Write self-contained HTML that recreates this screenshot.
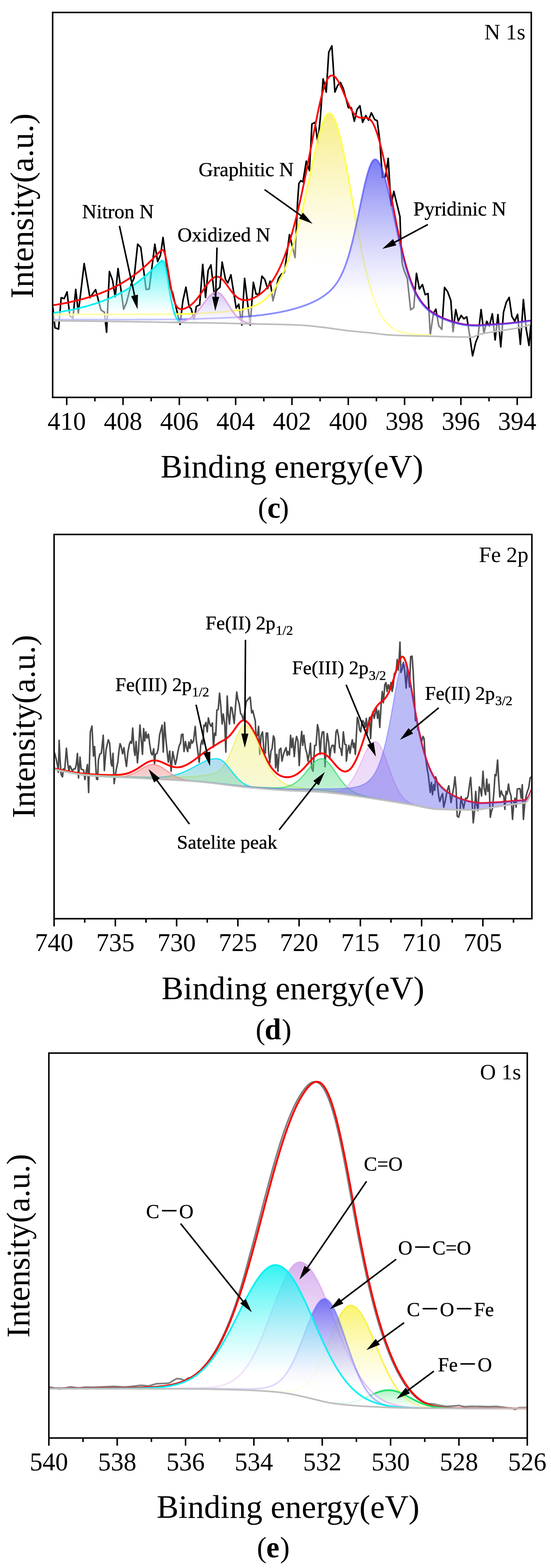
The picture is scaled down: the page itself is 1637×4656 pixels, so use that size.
<!DOCTYPE html><html><head><meta charset="utf-8"><style>html,body{margin:0;padding:0;background:#fff;}svg{display:block;}</style></head><body><svg width="1637" height="4656" viewBox="0 0 1637 4656" font-family="'Liberation Serif', 'Noto Sans CJK SC', serif">
<rect width="1637" height="4656" fill="#fff"/>
<clipPath id="clipc"><rect x="156.4" y="37" width="1422.0" height="1143"/></clipPath>
<g clip-path="url(#clipc)">
<path d="M157.3,913.3 L163.3,973.3 L174.0,977.3 L181.7,884.0 L190.7,886.7 L199.3,866.7 L207.3,937.3 L216.7,945.0 L225.0,859.3 L232.7,929.3 L250.0,782.7 L267.3,884.0 L284.0,860.0 L300.0,920.7 L310.0,926.7 L316.7,986.7 L325.0,806.0 L334.3,831.7 L342.3,881.7 L350.7,797.3 L367.3,918.3 L376.0,898.0 L390.0,843.0 L398.3,826.0 L409.0,725.0 L418.3,735.0 L434.0,859.3 L443.3,858.3 L460.0,725.0 L468.3,776.7 L476.7,758.3 L484.3,705.0 L493.0,775.0 L505.0,850.0 L513.0,870.0 L520.0,900.0 L535.0,963.3 L543.3,893.3 L552.3,852.7 L561.7,910.0 L568.0,917.0 L576.7,950.0 L583.3,910.0 L593.3,905.0 L602.3,785.0 L610.7,883.3 L618.3,803.3 L626.7,786.7 L636.7,875.0 L645.0,860.0 L653.3,853.3 L660.0,778.3 L670.0,830.0 L677.0,840.0 L686.0,816.0 L701.7,915.0 L709.3,903.3 L718.3,965.0 L726.7,826.7 L743.3,965.0 L752.7,838.3 L760.7,873.3 L770.0,873.3 L778.3,820.0 L786.7,830.0 L795.0,856.7 L802.7,835.0 L811.0,893.3 L827.3,826.7 L836.7,813.3 L845.0,810.0 L860.0,696.7 L876.7,765.0 L884.0,600.0 L888.0,545.0 L893.3,536.7 L900.0,540.0 L910.0,478.3 L919.3,506.7 L926.7,368.3 L936.0,363.3 L944.0,423.3 L951.7,350.0 L960.0,234.0 L969.3,273.3 L976.7,155.0 L986.0,136.0 L995.0,273.3 L1003.3,253.3 L1011.7,245.0 L1020.0,263.3 L1035.0,320.0 L1044.0,320.0 L1052.7,360.0 L1060.7,325.0 L1069.3,314.0 L1077.3,363.3 L1086.7,343.3 L1095.0,356.7 L1103.3,335.0 L1113.3,355.0 L1120.7,358.3 L1128.3,416.7 L1136.0,526.7 L1145.0,525.0 L1153.3,470.0 L1161.7,610.0 L1170.0,568.3 L1188.3,643.3 L1191.7,740.0 L1195.0,783.3 L1201.7,806.7 L1210.0,826.7 L1220.0,920.0 L1229.3,913.3 L1237.3,811.7 L1246.0,858.3 L1255.0,845.0 L1263.3,875.0 L1271.7,871.7 L1278.3,995.0 L1287.7,930.0 L1295.0,918.3 L1303.3,966.7 L1312.7,978.3 L1320.7,853.3 L1330.0,866.7 L1339.3,891.7 L1346.0,985.0 L1354.0,919.3 L1361.7,953.3 L1370.0,936.7 L1378.3,946.7 L1386.7,940.7 L1396.0,1000.0 L1404.0,1056.7 L1413.3,1016.7 L1420.0,1000.0 L1429.3,919.3 L1437.7,990.0 L1446.0,954.0 L1454.0,968.3 L1462.7,931.7 L1471.0,1009.3 L1479.3,934.0 L1487.7,1030.0 L1496.0,926.7 L1504.0,898.3 L1512.7,883.3 L1520.7,939.3 L1529.3,954.0 L1537.7,933.3 L1546.0,1022.7 L1555.0,889.3 L1563.3,976.7 L1571.7,1026.0 L1578.0,953.3" stroke="#000" stroke-width="4.7" fill="none" stroke-linejoin="round"/>
<defs><linearGradient id="gc0" gradientUnits="userSpaceOnUse" x1="0" y1="336.5" x2="0" y2="974.4"><stop offset="0" stop-color="#f4e860" stop-opacity="0.75"/><stop offset="0.7" stop-color="#ffffff" stop-opacity="0.5"/><stop offset="1" stop-color="#ffffff" stop-opacity="0.5"/></linearGradient><linearGradient id="gc1" gradientUnits="userSpaceOnUse" x1="0" y1="473.2" x2="0" y2="990.2"><stop offset="0" stop-color="#5050f0" stop-opacity="0.75"/><stop offset="0.8" stop-color="#ffffff" stop-opacity="0.5"/><stop offset="1" stop-color="#ffffff" stop-opacity="0.5"/></linearGradient><linearGradient id="gc2" gradientUnits="userSpaceOnUse" x1="0" y1="773.9" x2="0" y2="956.9"><stop offset="0" stop-color="#00f0f0" stop-opacity="0.75"/><stop offset="0.85" stop-color="#ffffff" stop-opacity="0.5"/><stop offset="1" stop-color="#ffffff" stop-opacity="0.5"/></linearGradient><linearGradient id="gc3" gradientUnits="userSpaceOnUse" x1="0" y1="868.0" x2="0" y2="959.4"><stop offset="0" stop-color="#b8a0f0" stop-opacity="0.6"/><stop offset="1.0" stop-color="#ffffff" stop-opacity="0.5"/><stop offset="1" stop-color="#ffffff" stop-opacity="0.5"/></linearGradient></defs>
<defs><linearGradient id="egc" gradientUnits="userSpaceOnUse" x1="1195" y1="0" x2="1250" y2="0"><stop offset="0" stop-color="#ff0000"/><stop offset="1" stop-color="#a0109a"/></linearGradient></defs>
<path d="M157.4,906.4 L159.4,906.1 L161.4,905.8 L163.4,905.5 L165.4,905.1 L167.4,904.8 L169.4,904.5 L171.4,904.1 L173.4,903.8 L175.4,903.4 L177.4,903.1 L179.4,902.7 L181.4,902.3 L183.4,902.0 L185.4,901.6 L187.4,901.2 L189.4,900.9 L191.4,900.5 L193.4,900.1 L195.4,899.7 L197.4,899.3 L199.4,898.9 L201.4,898.5 L203.4,898.0 L205.4,897.6 L207.4,897.2 L209.4,896.8 L211.4,896.3 L213.4,895.9 L215.4,895.4 L217.4,895.0 L219.4,894.5 L221.4,894.1 L223.4,893.6 L225.4,893.1 L227.4,892.6 L229.4,892.1 L231.4,891.6 L233.4,891.1 L235.4,890.6 L237.4,890.1 L239.4,889.6 L241.4,889.1 L243.4,888.5 L245.4,888.0 L247.4,887.4 L249.4,886.9 L251.4,886.3 L253.4,885.8 L255.4,885.2 L257.4,884.6 L259.4,884.0 L261.4,883.4 L263.4,882.8 L265.4,882.2 L267.4,881.5 L269.4,880.9 L271.4,880.3 L273.4,879.6 L275.4,879.0 L277.4,878.3 L279.4,877.6 L281.4,876.9 L283.4,876.3 L285.4,875.6 L287.4,874.8 L289.4,874.1 L291.4,873.4 L293.4,872.7 L295.4,871.9 L297.4,871.1 L299.4,870.4 L301.4,869.6 L303.4,868.8 L305.4,868.0 L307.4,867.2 L309.4,866.4 L311.4,865.6 L313.4,864.7 L315.4,863.9 L317.4,863.0 L319.4,862.1 L321.4,861.3 L323.4,860.4 L325.4,859.5 L327.4,858.5 L329.4,857.6 L331.4,856.7 L333.4,855.7 L335.4,854.7 L337.4,853.8 L339.4,852.8 L341.4,851.8 L343.4,850.7 L345.4,849.7 L347.4,848.7 L349.4,847.6 L351.4,846.5 L353.4,845.5 L355.4,844.4 L357.4,843.2 L359.4,842.1 L361.4,841.0 L363.4,839.8 L365.4,838.6 L367.4,837.5 L369.4,836.3 L371.4,835.0 L373.4,833.8 L375.4,832.6 L377.4,831.3 L379.4,830.0 L381.4,828.7 L383.4,827.4 L385.4,826.1 L387.4,824.7 L389.4,823.3 L391.4,822.0 L393.4,820.6 L395.4,819.1 L397.4,817.7 L399.4,816.2 L401.4,814.8 L403.4,813.3 L405.4,811.8 L407.4,810.2 L409.4,808.7 L411.4,807.1 L413.4,805.5 L415.4,803.9 L417.4,802.3 L419.4,800.6 L421.4,798.9 L423.4,797.2 L425.4,795.5 L427.4,793.8 L429.4,792.0 L431.4,790.3 L433.4,788.4 L435.4,786.6 L437.4,784.8 L439.4,782.9 L441.4,781.0 L443.4,779.1 L445.4,777.2 L447.4,775.2 L449.4,773.2 L451.4,771.2 L453.4,769.2 L455.4,767.2 L457.4,765.1 L459.4,763.0 L461.4,760.9 L463.4,758.8 L465.4,756.7 L467.4,754.6 L469.4,752.5 L471.4,750.4 L473.4,748.3 L475.4,746.4 L477.4,744.6 L479.4,743.1 L481.4,742.1 L483.4,741.9 L485.4,743.4 L487.4,747.0 L489.4,752.8 L491.4,760.4 L493.4,769.5 L495.4,780.0 L497.4,791.3 L499.4,803.3 L501.4,815.5 L503.4,827.6 L505.4,839.4 L507.4,850.6 L509.4,861.1 L511.4,870.7 L513.4,879.3 L515.4,886.8 L517.4,893.4 L519.4,899.0 L521.4,903.6 L523.4,907.5 L525.4,910.5 L527.4,912.9 L529.4,914.7 L531.4,916.1 L533.4,917.0 L535.4,917.6 L537.4,917.9 L539.4,917.9 L541.4,917.8 L543.4,917.5 L545.4,917.0 L547.4,916.5 L549.4,915.8 L551.4,915.0 L553.4,914.1 L555.4,913.2 L557.4,912.1 L559.4,911.0 L561.4,909.8 L563.4,908.4 L565.4,907.0 L567.4,905.5 L569.4,903.9 L571.4,902.1 L573.4,900.3 L575.4,898.4 L577.4,896.3 L579.4,894.2 L581.4,891.9 L583.4,889.6 L585.4,887.2 L587.4,884.6 L589.4,882.0 L591.4,879.3 L593.4,876.6 L595.4,873.7 L597.4,870.9 L599.4,868.0 L601.4,865.0 L603.4,862.0 L605.4,859.1 L607.4,856.1 L609.4,853.2 L611.4,850.3 L613.4,847.5 L615.4,844.7 L617.4,842.1 L619.4,839.5 L621.4,837.1 L623.4,834.8 L625.4,832.6 L627.4,830.6 L629.4,828.8 L631.4,827.1 L633.4,825.7 L635.4,824.5 L637.4,823.4 L639.4,822.6 L641.4,822.0 L643.4,821.7 L645.4,821.6 L647.4,821.8 L649.4,822.2 L651.4,823.0 L653.4,824.0 L655.4,825.3 L657.4,826.8 L659.4,828.6 L661.4,830.6 L663.4,832.7 L665.4,835.0 L667.4,837.5 L669.4,840.1 L671.4,842.7 L673.4,845.5 L675.4,848.3 L677.4,851.1 L679.4,853.9 L681.4,856.7 L683.4,859.5 L685.4,862.2 L687.4,864.9 L689.4,867.4 L691.4,869.9 L693.4,872.2 L695.4,874.4 L697.4,876.5 L699.4,878.5 L701.4,880.3 L703.4,882.0 L705.4,883.5 L707.4,884.9 L709.4,886.1 L711.4,887.2 L713.4,888.2 L715.4,889.0 L717.4,889.7 L719.4,890.2 L721.4,890.6 L723.4,891.0 L725.4,891.2 L727.4,891.3 L729.4,891.2 L731.4,891.1 L733.4,891.0 L735.4,890.7 L737.4,890.3 L739.4,889.9 L741.4,889.4 L743.4,888.8 L745.4,888.1 L747.4,887.4 L749.4,886.6 L751.4,885.8 L753.4,884.9 L755.4,884.0 L757.4,883.0 L759.4,881.9 L761.4,880.8 L763.4,879.6 L765.4,878.4 L767.4,877.1 L769.4,875.7 L771.4,874.3 L773.4,872.9 L775.4,871.3 L777.4,869.7 L779.4,868.1 L781.4,866.4 L783.4,864.6 L785.4,862.7 L787.4,860.8 L789.4,858.8 L791.4,856.7 L793.4,854.5 L795.4,852.3 L797.4,849.9 L799.4,847.5 L801.4,845.0 L803.4,842.4 L805.4,839.6 L807.4,836.8 L809.4,833.9 L811.4,830.9 L813.4,827.8 L815.4,824.5 L817.4,821.2 L819.4,817.7 L821.4,814.1 L823.4,810.4 L825.4,806.6 L827.4,802.6 L829.4,798.6 L831.4,794.3 L833.4,790.0 L835.4,785.5 L837.4,780.8 L839.4,776.1 L841.4,771.1 L843.4,766.1 L845.4,760.9 L847.4,755.5 L849.4,750.0 L851.4,744.3 L853.4,738.5 L855.4,732.5 L857.4,726.4 L859.4,720.1 L861.4,713.6 L863.4,707.0 L865.4,700.2 L867.4,693.3 L869.4,686.2 L871.4,678.9 L873.4,671.5 L875.4,663.9 L877.4,656.2 L879.4,648.3 L881.4,640.2 L883.4,632.0 L885.4,623.6 L887.4,615.1 L889.4,606.4 L891.4,597.6 L893.4,588.7 L895.4,579.6 L897.4,570.3 L899.4,561.0 L901.4,551.5 L903.4,541.9 L905.4,532.1 L907.4,522.3 L909.4,512.3 L911.4,502.3 L913.4,492.2 L915.4,482.0 L917.4,471.7 L919.4,461.4 L921.4,451.0 L923.4,440.6 L925.4,430.1 L927.4,419.7 L929.4,409.3 L931.4,398.9 L933.4,388.6 L935.4,378.4 L937.4,368.2 L939.4,358.2 L941.4,348.3 L943.4,338.6 L945.4,329.1 L947.4,319.9 L949.4,310.9 L951.4,302.1 L953.4,293.8 L955.4,285.7 L957.4,278.1 L959.4,270.9 L961.4,264.1 L963.4,257.8 L965.4,252.0 L967.4,246.7 L969.4,242.0 L971.4,237.8 L973.4,234.2 L975.4,231.1 L977.4,228.7 L979.4,226.8 L981.4,225.4 L983.4,224.5 L985.4,224.1 L987.4,224.1 L989.4,224.6 L991.4,225.5 L993.4,226.8 L995.4,228.5 L997.4,230.6 L999.4,233.0 L1001.4,235.8 L1003.4,238.9 L1005.4,242.3 L1007.4,246.0 L1009.4,249.9 L1011.4,254.0 L1013.4,258.3 L1015.4,262.7 L1017.4,267.3 L1019.4,272.0 L1021.4,276.7 L1023.4,281.5 L1025.4,286.3 L1027.4,291.0 L1029.4,295.7 L1031.4,300.3 L1033.4,304.8 L1035.4,309.2 L1037.4,313.4 L1039.4,317.5 L1041.4,321.3 L1043.4,324.9 L1045.4,328.3 L1047.4,331.5 L1049.4,334.4 L1051.4,337.0 L1053.4,339.4 L1055.4,341.5 L1057.4,343.3 L1059.4,344.9 L1061.4,346.2 L1063.4,347.3 L1065.4,348.1 L1067.4,348.8 L1069.4,349.2 L1071.4,349.5 L1073.4,349.7 L1075.4,349.8 L1077.4,349.7 L1079.4,349.7 L1081.4,349.6 L1083.4,349.6 L1085.4,349.6 L1087.4,349.8 L1089.4,350.1 L1091.4,350.5 L1093.4,351.2 L1095.4,352.2 L1097.4,353.4 L1099.4,354.9 L1101.4,356.9 L1103.4,359.1 L1105.4,361.9 L1107.4,365.0 L1109.4,368.6 L1111.4,372.7 L1113.4,377.2 L1115.4,382.2 L1117.4,387.7 L1119.4,393.4 L1121.4,399.5 L1123.4,406.0 L1125.4,412.7 L1127.4,419.8 L1129.4,427.2 L1131.4,434.9 L1133.4,443.0 L1135.4,451.3 L1137.4,459.9 L1139.4,468.8 L1141.4,477.9 L1143.4,487.2 L1145.4,496.8 L1147.4,506.5 L1149.4,516.4 L1151.4,526.5 L1153.4,536.7 L1155.4,547.0 L1157.4,557.4 L1159.4,567.9 L1161.4,578.5 L1163.4,589.0 L1165.4,599.6 L1167.4,610.1 L1169.4,620.6 L1171.4,631.1 L1173.4,641.4 L1175.4,651.7 L1177.4,661.9 L1179.4,671.9 L1181.4,681.8 L1183.4,691.6 L1185.4,701.2 L1187.4,710.5 L1189.4,719.7 L1191.4,728.7 L1193.4,737.5 L1195.4,746.1 L1197.4,754.5 L1199.4,762.6 L1201.4,770.4 L1203.4,778.1 L1205.4,785.5 L1207.4,792.7 L1209.4,799.6 L1211.4,806.3 L1213.4,812.7 L1215.4,818.9 L1217.4,824.9 L1219.4,830.6 L1221.4,836.1 L1223.4,841.4 L1225.4,846.5 L1227.4,851.3 L1229.4,856.0 L1231.4,860.4 L1233.4,864.6 L1235.4,868.7 L1237.4,872.6 L1239.4,876.3 L1241.4,879.8 L1243.4,883.2 L1245.4,886.4 L1247.4,889.5 L1249.4,892.5 L1251.4,895.3 L1253.4,897.9 L1255.4,900.5 L1257.4,902.9 L1259.4,905.3 L1261.4,907.5 L1263.4,909.6 L1265.4,911.6 L1267.4,913.6 L1269.4,915.5 L1271.4,917.3 L1273.4,919.0 L1275.4,920.6 L1277.4,922.2 L1279.4,923.7 L1281.4,925.2 L1283.4,926.6 L1285.4,928.0 L1287.4,929.3 L1289.4,930.6 L1291.4,931.8 L1293.4,933.0 L1295.4,934.1 L1297.4,935.3 L1299.4,936.4 L1301.4,937.4 L1303.4,938.4 L1305.4,939.4 L1307.4,940.4 L1309.4,941.4 L1311.4,942.3 L1313.4,943.2 L1315.4,944.1 L1317.4,944.9 L1319.4,945.8 L1321.4,946.6 L1323.4,947.4 L1325.4,948.2 L1327.4,948.9 L1329.4,949.7 L1331.4,950.4 L1333.4,951.1 L1335.4,951.8 L1337.4,952.5 L1339.4,953.2 L1341.4,953.8 L1343.4,954.5 L1345.4,955.1 L1347.4,955.7 L1349.4,956.3 L1351.4,956.9 L1353.4,957.5 L1355.4,958.0 L1357.4,958.5 L1359.4,959.1 L1361.4,959.6 L1363.4,960.0 L1365.4,960.5 L1367.4,961.0 L1369.4,961.4 L1371.4,961.8 L1373.4,962.2 L1375.4,962.6 L1377.4,962.9 L1379.4,963.3 L1381.4,963.6 L1383.4,963.9 L1385.4,964.2 L1387.4,964.4 L1389.4,964.7 L1391.4,964.9 L1393.4,965.1 L1395.4,965.2 L1397.4,965.4 L1399.4,965.5 L1401.4,965.6 L1403.4,965.7 L1405.4,965.8 L1407.4,965.8 L1409.4,965.9 L1411.4,965.9 L1413.4,965.9 L1415.4,965.9 L1417.4,965.9 L1419.4,965.8 L1421.4,965.8 L1423.4,965.7 L1425.4,965.6 L1427.4,965.5 L1429.4,965.5 L1431.4,965.4 L1433.4,965.2 L1435.4,965.1 L1437.4,965.0 L1439.4,964.9 L1441.4,964.8 L1443.4,964.7 L1445.4,964.5 L1447.4,964.4 L1449.4,964.3 L1451.4,964.2 L1453.4,964.0 L1455.4,963.9 L1457.4,963.8 L1459.4,963.6 L1461.4,963.5 L1463.4,963.4 L1465.4,963.3 L1467.4,963.1 L1469.4,963.0 L1471.4,962.9 L1473.4,962.7 L1475.4,962.6 L1477.4,962.5 L1479.4,962.4 L1481.4,962.2 L1483.4,962.1 L1485.4,962.0 L1487.4,961.8 L1489.4,961.7 L1491.4,961.5 L1493.4,961.4 L1495.4,961.2 L1497.4,961.1 L1499.4,960.9 L1501.4,960.8 L1503.4,960.6 L1505.4,960.5 L1507.4,960.3 L1509.4,960.1 L1511.4,959.9 L1513.4,959.7 L1515.4,959.5 L1517.4,959.3 L1519.4,959.1 L1521.4,958.9 L1523.4,958.7 L1525.4,958.5 L1527.4,958.3 L1529.4,958.0 L1531.4,957.8 L1533.4,957.6 L1535.4,957.3 L1537.4,957.1 L1539.4,956.8 L1541.4,956.5 L1543.4,956.3 L1545.4,956.0 L1547.4,955.7 L1549.4,955.5 L1551.4,955.2 L1553.4,954.9 L1555.4,954.6 L1557.4,954.4 L1559.4,954.1 L1561.4,953.8 L1563.4,953.6 L1565.4,953.3 L1567.4,953.1 L1569.4,952.8 L1571.4,952.6 L1573.4,952.4 L1575.4,952.1 L1577.4,951.9" stroke="url(#egc)" stroke-width="5.2" fill="none" stroke-linejoin="round"/>
<path d="M157.4,933.4 L159.4,933.4 L161.4,933.4 L163.4,933.4 L165.4,933.4 L167.4,933.4 L169.4,933.4 L171.4,933.4 L173.4,933.4 L175.4,933.4 L177.4,933.4 L179.4,933.4 L181.4,933.4 L183.4,933.4 L185.4,933.4 L187.4,933.4 L189.4,933.4 L191.4,933.4 L193.4,933.4 L195.4,933.4 L197.4,933.4 L199.4,933.4 L201.4,933.4 L203.4,933.4 L205.4,933.4 L207.4,933.4 L209.4,933.4 L211.4,933.4 L213.4,933.4 L215.4,933.4 L217.4,933.4 L219.4,933.4 L221.4,933.4 L223.4,933.4 L225.4,933.4 L227.4,933.5 L229.4,933.5 L231.4,933.5 L233.4,933.5 L235.4,933.5 L237.4,933.5 L239.4,933.5 L241.4,933.5 L243.4,933.5 L245.4,933.5 L247.4,933.5 L249.4,933.5 L251.4,933.5 L253.4,933.5 L255.4,933.5 L257.4,933.5 L259.4,933.5 L261.4,933.5 L263.4,933.5 L265.4,933.5 L267.4,933.5 L269.4,933.5 L271.4,933.5 L273.4,933.5 L275.4,933.5 L277.4,933.5 L279.4,933.5 L281.4,933.6 L283.4,933.6 L285.4,933.6 L287.4,933.6 L289.4,933.6 L291.4,933.6 L293.4,933.6 L295.4,933.6 L297.4,933.6 L299.4,933.6 L301.4,933.6 L303.4,933.6 L305.4,933.6 L307.4,933.6 L309.4,933.6 L311.4,933.6 L313.4,933.6 L315.4,933.6 L317.4,933.6 L319.4,933.6 L321.4,933.6 L323.4,933.6 L325.4,933.6 L327.4,933.6 L329.4,933.6 L331.4,933.6 L333.4,933.6 L335.4,933.6 L337.4,933.6 L339.4,933.6 L341.4,933.6 L343.4,933.6 L345.4,933.6 L347.4,933.6 L349.4,933.6 L351.4,933.6 L353.4,933.6 L355.4,933.6 L357.4,933.6 L359.4,933.6 L361.4,933.6 L363.4,933.6 L365.4,933.6 L367.4,933.6 L369.4,933.6 L371.4,933.6 L373.4,933.6 L375.4,933.6 L377.4,933.6 L379.4,933.6 L381.4,933.6 L383.4,933.6 L385.4,933.5 L387.4,933.5 L389.4,933.5 L391.4,933.5 L393.4,933.5 L395.4,933.5 L397.4,933.5 L399.4,933.5 L401.4,933.5 L403.4,933.5 L405.4,933.5 L407.4,933.5 L409.4,933.5 L411.4,933.5 L413.4,933.5 L415.4,933.5 L417.4,933.5 L419.4,933.5 L421.4,933.5 L423.4,933.4 L425.4,933.4 L427.4,933.4 L429.4,933.4 L431.4,933.4 L433.4,933.4 L435.4,933.4 L437.4,933.4 L439.4,933.4 L441.4,933.4 L443.4,933.4 L445.4,933.4 L447.4,933.4 L449.4,933.3 L451.4,933.3 L453.4,933.3 L455.4,933.3 L457.4,933.3 L459.4,933.3 L461.4,933.3 L463.4,933.3 L465.4,933.3 L467.4,933.2 L469.4,933.2 L471.4,933.2 L473.4,933.2 L475.4,933.2 L477.4,933.2 L479.4,933.2 L481.4,933.2 L483.4,933.1 L485.4,933.1 L487.4,933.1 L489.4,933.1 L491.4,933.1 L493.4,933.0 L495.4,933.0 L497.4,933.0 L499.4,933.0 L501.4,933.0 L503.4,932.9 L505.4,932.9 L507.4,932.9 L509.4,932.9 L511.4,932.8 L513.4,932.8 L515.4,932.8 L517.4,932.7 L519.4,932.7 L521.4,932.7 L523.4,932.6 L525.4,932.6 L527.4,932.6 L529.4,932.5 L531.4,932.5 L533.4,932.4 L535.4,932.4 L537.4,932.3 L539.4,932.3 L541.4,932.2 L543.4,932.2 L545.4,932.1 L547.4,932.1 L549.4,932.0 L551.4,932.0 L553.4,931.9 L555.4,931.8 L557.4,931.8 L559.4,931.7 L561.4,931.7 L563.4,931.6 L565.4,931.5 L567.4,931.5 L569.4,931.4 L571.4,931.3 L573.4,931.2 L575.4,931.2 L577.4,931.1 L579.4,931.0 L581.4,930.9 L583.4,930.8 L585.4,930.7 L587.4,930.7 L589.4,930.6 L591.4,930.5 L593.4,930.4 L595.4,930.3 L597.4,930.2 L599.4,930.1 L601.4,930.0 L603.4,929.9 L605.4,929.8 L607.4,929.7 L609.4,929.6 L611.4,929.5 L613.4,929.4 L615.4,929.3 L617.4,929.2 L619.4,929.1 L621.4,929.0 L623.4,928.8 L625.4,928.7 L627.4,928.6 L629.4,928.5 L631.4,928.4 L633.4,928.2 L635.4,928.1 L637.4,928.0 L639.4,927.8 L641.4,927.7 L643.4,927.6 L645.4,927.4 L647.4,927.3 L649.4,927.2 L651.4,927.0 L653.4,926.9 L655.4,926.7 L657.4,926.6 L659.4,926.4 L661.4,926.2 L663.4,926.1 L665.4,925.9 L667.4,925.7 L669.4,925.6 L671.4,925.4 L673.4,925.2 L675.4,925.0 L677.4,924.8 L679.4,924.6 L681.4,924.4 L683.4,924.2 L685.4,924.0 L687.4,923.8 L689.4,923.5 L691.4,923.3 L693.4,923.1 L695.4,922.8 L697.4,922.5 L699.4,922.3 L701.4,922.0 L703.4,921.7 L705.4,921.4 L707.4,921.1 L709.4,920.8 L711.4,920.5 L713.4,920.1 L715.4,919.8 L717.4,919.4 L719.4,919.0 L721.4,918.6 L723.4,918.2 L725.4,917.8 L727.4,917.3 L729.4,916.8 L731.4,916.3 L733.4,915.8 L735.4,915.3 L737.4,914.7 L739.4,914.2 L741.4,913.6 L743.4,912.9 L745.4,912.3 L747.4,911.6 L749.4,910.9 L751.4,910.1 L753.4,909.3 L755.4,908.5 L757.4,907.6 L759.4,906.7 L761.4,905.8 L763.4,904.8 L765.4,903.8 L767.4,902.8 L769.4,901.6 L771.4,900.5 L773.4,899.3 L775.4,898.0 L777.4,896.7 L779.4,895.3 L781.4,893.9 L783.4,892.4 L785.4,890.8 L787.4,889.2 L789.4,887.4 L791.4,885.7 L793.4,883.8 L795.4,881.9 L797.4,879.9 L799.4,877.8 L801.4,875.6 L803.4,873.3 L805.4,871.0 L807.4,868.5 L809.4,866.0 L811.4,863.3 L813.4,860.6 L815.4,857.7 L817.4,854.8 L819.4,851.7 L821.4,848.5 L823.4,845.2 L825.4,841.8 L827.4,838.3 L829.4,834.6 L831.4,830.8 L833.4,826.9 L835.4,822.9 L837.4,818.7 L839.4,814.4 L841.4,810.0 L843.4,805.4 L845.4,800.7 L847.4,795.8 L849.4,790.8 L851.4,785.6 L853.4,780.3 L855.4,774.9 L857.4,769.3 L859.4,763.6 L861.4,757.7 L863.4,751.7 L865.4,745.5 L867.4,739.1 L869.4,732.6 L871.4,726.0 L873.4,719.2 L875.4,712.3 L877.4,705.2 L879.4,698.0 L881.4,690.6 L883.4,683.1 L885.4,675.5 L887.4,667.7 L889.4,659.8 L891.4,651.7 L893.4,643.5 L895.4,635.2 L897.4,626.8 L899.4,618.2 L901.4,609.6 L903.4,600.8 L905.4,591.9 L907.4,583.0 L909.4,573.9 L911.4,564.8 L913.4,555.6 L915.4,546.4 L917.4,537.1 L919.4,527.8 L921.4,518.4 L923.4,509.0 L925.4,499.7 L927.4,490.3 L929.4,481.0 L931.4,471.8 L933.4,462.6 L935.4,453.6 L937.4,444.6 L939.4,435.8 L941.4,427.2 L943.4,418.8 L945.4,410.6 L947.4,402.7 L949.4,395.1 L951.4,387.8 L953.4,380.9 L955.4,374.3 L957.4,368.2 L959.4,362.6 L961.4,357.4 L963.4,352.7 L965.4,348.6 L967.4,345.1 L969.4,342.1 L971.4,339.8 L973.4,338.0 L975.4,337.0 L977.4,336.5 L979.4,336.7 L981.4,337.5 L983.4,338.8 L985.4,340.7 L987.4,343.1 L989.4,346.1 L991.4,349.6 L993.4,353.6 L995.4,358.1 L997.4,363.1 L999.4,368.6 L1001.4,374.5 L1003.4,381.0 L1005.4,387.8 L1007.4,395.1 L1009.4,402.8 L1011.4,410.9 L1013.4,419.3 L1015.4,428.1 L1017.4,437.3 L1019.4,446.7 L1021.4,456.4 L1023.4,466.4 L1025.4,476.6 L1027.4,487.0 L1029.4,497.7 L1031.4,508.5 L1033.4,519.5 L1035.4,530.6 L1037.4,541.8 L1039.4,553.1 L1041.4,564.4 L1043.4,575.8 L1045.4,587.3 L1047.4,598.7 L1049.4,610.1 L1051.4,621.5 L1053.4,632.9 L1055.4,644.1 L1057.4,655.3 L1059.4,666.4 L1061.4,677.4 L1063.4,688.3 L1065.4,699.0 L1067.4,709.5 L1069.4,719.9 L1071.4,730.1 L1073.4,740.2 L1075.4,750.0 L1077.4,759.7 L1079.4,769.1 L1081.4,778.3 L1083.4,787.3 L1085.4,796.0 L1087.4,804.6 L1089.4,812.9 L1091.4,820.9 L1093.4,828.8 L1095.4,836.4 L1097.4,843.7 L1099.4,850.8 L1101.4,857.7 L1103.4,864.3 L1105.4,870.7 L1107.4,876.9 L1109.4,882.8 L1111.4,888.5 L1113.4,894.0 L1115.4,899.2 L1117.4,904.3 L1119.4,909.1 L1121.4,913.7 L1123.4,918.1 L1125.4,922.4 L1127.4,926.4 L1129.4,930.2 L1131.4,933.9 L1133.4,937.4 L1135.4,940.7 L1137.4,943.8 L1139.4,946.8 L1141.4,949.6 L1143.4,952.3 L1145.4,954.8 L1147.4,957.3 L1149.4,959.5 L1151.4,961.7 L1153.4,963.7 L1155.4,965.6 L1157.4,967.4 L1159.4,969.1 L1161.4,970.7 L1163.4,972.2 L1165.4,973.6 L1167.4,974.9 L1169.4,976.2 L1171.4,977.4 L1173.4,978.5 L1175.4,979.5 L1177.4,980.5 L1179.4,981.4 L1181.4,982.2 L1183.4,983.0 L1185.4,983.7 L1187.4,984.4 L1189.4,985.1 L1191.4,985.7 L1193.4,986.3 L1195.4,986.8 L1197.4,987.3 L1199.4,987.8 L1201.4,988.2 L1203.4,988.6 L1205.4,989.0 L1207.4,989.3 L1209.4,989.7 L1211.4,990.0 L1213.4,990.3 L1215.4,990.6 L1217.4,990.9 L1219.4,991.1 L1221.4,991.3 L1223.4,991.6 L1225.4,991.8 L1227.4,992.0 L1229.4,992.2 L1231.4,992.4 L1233.4,992.5 L1235.4,992.7 L1237.4,992.9 L1239.4,993.0 L1241.4,993.2 L1243.4,993.3 L1245.4,993.4 L1247.4,993.6 L1249.4,993.7 L1251.4,993.8 L1253.4,993.9 L1255.4,994.1 L1257.4,994.2 L1259.4,994.3 L1261.4,994.4 L1263.4,994.5 L1265.4,994.6 L1267.4,994.7 L1269.4,994.8 L1271.4,994.9 L1273.4,995.0 L1275.4,995.1 L1277.4,995.2 L1279.4,995.3 L1281.4,995.4 L1281.4,998.5 L1279.4,998.5 L1277.4,998.4 L1275.4,998.4 L1273.4,998.3 L1271.4,998.3 L1269.4,998.2 L1267.4,998.2 L1265.4,998.1 L1263.4,998.1 L1261.4,998.0 L1259.4,998.0 L1257.4,997.9 L1255.4,997.9 L1253.4,997.8 L1251.4,997.8 L1249.4,997.7 L1247.4,997.7 L1245.4,997.6 L1243.4,997.6 L1241.4,997.5 L1239.4,997.5 L1237.4,997.4 L1235.4,997.4 L1233.4,997.3 L1231.4,997.3 L1229.4,997.2 L1227.4,997.2 L1225.4,997.1 L1223.4,997.1 L1221.4,997.0 L1219.4,996.9 L1217.4,996.9 L1215.4,996.8 L1213.4,996.8 L1211.4,996.7 L1209.4,996.6 L1207.4,996.6 L1205.4,996.5 L1203.4,996.4 L1201.4,996.4 L1199.4,996.3 L1197.4,996.2 L1195.4,996.1 L1193.4,996.0 L1191.4,996.0 L1189.4,995.9 L1187.4,995.8 L1185.4,995.7 L1183.4,995.6 L1181.4,995.5 L1179.4,995.4 L1177.4,995.3 L1175.4,995.2 L1173.4,995.1 L1171.4,995.0 L1169.4,994.8 L1167.4,994.7 L1165.4,994.6 L1163.4,994.5 L1161.4,994.3 L1159.4,994.2 L1157.4,994.0 L1155.4,993.9 L1153.4,993.7 L1151.4,993.6 L1149.4,993.4 L1147.4,993.3 L1145.4,993.1 L1143.4,992.9 L1141.4,992.7 L1139.4,992.6 L1137.4,992.4 L1135.4,992.2 L1133.4,992.0 L1131.4,991.8 L1129.4,991.6 L1127.4,991.4 L1125.4,991.2 L1123.4,991.0 L1121.4,990.8 L1119.4,990.6 L1117.4,990.4 L1115.4,990.2 L1113.4,990.0 L1111.4,989.8 L1109.4,989.6 L1107.4,989.4 L1105.4,989.2 L1103.4,989.0 L1101.4,988.7 L1099.4,988.5 L1097.4,988.3 L1095.4,988.1 L1093.4,987.9 L1091.4,987.7 L1089.4,987.5 L1087.4,987.3 L1085.4,987.1 L1083.4,986.9 L1081.4,986.7 L1079.4,986.5 L1077.4,986.3 L1075.4,986.0 L1073.4,985.8 L1071.4,985.6 L1069.4,985.4 L1067.4,985.2 L1065.4,985.0 L1063.4,984.8 L1061.4,984.6 L1059.4,984.4 L1057.4,984.2 L1055.4,984.0 L1053.4,983.7 L1051.4,983.5 L1049.4,983.3 L1047.4,983.1 L1045.4,982.9 L1043.4,982.6 L1041.4,982.4 L1039.4,982.2 L1037.4,982.0 L1035.4,981.7 L1033.4,981.5 L1031.4,981.3 L1029.4,981.0 L1027.4,980.8 L1025.4,980.6 L1023.4,980.3 L1021.4,980.1 L1019.4,979.8 L1017.4,979.6 L1015.4,979.3 L1013.4,979.1 L1011.4,978.8 L1009.4,978.6 L1007.4,978.3 L1005.4,978.1 L1003.4,977.8 L1001.4,977.5 L999.4,977.3 L997.4,977.0 L995.4,976.8 L993.4,976.5 L991.4,976.2 L989.4,976.0 L987.4,975.7 L985.4,975.5 L983.4,975.2 L981.4,974.9 L979.4,974.7 L977.4,974.4 L975.4,974.2 L973.4,973.9 L971.4,973.7 L969.4,973.4 L967.4,973.2 L965.4,972.9 L963.4,972.7 L961.4,972.4 L959.4,972.2 L957.4,972.0 L955.4,971.7 L953.4,971.5 L951.4,971.3 L949.4,971.0 L947.4,970.8 L945.4,970.6 L943.4,970.4 L941.4,970.2 L939.4,969.9 L937.4,969.7 L935.4,969.5 L933.4,969.3 L931.4,969.1 L929.4,968.9 L927.4,968.7 L925.4,968.6 L923.4,968.4 L921.4,968.2 L919.4,968.0 L917.4,967.8 L915.4,967.7 L913.4,967.5 L911.4,967.3 L909.4,967.2 L907.4,967.0 L905.4,966.9 L903.4,966.7 L901.4,966.6 L899.4,966.5 L897.4,966.3 L895.4,966.2 L893.4,966.1 L891.4,965.9 L889.4,965.8 L887.4,965.7 L885.4,965.6 L883.4,965.5 L881.4,965.4 L879.4,965.3 L877.4,965.2 L875.4,965.1 L873.4,965.0 L871.4,964.9 L869.4,964.8 L867.4,964.7 L865.4,964.6 L863.4,964.5 L861.4,964.5 L859.4,964.4 L857.4,964.3 L855.4,964.2 L853.4,964.2 L851.4,964.1 L849.4,964.0 L847.4,964.0 L845.4,963.9 L843.4,963.8 L841.4,963.8 L839.4,963.7 L837.4,963.6 L835.4,963.6 L833.4,963.5 L831.4,963.5 L829.4,963.4 L827.4,963.4 L825.4,963.3 L823.4,963.3 L821.4,963.2 L819.4,963.2 L817.4,963.1 L815.4,963.1 L813.4,963.0 L811.4,963.0 L809.4,962.9 L807.4,962.9 L805.4,962.9 L803.4,962.8 L801.4,962.8 L799.4,962.7 L797.4,962.7 L795.4,962.7 L793.4,962.6 L791.4,962.6 L789.4,962.5 L787.4,962.5 L785.4,962.5 L783.4,962.4 L781.4,962.4 L779.4,962.4 L777.4,962.3 L775.4,962.3 L773.4,962.2 L771.4,962.2 L769.4,962.2 L767.4,962.1 L765.4,962.1 L763.4,962.1 L761.4,962.0 L759.4,962.0 L757.4,961.9 L755.4,961.9 L753.4,961.9 L751.4,961.8 L749.4,961.8 L747.4,961.7 L745.4,961.7 L743.4,961.6 L741.4,961.6 L739.4,961.6 L737.4,961.5 L735.4,961.5 L733.4,961.4 L731.4,961.4 L729.4,961.3 L727.4,961.3 L725.4,961.2 L723.4,961.2 L721.4,961.2 L719.4,961.1 L717.4,961.1 L715.4,961.0 L713.4,961.0 L711.4,960.9 L709.4,960.9 L707.4,960.8 L705.4,960.8 L703.4,960.7 L701.4,960.7 L699.4,960.6 L697.4,960.6 L695.4,960.5 L693.4,960.5 L691.4,960.4 L689.4,960.4 L687.4,960.3 L685.4,960.3 L683.4,960.2 L681.4,960.2 L679.4,960.1 L677.4,960.1 L675.4,960.0 L673.4,960.0 L671.4,959.9 L669.4,959.9 L667.4,959.9 L665.4,959.8 L663.4,959.8 L661.4,959.7 L659.4,959.7 L657.4,959.6 L655.4,959.6 L653.4,959.6 L651.4,959.5 L649.4,959.5 L647.4,959.4 L645.4,959.4 L643.4,959.4 L641.4,959.3 L639.4,959.3 L637.4,959.3 L635.4,959.2 L633.4,959.2 L631.4,959.2 L629.4,959.1 L627.4,959.1 L625.4,959.1 L623.4,959.0 L621.4,959.0 L619.4,959.0 L617.4,958.9 L615.4,958.9 L613.4,958.9 L611.4,958.9 L609.4,958.8 L607.4,958.8 L605.4,958.8 L603.4,958.8 L601.4,958.7 L599.4,958.7 L597.4,958.7 L595.4,958.7 L593.4,958.6 L591.4,958.6 L589.4,958.6 L587.4,958.6 L585.4,958.5 L583.4,958.5 L581.4,958.5 L579.4,958.5 L577.4,958.4 L575.4,958.4 L573.4,958.4 L571.4,958.4 L569.4,958.3 L567.4,958.3 L565.4,958.3 L563.4,958.3 L561.4,958.2 L559.4,958.2 L557.4,958.2 L555.4,958.2 L553.4,958.1 L551.4,958.1 L549.4,958.1 L547.4,958.0 L545.4,958.0 L543.4,958.0 L541.4,957.9 L539.4,957.9 L537.4,957.9 L535.4,957.9 L533.4,957.8 L531.4,957.8 L529.4,957.8 L527.4,957.7 L525.4,957.7 L523.4,957.7 L521.4,957.6 L519.4,957.6 L517.4,957.5 L515.4,957.5 L513.4,957.5 L511.4,957.4 L509.4,957.4 L507.4,957.4 L505.4,957.3 L503.4,957.3 L501.4,957.2 L499.4,957.2 L497.4,957.2 L495.4,957.1 L493.4,957.1 L491.4,957.0 L489.4,957.0 L487.4,957.0 L485.4,956.9 L483.4,956.9 L481.4,956.8 L479.4,956.8 L477.4,956.8 L475.4,956.7 L473.4,956.7 L471.4,956.6 L469.4,956.6 L467.4,956.6 L465.4,956.5 L463.4,956.5 L461.4,956.4 L459.4,956.4 L457.4,956.4 L455.4,956.3 L453.4,956.3 L451.4,956.3 L449.4,956.2 L447.4,956.2 L445.4,956.1 L443.4,956.1 L441.4,956.1 L439.4,956.0 L437.4,956.0 L435.4,956.0 L433.4,955.9 L431.4,955.9 L429.4,955.9 L427.4,955.8 L425.4,955.8 L423.4,955.8 L421.4,955.7 L419.4,955.7 L417.4,955.7 L415.4,955.6 L413.4,955.6 L411.4,955.6 L409.4,955.5 L407.4,955.5 L405.4,955.5 L403.4,955.4 L401.4,955.4 L399.4,955.4 L397.4,955.3 L395.4,955.3 L393.4,955.3 L391.4,955.2 L389.4,955.2 L387.4,955.2 L385.4,955.2 L383.4,955.1 L381.4,955.1 L379.4,955.1 L377.4,955.0 L375.4,955.0 L373.4,955.0 L371.4,955.0 L369.4,954.9 L367.4,954.9 L365.4,954.9 L363.4,954.8 L361.4,954.8 L359.4,954.8 L357.4,954.8 L355.4,954.7 L353.4,954.7 L351.4,954.7 L349.4,954.6 L347.4,954.6 L345.4,954.6 L343.4,954.6 L341.4,954.5 L339.4,954.5 L337.4,954.5 L335.4,954.5 L333.4,954.4 L331.4,954.4 L329.4,954.4 L327.4,954.4 L325.4,954.3 L323.4,954.3 L321.4,954.3 L319.4,954.3 L317.4,954.2 L315.4,954.2 L313.4,954.2 L311.4,954.2 L309.4,954.1 L307.4,954.1 L305.4,954.1 L303.4,954.1 L301.4,954.0 L299.4,954.0 L297.4,954.0 L295.4,954.0 L293.4,953.9 L291.4,953.9 L289.4,953.9 L287.4,953.9 L285.4,953.8 L283.4,953.8 L281.4,953.8 L279.4,953.8 L277.4,953.7 L275.4,953.7 L273.4,953.7 L271.4,953.7 L269.4,953.6 L267.4,953.6 L265.4,953.6 L263.4,953.6 L261.4,953.6 L259.4,953.5 L257.4,953.5 L255.4,953.5 L253.4,953.5 L251.4,953.4 L249.4,953.4 L247.4,953.4 L245.4,953.4 L243.4,953.4 L241.4,953.3 L239.4,953.3 L237.4,953.3 L235.4,953.3 L233.4,953.3 L231.4,953.2 L229.4,953.2 L227.4,953.2 L225.4,953.2 L223.4,953.1 L221.4,953.1 L219.4,953.1 L217.4,953.1 L215.4,953.1 L213.4,953.0 L211.4,953.0 L209.4,953.0 L207.4,953.0 L205.4,953.0 L203.4,953.0 L201.4,952.9 L199.4,952.9 L197.4,952.9 L195.4,952.9 L193.4,952.9 L191.4,952.8 L189.4,952.8 L187.4,952.8 L185.4,952.8 L183.4,952.8 L181.4,952.8 L179.4,952.8 L177.4,952.7 L175.4,952.7 L173.4,952.7 L171.4,952.7 L169.4,952.7 L167.4,952.7 L165.4,952.7 L163.4,952.7 L161.4,952.6 L159.4,952.6 L157.4,952.6Z" fill="url(#gc0)"/><path d="M157.4,933.4 L159.4,933.4 L161.4,933.4 L163.4,933.4 L165.4,933.4 L167.4,933.4 L169.4,933.4 L171.4,933.4 L173.4,933.4 L175.4,933.4 L177.4,933.4 L179.4,933.4 L181.4,933.4 L183.4,933.4 L185.4,933.4 L187.4,933.4 L189.4,933.4 L191.4,933.4 L193.4,933.4 L195.4,933.4 L197.4,933.4 L199.4,933.4 L201.4,933.4 L203.4,933.4 L205.4,933.4 L207.4,933.4 L209.4,933.4 L211.4,933.4 L213.4,933.4 L215.4,933.4 L217.4,933.4 L219.4,933.4 L221.4,933.4 L223.4,933.4 L225.4,933.4 L227.4,933.5 L229.4,933.5 L231.4,933.5 L233.4,933.5 L235.4,933.5 L237.4,933.5 L239.4,933.5 L241.4,933.5 L243.4,933.5 L245.4,933.5 L247.4,933.5 L249.4,933.5 L251.4,933.5 L253.4,933.5 L255.4,933.5 L257.4,933.5 L259.4,933.5 L261.4,933.5 L263.4,933.5 L265.4,933.5 L267.4,933.5 L269.4,933.5 L271.4,933.5 L273.4,933.5 L275.4,933.5 L277.4,933.5 L279.4,933.5 L281.4,933.6 L283.4,933.6 L285.4,933.6 L287.4,933.6 L289.4,933.6 L291.4,933.6 L293.4,933.6 L295.4,933.6 L297.4,933.6 L299.4,933.6 L301.4,933.6 L303.4,933.6 L305.4,933.6 L307.4,933.6 L309.4,933.6 L311.4,933.6 L313.4,933.6 L315.4,933.6 L317.4,933.6 L319.4,933.6 L321.4,933.6 L323.4,933.6 L325.4,933.6 L327.4,933.6 L329.4,933.6 L331.4,933.6 L333.4,933.6 L335.4,933.6 L337.4,933.6 L339.4,933.6 L341.4,933.6 L343.4,933.6 L345.4,933.6 L347.4,933.6 L349.4,933.6 L351.4,933.6 L353.4,933.6 L355.4,933.6 L357.4,933.6 L359.4,933.6 L361.4,933.6 L363.4,933.6 L365.4,933.6 L367.4,933.6 L369.4,933.6 L371.4,933.6 L373.4,933.6 L375.4,933.6 L377.4,933.6 L379.4,933.6 L381.4,933.6 L383.4,933.6 L385.4,933.5 L387.4,933.5 L389.4,933.5 L391.4,933.5 L393.4,933.5 L395.4,933.5 L397.4,933.5 L399.4,933.5 L401.4,933.5 L403.4,933.5 L405.4,933.5 L407.4,933.5 L409.4,933.5 L411.4,933.5 L413.4,933.5 L415.4,933.5 L417.4,933.5 L419.4,933.5 L421.4,933.5 L423.4,933.4 L425.4,933.4 L427.4,933.4 L429.4,933.4 L431.4,933.4 L433.4,933.4 L435.4,933.4 L437.4,933.4 L439.4,933.4 L441.4,933.4 L443.4,933.4 L445.4,933.4 L447.4,933.4 L449.4,933.3 L451.4,933.3 L453.4,933.3 L455.4,933.3 L457.4,933.3 L459.4,933.3 L461.4,933.3 L463.4,933.3 L465.4,933.3 L467.4,933.2 L469.4,933.2 L471.4,933.2 L473.4,933.2 L475.4,933.2 L477.4,933.2 L479.4,933.2 L481.4,933.2 L483.4,933.1 L485.4,933.1 L487.4,933.1 L489.4,933.1 L491.4,933.1 L493.4,933.0 L495.4,933.0 L497.4,933.0 L499.4,933.0 L501.4,933.0 L503.4,932.9 L505.4,932.9 L507.4,932.9 L509.4,932.9 L511.4,932.8 L513.4,932.8 L515.4,932.8 L517.4,932.7 L519.4,932.7 L521.4,932.7 L523.4,932.6 L525.4,932.6 L527.4,932.6 L529.4,932.5 L531.4,932.5 L533.4,932.4 L535.4,932.4 L537.4,932.3 L539.4,932.3 L541.4,932.2 L543.4,932.2 L545.4,932.1 L547.4,932.1 L549.4,932.0 L551.4,932.0 L553.4,931.9 L555.4,931.8 L557.4,931.8 L559.4,931.7 L561.4,931.7 L563.4,931.6 L565.4,931.5 L567.4,931.5 L569.4,931.4 L571.4,931.3 L573.4,931.2 L575.4,931.2 L577.4,931.1 L579.4,931.0 L581.4,930.9 L583.4,930.8 L585.4,930.7 L587.4,930.7 L589.4,930.6 L591.4,930.5 L593.4,930.4 L595.4,930.3 L597.4,930.2 L599.4,930.1 L601.4,930.0 L603.4,929.9 L605.4,929.8 L607.4,929.7 L609.4,929.6 L611.4,929.5 L613.4,929.4 L615.4,929.3 L617.4,929.2 L619.4,929.1 L621.4,929.0 L623.4,928.8 L625.4,928.7 L627.4,928.6 L629.4,928.5 L631.4,928.4 L633.4,928.2 L635.4,928.1 L637.4,928.0 L639.4,927.8 L641.4,927.7 L643.4,927.6 L645.4,927.4 L647.4,927.3 L649.4,927.2 L651.4,927.0 L653.4,926.9 L655.4,926.7 L657.4,926.6 L659.4,926.4 L661.4,926.2 L663.4,926.1 L665.4,925.9 L667.4,925.7 L669.4,925.6 L671.4,925.4 L673.4,925.2 L675.4,925.0 L677.4,924.8 L679.4,924.6 L681.4,924.4 L683.4,924.2 L685.4,924.0 L687.4,923.8 L689.4,923.5 L691.4,923.3 L693.4,923.1 L695.4,922.8 L697.4,922.5 L699.4,922.3 L701.4,922.0 L703.4,921.7 L705.4,921.4 L707.4,921.1 L709.4,920.8 L711.4,920.5 L713.4,920.1 L715.4,919.8 L717.4,919.4 L719.4,919.0 L721.4,918.6 L723.4,918.2 L725.4,917.8 L727.4,917.3 L729.4,916.8 L731.4,916.3 L733.4,915.8 L735.4,915.3 L737.4,914.7 L739.4,914.2 L741.4,913.6 L743.4,912.9 L745.4,912.3 L747.4,911.6 L749.4,910.9 L751.4,910.1 L753.4,909.3 L755.4,908.5 L757.4,907.6 L759.4,906.7 L761.4,905.8 L763.4,904.8 L765.4,903.8 L767.4,902.8 L769.4,901.6 L771.4,900.5 L773.4,899.3 L775.4,898.0 L777.4,896.7 L779.4,895.3 L781.4,893.9 L783.4,892.4 L785.4,890.8 L787.4,889.2 L789.4,887.4 L791.4,885.7 L793.4,883.8 L795.4,881.9 L797.4,879.9 L799.4,877.8 L801.4,875.6 L803.4,873.3 L805.4,871.0 L807.4,868.5 L809.4,866.0 L811.4,863.3 L813.4,860.6 L815.4,857.7 L817.4,854.8 L819.4,851.7 L821.4,848.5 L823.4,845.2 L825.4,841.8 L827.4,838.3 L829.4,834.6 L831.4,830.8 L833.4,826.9 L835.4,822.9 L837.4,818.7 L839.4,814.4 L841.4,810.0 L843.4,805.4 L845.4,800.7 L847.4,795.8 L849.4,790.8 L851.4,785.6 L853.4,780.3 L855.4,774.9 L857.4,769.3 L859.4,763.6 L861.4,757.7 L863.4,751.7 L865.4,745.5 L867.4,739.1 L869.4,732.6 L871.4,726.0 L873.4,719.2 L875.4,712.3 L877.4,705.2 L879.4,698.0 L881.4,690.6 L883.4,683.1 L885.4,675.5 L887.4,667.7 L889.4,659.8 L891.4,651.7 L893.4,643.5 L895.4,635.2 L897.4,626.8 L899.4,618.2 L901.4,609.6 L903.4,600.8 L905.4,591.9 L907.4,583.0 L909.4,573.9 L911.4,564.8 L913.4,555.6 L915.4,546.4 L917.4,537.1 L919.4,527.8 L921.4,518.4 L923.4,509.0 L925.4,499.7 L927.4,490.3 L929.4,481.0 L931.4,471.8 L933.4,462.6 L935.4,453.6 L937.4,444.6 L939.4,435.8 L941.4,427.2 L943.4,418.8 L945.4,410.6 L947.4,402.7 L949.4,395.1 L951.4,387.8 L953.4,380.9 L955.4,374.3 L957.4,368.2 L959.4,362.6 L961.4,357.4 L963.4,352.7 L965.4,348.6 L967.4,345.1 L969.4,342.1 L971.4,339.8 L973.4,338.0 L975.4,337.0 L977.4,336.5 L979.4,336.7 L981.4,337.5 L983.4,338.8 L985.4,340.7 L987.4,343.1 L989.4,346.1 L991.4,349.6 L993.4,353.6 L995.4,358.1 L997.4,363.1 L999.4,368.6 L1001.4,374.5 L1003.4,381.0 L1005.4,387.8 L1007.4,395.1 L1009.4,402.8 L1011.4,410.9 L1013.4,419.3 L1015.4,428.1 L1017.4,437.3 L1019.4,446.7 L1021.4,456.4 L1023.4,466.4 L1025.4,476.6 L1027.4,487.0 L1029.4,497.7 L1031.4,508.5 L1033.4,519.5 L1035.4,530.6 L1037.4,541.8 L1039.4,553.1 L1041.4,564.4 L1043.4,575.8 L1045.4,587.3 L1047.4,598.7 L1049.4,610.1 L1051.4,621.5 L1053.4,632.9 L1055.4,644.1 L1057.4,655.3 L1059.4,666.4 L1061.4,677.4 L1063.4,688.3 L1065.4,699.0 L1067.4,709.5 L1069.4,719.9 L1071.4,730.1 L1073.4,740.2 L1075.4,750.0 L1077.4,759.7 L1079.4,769.1 L1081.4,778.3 L1083.4,787.3 L1085.4,796.0 L1087.4,804.6 L1089.4,812.9 L1091.4,820.9 L1093.4,828.8 L1095.4,836.4 L1097.4,843.7 L1099.4,850.8 L1101.4,857.7 L1103.4,864.3 L1105.4,870.7 L1107.4,876.9 L1109.4,882.8 L1111.4,888.5 L1113.4,894.0 L1115.4,899.2 L1117.4,904.3 L1119.4,909.1 L1121.4,913.7 L1123.4,918.1 L1125.4,922.4 L1127.4,926.4 L1129.4,930.2 L1131.4,933.9 L1133.4,937.4 L1135.4,940.7 L1137.4,943.8 L1139.4,946.8 L1141.4,949.6 L1143.4,952.3 L1145.4,954.8 L1147.4,957.3 L1149.4,959.5 L1151.4,961.7 L1153.4,963.7 L1155.4,965.6 L1157.4,967.4 L1159.4,969.1 L1161.4,970.7 L1163.4,972.2 L1165.4,973.6 L1167.4,974.9 L1169.4,976.2 L1171.4,977.4 L1173.4,978.5 L1175.4,979.5 L1177.4,980.5 L1179.4,981.4 L1181.4,982.2 L1183.4,983.0 L1185.4,983.7 L1187.4,984.4 L1189.4,985.1 L1191.4,985.7 L1193.4,986.3 L1195.4,986.8 L1197.4,987.3 L1199.4,987.8 L1201.4,988.2 L1203.4,988.6 L1205.4,989.0 L1207.4,989.3 L1209.4,989.7 L1211.4,990.0 L1213.4,990.3 L1215.4,990.6 L1217.4,990.9 L1219.4,991.1 L1221.4,991.3 L1223.4,991.6 L1225.4,991.8 L1227.4,992.0 L1229.4,992.2 L1231.4,992.4 L1233.4,992.5 L1235.4,992.7 L1237.4,992.9 L1239.4,993.0 L1241.4,993.2 L1243.4,993.3 L1245.4,993.4 L1247.4,993.6 L1249.4,993.7 L1251.4,993.8 L1253.4,993.9 L1255.4,994.1 L1257.4,994.2 L1259.4,994.3 L1261.4,994.4 L1263.4,994.5 L1265.4,994.6 L1267.4,994.7 L1269.4,994.8 L1271.4,994.9 L1273.4,995.0 L1275.4,995.1 L1277.4,995.2 L1279.4,995.3 L1281.4,995.4" stroke="#ffff40" stroke-opacity="0.92" stroke-width="5.0" fill="none" stroke-linejoin="round"/>
<path d="M157.4,948.9 L159.4,948.9 L161.4,948.9 L163.4,948.9 L165.4,948.9 L167.4,948.9 L169.4,948.9 L171.4,948.9 L173.4,948.9 L175.4,948.9 L177.4,948.9 L179.4,948.9 L181.4,948.9 L183.4,948.9 L185.4,948.9 L187.4,948.9 L189.4,948.9 L191.4,948.9 L193.4,948.9 L195.4,948.9 L197.4,948.9 L199.4,948.9 L201.4,948.9 L203.4,948.9 L205.4,948.9 L207.4,948.9 L209.4,948.9 L211.4,948.9 L213.4,948.9 L215.4,948.9 L217.4,948.9 L219.4,948.9 L221.4,948.9 L223.4,948.9 L225.4,948.9 L227.4,948.9 L229.4,948.9 L231.4,948.9 L233.4,948.9 L235.4,948.9 L237.4,948.9 L239.4,948.9 L241.4,948.9 L243.4,948.9 L245.4,948.9 L247.4,948.9 L249.4,948.9 L251.4,948.9 L253.4,948.9 L255.4,948.9 L257.4,948.9 L259.4,948.9 L261.4,949.0 L263.4,949.0 L265.4,949.0 L267.4,949.0 L269.4,949.0 L271.4,949.0 L273.4,949.0 L275.4,949.0 L277.4,949.0 L279.4,949.0 L281.4,949.0 L283.4,949.0 L285.4,949.0 L287.4,949.0 L289.4,949.0 L291.4,949.0 L293.4,949.0 L295.4,949.0 L297.4,949.0 L299.4,949.0 L301.4,949.0 L303.4,949.0 L305.4,949.0 L307.4,949.0 L309.4,949.0 L311.4,949.0 L313.4,949.0 L315.4,949.0 L317.4,949.0 L319.4,949.0 L321.4,949.0 L323.4,949.0 L325.4,949.0 L327.4,949.0 L329.4,949.0 L331.4,949.0 L333.4,949.0 L335.4,949.0 L337.4,949.0 L339.4,949.0 L341.4,948.9 L343.4,948.9 L345.4,948.9 L347.4,948.9 L349.4,948.9 L351.4,948.9 L353.4,948.9 L355.4,948.9 L357.4,948.9 L359.4,948.9 L361.4,948.9 L363.4,948.9 L365.4,948.9 L367.4,948.9 L369.4,948.9 L371.4,948.9 L373.4,948.9 L375.4,948.9 L377.4,948.9 L379.4,948.9 L381.4,948.9 L383.4,948.9 L385.4,948.9 L387.4,948.9 L389.4,948.9 L391.4,948.9 L393.4,948.9 L395.4,948.9 L397.4,948.9 L399.4,948.9 L401.4,948.9 L403.4,948.9 L405.4,948.8 L407.4,948.8 L409.4,948.8 L411.4,948.8 L413.4,948.8 L415.4,948.8 L417.4,948.8 L419.4,948.8 L421.4,948.8 L423.4,948.8 L425.4,948.8 L427.4,948.8 L429.4,948.8 L431.4,948.8 L433.4,948.8 L435.4,948.8 L437.4,948.8 L439.4,948.8 L441.4,948.7 L443.4,948.7 L445.4,948.7 L447.4,948.7 L449.4,948.7 L451.4,948.7 L453.4,948.7 L455.4,948.7 L457.4,948.7 L459.4,948.7 L461.4,948.7 L463.4,948.7 L465.4,948.7 L467.4,948.7 L469.4,948.7 L471.4,948.6 L473.4,948.6 L475.4,948.6 L477.4,948.6 L479.4,948.6 L481.4,948.6 L483.4,948.6 L485.4,948.6 L487.4,948.6 L489.4,948.6 L491.4,948.5 L493.4,948.5 L495.4,948.5 L497.4,948.5 L499.4,948.5 L501.4,948.5 L503.4,948.5 L505.4,948.4 L507.4,948.4 L509.4,948.4 L511.4,948.4 L513.4,948.4 L515.4,948.3 L517.4,948.3 L519.4,948.3 L521.4,948.3 L523.4,948.2 L525.4,948.2 L527.4,948.2 L529.4,948.2 L531.4,948.1 L533.4,948.1 L535.4,948.1 L537.4,948.0 L539.4,948.0 L541.4,948.0 L543.4,947.9 L545.4,947.9 L547.4,947.8 L549.4,947.8 L551.4,947.8 L553.4,947.7 L555.4,947.7 L557.4,947.6 L559.4,947.6 L561.4,947.5 L563.4,947.5 L565.4,947.4 L567.4,947.4 L569.4,947.3 L571.4,947.3 L573.4,947.2 L575.4,947.2 L577.4,947.1 L579.4,947.1 L581.4,947.0 L583.4,947.0 L585.4,946.9 L587.4,946.8 L589.4,946.8 L591.4,946.7 L593.4,946.7 L595.4,946.6 L597.4,946.5 L599.4,946.5 L601.4,946.4 L603.4,946.3 L605.4,946.3 L607.4,946.2 L609.4,946.1 L611.4,946.1 L613.4,946.0 L615.4,945.9 L617.4,945.8 L619.4,945.8 L621.4,945.7 L623.4,945.6 L625.4,945.5 L627.4,945.5 L629.4,945.4 L631.4,945.3 L633.4,945.2 L635.4,945.2 L637.4,945.1 L639.4,945.0 L641.4,944.9 L643.4,944.9 L645.4,944.8 L647.4,944.7 L649.4,944.6 L651.4,944.5 L653.4,944.4 L655.4,944.4 L657.4,944.3 L659.4,944.2 L661.4,944.1 L663.4,944.0 L665.4,943.9 L667.4,943.8 L669.4,943.8 L671.4,943.7 L673.4,943.6 L675.4,943.5 L677.4,943.4 L679.4,943.3 L681.4,943.2 L683.4,943.1 L685.4,943.0 L687.4,942.9 L689.4,942.8 L691.4,942.7 L693.4,942.6 L695.4,942.5 L697.4,942.3 L699.4,942.2 L701.4,942.1 L703.4,942.0 L705.4,941.9 L707.4,941.8 L709.4,941.6 L711.4,941.5 L713.4,941.4 L715.4,941.2 L717.4,941.1 L719.4,941.0 L721.4,940.8 L723.4,940.7 L725.4,940.5 L727.4,940.4 L729.4,940.2 L731.4,940.1 L733.4,939.9 L735.4,939.7 L737.4,939.6 L739.4,939.4 L741.4,939.2 L743.4,939.1 L745.4,938.9 L747.4,938.7 L749.4,938.5 L751.4,938.3 L753.4,938.1 L755.4,937.9 L757.4,937.7 L759.4,937.5 L761.4,937.3 L763.4,937.1 L765.4,936.8 L767.4,936.6 L769.4,936.4 L771.4,936.2 L773.4,935.9 L775.4,935.7 L777.4,935.4 L779.4,935.2 L781.4,934.9 L783.4,934.7 L785.4,934.4 L787.4,934.1 L789.4,933.9 L791.4,933.6 L793.4,933.3 L795.4,933.0 L797.4,932.7 L799.4,932.4 L801.4,932.1 L803.4,931.8 L805.4,931.5 L807.4,931.2 L809.4,930.9 L811.4,930.6 L813.4,930.2 L815.4,929.9 L817.4,929.5 L819.4,929.2 L821.4,928.8 L823.4,928.5 L825.4,928.1 L827.4,927.7 L829.4,927.4 L831.4,927.0 L833.4,926.6 L835.4,926.2 L837.4,925.8 L839.4,925.4 L841.4,925.0 L843.4,924.5 L845.4,924.1 L847.4,923.7 L849.4,923.2 L851.4,922.8 L853.4,922.3 L855.4,921.8 L857.4,921.3 L859.4,920.9 L861.4,920.4 L863.4,919.9 L865.4,919.4 L867.4,918.8 L869.4,918.3 L871.4,917.8 L873.4,917.2 L875.4,916.7 L877.4,916.1 L879.4,915.5 L881.4,914.9 L883.4,914.4 L885.4,913.7 L887.4,913.1 L889.4,912.5 L891.4,911.9 L893.4,911.2 L895.4,910.6 L897.4,909.9 L899.4,909.2 L901.4,908.5 L903.4,907.8 L905.4,907.1 L907.4,906.3 L909.4,905.6 L911.4,904.8 L913.4,904.0 L915.4,903.2 L917.4,902.4 L919.4,901.6 L921.4,900.8 L923.4,899.9 L925.4,899.0 L927.4,898.1 L929.4,897.2 L931.4,896.3 L933.4,895.3 L935.4,894.3 L937.4,893.3 L939.4,892.3 L941.4,891.2 L943.4,890.2 L945.4,889.1 L947.4,887.9 L949.4,886.8 L951.4,885.6 L953.4,884.4 L955.4,883.1 L957.4,881.8 L959.4,880.5 L961.4,879.1 L963.4,877.7 L965.4,876.3 L967.4,874.8 L969.4,873.3 L971.4,871.7 L973.4,870.0 L975.4,868.3 L977.4,866.6 L979.4,864.8 L981.4,862.9 L983.4,860.9 L985.4,858.8 L987.4,856.7 L989.4,854.5 L991.4,852.1 L993.4,849.7 L995.4,847.2 L997.4,844.5 L999.4,841.7 L1001.4,838.8 L1003.4,835.8 L1005.4,832.6 L1007.4,829.2 L1009.4,825.7 L1011.4,821.9 L1013.4,818.0 L1015.4,813.9 L1017.4,809.6 L1019.4,805.1 L1021.4,800.4 L1023.4,795.4 L1025.4,790.2 L1027.4,784.8 L1029.4,779.1 L1031.4,773.1 L1033.4,766.9 L1035.4,760.4 L1037.4,753.6 L1039.4,746.6 L1041.4,739.3 L1043.4,731.7 L1045.4,723.9 L1047.4,715.8 L1049.4,707.5 L1051.4,699.0 L1053.4,690.2 L1055.4,681.3 L1057.4,672.1 L1059.4,662.8 L1061.4,653.4 L1063.4,643.8 L1065.4,634.2 L1067.4,624.5 L1069.4,614.7 L1071.4,605.0 L1073.4,595.4 L1075.4,585.8 L1077.4,576.4 L1079.4,567.1 L1081.4,558.0 L1083.4,549.2 L1085.4,540.7 L1087.4,532.5 L1089.4,524.7 L1091.4,517.3 L1093.4,510.4 L1095.4,503.9 L1097.4,498.0 L1099.4,492.7 L1101.4,487.9 L1103.4,483.8 L1105.4,480.3 L1107.4,477.5 L1109.4,475.4 L1111.4,474.0 L1113.4,473.2 L1115.4,473.2 L1117.4,473.8 L1119.4,474.9 L1121.4,476.6 L1123.4,478.8 L1125.4,481.6 L1127.4,484.9 L1129.4,488.6 L1131.4,492.9 L1133.4,497.6 L1135.4,502.8 L1137.4,508.5 L1139.4,514.5 L1141.4,521.0 L1143.4,527.8 L1145.4,535.0 L1147.4,542.5 L1149.4,550.3 L1151.4,558.4 L1153.4,566.8 L1155.4,575.3 L1157.4,584.1 L1159.4,593.0 L1161.4,602.1 L1163.4,611.3 L1165.4,620.5 L1167.4,629.9 L1169.4,639.3 L1171.4,648.7 L1173.4,658.1 L1175.4,667.4 L1177.4,676.7 L1179.4,686.0 L1181.4,695.1 L1183.4,704.2 L1185.4,713.1 L1187.4,721.9 L1189.4,730.5 L1191.4,739.0 L1193.4,747.3 L1195.4,755.4 L1197.4,763.4 L1199.4,771.1 L1201.4,778.6 L1203.4,785.9 L1205.4,793.0 L1207.4,799.9 L1209.4,806.5 L1211.4,812.9 L1213.4,819.1 L1215.4,825.1 L1217.4,830.9 L1219.4,836.4 L1221.4,841.8 L1223.4,846.9 L1225.4,851.8 L1227.4,856.5 L1229.4,861.0 L1231.4,865.3 L1233.4,869.4 L1235.4,873.4 L1237.4,877.2 L1239.4,880.8 L1241.4,884.2 L1243.4,887.5 L1245.4,890.6 L1247.4,893.6 L1249.4,896.5 L1251.4,899.2 L1253.4,901.8 L1255.4,904.3 L1257.4,906.7 L1259.4,909.0 L1261.4,911.1 L1263.4,913.2 L1265.4,915.2 L1267.4,917.1 L1269.4,918.9 L1271.4,920.6 L1273.4,922.3 L1275.4,923.9 L1277.4,925.5 L1279.4,926.9 L1281.4,928.4 L1283.4,929.7 L1285.4,931.1 L1287.4,932.3 L1289.4,933.6 L1291.4,934.8 L1293.4,935.9 L1295.4,937.0 L1297.4,938.1 L1299.4,939.2 L1301.4,940.2 L1303.4,941.2 L1305.4,942.2 L1307.4,943.1 L1309.4,944.0 L1311.4,944.9 L1313.4,945.8 L1315.4,946.6 L1317.4,947.5 L1319.4,948.3 L1321.4,949.1 L1323.4,949.8 L1325.4,950.6 L1327.4,951.3 L1329.4,952.1 L1331.4,952.8 L1333.4,953.5 L1335.4,954.1 L1337.4,954.8 L1339.4,955.5 L1341.4,956.1 L1343.4,956.7 L1345.4,957.3 L1347.4,957.9 L1349.4,958.5 L1351.4,959.0 L1353.4,959.6 L1355.4,960.1 L1357.4,960.6 L1359.4,961.1 L1361.4,961.6 L1363.4,962.1 L1365.4,962.5 L1367.4,962.9 L1369.4,963.4 L1371.4,963.8 L1373.4,964.1 L1375.4,964.5 L1377.4,964.8 L1379.4,965.2 L1381.4,965.4 L1383.4,965.7 L1385.4,966.0 L1387.4,966.2 L1389.4,966.4 L1391.4,966.6 L1393.4,966.8 L1395.4,967.0 L1397.4,967.1 L1399.4,967.2 L1401.4,967.3 L1403.4,967.4 L1405.4,967.4 L1407.4,967.5 L1409.4,967.5 L1411.4,967.5 L1413.4,967.5 L1415.4,967.5 L1417.4,967.4 L1419.4,967.4 L1421.4,967.3 L1423.4,967.2 L1425.4,967.1 L1427.4,967.1 L1429.4,966.9 L1431.4,966.8 L1433.4,966.7 L1435.4,966.6 L1437.4,966.5 L1439.4,966.3 L1441.4,966.2 L1443.4,966.1 L1445.4,965.9 L1447.4,965.8 L1449.4,965.7 L1451.4,965.5 L1453.4,965.4 L1455.4,965.2 L1457.4,965.1 L1459.4,965.0 L1461.4,964.8 L1463.4,964.7 L1465.4,964.6 L1467.4,964.4 L1469.4,964.3 L1471.4,964.1 L1473.4,964.0 L1475.4,963.9 L1477.4,963.7 L1479.4,963.6 L1481.4,963.4 L1483.4,963.3 L1485.4,963.2 L1487.4,963.0 L1489.4,962.9 L1491.4,962.7 L1493.4,962.6 L1495.4,962.4 L1497.4,962.2 L1499.4,962.1 L1501.4,961.9 L1503.4,961.7 L1505.4,961.6 L1507.4,961.4 L1509.4,961.2 L1511.4,961.0 L1513.4,960.8 L1515.4,960.6 L1517.4,960.4 L1519.4,960.2 L1521.4,960.0 L1523.4,959.8 L1525.4,959.5 L1527.4,959.3 L1529.4,959.1 L1531.4,958.8 L1533.4,958.6 L1535.4,958.3 L1537.4,958.1 L1539.4,957.8 L1541.4,957.5 L1543.4,957.2 L1545.4,957.0 L1547.4,956.7 L1549.4,956.4 L1551.4,956.1 L1553.4,955.9 L1555.4,955.6 L1557.4,955.3 L1559.4,955.0 L1561.4,954.7 L1563.4,954.5 L1565.4,954.2 L1567.4,954.0 L1569.4,953.7 L1571.4,953.5 L1573.4,953.2 L1575.4,953.0 L1577.4,952.8 L1577.4,965.7 L1575.4,966.0 L1573.4,966.3 L1571.4,966.7 L1569.4,967.0 L1567.4,967.4 L1565.4,967.7 L1563.4,968.1 L1561.4,968.5 L1559.4,968.9 L1557.4,969.3 L1555.4,969.7 L1553.4,970.1 L1551.4,970.5 L1549.4,970.9 L1547.4,971.3 L1545.4,971.7 L1543.4,972.1 L1541.4,972.5 L1539.4,972.9 L1537.4,973.3 L1535.4,973.7 L1533.4,974.1 L1531.4,974.4 L1529.4,974.8 L1527.4,975.2 L1525.4,975.6 L1523.4,975.9 L1521.4,976.3 L1519.4,976.7 L1517.4,977.0 L1515.4,977.4 L1513.4,977.7 L1511.4,978.1 L1509.4,978.4 L1507.4,978.8 L1505.4,979.1 L1503.4,979.5 L1501.4,979.8 L1499.4,980.1 L1497.4,980.5 L1495.4,980.8 L1493.4,981.1 L1491.4,981.5 L1489.4,981.8 L1487.4,982.1 L1485.4,982.5 L1483.4,982.8 L1481.4,983.1 L1479.4,983.5 L1477.4,983.8 L1475.4,984.1 L1473.4,984.5 L1471.4,984.8 L1469.4,985.2 L1467.4,985.5 L1465.4,985.9 L1463.4,986.2 L1461.4,986.6 L1459.4,986.9 L1457.4,987.3 L1455.4,987.7 L1453.4,988.0 L1451.4,988.4 L1449.4,988.8 L1447.4,989.2 L1445.4,989.6 L1443.4,989.9 L1441.4,990.3 L1439.4,990.7 L1437.4,991.1 L1435.4,991.5 L1433.4,991.9 L1431.4,992.3 L1429.4,992.7 L1427.4,993.1 L1425.4,993.4 L1423.4,993.8 L1421.4,994.2 L1419.4,994.6 L1417.4,994.9 L1415.4,995.3 L1413.4,995.6 L1411.4,995.9 L1409.4,996.3 L1407.4,996.6 L1405.4,996.9 L1403.4,997.2 L1401.4,997.4 L1399.4,997.7 L1397.4,997.9 L1395.4,998.2 L1393.4,998.4 L1391.4,998.6 L1389.4,998.8 L1387.4,999.0 L1385.4,999.1 L1383.4,999.3 L1381.4,999.4 L1379.4,999.5 L1377.4,999.6 L1375.4,999.7 L1373.4,999.8 L1371.4,999.9 L1369.4,999.9 L1367.4,1000.0 L1365.4,1000.0 L1363.4,1000.0 L1361.4,1000.1 L1359.4,1000.1 L1357.4,1000.1 L1355.4,1000.1 L1353.4,1000.1 L1351.4,1000.1 L1349.4,1000.1 L1347.4,1000.0 L1345.4,1000.0 L1343.4,1000.0 L1341.4,1000.0 L1339.4,999.9 L1337.4,999.9 L1335.4,999.9 L1333.4,999.8 L1331.4,999.8 L1329.4,999.7 L1327.4,999.7 L1325.4,999.7 L1323.4,999.6 L1321.4,999.6 L1319.4,999.5 L1317.4,999.5 L1315.4,999.4 L1313.4,999.4 L1311.4,999.3 L1309.4,999.3 L1307.4,999.2 L1305.4,999.2 L1303.4,999.1 L1301.4,999.1 L1299.4,999.0 L1297.4,999.0 L1295.4,998.9 L1293.4,998.9 L1291.4,998.8 L1289.4,998.8 L1287.4,998.7 L1285.4,998.7 L1283.4,998.6 L1281.4,998.5 L1279.4,998.5 L1277.4,998.4 L1275.4,998.4 L1273.4,998.3 L1271.4,998.3 L1269.4,998.2 L1267.4,998.2 L1265.4,998.1 L1263.4,998.1 L1261.4,998.0 L1259.4,998.0 L1257.4,997.9 L1255.4,997.9 L1253.4,997.8 L1251.4,997.8 L1249.4,997.7 L1247.4,997.7 L1245.4,997.6 L1243.4,997.6 L1241.4,997.5 L1239.4,997.5 L1237.4,997.4 L1235.4,997.4 L1233.4,997.3 L1231.4,997.3 L1229.4,997.2 L1227.4,997.2 L1225.4,997.1 L1223.4,997.1 L1221.4,997.0 L1219.4,996.9 L1217.4,996.9 L1215.4,996.8 L1213.4,996.8 L1211.4,996.7 L1209.4,996.6 L1207.4,996.6 L1205.4,996.5 L1203.4,996.4 L1201.4,996.4 L1199.4,996.3 L1197.4,996.2 L1195.4,996.1 L1193.4,996.0 L1191.4,996.0 L1189.4,995.9 L1187.4,995.8 L1185.4,995.7 L1183.4,995.6 L1181.4,995.5 L1179.4,995.4 L1177.4,995.3 L1175.4,995.2 L1173.4,995.1 L1171.4,995.0 L1169.4,994.8 L1167.4,994.7 L1165.4,994.6 L1163.4,994.5 L1161.4,994.3 L1159.4,994.2 L1157.4,994.0 L1155.4,993.9 L1153.4,993.7 L1151.4,993.6 L1149.4,993.4 L1147.4,993.3 L1145.4,993.1 L1143.4,992.9 L1141.4,992.7 L1139.4,992.6 L1137.4,992.4 L1135.4,992.2 L1133.4,992.0 L1131.4,991.8 L1129.4,991.6 L1127.4,991.4 L1125.4,991.2 L1123.4,991.0 L1121.4,990.8 L1119.4,990.6 L1117.4,990.4 L1115.4,990.2 L1113.4,990.0 L1111.4,989.8 L1109.4,989.6 L1107.4,989.4 L1105.4,989.2 L1103.4,989.0 L1101.4,988.7 L1099.4,988.5 L1097.4,988.3 L1095.4,988.1 L1093.4,987.9 L1091.4,987.7 L1089.4,987.5 L1087.4,987.3 L1085.4,987.1 L1083.4,986.9 L1081.4,986.7 L1079.4,986.5 L1077.4,986.3 L1075.4,986.0 L1073.4,985.8 L1071.4,985.6 L1069.4,985.4 L1067.4,985.2 L1065.4,985.0 L1063.4,984.8 L1061.4,984.6 L1059.4,984.4 L1057.4,984.2 L1055.4,984.0 L1053.4,983.7 L1051.4,983.5 L1049.4,983.3 L1047.4,983.1 L1045.4,982.9 L1043.4,982.6 L1041.4,982.4 L1039.4,982.2 L1037.4,982.0 L1035.4,981.7 L1033.4,981.5 L1031.4,981.3 L1029.4,981.0 L1027.4,980.8 L1025.4,980.6 L1023.4,980.3 L1021.4,980.1 L1019.4,979.8 L1017.4,979.6 L1015.4,979.3 L1013.4,979.1 L1011.4,978.8 L1009.4,978.6 L1007.4,978.3 L1005.4,978.1 L1003.4,977.8 L1001.4,977.5 L999.4,977.3 L997.4,977.0 L995.4,976.8 L993.4,976.5 L991.4,976.2 L989.4,976.0 L987.4,975.7 L985.4,975.5 L983.4,975.2 L981.4,974.9 L979.4,974.7 L977.4,974.4 L975.4,974.2 L973.4,973.9 L971.4,973.7 L969.4,973.4 L967.4,973.2 L965.4,972.9 L963.4,972.7 L961.4,972.4 L959.4,972.2 L957.4,972.0 L955.4,971.7 L953.4,971.5 L951.4,971.3 L949.4,971.0 L947.4,970.8 L945.4,970.6 L943.4,970.4 L941.4,970.2 L939.4,969.9 L937.4,969.7 L935.4,969.5 L933.4,969.3 L931.4,969.1 L929.4,968.9 L927.4,968.7 L925.4,968.6 L923.4,968.4 L921.4,968.2 L919.4,968.0 L917.4,967.8 L915.4,967.7 L913.4,967.5 L911.4,967.3 L909.4,967.2 L907.4,967.0 L905.4,966.9 L903.4,966.7 L901.4,966.6 L899.4,966.5 L897.4,966.3 L895.4,966.2 L893.4,966.1 L891.4,965.9 L889.4,965.8 L887.4,965.7 L885.4,965.6 L883.4,965.5 L881.4,965.4 L879.4,965.3 L877.4,965.2 L875.4,965.1 L873.4,965.0 L871.4,964.9 L869.4,964.8 L867.4,964.7 L865.4,964.6 L863.4,964.5 L861.4,964.5 L859.4,964.4 L857.4,964.3 L855.4,964.2 L853.4,964.2 L851.4,964.1 L849.4,964.0 L847.4,964.0 L845.4,963.9 L843.4,963.8 L841.4,963.8 L839.4,963.7 L837.4,963.6 L835.4,963.6 L833.4,963.5 L831.4,963.5 L829.4,963.4 L827.4,963.4 L825.4,963.3 L823.4,963.3 L821.4,963.2 L819.4,963.2 L817.4,963.1 L815.4,963.1 L813.4,963.0 L811.4,963.0 L809.4,962.9 L807.4,962.9 L805.4,962.9 L803.4,962.8 L801.4,962.8 L799.4,962.7 L797.4,962.7 L795.4,962.7 L793.4,962.6 L791.4,962.6 L789.4,962.5 L787.4,962.5 L785.4,962.5 L783.4,962.4 L781.4,962.4 L779.4,962.4 L777.4,962.3 L775.4,962.3 L773.4,962.2 L771.4,962.2 L769.4,962.2 L767.4,962.1 L765.4,962.1 L763.4,962.1 L761.4,962.0 L759.4,962.0 L757.4,961.9 L755.4,961.9 L753.4,961.9 L751.4,961.8 L749.4,961.8 L747.4,961.7 L745.4,961.7 L743.4,961.6 L741.4,961.6 L739.4,961.6 L737.4,961.5 L735.4,961.5 L733.4,961.4 L731.4,961.4 L729.4,961.3 L727.4,961.3 L725.4,961.2 L723.4,961.2 L721.4,961.2 L719.4,961.1 L717.4,961.1 L715.4,961.0 L713.4,961.0 L711.4,960.9 L709.4,960.9 L707.4,960.8 L705.4,960.8 L703.4,960.7 L701.4,960.7 L699.4,960.6 L697.4,960.6 L695.4,960.5 L693.4,960.5 L691.4,960.4 L689.4,960.4 L687.4,960.3 L685.4,960.3 L683.4,960.2 L681.4,960.2 L679.4,960.1 L677.4,960.1 L675.4,960.0 L673.4,960.0 L671.4,959.9 L669.4,959.9 L667.4,959.9 L665.4,959.8 L663.4,959.8 L661.4,959.7 L659.4,959.7 L657.4,959.6 L655.4,959.6 L653.4,959.6 L651.4,959.5 L649.4,959.5 L647.4,959.4 L645.4,959.4 L643.4,959.4 L641.4,959.3 L639.4,959.3 L637.4,959.3 L635.4,959.2 L633.4,959.2 L631.4,959.2 L629.4,959.1 L627.4,959.1 L625.4,959.1 L623.4,959.0 L621.4,959.0 L619.4,959.0 L617.4,958.9 L615.4,958.9 L613.4,958.9 L611.4,958.9 L609.4,958.8 L607.4,958.8 L605.4,958.8 L603.4,958.8 L601.4,958.7 L599.4,958.7 L597.4,958.7 L595.4,958.7 L593.4,958.6 L591.4,958.6 L589.4,958.6 L587.4,958.6 L585.4,958.5 L583.4,958.5 L581.4,958.5 L579.4,958.5 L577.4,958.4 L575.4,958.4 L573.4,958.4 L571.4,958.4 L569.4,958.3 L567.4,958.3 L565.4,958.3 L563.4,958.3 L561.4,958.2 L559.4,958.2 L557.4,958.2 L555.4,958.2 L553.4,958.1 L551.4,958.1 L549.4,958.1 L547.4,958.0 L545.4,958.0 L543.4,958.0 L541.4,957.9 L539.4,957.9 L537.4,957.9 L535.4,957.9 L533.4,957.8 L531.4,957.8 L529.4,957.8 L527.4,957.7 L525.4,957.7 L523.4,957.7 L521.4,957.6 L519.4,957.6 L517.4,957.5 L515.4,957.5 L513.4,957.5 L511.4,957.4 L509.4,957.4 L507.4,957.4 L505.4,957.3 L503.4,957.3 L501.4,957.2 L499.4,957.2 L497.4,957.2 L495.4,957.1 L493.4,957.1 L491.4,957.0 L489.4,957.0 L487.4,957.0 L485.4,956.9 L483.4,956.9 L481.4,956.8 L479.4,956.8 L477.4,956.8 L475.4,956.7 L473.4,956.7 L471.4,956.6 L469.4,956.6 L467.4,956.6 L465.4,956.5 L463.4,956.5 L461.4,956.4 L459.4,956.4 L457.4,956.4 L455.4,956.3 L453.4,956.3 L451.4,956.3 L449.4,956.2 L447.4,956.2 L445.4,956.1 L443.4,956.1 L441.4,956.1 L439.4,956.0 L437.4,956.0 L435.4,956.0 L433.4,955.9 L431.4,955.9 L429.4,955.9 L427.4,955.8 L425.4,955.8 L423.4,955.8 L421.4,955.7 L419.4,955.7 L417.4,955.7 L415.4,955.6 L413.4,955.6 L411.4,955.6 L409.4,955.5 L407.4,955.5 L405.4,955.5 L403.4,955.4 L401.4,955.4 L399.4,955.4 L397.4,955.3 L395.4,955.3 L393.4,955.3 L391.4,955.2 L389.4,955.2 L387.4,955.2 L385.4,955.2 L383.4,955.1 L381.4,955.1 L379.4,955.1 L377.4,955.0 L375.4,955.0 L373.4,955.0 L371.4,955.0 L369.4,954.9 L367.4,954.9 L365.4,954.9 L363.4,954.8 L361.4,954.8 L359.4,954.8 L357.4,954.8 L355.4,954.7 L353.4,954.7 L351.4,954.7 L349.4,954.6 L347.4,954.6 L345.4,954.6 L343.4,954.6 L341.4,954.5 L339.4,954.5 L337.4,954.5 L335.4,954.5 L333.4,954.4 L331.4,954.4 L329.4,954.4 L327.4,954.4 L325.4,954.3 L323.4,954.3 L321.4,954.3 L319.4,954.3 L317.4,954.2 L315.4,954.2 L313.4,954.2 L311.4,954.2 L309.4,954.1 L307.4,954.1 L305.4,954.1 L303.4,954.1 L301.4,954.0 L299.4,954.0 L297.4,954.0 L295.4,954.0 L293.4,953.9 L291.4,953.9 L289.4,953.9 L287.4,953.9 L285.4,953.8 L283.4,953.8 L281.4,953.8 L279.4,953.8 L277.4,953.7 L275.4,953.7 L273.4,953.7 L271.4,953.7 L269.4,953.6 L267.4,953.6 L265.4,953.6 L263.4,953.6 L261.4,953.6 L259.4,953.5 L257.4,953.5 L255.4,953.5 L253.4,953.5 L251.4,953.4 L249.4,953.4 L247.4,953.4 L245.4,953.4 L243.4,953.4 L241.4,953.3 L239.4,953.3 L237.4,953.3 L235.4,953.3 L233.4,953.3 L231.4,953.2 L229.4,953.2 L227.4,953.2 L225.4,953.2 L223.4,953.1 L221.4,953.1 L219.4,953.1 L217.4,953.1 L215.4,953.1 L213.4,953.0 L211.4,953.0 L209.4,953.0 L207.4,953.0 L205.4,953.0 L203.4,953.0 L201.4,952.9 L199.4,952.9 L197.4,952.9 L195.4,952.9 L193.4,952.9 L191.4,952.8 L189.4,952.8 L187.4,952.8 L185.4,952.8 L183.4,952.8 L181.4,952.8 L179.4,952.8 L177.4,952.7 L175.4,952.7 L173.4,952.7 L171.4,952.7 L169.4,952.7 L167.4,952.7 L165.4,952.7 L163.4,952.7 L161.4,952.6 L159.4,952.6 L157.4,952.6Z" fill="url(#gc1)"/><path d="M157.4,948.9 L159.4,948.9 L161.4,948.9 L163.4,948.9 L165.4,948.9 L167.4,948.9 L169.4,948.9 L171.4,948.9 L173.4,948.9 L175.4,948.9 L177.4,948.9 L179.4,948.9 L181.4,948.9 L183.4,948.9 L185.4,948.9 L187.4,948.9 L189.4,948.9 L191.4,948.9 L193.4,948.9 L195.4,948.9 L197.4,948.9 L199.4,948.9 L201.4,948.9 L203.4,948.9 L205.4,948.9 L207.4,948.9 L209.4,948.9 L211.4,948.9 L213.4,948.9 L215.4,948.9 L217.4,948.9 L219.4,948.9 L221.4,948.9 L223.4,948.9 L225.4,948.9 L227.4,948.9 L229.4,948.9 L231.4,948.9 L233.4,948.9 L235.4,948.9 L237.4,948.9 L239.4,948.9 L241.4,948.9 L243.4,948.9 L245.4,948.9 L247.4,948.9 L249.4,948.9 L251.4,948.9 L253.4,948.9 L255.4,948.9 L257.4,948.9 L259.4,948.9 L261.4,949.0 L263.4,949.0 L265.4,949.0 L267.4,949.0 L269.4,949.0 L271.4,949.0 L273.4,949.0 L275.4,949.0 L277.4,949.0 L279.4,949.0 L281.4,949.0 L283.4,949.0 L285.4,949.0 L287.4,949.0 L289.4,949.0 L291.4,949.0 L293.4,949.0 L295.4,949.0 L297.4,949.0 L299.4,949.0 L301.4,949.0 L303.4,949.0 L305.4,949.0 L307.4,949.0 L309.4,949.0 L311.4,949.0 L313.4,949.0 L315.4,949.0 L317.4,949.0 L319.4,949.0 L321.4,949.0 L323.4,949.0 L325.4,949.0 L327.4,949.0 L329.4,949.0 L331.4,949.0 L333.4,949.0 L335.4,949.0 L337.4,949.0 L339.4,949.0 L341.4,948.9 L343.4,948.9 L345.4,948.9 L347.4,948.9 L349.4,948.9 L351.4,948.9 L353.4,948.9 L355.4,948.9 L357.4,948.9 L359.4,948.9 L361.4,948.9 L363.4,948.9 L365.4,948.9 L367.4,948.9 L369.4,948.9 L371.4,948.9 L373.4,948.9 L375.4,948.9 L377.4,948.9 L379.4,948.9 L381.4,948.9 L383.4,948.9 L385.4,948.9 L387.4,948.9 L389.4,948.9 L391.4,948.9 L393.4,948.9 L395.4,948.9 L397.4,948.9 L399.4,948.9 L401.4,948.9 L403.4,948.9 L405.4,948.8 L407.4,948.8 L409.4,948.8 L411.4,948.8 L413.4,948.8 L415.4,948.8 L417.4,948.8 L419.4,948.8 L421.4,948.8 L423.4,948.8 L425.4,948.8 L427.4,948.8 L429.4,948.8 L431.4,948.8 L433.4,948.8 L435.4,948.8 L437.4,948.8 L439.4,948.8 L441.4,948.7 L443.4,948.7 L445.4,948.7 L447.4,948.7 L449.4,948.7 L451.4,948.7 L453.4,948.7 L455.4,948.7 L457.4,948.7 L459.4,948.7 L461.4,948.7 L463.4,948.7 L465.4,948.7 L467.4,948.7 L469.4,948.7 L471.4,948.6 L473.4,948.6 L475.4,948.6 L477.4,948.6 L479.4,948.6 L481.4,948.6 L483.4,948.6 L485.4,948.6 L487.4,948.6 L489.4,948.6 L491.4,948.5 L493.4,948.5 L495.4,948.5 L497.4,948.5 L499.4,948.5 L501.4,948.5 L503.4,948.5 L505.4,948.4 L507.4,948.4 L509.4,948.4 L511.4,948.4 L513.4,948.4 L515.4,948.3 L517.4,948.3 L519.4,948.3 L521.4,948.3 L523.4,948.2 L525.4,948.2 L527.4,948.2 L529.4,948.2 L531.4,948.1 L533.4,948.1 L535.4,948.1 L537.4,948.0 L539.4,948.0 L541.4,948.0 L543.4,947.9 L545.4,947.9 L547.4,947.8 L549.4,947.8 L551.4,947.8 L553.4,947.7 L555.4,947.7 L557.4,947.6 L559.4,947.6 L561.4,947.5 L563.4,947.5 L565.4,947.4 L567.4,947.4 L569.4,947.3 L571.4,947.3 L573.4,947.2 L575.4,947.2 L577.4,947.1 L579.4,947.1 L581.4,947.0 L583.4,947.0 L585.4,946.9 L587.4,946.8 L589.4,946.8 L591.4,946.7 L593.4,946.7 L595.4,946.6 L597.4,946.5 L599.4,946.5 L601.4,946.4 L603.4,946.3 L605.4,946.3 L607.4,946.2 L609.4,946.1 L611.4,946.1 L613.4,946.0 L615.4,945.9 L617.4,945.8 L619.4,945.8 L621.4,945.7 L623.4,945.6 L625.4,945.5 L627.4,945.5 L629.4,945.4 L631.4,945.3 L633.4,945.2 L635.4,945.2 L637.4,945.1 L639.4,945.0 L641.4,944.9 L643.4,944.9 L645.4,944.8 L647.4,944.7 L649.4,944.6 L651.4,944.5 L653.4,944.4 L655.4,944.4 L657.4,944.3 L659.4,944.2 L661.4,944.1 L663.4,944.0 L665.4,943.9 L667.4,943.8 L669.4,943.8 L671.4,943.7 L673.4,943.6 L675.4,943.5 L677.4,943.4 L679.4,943.3 L681.4,943.2 L683.4,943.1 L685.4,943.0 L687.4,942.9 L689.4,942.8 L691.4,942.7 L693.4,942.6 L695.4,942.5 L697.4,942.3 L699.4,942.2 L701.4,942.1 L703.4,942.0 L705.4,941.9 L707.4,941.8 L709.4,941.6 L711.4,941.5 L713.4,941.4 L715.4,941.2 L717.4,941.1 L719.4,941.0 L721.4,940.8 L723.4,940.7 L725.4,940.5 L727.4,940.4 L729.4,940.2 L731.4,940.1 L733.4,939.9 L735.4,939.7 L737.4,939.6 L739.4,939.4 L741.4,939.2 L743.4,939.1 L745.4,938.9 L747.4,938.7 L749.4,938.5 L751.4,938.3 L753.4,938.1 L755.4,937.9 L757.4,937.7 L759.4,937.5 L761.4,937.3 L763.4,937.1 L765.4,936.8 L767.4,936.6 L769.4,936.4 L771.4,936.2 L773.4,935.9 L775.4,935.7 L777.4,935.4 L779.4,935.2 L781.4,934.9 L783.4,934.7 L785.4,934.4 L787.4,934.1 L789.4,933.9 L791.4,933.6 L793.4,933.3 L795.4,933.0 L797.4,932.7 L799.4,932.4 L801.4,932.1 L803.4,931.8 L805.4,931.5 L807.4,931.2 L809.4,930.9 L811.4,930.6 L813.4,930.2 L815.4,929.9 L817.4,929.5 L819.4,929.2 L821.4,928.8 L823.4,928.5 L825.4,928.1 L827.4,927.7 L829.4,927.4 L831.4,927.0 L833.4,926.6 L835.4,926.2 L837.4,925.8 L839.4,925.4 L841.4,925.0 L843.4,924.5 L845.4,924.1 L847.4,923.7 L849.4,923.2 L851.4,922.8 L853.4,922.3 L855.4,921.8 L857.4,921.3 L859.4,920.9 L861.4,920.4 L863.4,919.9 L865.4,919.4 L867.4,918.8 L869.4,918.3 L871.4,917.8 L873.4,917.2 L875.4,916.7 L877.4,916.1 L879.4,915.5 L881.4,914.9 L883.4,914.4 L885.4,913.7 L887.4,913.1 L889.4,912.5 L891.4,911.9 L893.4,911.2 L895.4,910.6 L897.4,909.9 L899.4,909.2 L901.4,908.5 L903.4,907.8 L905.4,907.1 L907.4,906.3 L909.4,905.6 L911.4,904.8 L913.4,904.0 L915.4,903.2 L917.4,902.4 L919.4,901.6 L921.4,900.8 L923.4,899.9 L925.4,899.0 L927.4,898.1 L929.4,897.2 L931.4,896.3 L933.4,895.3 L935.4,894.3 L937.4,893.3 L939.4,892.3 L941.4,891.2 L943.4,890.2 L945.4,889.1 L947.4,887.9 L949.4,886.8 L951.4,885.6 L953.4,884.4 L955.4,883.1 L957.4,881.8 L959.4,880.5 L961.4,879.1 L963.4,877.7 L965.4,876.3 L967.4,874.8 L969.4,873.3 L971.4,871.7 L973.4,870.0 L975.4,868.3 L977.4,866.6 L979.4,864.8 L981.4,862.9 L983.4,860.9 L985.4,858.8 L987.4,856.7 L989.4,854.5 L991.4,852.1 L993.4,849.7 L995.4,847.2 L997.4,844.5 L999.4,841.7 L1001.4,838.8 L1003.4,835.8 L1005.4,832.6 L1007.4,829.2 L1009.4,825.7 L1011.4,821.9 L1013.4,818.0 L1015.4,813.9 L1017.4,809.6 L1019.4,805.1 L1021.4,800.4 L1023.4,795.4 L1025.4,790.2 L1027.4,784.8 L1029.4,779.1 L1031.4,773.1 L1033.4,766.9 L1035.4,760.4 L1037.4,753.6 L1039.4,746.6 L1041.4,739.3 L1043.4,731.7 L1045.4,723.9 L1047.4,715.8 L1049.4,707.5 L1051.4,699.0 L1053.4,690.2 L1055.4,681.3 L1057.4,672.1 L1059.4,662.8 L1061.4,653.4 L1063.4,643.8 L1065.4,634.2 L1067.4,624.5 L1069.4,614.7 L1071.4,605.0 L1073.4,595.4 L1075.4,585.8 L1077.4,576.4 L1079.4,567.1 L1081.4,558.0 L1083.4,549.2 L1085.4,540.7 L1087.4,532.5 L1089.4,524.7 L1091.4,517.3 L1093.4,510.4 L1095.4,503.9 L1097.4,498.0 L1099.4,492.7 L1101.4,487.9 L1103.4,483.8 L1105.4,480.3 L1107.4,477.5 L1109.4,475.4 L1111.4,474.0 L1113.4,473.2 L1115.4,473.2 L1117.4,473.8 L1119.4,474.9 L1121.4,476.6 L1123.4,478.8 L1125.4,481.6 L1127.4,484.9 L1129.4,488.6 L1131.4,492.9 L1133.4,497.6 L1135.4,502.8 L1137.4,508.5 L1139.4,514.5 L1141.4,521.0 L1143.4,527.8 L1145.4,535.0 L1147.4,542.5 L1149.4,550.3 L1151.4,558.4 L1153.4,566.8 L1155.4,575.3 L1157.4,584.1 L1159.4,593.0 L1161.4,602.1 L1163.4,611.3 L1165.4,620.5 L1167.4,629.9 L1169.4,639.3 L1171.4,648.7 L1173.4,658.1 L1175.4,667.4 L1177.4,676.7 L1179.4,686.0 L1181.4,695.1 L1183.4,704.2 L1185.4,713.1 L1187.4,721.9 L1189.4,730.5 L1191.4,739.0 L1193.4,747.3 L1195.4,755.4 L1197.4,763.4 L1199.4,771.1 L1201.4,778.6 L1203.4,785.9 L1205.4,793.0 L1207.4,799.9 L1209.4,806.5 L1211.4,812.9 L1213.4,819.1 L1215.4,825.1 L1217.4,830.9 L1219.4,836.4 L1221.4,841.8 L1223.4,846.9 L1225.4,851.8 L1227.4,856.5 L1229.4,861.0 L1231.4,865.3 L1233.4,869.4 L1235.4,873.4 L1237.4,877.2 L1239.4,880.8 L1241.4,884.2 L1243.4,887.5 L1245.4,890.6 L1247.4,893.6 L1249.4,896.5 L1251.4,899.2 L1253.4,901.8 L1255.4,904.3 L1257.4,906.7 L1259.4,909.0 L1261.4,911.1 L1263.4,913.2 L1265.4,915.2 L1267.4,917.1 L1269.4,918.9 L1271.4,920.6 L1273.4,922.3 L1275.4,923.9 L1277.4,925.5 L1279.4,926.9 L1281.4,928.4 L1283.4,929.7 L1285.4,931.1 L1287.4,932.3 L1289.4,933.6 L1291.4,934.8 L1293.4,935.9 L1295.4,937.0 L1297.4,938.1 L1299.4,939.2 L1301.4,940.2 L1303.4,941.2 L1305.4,942.2 L1307.4,943.1 L1309.4,944.0 L1311.4,944.9 L1313.4,945.8 L1315.4,946.6 L1317.4,947.5 L1319.4,948.3 L1321.4,949.1 L1323.4,949.8 L1325.4,950.6 L1327.4,951.3 L1329.4,952.1 L1331.4,952.8 L1333.4,953.5 L1335.4,954.1 L1337.4,954.8 L1339.4,955.5 L1341.4,956.1 L1343.4,956.7 L1345.4,957.3 L1347.4,957.9 L1349.4,958.5 L1351.4,959.0 L1353.4,959.6 L1355.4,960.1 L1357.4,960.6 L1359.4,961.1 L1361.4,961.6 L1363.4,962.1 L1365.4,962.5 L1367.4,962.9 L1369.4,963.4 L1371.4,963.8 L1373.4,964.1 L1375.4,964.5 L1377.4,964.8 L1379.4,965.2 L1381.4,965.4 L1383.4,965.7 L1385.4,966.0 L1387.4,966.2 L1389.4,966.4 L1391.4,966.6 L1393.4,966.8 L1395.4,967.0 L1397.4,967.1 L1399.4,967.2 L1401.4,967.3 L1403.4,967.4 L1405.4,967.4 L1407.4,967.5 L1409.4,967.5 L1411.4,967.5 L1413.4,967.5 L1415.4,967.5 L1417.4,967.4 L1419.4,967.4 L1421.4,967.3 L1423.4,967.2 L1425.4,967.1 L1427.4,967.1 L1429.4,966.9 L1431.4,966.8 L1433.4,966.7 L1435.4,966.6 L1437.4,966.5 L1439.4,966.3 L1441.4,966.2 L1443.4,966.1 L1445.4,965.9 L1447.4,965.8 L1449.4,965.7 L1451.4,965.5 L1453.4,965.4 L1455.4,965.2 L1457.4,965.1 L1459.4,965.0 L1461.4,964.8 L1463.4,964.7 L1465.4,964.6 L1467.4,964.4 L1469.4,964.3 L1471.4,964.1 L1473.4,964.0 L1475.4,963.9 L1477.4,963.7 L1479.4,963.6 L1481.4,963.4 L1483.4,963.3 L1485.4,963.2 L1487.4,963.0 L1489.4,962.9 L1491.4,962.7 L1493.4,962.6 L1495.4,962.4 L1497.4,962.2 L1499.4,962.1 L1501.4,961.9 L1503.4,961.7 L1505.4,961.6 L1507.4,961.4 L1509.4,961.2 L1511.4,961.0 L1513.4,960.8 L1515.4,960.6 L1517.4,960.4 L1519.4,960.2 L1521.4,960.0 L1523.4,959.8 L1525.4,959.5 L1527.4,959.3 L1529.4,959.1 L1531.4,958.8 L1533.4,958.6 L1535.4,958.3 L1537.4,958.1 L1539.4,957.8 L1541.4,957.5 L1543.4,957.2 L1545.4,957.0 L1547.4,956.7 L1549.4,956.4 L1551.4,956.1 L1553.4,955.9 L1555.4,955.6 L1557.4,955.3 L1559.4,955.0 L1561.4,954.7 L1563.4,954.5 L1565.4,954.2 L1567.4,954.0 L1569.4,953.7 L1571.4,953.5 L1573.4,953.2 L1575.4,953.0 L1577.4,952.8" stroke="#3c3cff" stroke-opacity="0.6" stroke-width="5.0" fill="none" stroke-linejoin="round"/>
<path d="M157.4,929.3 L159.4,929.1 L161.4,928.8 L163.4,928.5 L165.4,928.2 L167.4,927.9 L169.4,927.5 L171.4,927.2 L173.4,926.9 L175.4,926.6 L177.4,926.3 L179.4,925.9 L181.4,925.6 L183.4,925.3 L185.4,924.9 L187.4,924.6 L189.4,924.2 L191.4,923.9 L193.4,923.5 L195.4,923.1 L197.4,922.8 L199.4,922.4 L201.4,922.0 L203.4,921.6 L205.4,921.3 L207.4,920.9 L209.4,920.5 L211.4,920.1 L213.4,919.7 L215.4,919.2 L217.4,918.8 L219.4,918.4 L221.4,918.0 L223.4,917.5 L225.4,917.1 L227.4,916.6 L229.4,916.2 L231.4,915.7 L233.4,915.3 L235.4,914.8 L237.4,914.3 L239.4,913.8 L241.4,913.3 L243.4,912.8 L245.4,912.3 L247.4,911.8 L249.4,911.3 L251.4,910.8 L253.4,910.2 L255.4,909.7 L257.4,909.2 L259.4,908.6 L261.4,908.0 L263.4,907.5 L265.4,906.9 L267.4,906.3 L269.4,905.7 L271.4,905.1 L273.4,904.5 L275.4,903.9 L277.4,903.3 L279.4,902.7 L281.4,902.0 L283.4,901.4 L285.4,900.7 L287.4,900.0 L289.4,899.4 L291.4,898.7 L293.4,898.0 L295.4,897.3 L297.4,896.6 L299.4,895.9 L301.4,895.1 L303.4,894.4 L305.4,893.6 L307.4,892.9 L309.4,892.1 L311.4,891.3 L313.4,890.5 L315.4,889.7 L317.4,888.9 L319.4,888.1 L321.4,887.3 L323.4,886.4 L325.4,885.6 L327.4,884.7 L329.4,883.8 L331.4,882.9 L333.4,882.0 L335.4,881.1 L337.4,880.2 L339.4,879.3 L341.4,878.3 L343.4,877.3 L345.4,876.4 L347.4,875.4 L349.4,874.4 L351.4,873.4 L353.4,872.3 L355.4,871.3 L357.4,870.2 L359.4,869.2 L361.4,868.1 L363.4,867.0 L365.4,865.9 L367.4,864.8 L369.4,863.6 L371.4,862.5 L373.4,861.3 L375.4,860.1 L377.4,858.9 L379.4,857.7 L381.4,856.4 L383.4,855.2 L385.4,853.9 L387.4,852.7 L389.4,851.4 L391.4,850.0 L393.4,848.7 L395.4,847.4 L397.4,846.0 L399.4,844.6 L401.4,843.2 L403.4,841.8 L405.4,840.3 L407.4,838.9 L409.4,837.4 L411.4,835.9 L413.4,834.4 L415.4,832.8 L417.4,831.3 L419.4,829.7 L421.4,828.1 L423.4,826.5 L425.4,824.9 L427.4,823.2 L429.4,821.5 L431.4,819.8 L433.4,818.1 L435.4,816.4 L437.4,814.6 L439.4,812.8 L441.4,811.0 L443.4,809.2 L445.4,807.3 L447.4,805.5 L449.4,803.6 L451.4,801.7 L453.4,799.7 L455.4,797.8 L457.4,795.8 L459.4,793.8 L461.4,791.8 L463.4,789.8 L465.4,787.8 L467.4,785.8 L469.4,783.8 L471.4,781.8 L473.4,779.9 L475.4,778.0 L477.4,776.3 L479.4,775.0 L481.4,774.1 L483.4,773.9 L485.4,775.5 L487.4,779.3 L489.4,785.2 L491.4,792.9 L493.4,802.2 L495.4,812.8 L497.4,824.3 L499.4,836.4 L501.4,848.7 L503.4,861.0 L505.4,873.0 L507.4,884.3 L509.4,895.0 L511.4,904.7 L513.4,913.5 L515.4,921.3 L517.4,928.1 L519.4,933.9 L521.4,938.8 L523.4,942.9 L525.4,946.3 L527.4,949.0 L529.4,951.2 L531.4,952.9 L533.4,954.2 L535.4,955.2 L537.4,956.0 L539.4,956.6 L541.4,957.0 L543.4,957.3 L545.4,957.6 L547.4,957.7 L549.4,957.9 L549.4,958.1 L547.4,958.0 L545.4,958.0 L543.4,958.0 L541.4,957.9 L539.4,957.9 L537.4,957.9 L535.4,957.9 L533.4,957.8 L531.4,957.8 L529.4,957.8 L527.4,957.7 L525.4,957.7 L523.4,957.7 L521.4,957.6 L519.4,957.6 L517.4,957.5 L515.4,957.5 L513.4,957.5 L511.4,957.4 L509.4,957.4 L507.4,957.4 L505.4,957.3 L503.4,957.3 L501.4,957.2 L499.4,957.2 L497.4,957.2 L495.4,957.1 L493.4,957.1 L491.4,957.0 L489.4,957.0 L487.4,957.0 L485.4,956.9 L483.4,956.9 L481.4,956.8 L479.4,956.8 L477.4,956.8 L475.4,956.7 L473.4,956.7 L471.4,956.6 L469.4,956.6 L467.4,956.6 L465.4,956.5 L463.4,956.5 L461.4,956.4 L459.4,956.4 L457.4,956.4 L455.4,956.3 L453.4,956.3 L451.4,956.3 L449.4,956.2 L447.4,956.2 L445.4,956.1 L443.4,956.1 L441.4,956.1 L439.4,956.0 L437.4,956.0 L435.4,956.0 L433.4,955.9 L431.4,955.9 L429.4,955.9 L427.4,955.8 L425.4,955.8 L423.4,955.8 L421.4,955.7 L419.4,955.7 L417.4,955.7 L415.4,955.6 L413.4,955.6 L411.4,955.6 L409.4,955.5 L407.4,955.5 L405.4,955.5 L403.4,955.4 L401.4,955.4 L399.4,955.4 L397.4,955.3 L395.4,955.3 L393.4,955.3 L391.4,955.2 L389.4,955.2 L387.4,955.2 L385.4,955.2 L383.4,955.1 L381.4,955.1 L379.4,955.1 L377.4,955.0 L375.4,955.0 L373.4,955.0 L371.4,955.0 L369.4,954.9 L367.4,954.9 L365.4,954.9 L363.4,954.8 L361.4,954.8 L359.4,954.8 L357.4,954.8 L355.4,954.7 L353.4,954.7 L351.4,954.7 L349.4,954.6 L347.4,954.6 L345.4,954.6 L343.4,954.6 L341.4,954.5 L339.4,954.5 L337.4,954.5 L335.4,954.5 L333.4,954.4 L331.4,954.4 L329.4,954.4 L327.4,954.4 L325.4,954.3 L323.4,954.3 L321.4,954.3 L319.4,954.3 L317.4,954.2 L315.4,954.2 L313.4,954.2 L311.4,954.2 L309.4,954.1 L307.4,954.1 L305.4,954.1 L303.4,954.1 L301.4,954.0 L299.4,954.0 L297.4,954.0 L295.4,954.0 L293.4,953.9 L291.4,953.9 L289.4,953.9 L287.4,953.9 L285.4,953.8 L283.4,953.8 L281.4,953.8 L279.4,953.8 L277.4,953.7 L275.4,953.7 L273.4,953.7 L271.4,953.7 L269.4,953.6 L267.4,953.6 L265.4,953.6 L263.4,953.6 L261.4,953.6 L259.4,953.5 L257.4,953.5 L255.4,953.5 L253.4,953.5 L251.4,953.4 L249.4,953.4 L247.4,953.4 L245.4,953.4 L243.4,953.4 L241.4,953.3 L239.4,953.3 L237.4,953.3 L235.4,953.3 L233.4,953.3 L231.4,953.2 L229.4,953.2 L227.4,953.2 L225.4,953.2 L223.4,953.1 L221.4,953.1 L219.4,953.1 L217.4,953.1 L215.4,953.1 L213.4,953.0 L211.4,953.0 L209.4,953.0 L207.4,953.0 L205.4,953.0 L203.4,953.0 L201.4,952.9 L199.4,952.9 L197.4,952.9 L195.4,952.9 L193.4,952.9 L191.4,952.8 L189.4,952.8 L187.4,952.8 L185.4,952.8 L183.4,952.8 L181.4,952.8 L179.4,952.8 L177.4,952.7 L175.4,952.7 L173.4,952.7 L171.4,952.7 L169.4,952.7 L167.4,952.7 L165.4,952.7 L163.4,952.7 L161.4,952.6 L159.4,952.6 L157.4,952.6Z" fill="url(#gc2)"/><path d="M157.4,929.3 L159.4,929.1 L161.4,928.8 L163.4,928.5 L165.4,928.2 L167.4,927.9 L169.4,927.5 L171.4,927.2 L173.4,926.9 L175.4,926.6 L177.4,926.3 L179.4,925.9 L181.4,925.6 L183.4,925.3 L185.4,924.9 L187.4,924.6 L189.4,924.2 L191.4,923.9 L193.4,923.5 L195.4,923.1 L197.4,922.8 L199.4,922.4 L201.4,922.0 L203.4,921.6 L205.4,921.3 L207.4,920.9 L209.4,920.5 L211.4,920.1 L213.4,919.7 L215.4,919.2 L217.4,918.8 L219.4,918.4 L221.4,918.0 L223.4,917.5 L225.4,917.1 L227.4,916.6 L229.4,916.2 L231.4,915.7 L233.4,915.3 L235.4,914.8 L237.4,914.3 L239.4,913.8 L241.4,913.3 L243.4,912.8 L245.4,912.3 L247.4,911.8 L249.4,911.3 L251.4,910.8 L253.4,910.2 L255.4,909.7 L257.4,909.2 L259.4,908.6 L261.4,908.0 L263.4,907.5 L265.4,906.9 L267.4,906.3 L269.4,905.7 L271.4,905.1 L273.4,904.5 L275.4,903.9 L277.4,903.3 L279.4,902.7 L281.4,902.0 L283.4,901.4 L285.4,900.7 L287.4,900.0 L289.4,899.4 L291.4,898.7 L293.4,898.0 L295.4,897.3 L297.4,896.6 L299.4,895.9 L301.4,895.1 L303.4,894.4 L305.4,893.6 L307.4,892.9 L309.4,892.1 L311.4,891.3 L313.4,890.5 L315.4,889.7 L317.4,888.9 L319.4,888.1 L321.4,887.3 L323.4,886.4 L325.4,885.6 L327.4,884.7 L329.4,883.8 L331.4,882.9 L333.4,882.0 L335.4,881.1 L337.4,880.2 L339.4,879.3 L341.4,878.3 L343.4,877.3 L345.4,876.4 L347.4,875.4 L349.4,874.4 L351.4,873.4 L353.4,872.3 L355.4,871.3 L357.4,870.2 L359.4,869.2 L361.4,868.1 L363.4,867.0 L365.4,865.9 L367.4,864.8 L369.4,863.6 L371.4,862.5 L373.4,861.3 L375.4,860.1 L377.4,858.9 L379.4,857.7 L381.4,856.4 L383.4,855.2 L385.4,853.9 L387.4,852.7 L389.4,851.4 L391.4,850.0 L393.4,848.7 L395.4,847.4 L397.4,846.0 L399.4,844.6 L401.4,843.2 L403.4,841.8 L405.4,840.3 L407.4,838.9 L409.4,837.4 L411.4,835.9 L413.4,834.4 L415.4,832.8 L417.4,831.3 L419.4,829.7 L421.4,828.1 L423.4,826.5 L425.4,824.9 L427.4,823.2 L429.4,821.5 L431.4,819.8 L433.4,818.1 L435.4,816.4 L437.4,814.6 L439.4,812.8 L441.4,811.0 L443.4,809.2 L445.4,807.3 L447.4,805.5 L449.4,803.6 L451.4,801.7 L453.4,799.7 L455.4,797.8 L457.4,795.8 L459.4,793.8 L461.4,791.8 L463.4,789.8 L465.4,787.8 L467.4,785.8 L469.4,783.8 L471.4,781.8 L473.4,779.9 L475.4,778.0 L477.4,776.3 L479.4,775.0 L481.4,774.1 L483.4,773.9 L485.4,775.5 L487.4,779.3 L489.4,785.2 L491.4,792.9 L493.4,802.2 L495.4,812.8 L497.4,824.3 L499.4,836.4 L501.4,848.7 L503.4,861.0 L505.4,873.0 L507.4,884.3 L509.4,895.0 L511.4,904.7 L513.4,913.5 L515.4,921.3 L517.4,928.1 L519.4,933.9 L521.4,938.8 L523.4,942.9 L525.4,946.3 L527.4,949.0 L529.4,951.2 L531.4,952.9 L533.4,954.2 L535.4,955.2 L537.4,956.0 L539.4,956.6 L541.4,957.0 L543.4,957.3 L545.4,957.6 L547.4,957.7 L549.4,957.9" stroke="#00eeee" stroke-opacity="0.95" stroke-width="5.0" fill="none" stroke-linejoin="round"/>
<path d="M507.4,957.1 L509.4,957.1 L511.4,957.0 L513.4,957.0 L515.4,957.0 L517.4,956.9 L519.4,956.8 L521.4,956.7 L523.4,956.6 L525.4,956.5 L527.4,956.4 L529.4,956.2 L531.4,956.0 L533.4,955.7 L535.4,955.5 L537.4,955.2 L539.4,954.8 L541.4,954.4 L543.4,954.0 L545.4,953.5 L547.4,952.9 L549.4,952.3 L551.4,951.6 L553.4,950.9 L555.4,950.0 L557.4,949.1 L559.4,948.1 L561.4,947.1 L563.4,945.9 L565.4,944.6 L567.4,943.3 L569.4,941.8 L571.4,940.3 L573.4,938.6 L575.4,936.9 L577.4,935.0 L579.4,933.1 L581.4,931.0 L583.4,928.8 L585.4,926.6 L587.4,924.3 L589.4,921.8 L591.4,919.3 L593.4,916.8 L595.4,914.2 L597.4,911.5 L599.4,908.8 L601.4,906.1 L603.4,903.3 L605.4,900.6 L607.4,897.8 L609.4,895.1 L611.4,892.5 L613.4,889.9 L615.4,887.4 L617.4,884.9 L619.4,882.6 L621.4,880.4 L623.4,878.4 L625.4,876.5 L627.4,874.7 L629.4,873.2 L631.4,871.8 L633.4,870.6 L635.4,869.6 L637.4,868.9 L639.4,868.3 L641.4,868.0 L643.4,868.0 L645.4,868.1 L647.4,868.6 L649.4,869.4 L651.4,870.5 L653.4,871.8 L655.4,873.4 L657.4,875.3 L659.4,877.3 L661.4,879.6 L663.4,882.1 L665.4,884.8 L667.4,887.6 L669.4,890.5 L671.4,893.6 L673.4,896.7 L675.4,899.9 L677.4,903.1 L679.4,906.3 L681.4,909.5 L683.4,912.7 L685.4,915.8 L687.4,918.8 L689.4,921.8 L691.4,924.7 L693.4,927.5 L695.4,930.2 L697.4,932.8 L699.4,935.2 L701.4,937.5 L703.4,939.7 L705.4,941.7 L707.4,943.6 L709.4,945.4 L711.4,947.1 L713.4,948.6 L715.4,950.0 L717.4,951.3 L719.4,952.5 L721.4,953.5 L723.4,954.5 L725.4,955.4 L727.4,956.2 L729.4,956.9 L731.4,957.5 L733.4,958.1 L735.4,958.6 L737.4,959.0 L739.4,959.4 L741.4,959.8 L743.4,960.1 L745.4,960.4 L747.4,960.6 L749.4,960.8 L751.4,961.0 L753.4,961.2 L755.4,961.3 L757.4,961.5 L759.4,961.6 L761.4,961.7 L763.4,961.8 L763.4,962.1 L761.4,962.0 L759.4,962.0 L757.4,961.9 L755.4,961.9 L753.4,961.9 L751.4,961.8 L749.4,961.8 L747.4,961.7 L745.4,961.7 L743.4,961.6 L741.4,961.6 L739.4,961.6 L737.4,961.5 L735.4,961.5 L733.4,961.4 L731.4,961.4 L729.4,961.3 L727.4,961.3 L725.4,961.2 L723.4,961.2 L721.4,961.2 L719.4,961.1 L717.4,961.1 L715.4,961.0 L713.4,961.0 L711.4,960.9 L709.4,960.9 L707.4,960.8 L705.4,960.8 L703.4,960.7 L701.4,960.7 L699.4,960.6 L697.4,960.6 L695.4,960.5 L693.4,960.5 L691.4,960.4 L689.4,960.4 L687.4,960.3 L685.4,960.3 L683.4,960.2 L681.4,960.2 L679.4,960.1 L677.4,960.1 L675.4,960.0 L673.4,960.0 L671.4,959.9 L669.4,959.9 L667.4,959.9 L665.4,959.8 L663.4,959.8 L661.4,959.7 L659.4,959.7 L657.4,959.6 L655.4,959.6 L653.4,959.6 L651.4,959.5 L649.4,959.5 L647.4,959.4 L645.4,959.4 L643.4,959.4 L641.4,959.3 L639.4,959.3 L637.4,959.3 L635.4,959.2 L633.4,959.2 L631.4,959.2 L629.4,959.1 L627.4,959.1 L625.4,959.1 L623.4,959.0 L621.4,959.0 L619.4,959.0 L617.4,958.9 L615.4,958.9 L613.4,958.9 L611.4,958.9 L609.4,958.8 L607.4,958.8 L605.4,958.8 L603.4,958.8 L601.4,958.7 L599.4,958.7 L597.4,958.7 L595.4,958.7 L593.4,958.6 L591.4,958.6 L589.4,958.6 L587.4,958.6 L585.4,958.5 L583.4,958.5 L581.4,958.5 L579.4,958.5 L577.4,958.4 L575.4,958.4 L573.4,958.4 L571.4,958.4 L569.4,958.3 L567.4,958.3 L565.4,958.3 L563.4,958.3 L561.4,958.2 L559.4,958.2 L557.4,958.2 L555.4,958.2 L553.4,958.1 L551.4,958.1 L549.4,958.1 L547.4,958.0 L545.4,958.0 L543.4,958.0 L541.4,957.9 L539.4,957.9 L537.4,957.9 L535.4,957.9 L533.4,957.8 L531.4,957.8 L529.4,957.8 L527.4,957.7 L525.4,957.7 L523.4,957.7 L521.4,957.6 L519.4,957.6 L517.4,957.5 L515.4,957.5 L513.4,957.5 L511.4,957.4 L509.4,957.4 L507.4,957.4Z" fill="url(#gc3)"/><path d="M507.4,957.1 L509.4,957.1 L511.4,957.0 L513.4,957.0 L515.4,957.0 L517.4,956.9 L519.4,956.8 L521.4,956.7 L523.4,956.6 L525.4,956.5 L527.4,956.4 L529.4,956.2 L531.4,956.0 L533.4,955.7 L535.4,955.5 L537.4,955.2 L539.4,954.8 L541.4,954.4 L543.4,954.0 L545.4,953.5 L547.4,952.9 L549.4,952.3 L551.4,951.6 L553.4,950.9 L555.4,950.0 L557.4,949.1 L559.4,948.1 L561.4,947.1 L563.4,945.9 L565.4,944.6 L567.4,943.3 L569.4,941.8 L571.4,940.3 L573.4,938.6 L575.4,936.9 L577.4,935.0 L579.4,933.1 L581.4,931.0 L583.4,928.8 L585.4,926.6 L587.4,924.3 L589.4,921.8 L591.4,919.3 L593.4,916.8 L595.4,914.2 L597.4,911.5 L599.4,908.8 L601.4,906.1 L603.4,903.3 L605.4,900.6 L607.4,897.8 L609.4,895.1 L611.4,892.5 L613.4,889.9 L615.4,887.4 L617.4,884.9 L619.4,882.6 L621.4,880.4 L623.4,878.4 L625.4,876.5 L627.4,874.7 L629.4,873.2 L631.4,871.8 L633.4,870.6 L635.4,869.6 L637.4,868.9 L639.4,868.3 L641.4,868.0 L643.4,868.0 L645.4,868.1 L647.4,868.6 L649.4,869.4 L651.4,870.5 L653.4,871.8 L655.4,873.4 L657.4,875.3 L659.4,877.3 L661.4,879.6 L663.4,882.1 L665.4,884.8 L667.4,887.6 L669.4,890.5 L671.4,893.6 L673.4,896.7 L675.4,899.9 L677.4,903.1 L679.4,906.3 L681.4,909.5 L683.4,912.7 L685.4,915.8 L687.4,918.8 L689.4,921.8 L691.4,924.7 L693.4,927.5 L695.4,930.2 L697.4,932.8 L699.4,935.2 L701.4,937.5 L703.4,939.7 L705.4,941.7 L707.4,943.6 L709.4,945.4 L711.4,947.1 L713.4,948.6 L715.4,950.0 L717.4,951.3 L719.4,952.5 L721.4,953.5 L723.4,954.5 L725.4,955.4 L727.4,956.2 L729.4,956.9 L731.4,957.5 L733.4,958.1 L735.4,958.6 L737.4,959.0 L739.4,959.4 L741.4,959.8 L743.4,960.1 L745.4,960.4 L747.4,960.6 L749.4,960.8 L751.4,961.0 L753.4,961.2 L755.4,961.3 L757.4,961.5 L759.4,961.6 L761.4,961.7 L763.4,961.8" stroke="#e0a0e0" stroke-opacity="0.85" stroke-width="5.0" fill="none" stroke-linejoin="round"/>
<path d="M157.4,952.5 L159.4,952.5 L161.4,952.5 L163.4,952.6 L165.4,952.6 L167.4,952.6 L169.4,952.6 L171.4,952.6 L173.4,952.7 L175.4,952.7 L177.4,952.7 L179.4,952.7 L181.4,952.7 L183.4,952.7 L185.4,952.8 L187.4,952.8 L189.4,952.8 L191.4,952.8 L193.4,952.8 L195.4,952.9 L197.4,952.9 L199.4,952.9 L201.4,952.9 L203.4,952.9 L205.4,953.0 L207.4,953.0 L209.4,953.0 L211.4,953.0 L213.4,953.0 L215.4,953.1 L217.4,953.1 L219.4,953.1 L221.4,953.1 L223.4,953.1 L225.4,953.2 L227.4,953.2 L229.4,953.2 L231.4,953.2 L233.4,953.2 L235.4,953.3 L237.4,953.3 L239.4,953.3 L241.4,953.3 L243.4,953.3 L245.4,953.4 L247.4,953.4 L249.4,953.4 L251.4,953.4 L253.4,953.5 L255.4,953.5 L257.4,953.5 L259.4,953.5 L261.4,953.5 L263.4,953.6 L265.4,953.6 L267.4,953.6 L269.4,953.6 L271.4,953.7 L273.4,953.7 L275.4,953.7 L277.4,953.7 L279.4,953.8 L281.4,953.8 L283.4,953.8 L285.4,953.8 L287.4,953.8 L289.4,953.9 L291.4,953.9 L293.4,953.9 L295.4,953.9 L297.4,954.0 L299.4,954.0 L301.4,954.0 L303.4,954.0 L305.4,954.1 L307.4,954.1 L309.4,954.1 L311.4,954.1 L313.4,954.2 L315.4,954.2 L317.4,954.2 L319.4,954.2 L321.4,954.3 L323.4,954.3 L325.4,954.3 L327.4,954.3 L329.4,954.4 L331.4,954.4 L333.4,954.4 L335.4,954.4 L337.4,954.5 L339.4,954.5 L341.4,954.5 L343.4,954.6 L345.4,954.6 L347.4,954.6 L349.4,954.6 L351.4,954.7 L353.4,954.7 L355.4,954.7 L357.4,954.7 L359.4,954.8 L361.4,954.8 L363.4,954.8 L365.4,954.9 L367.4,954.9 L369.4,954.9 L371.4,954.9 L373.4,955.0 L375.4,955.0 L377.4,955.0 L379.4,955.1 L381.4,955.1 L383.4,955.1 L385.4,955.1 L387.4,955.2 L389.4,955.2 L391.4,955.2 L393.4,955.3 L395.4,955.3 L397.4,955.3 L399.4,955.3 L401.4,955.4 L403.4,955.4 L405.4,955.4 L407.4,955.5 L409.4,955.5 L411.4,955.5 L413.4,955.6 L415.4,955.6 L417.4,955.6 L419.4,955.7 L421.4,955.7 L423.4,955.7 L425.4,955.8 L427.4,955.8 L429.4,955.8 L431.4,955.9 L433.4,955.9 L435.4,955.9 L437.4,956.0 L439.4,956.0 L441.4,956.0 L443.4,956.1 L445.4,956.1 L447.4,956.1 L449.4,956.2 L451.4,956.2 L453.4,956.2 L455.4,956.3 L457.4,956.3 L459.4,956.4 L461.4,956.4 L463.4,956.4 L465.4,956.5 L467.4,956.5 L469.4,956.6 L471.4,956.6 L473.4,956.7 L475.4,956.7 L477.4,956.7 L479.4,956.8 L481.4,956.8 L483.4,956.9 L485.4,956.9 L487.4,957.0 L489.4,957.0 L491.4,957.1 L493.4,957.1 L495.4,957.1 L497.4,957.2 L499.4,957.2 L501.4,957.3 L503.4,957.3 L505.4,957.4 L507.4,957.4 L509.4,957.4 L511.4,957.5 L513.4,957.5 L515.4,957.6 L517.4,957.6 L519.4,957.6 L521.4,957.7 L523.4,957.7 L525.4,957.8 L527.4,957.8 L529.4,957.8 L531.4,957.9 L533.4,957.9 L535.4,957.9 L537.4,958.0 L539.4,958.0 L541.4,958.0 L543.4,958.0 L545.4,958.1 L547.4,958.1 L549.4,958.1 L551.4,958.2 L553.4,958.2 L555.4,958.2 L557.4,958.2 L559.4,958.3 L561.4,958.3 L563.4,958.3 L565.4,958.3 L567.4,958.3 L569.4,958.4 L571.4,958.4 L573.4,958.4 L575.4,958.4 L577.4,958.5 L579.4,958.5 L581.4,958.5 L583.4,958.5 L585.4,958.5 L587.4,958.6 L589.4,958.6 L591.4,958.6 L593.4,958.6 L595.4,958.6 L597.4,958.7 L599.4,958.7 L601.4,958.7 L603.4,958.7 L605.4,958.7 L607.4,958.8 L609.4,958.8 L611.4,958.8 L613.4,958.8 L615.4,958.9 L617.4,958.9 L619.4,958.9 L621.4,958.9 L623.4,959.0 L625.4,959.0 L627.4,959.0 L629.4,959.0 L631.4,959.1 L633.4,959.1 L635.4,959.1 L637.4,959.2 L639.4,959.2 L641.4,959.2 L643.4,959.3 L645.4,959.3 L647.4,959.3 L649.4,959.4 L651.4,959.4 L653.4,959.4 L655.4,959.5 L657.4,959.5 L659.4,959.6 L661.4,959.6 L663.4,959.7 L665.4,959.7 L667.4,959.8 L669.4,959.8 L671.4,959.9 L673.4,959.9 L675.4,960.0 L677.4,960.0 L679.4,960.1 L681.4,960.1 L683.4,960.2 L685.4,960.2 L687.4,960.3 L689.4,960.3 L691.4,960.4 L693.4,960.5 L695.4,960.5 L697.4,960.6 L699.4,960.6 L701.4,960.7 L703.4,960.7 L705.4,960.8 L707.4,960.8 L709.4,960.9 L711.4,961.0 L713.4,961.0 L715.4,961.1 L717.4,961.1 L719.4,961.2 L721.4,961.2 L723.4,961.3 L725.4,961.3 L727.4,961.4 L729.4,961.4 L731.4,961.5 L733.4,961.5 L735.4,961.6 L737.4,961.6 L739.4,961.6 L741.4,961.7 L743.4,961.7 L745.4,961.8 L747.4,961.8 L749.4,961.8 L751.4,961.9 L753.4,961.9 L755.4,962.0 L757.4,962.0 L759.4,962.0 L761.4,962.1 L763.4,962.1 L765.4,962.1 L767.4,962.2 L769.4,962.2 L771.4,962.2 L773.4,962.3 L775.4,962.3 L777.4,962.3 L779.4,962.3 L781.4,962.4 L783.4,962.4 L785.4,962.4 L787.4,962.5 L789.4,962.5 L791.4,962.5 L793.4,962.6 L795.4,962.6 L797.4,962.6 L799.4,962.7 L801.4,962.7 L803.4,962.7 L805.4,962.8 L807.4,962.8 L809.4,962.9 L811.4,962.9 L813.4,962.9 L815.4,963.0 L817.4,963.0 L819.4,963.1 L821.4,963.1 L823.4,963.1 L825.4,963.2 L827.4,963.2 L829.4,963.3 L831.4,963.3 L833.4,963.4 L835.4,963.4 L837.4,963.5 L839.4,963.5 L841.4,963.6 L843.4,963.7 L845.4,963.7 L847.4,963.8 L849.4,963.8 L851.4,963.9 L853.4,964.0 L855.4,964.0 L857.4,964.1 L859.4,964.2 L861.4,964.2 L863.4,964.3 L865.4,964.4 L867.4,964.5 L869.4,964.5 L871.4,964.6 L873.4,964.7 L875.4,964.8 L877.4,964.9 L879.4,965.0 L881.4,965.1 L883.4,965.1 L885.4,965.2 L887.4,965.3 L889.4,965.4 L891.4,965.5 L893.4,965.6 L895.4,965.7 L897.4,965.9 L899.4,966.0 L901.4,966.1 L903.4,966.2 L905.4,966.3 L907.4,966.5 L909.4,966.6 L911.4,966.8 L913.4,967.0 L915.4,967.1 L917.4,967.3 L919.4,967.5 L921.4,967.7 L923.4,967.9 L925.4,968.1 L927.4,968.3 L929.4,968.5 L931.4,968.7 L933.4,968.9 L935.4,969.2 L937.4,969.4 L939.4,969.6 L941.4,969.8 L943.4,970.1 L945.4,970.3 L947.4,970.5 L949.4,970.8 L951.4,971.0 L953.4,971.2 L955.4,971.5 L957.4,971.7 L959.4,971.9 L961.4,972.2 L963.4,972.4 L965.4,972.6 L967.4,972.9 L969.4,973.1 L971.4,973.4 L973.4,973.7 L975.4,973.9 L977.4,974.2 L979.4,974.5 L981.4,974.8 L983.4,975.0 L985.4,975.3 L987.4,975.6 L989.4,975.9 L991.4,976.2 L993.4,976.5 L995.4,976.8 L997.4,977.1 L999.4,977.3 L1001.4,977.6 L1003.4,977.9 L1005.4,978.2 L1007.4,978.5 L1009.4,978.8 L1011.4,979.1 L1013.4,979.3 L1015.4,979.6 L1017.4,979.9 L1019.4,980.1 L1021.4,980.4 L1023.4,980.7 L1025.4,980.9 L1027.4,981.2 L1029.4,981.4 L1031.4,981.6 L1033.4,981.9 L1035.4,982.1 L1037.4,982.3 L1039.4,982.5 L1041.4,982.7 L1043.4,982.9 L1045.4,983.1 L1047.4,983.3 L1049.4,983.5 L1051.4,983.7 L1053.4,983.9 L1055.4,984.1 L1057.4,984.3 L1059.4,984.5 L1061.4,984.7 L1063.4,984.9 L1065.4,985.1 L1067.4,985.3 L1069.4,985.5 L1071.4,985.7 L1073.4,985.8 L1075.4,986.0 L1077.4,986.2 L1079.4,986.4 L1081.4,986.6 L1083.4,986.8 L1085.4,987.0 L1087.4,987.2 L1089.4,987.3 L1091.4,987.5 L1093.4,987.7 L1095.4,987.9 L1097.4,988.1 L1099.4,988.3 L1101.4,988.5 L1103.4,988.8 L1105.4,989.0 L1107.4,989.2 L1109.4,989.4 L1111.4,989.7 L1113.4,989.9 L1115.4,990.2 L1117.4,990.4 L1119.4,990.7 L1121.4,990.9 L1123.4,991.2 L1125.4,991.4 L1127.4,991.7 L1129.4,991.9 L1131.4,992.2 L1133.4,992.4 L1135.4,992.6 L1137.4,992.9 L1139.4,993.1 L1141.4,993.3 L1143.4,993.5 L1145.4,993.7 L1147.4,993.9 L1149.4,994.1 L1151.4,994.3 L1153.4,994.4 L1155.4,994.6 L1157.4,994.7 L1159.4,994.9 L1161.4,995.0 L1163.4,995.1 L1165.4,995.2 L1167.4,995.3 L1169.4,995.3 L1171.4,995.4 L1173.4,995.5 L1175.4,995.6 L1177.4,995.7 L1179.4,995.8 L1181.4,995.8 L1183.4,995.9 L1185.4,996.0 L1187.4,996.1 L1189.4,996.1 L1191.4,996.2 L1193.4,996.3 L1195.4,996.3 L1197.4,996.4 L1199.4,996.5 L1201.4,996.5 L1203.4,996.6 L1205.4,996.7 L1207.4,996.7 L1209.4,996.8 L1211.4,996.8 L1213.4,996.9 L1215.4,996.9 L1217.4,997.0 L1219.4,997.0 L1221.4,997.1 L1223.4,997.1 L1225.4,997.2 L1227.4,997.2 L1229.4,997.3 L1231.4,997.3 L1233.4,997.4 L1235.4,997.4 L1237.4,997.5 L1239.4,997.5 L1241.4,997.6 L1243.4,997.6 L1245.4,997.7 L1247.4,997.7 L1249.4,997.8 L1251.4,997.8 L1253.4,997.8 L1255.4,997.9 L1257.4,997.9 L1259.4,998.0 L1261.4,998.0 L1263.4,998.1 L1265.4,998.1 L1267.4,998.2 L1269.4,998.2 L1271.4,998.3 L1273.4,998.3 L1275.4,998.4 L1277.4,998.4 L1279.4,998.5 L1281.4,998.5 L1283.4,998.6 L1285.4,998.6 L1287.4,998.7 L1289.4,998.7 L1291.4,998.8 L1293.4,998.8 L1295.4,998.9 L1297.4,998.9 L1299.4,999.0 L1301.4,999.1 L1303.4,999.1 L1305.4,999.2 L1307.4,999.2 L1309.4,999.3 L1311.4,999.3 L1313.4,999.4 L1315.4,999.4 L1317.4,999.5 L1319.4,999.6 L1321.4,999.6 L1323.4,999.7 L1325.4,999.7 L1327.4,999.8 L1329.4,999.8 L1331.4,999.9 L1333.4,999.9 L1335.4,1000.0 L1337.4,1000.0 L1339.4,1000.1 L1341.4,1000.1 L1343.4,1000.2 L1345.4,1000.2 L1347.4,1000.3 L1349.4,1000.3 L1351.4,1000.4 L1353.4,1000.4 L1355.4,1000.5 L1357.4,1000.5 L1359.4,1000.5 L1361.4,1000.6 L1363.4,1000.6 L1365.4,1000.6 L1367.4,1000.7 L1369.4,1000.7 L1371.4,1000.7 L1373.4,1000.8 L1375.4,1000.8 L1377.4,1000.8 L1379.4,1000.9 L1381.4,1000.9 L1383.4,1000.9 L1385.4,1000.9 L1387.4,1000.9 L1389.4,1000.9 L1391.4,1001.0 L1393.4,1001.0 L1395.4,1001.0 L1397.4,1001.0 L1399.4,1001.0 L1401.4,1001.0 L1403.4,1001.0 L1405.4,1000.8 L1407.4,1000.2 L1409.4,999.5 L1411.4,998.6 L1413.4,997.6 L1415.4,996.5 L1417.4,995.5 L1419.4,994.6 L1421.4,993.8 L1423.4,993.2 L1425.4,992.7 L1427.4,992.2 L1429.4,991.8 L1431.4,991.3 L1433.4,990.9 L1435.4,990.5 L1437.4,990.1 L1439.4,989.7 L1441.4,989.3 L1443.4,989.0 L1445.4,988.6 L1447.4,988.3 L1449.4,988.0 L1451.4,987.6 L1453.4,987.3 L1455.4,987.0 L1457.4,986.7 L1459.4,986.4 L1461.4,986.1 L1463.4,985.8 L1465.4,985.5 L1467.4,985.2 L1469.4,985.0 L1471.4,984.7 L1473.4,984.4 L1475.4,984.1 L1477.4,983.8 L1479.4,983.5 L1481.4,983.1 L1483.4,982.8 L1485.4,982.5 L1487.4,982.2 L1489.4,981.8 L1491.4,981.5 L1493.4,981.1 L1495.4,980.8 L1497.4,980.4 L1499.4,980.1 L1501.4,979.8 L1503.4,979.5 L1505.4,979.2 L1507.4,978.9 L1509.4,978.6 L1511.4,978.3 L1513.4,978.0 L1515.4,977.7 L1517.4,977.4 L1519.4,977.1 L1521.4,976.8 L1523.4,976.5 L1525.4,976.2 L1527.4,975.9 L1529.4,975.6 L1531.4,975.3 L1533.4,974.9 L1535.4,974.6 L1537.4,974.2 L1539.4,973.9 L1541.4,973.5 L1543.4,973.1 L1545.4,972.7 L1547.4,972.2 L1549.4,971.8 L1551.4,971.3 L1553.4,970.9 L1555.4,970.4 L1557.4,969.9 L1559.4,969.3 L1561.4,968.8 L1563.4,968.2 L1565.4,967.5 L1567.4,966.7 L1569.4,965.7 L1571.4,964.7 L1573.4,963.7 L1575.4,962.6 L1577.4,961.4" stroke="#bdbdbd" stroke-width="4.8" fill="none"/>

</g><path d="M354.8,670.7L400.1,879.1" stroke="#000" stroke-width="4.6" fill="none"/><path d="M408.6,918.2L389.4,879.4L409.9,874.9Z" fill="#000"/><path d="M644.7,735.1L640.6,883.4" stroke="#000" stroke-width="4.6" fill="none"/><path d="M639.5,923.4L630.2,881.1L651.2,881.7Z" fill="#000"/><path d="M786.0,563.0L895.9,641.3" stroke="#000" stroke-width="4.6" fill="none"/><path d="M928.5,664.5L888.2,648.7L900.4,631.6Z" fill="#000"/><path d="M1271.0,666.7L1170.8,720.2" stroke="#000" stroke-width="4.6" fill="none"/><path d="M1135.5,739.0L1167.6,710.0L1177.5,728.5Z" fill="#000"/><text x="244" y="647.9" font-size="59.5" stroke="#000" stroke-width="0.6">Nitron N</text><text x="527.2" y="717.2" font-size="59.5" stroke="#000" stroke-width="0.6">Oxidized N</text><text x="590" y="522.8" font-size="59.5" stroke="#000" stroke-width="0.6">Graphitic N</text><text x="1228.1" y="640.3" font-size="59.5" stroke="#000" stroke-width="0.6">Pyridinic N</text>
<rect x="156.4" y="37" width="1422.0" height="1143.0" fill="none" stroke="#000" stroke-width="4.5" stroke-linejoin="miter"/>
<path d="M198.2,1180V1202.7M365.5,1180V1202.7M532.8,1180V1202.7M700.1,1180V1202.7M867.4,1180V1202.7M1034.7,1180V1202.7M1202.0,1180V1202.7M1369.3,1180V1202.7M1536.6,1180V1202.7M281.9,1180V1191.8M449.2,1180V1191.8M616.5,1180V1191.8M783.8,1180V1191.8M951.0,1180V1191.8M1118.3,1180V1191.8M1285.6,1180V1191.8M1452.9,1180V1191.8" stroke="#000" stroke-width="4.5" fill="none"/>
<text x="198.2" y="1276" font-size="76" text-anchor="middle">410</text>
<text x="365.5" y="1276" font-size="76" text-anchor="middle">408</text>
<text x="532.8" y="1276" font-size="76" text-anchor="middle">406</text>
<text x="700.1" y="1276" font-size="76" text-anchor="middle">404</text>
<text x="867.4" y="1276" font-size="76" text-anchor="middle">402</text>
<text x="1034.7" y="1276" font-size="76" text-anchor="middle">400</text>
<text x="1202.0" y="1276" font-size="76" text-anchor="middle">398</text>
<text x="1369.3" y="1276" font-size="76" text-anchor="middle">396</text>
<text x="1536.6" y="1276" font-size="76" text-anchor="middle">394</text>
<text x="477" y="1418" font-size="97.5">Binding energy(eV)</text>
<text x="766.3" y="1536.5" font-size="86">(</text>
<text x="794.3" y="1536.5" font-size="88" font-weight="bold">c</text>
<text x="829.8" y="1536.5" font-size="86">)</text>
<text transform="translate(97.8,886.3) rotate(-90)" font-size="98">Intensity(a.u.)</text>
<text x="1439" y="117" font-size="65.5">N 1s</text>
<clipPath id="clipd"><rect x="160.7" y="1587" width="1419.5" height="1141"/></clipPath>
<g clip-path="url(#clipd)">
<path d="M162.3,2235.0 L166.7,2253.3 L171.0,2273.3 L173.3,2293.3 L175.7,2198.3 L178.3,2253.3 L181.7,2300.0 L185.7,2306.7 L188.3,2283.3 L192.3,2285.0 L197.3,2221.7 L201.7,2270.0 L205.0,2290.0 L207.7,2274.0 L211.0,2280.0 L215.0,2290.0 L219.0,2283.3 L223.3,2283.3 L226.7,2270.0 L230.0,2237.3 L233.3,2310.0 L237.7,2248.3 L241.0,2283.3 L244.3,2285.0 L248.3,2286.7 L252.3,2315.0 L256.7,2286.7 L260.0,2270.0 L263.3,2353.3 L268.3,2173.3 L273.3,2156.0 L277.7,2245.0 L281.0,2216.7 L283.3,2253.3 L286.7,2313.3 L290.0,2315.0 L292.3,2256.7 L296.7,2239.3 L301.0,2236.7 L306.7,2183.3 L310.0,2288.3 L315.0,2226.7 L321.7,2196.7 L325.7,2206.7 L330.0,2266.7 L332.7,2275.0 L335.7,2236.7 L339.0,2326.7 L345.0,2286.7 L350.0,2263.3 L353.3,2230.0 L356.7,2208.3 L360.0,2216.7 L364.3,2238.3 L368.3,2220.0 L372.3,2253.3 L375.7,2276.0 L380.0,2233.3 L384.3,2210.0 L387.7,2201.7 L391.0,2207.3 L394.3,2161.7 L398.3,2226.7 L401.0,2243.3 L404.3,2201.7 L408.3,2265.0 L411.7,2226.7 L415.7,2152.7 L420.0,2200.0 L423.3,2240.0 L426.7,2163.3 L430.0,2200.0 L433.3,2173.3 L436.7,2191.7 L441.0,2180.0 L444.3,2206.7 L449.0,2236.7 L452.3,2241.7 L456.7,2223.3 L459.0,2270.0 L461.7,2240.0 L466.7,2236.7 L470.0,2223.3 L474.3,2181.7 L478.3,2166.7 L481.7,2153.3 L485.0,2233.3 L489.0,2145.0 L492.3,2190.0 L495.7,2223.3 L500.0,2263.3 L504.3,2230.0 L508.3,2290.0 L513.3,2231.7 L516.7,2250.0 L521.0,2270.0 L524.3,2256.7 L528.3,2233.3 L531.7,2216.7 L536.7,2205.0 L539.0,2181.7 L543.3,2180.0 L546.7,2231.7 L551.0,2201.7 L555.0,2223.3 L557.7,2231.7 L561.0,2203.3 L564.3,2221.7 L567.7,2196.7 L571.0,2206.7 L575.0,2200.0 L580.0,2156.7 L583.3,2200.0 L586.7,2223.3 L591.7,2263.3 L596.7,2210.0 L600.0,2198.3 L602.7,2210.0 L605.7,2153.3 L608.3,2156.7 L611.7,2145.0 L615.7,2173.3 L619.0,2131.7 L623.3,2150.0 L626.7,2156.7 L631.0,2146.7 L634.3,2218.3 L637.7,2176.7 L641.0,2183.3 L644.3,2108.3 L648.3,2106.7 L652.3,2058.3 L656.0,2096.7 L660.0,2150.0 L663.3,2120.0 L667.7,2150.0 L671.0,2233.3 L675.0,2066.7 L677.7,2116.7 L681.7,2150.0 L685.7,2100.0 L689.0,2101.7 L692.3,2123.3 L695.7,2148.3 L700.0,2093.3 L703.3,2055.0 L706.7,2076.7 L711.0,2091.7 L715.0,2120.0 L718.3,2121.7 L723.3,2140.0 L731.7,2083.3 L738.3,2075.0 L743.3,2070.0 L747.7,2116.7 L751.0,2110.0 L755.0,2126.7 L758.3,2140.0 L761.0,2190.0 L765.0,2183.3 L768.3,2156.7 L771.7,2240.0 L775.7,2183.3 L780.0,2173.3 L784.3,2233.3 L788.3,2236.7 L791.0,2176.7 L795.0,2176.7 L798.3,2236.7 L801.7,2265.0 L805.0,2230.0 L808.3,2223.3 L812.3,2185.0 L815.7,2193.3 L819.0,2280.0 L822.3,2240.0 L825.7,2290.0 L830.0,2226.7 L834.3,2221.7 L837.7,2260.0 L842.3,2240.0 L846.7,2226.7 L850.0,2220.0 L853.3,2243.3 L855.7,2231.7 L860.0,2241.7 L863.3,2183.3 L866.7,2220.0 L870.0,2191.7 L874.3,2246.7 L877.7,2206.7 L881.0,2186.7 L885.0,2200.0 L889.0,2273.3 L892.3,2213.3 L896.3,2171.7 L899.3,2213.3 L902.7,2183.3 L907.7,2223.3 L911.7,2236.7 L915.0,2260.0 L919.0,2236.7 L922.3,2206.7 L925.7,2280.0 L930.0,2290.0 L935.0,2213.3 L939.0,2213.3 L943.3,2151.7 L946.7,2166.7 L951.0,2240.0 L954.3,2193.3 L957.7,2173.3 L961.7,2173.3 L965.7,2276.7 L969.0,2216.7 L972.3,2178.3 L976.7,2206.7 L980.0,2250.0 L983.3,2221.7 L986.7,2213.3 L991.0,2213.3 L994.3,2235.0 L998.3,2173.3 L1001.7,2166.7 L1005.7,2186.7 L1009.0,2220.0 L1012.3,2223.3 L1015.7,2243.3 L1020.0,2173.3 L1024.3,2210.0 L1028.3,2211.7 L1029.0,2260.0 L1032.3,2233.3 L1036.7,2213.3 L1040.0,2236.7 L1043.3,2213.3 L1046.7,2196.7 L1050.0,2220.0 L1052.3,2206.7 L1055.7,2240.0 L1058.3,2193.3 L1061.7,2130.0 L1065.0,2140.0 L1068.3,2166.7 L1071.7,2173.3 L1075.0,2146.7 L1078.3,2140.0 L1081.7,2146.7 L1085.0,2160.0 L1088.3,2133.3 L1091.7,2176.7 L1095.0,2143.3 L1098.3,2130.0 L1101.0,2193.3 L1105.0,2130.0 L1108.3,2113.3 L1111.7,2133.3 L1115.0,2116.7 L1118.3,2103.3 L1121.7,2133.3 L1125.0,2110.0 L1128.3,2160.0 L1132.3,2093.3 L1135.7,2053.3 L1139.0,2086.7 L1143.3,2033.3 L1146.7,2026.7 L1150.0,2053.3 L1153.3,2033.3 L1156.7,2046.7 L1161.7,2026.7 L1165.0,2053.3 L1168.3,2036.7 L1171.7,2000.0 L1176.7,1996.7 L1180.0,1958.3 L1183.3,1990.0 L1185.7,1960.0 L1188.3,1906.7 L1191.0,1996.7 L1195.0,1986.7 L1198.3,1966.7 L1201.7,1986.7 L1206.7,2043.3 L1210.0,1986.7 L1213.3,2010.0 L1216.7,2040.0 L1220.0,1950.0 L1224.3,1948.3 L1227.7,1996.7 L1231.0,2066.7 L1234.3,2140.0 L1238.3,2133.3 L1241.7,2166.7 L1245.7,2173.3 L1250.0,2190.0 L1253.3,2200.0 L1256.7,2186.7 L1260.0,2193.3 L1262.3,2233.3 L1265.7,2260.0 L1269.0,2283.3 L1272.3,2300.0 L1275.7,2330.0 L1278.3,2353.3 L1281.7,2323.3 L1285.0,2360.0 L1288.3,2330.0 L1291.7,2346.7 L1294.3,2306.7 L1298.3,2320.0 L1303.3,2363.3 L1306.7,2380.0 L1311.7,2363.3 L1315.0,2356.7 L1318.3,2396.7 L1323.3,2376.7 L1326.7,2356.7 L1330.0,2343.3 L1333.3,2333.3 L1336.7,2356.7 L1340.0,2383.3 L1343.3,2363.3 L1348.3,2336.7 L1351.7,2306.7 L1355.0,2343.3 L1358.3,2423.3 L1362.7,2426.7 L1366.7,2410.0 L1370.0,2365.0 L1373.3,2383.3 L1377.3,2400.0 L1380.7,2383.3 L1383.3,2370.0 L1387.3,2371.7 L1390.7,2363.3 L1395.0,2330.0 L1398.3,2308.3 L1401.7,2363.3 L1406.0,2443.3 L1410.0,2406.7 L1413.3,2350.0 L1416.7,2390.0 L1420.0,2406.7 L1424.0,2336.7 L1427.3,2343.3 L1430.7,2363.3 L1435.0,2290.0 L1438.3,2340.0 L1442.7,2360.0 L1446.0,2313.3 L1449.3,2350.0 L1453.3,2328.3 L1456.7,2426.7 L1460.0,2410.0 L1463.3,2400.0 L1467.3,2353.3 L1470.7,2300.0 L1474.0,2303.3 L1478.3,2256.7 L1481.7,2320.0 L1485.0,2366.7 L1489.3,2348.3 L1492.7,2360.0 L1496.7,2363.3 L1500.0,2403.3 L1503.3,2350.0 L1506.7,2358.3 L1510.7,2328.3 L1514.0,2350.0 L1518.3,2363.3 L1522.7,2433.3 L1526.0,2390.0 L1530.0,2370.0 L1533.3,2396.7 L1536.7,2343.3 L1541.7,2341.7 L1545.0,2341.7 L1548.3,2370.0 L1551.7,2330.0 L1555.0,2433.3 L1559.3,2383.3 L1563.3,2363.3 L1566.7,2350.0 L1570.7,2340.0 L1575.0,2310.0 L1578.3,2306.7" stroke="#4a4a4a" stroke-width="4.6" fill="none" stroke-linejoin="round"/>
<defs><linearGradient id="gd0" gradientUnits="userSpaceOnUse" x1="0" y1="1969.7" x2="0" y2="2385.6"><stop offset="0" stop-color="#3c3ce6" stop-opacity="0.35"/><stop offset="1.0" stop-color="#3c3ce6" stop-opacity="0.35"/><stop offset="1" stop-color="#3c3ce6" stop-opacity="0.35"/></linearGradient><linearGradient id="gd1" gradientUnits="userSpaceOnUse" x1="0" y1="2202.3" x2="0" y2="2372.2"><stop offset="0" stop-color="#d8a8f0" stop-opacity="0.45"/><stop offset="1.0" stop-color="#d8b8f0" stop-opacity="0.45"/><stop offset="1" stop-color="#d8b8f0" stop-opacity="0.45"/></linearGradient><linearGradient id="gd2" gradientUnits="userSpaceOnUse" x1="0" y1="2252.9" x2="0" y2="2351.8"><stop offset="0" stop-color="#40d880" stop-opacity="0.5"/><stop offset="1.0" stop-color="#80e0a0" stop-opacity="0.45"/><stop offset="1" stop-color="#80e0a0" stop-opacity="0.45"/></linearGradient><linearGradient id="gd3" gradientUnits="userSpaceOnUse" x1="0" y1="2153.2" x2="0" y2="2337.2"><stop offset="0" stop-color="#f0f070" stop-opacity="0.5"/><stop offset="1.0" stop-color="#f0f0a0" stop-opacity="0.45"/><stop offset="1" stop-color="#f0f0a0" stop-opacity="0.45"/></linearGradient><linearGradient id="gd4" gradientUnits="userSpaceOnUse" x1="0" y1="2252.9" x2="0" y2="2326.4"><stop offset="0" stop-color="#60b8f0" stop-opacity="0.5"/><stop offset="1.0" stop-color="#60d0b0" stop-opacity="0.45"/><stop offset="1" stop-color="#60d0b0" stop-opacity="0.45"/></linearGradient><linearGradient id="gd8" gradientUnits="userSpaceOnUse" x1="0" y1="2270.0" x2="0" y2="2312.9"><stop offset="0" stop-color="#f08080" stop-opacity="0.5"/><stop offset="1.0" stop-color="#f0a0a0" stop-opacity="0.45"/><stop offset="1" stop-color="#f0a0a0" stop-opacity="0.45"/></linearGradient></defs>
<path d="M161.7,2282.1 L163.7,2282.5 L165.7,2283.0 L167.7,2283.4 L169.7,2283.9 L171.7,2284.3 L173.7,2284.7 L175.7,2285.2 L177.7,2285.6 L179.7,2286.0 L181.7,2286.4 L183.7,2286.8 L185.7,2287.2 L187.7,2287.6 L189.7,2287.9 L191.7,2288.3 L193.7,2288.7 L195.7,2289.1 L197.7,2289.4 L199.7,2289.8 L201.7,2290.2 L203.7,2290.5 L205.7,2290.9 L207.7,2291.3 L209.8,2291.6 L211.8,2292.0 L213.8,2292.4 L215.8,2292.7 L217.8,2293.1 L219.8,2293.4 L221.8,2293.7 L223.8,2294.1 L225.8,2294.4 L227.8,2294.7 L229.8,2295.0 L231.8,2295.3 L233.8,2295.6 L235.8,2295.9 L237.8,2296.2 L239.8,2296.4 L241.8,2296.7 L243.8,2296.9 L245.8,2297.2 L247.8,2297.4 L249.8,2297.6 L251.8,2297.8 L253.8,2298.0 L255.8,2298.1 L257.8,2298.3 L259.8,2298.5 L261.8,2298.6 L263.8,2298.8 L265.8,2298.9 L267.8,2299.0 L269.8,2299.2 L271.8,2299.3 L273.8,2299.4 L275.8,2299.6 L277.8,2299.7 L279.8,2299.8 L281.8,2299.9 L283.8,2300.0 L285.8,2300.1 L287.8,2300.2 L289.8,2300.3 L291.8,2300.4 L293.8,2300.5 L295.8,2300.6 L297.8,2300.7 L299.8,2300.7 L301.8,2300.8 L303.9,2300.9 L305.9,2301.0 L307.9,2301.0 L309.9,2301.1 L311.9,2301.2 L313.9,2301.2 L315.9,2301.3 L317.9,2301.3 L319.9,2301.3 L321.9,2301.4 L323.9,2301.4 L325.9,2301.4 L327.9,2301.5 L329.9,2301.5 L331.9,2301.5 L333.9,2301.4 L335.9,2301.4 L337.9,2301.4 L339.9,2301.4 L341.9,2301.3 L343.9,2301.2 L345.9,2301.1 L347.9,2301.0 L349.9,2300.9 L351.9,2300.8 L353.9,2300.6 L355.9,2300.5 L357.9,2300.3 L359.9,2300.0 L361.9,2299.8 L363.9,2299.5 L365.9,2299.2 L367.9,2298.8 L369.9,2298.4 L371.9,2298.0 L373.9,2297.6 L375.9,2297.0 L377.9,2296.5 L379.9,2295.9 L381.9,2295.3 L383.9,2294.6 L385.9,2293.9 L387.9,2293.1 L389.9,2292.2 L391.9,2291.4 L393.9,2290.4 L395.9,2289.4 L397.9,2288.4 L400.0,2287.3 L402.0,2286.2 L404.0,2285.1 L406.0,2283.8 L408.0,2282.6 L410.0,2281.3 L412.0,2280.0 L414.0,2278.7 L416.0,2277.4 L418.0,2276.0 L420.0,2274.7 L422.0,2273.4 L424.0,2272.0 L426.0,2270.7 L428.0,2269.4 L430.0,2268.2 L432.0,2267.0 L434.0,2265.8 L436.0,2264.7 L438.0,2263.7 L440.0,2262.7 L442.0,2261.8 L444.0,2261.0 L446.0,2260.3 L448.0,2259.7 L450.0,2259.2 L452.0,2258.7 L454.0,2258.4 L456.0,2258.2 L458.0,2258.1 L460.0,2258.1 L462.0,2258.2 L464.0,2258.4 L466.0,2258.6 L468.0,2259.0 L470.0,2259.5 L472.0,2260.0 L474.0,2260.7 L476.0,2261.4 L478.0,2262.1 L480.0,2262.9 L482.0,2263.8 L484.0,2264.7 L486.0,2265.6 L488.0,2266.5 L490.0,2267.5 L492.0,2268.5 L494.1,2269.4 L496.1,2270.3 L498.1,2271.3 L500.1,2272.1 L502.1,2273.0 L504.1,2273.8 L506.1,2274.6 L508.1,2275.3 L510.1,2275.9 L512.1,2276.5 L514.1,2277.0 L516.1,2277.4 L518.1,2277.8 L520.1,2278.1 L522.1,2278.3 L524.1,2278.4 L526.1,2278.5 L528.1,2278.4 L530.1,2278.3 L532.1,2278.1 L534.1,2277.9 L536.1,2277.5 L538.1,2277.1 L540.1,2276.6 L542.1,2276.0 L544.1,2275.3 L546.1,2274.6 L548.1,2273.8 L550.1,2273.0 L552.1,2272.1 L554.1,2271.1 L556.1,2270.1 L558.1,2269.0 L560.1,2267.8 L562.1,2266.7 L564.1,2265.4 L566.1,2264.2 L568.1,2262.9 L570.1,2261.5 L572.1,2260.2 L574.1,2258.8 L576.1,2257.3 L578.1,2255.9 L580.1,2254.4 L582.1,2252.9 L584.1,2251.4 L586.1,2249.9 L588.2,2248.4 L590.2,2246.8 L592.2,2245.3 L594.2,2243.8 L596.2,2242.2 L598.2,2240.7 L600.2,2239.2 L602.2,2237.7 L604.2,2236.2 L606.2,2234.7 L608.2,2233.3 L610.2,2231.8 L612.2,2230.4 L614.2,2229.0 L616.2,2227.6 L618.2,2226.3 L620.2,2224.9 L622.2,2223.6 L624.2,2222.3 L626.2,2221.0 L628.2,2219.8 L630.2,2218.6 L632.2,2217.3 L634.2,2216.1 L636.2,2214.9 L638.2,2213.7 L640.2,2212.5 L642.2,2211.2 L644.2,2210.0 L646.2,2208.7 L648.2,2207.4 L650.2,2206.1 L652.2,2204.9 L654.2,2203.7 L656.2,2202.6 L658.2,2201.5 L660.2,2200.5 L662.2,2199.4 L664.2,2198.3 L666.2,2197.2 L668.2,2196.0 L670.2,2194.7 L672.2,2193.4 L674.2,2191.9 L676.2,2190.2 L678.2,2188.5 L680.2,2186.6 L682.3,2184.6 L684.3,2182.4 L686.3,2180.1 L688.3,2177.6 L690.3,2175.0 L692.3,2172.3 L694.3,2169.5 L696.3,2166.7 L698.3,2163.8 L700.3,2160.9 L702.3,2158.1 L704.3,2155.3 L706.3,2152.6 L708.3,2150.0 L710.3,2147.7 L712.3,2145.5 L714.3,2143.6 L716.3,2142.0 L718.3,2140.7 L720.3,2139.7 L722.3,2139.2 L724.3,2139.0 L726.3,2139.3 L728.3,2139.9 L730.3,2141.0 L732.3,2142.4 L734.3,2144.0 L736.3,2145.9 L738.3,2148.0 L740.3,2150.4 L742.3,2153.0 L744.3,2155.8 L746.3,2158.9 L748.3,2162.2 L750.3,2165.6 L752.3,2169.3 L754.3,2173.2 L756.3,2177.2 L758.3,2181.3 L760.3,2185.6 L762.3,2189.9 L764.3,2194.4 L766.3,2198.9 L768.3,2203.5 L770.3,2208.1 L772.3,2212.7 L774.3,2217.3 L776.4,2221.8 L778.4,2226.4 L780.4,2230.8 L782.4,2235.2 L784.4,2239.6 L786.4,2243.8 L788.4,2247.9 L790.4,2251.9 L792.4,2255.8 L794.4,2259.6 L796.4,2263.2 L798.4,2266.7 L800.4,2270.0 L802.4,2273.2 L804.4,2276.2 L806.4,2279.1 L808.4,2281.8 L810.4,2284.4 L812.4,2286.8 L814.4,2289.0 L816.4,2291.1 L818.4,2293.1 L820.4,2294.9 L822.4,2296.6 L824.4,2298.1 L826.4,2299.5 L828.4,2300.8 L830.4,2302.0 L832.4,2303.0 L834.4,2304.0 L836.4,2304.8 L838.4,2305.5 L840.4,2306.1 L842.4,2306.6 L844.4,2307.1 L846.4,2307.4 L848.4,2307.6 L850.4,2307.8 L852.4,2307.8 L854.4,2307.8 L856.4,2307.7 L858.4,2307.5 L860.4,2307.2 L862.4,2306.9 L864.4,2306.4 L866.4,2305.9 L868.4,2305.3 L870.5,2304.6 L872.5,2303.8 L874.5,2302.9 L876.5,2301.9 L878.5,2300.9 L880.5,2299.7 L882.5,2298.5 L884.5,2297.2 L886.5,2295.7 L888.5,2294.2 L890.5,2292.6 L892.5,2291.0 L894.5,2289.2 L896.5,2287.4 L898.5,2285.4 L900.5,2283.4 L902.5,2281.4 L904.5,2279.3 L906.5,2277.1 L908.5,2274.9 L910.5,2272.6 L912.5,2270.3 L914.5,2268.0 L916.5,2265.7 L918.5,2263.4 L920.5,2261.1 L922.5,2258.9 L924.5,2256.6 L926.5,2254.5 L928.5,2252.4 L930.5,2250.4 L932.5,2248.4 L934.5,2246.6 L936.5,2244.9 L938.5,2243.4 L940.5,2242.0 L942.5,2240.7 L944.5,2239.6 L946.5,2238.7 L948.5,2238.0 L950.5,2237.4 L952.5,2237.1 L954.5,2237.0 L956.5,2237.0 L958.5,2237.3 L960.5,2237.8 L962.5,2238.4 L964.5,2239.3 L966.6,2240.4 L968.6,2241.7 L970.6,2243.2 L972.6,2244.8 L974.6,2246.5 L976.6,2248.4 L978.6,2250.5 L980.6,2252.6 L982.6,2254.8 L984.6,2257.1 L986.6,2259.4 L988.6,2261.8 L990.6,2264.2 L992.6,2266.6 L994.6,2269.0 L996.6,2271.3 L998.6,2273.6 L1000.6,2275.8 L1002.6,2277.9 L1004.6,2279.9 L1006.6,2281.8 L1008.6,2283.5 L1010.6,2285.1 L1012.6,2286.5 L1014.6,2287.8 L1016.6,2288.9 L1018.6,2289.7 L1020.6,2290.4 L1022.6,2290.8 L1024.6,2291.0 L1026.6,2291.0 L1028.6,2290.7 L1030.6,2290.2 L1032.6,2289.4 L1034.6,2288.3 L1036.6,2287.0 L1038.6,2285.4 L1040.6,2283.5 L1042.6,2281.4 L1044.6,2279.0 L1046.6,2276.3 L1048.6,2273.4 L1050.6,2270.1 L1052.6,2266.6 L1054.6,2262.9 L1056.6,2258.9 L1058.6,2254.6 L1060.7,2250.1 L1062.7,2245.4 L1064.7,2240.4 L1066.7,2235.3 L1068.7,2229.9 L1070.7,2224.4 L1072.7,2218.6 L1074.7,2212.8 L1076.7,2206.8 L1078.7,2200.7 L1080.7,2194.5 L1082.7,2188.3 L1084.7,2182.0 L1086.7,2175.7 L1088.7,2169.5 L1090.7,2163.4 L1092.7,2157.3 L1094.7,2151.4 L1096.7,2145.6 L1098.7,2140.0 L1100.7,2134.7 L1102.7,2129.6 L1104.7,2124.7 L1106.7,2120.1 L1108.7,2115.8 L1110.7,2111.7 L1112.7,2108.0 L1114.7,2104.5 L1116.7,2101.2 L1118.7,2098.3 L1120.7,2095.7 L1122.7,2093.3 L1124.7,2091.2 L1126.7,2089.3 L1128.7,2087.5 L1130.7,2085.9 L1132.7,2084.3 L1134.7,2082.7 L1136.7,2081.0 L1138.7,2079.3 L1140.7,2077.4 L1142.7,2075.3 L1144.7,2072.9 L1146.7,2070.4 L1148.7,2067.4 L1150.7,2064.2 L1152.7,2060.6 L1154.8,2056.6 L1156.8,2052.3 L1158.8,2047.5 L1160.8,2042.4 L1162.8,2036.8 L1164.8,2031.0 L1166.8,2024.8 L1168.8,2018.3 L1170.8,2011.6 L1172.8,2004.7 L1174.8,1997.8 L1176.8,1990.9 L1178.8,1984.1 L1180.8,1977.6 L1182.8,1971.4 L1184.8,1965.8 L1186.8,1960.8 L1188.8,1956.6 L1190.8,1953.4 L1192.8,1951.1 L1194.8,1950.0 L1196.8,1950.1 L1198.8,1951.5 L1200.8,1954.2 L1202.8,1958.1 L1204.8,1963.2 L1206.8,1969.5 L1208.8,1976.8 L1210.8,1985.2 L1212.8,1994.4 L1214.8,2004.4 L1216.8,2015.0 L1218.8,2026.0 L1220.8,2037.5 L1222.8,2049.2 L1224.8,2061.0 L1226.8,2072.9 L1228.8,2084.8 L1230.8,2096.6 L1232.8,2108.1 L1234.8,2119.5 L1236.8,2130.6 L1238.8,2141.4 L1240.8,2151.9 L1242.8,2162.1 L1244.8,2171.8 L1246.8,2181.3 L1248.9,2190.3 L1250.9,2199.0 L1252.9,2207.3 L1254.9,2215.3 L1256.9,2222.9 L1258.9,2230.2 L1260.9,2237.2 L1262.9,2243.9 L1264.9,2250.2 L1266.9,2256.3 L1268.9,2262.1 L1270.9,2267.6 L1272.9,2272.8 L1274.9,2277.9 L1276.9,2282.6 L1278.9,2287.2 L1280.9,2291.5 L1282.9,2295.6 L1284.9,2299.6 L1286.9,2303.3 L1288.9,2306.9 L1290.9,2310.3 L1292.9,2313.5 L1294.9,2316.5 L1296.9,2319.4 L1298.9,2322.2 L1300.9,2324.8 L1302.9,2327.3 L1304.9,2329.6 L1306.9,2331.9 L1308.9,2334.1 L1310.9,2336.2 L1312.9,2338.2 L1314.9,2340.2 L1316.9,2342.0 L1318.9,2343.8 L1320.9,2345.5 L1322.9,2347.2 L1324.9,2348.8 L1326.9,2350.3 L1328.9,2351.8 L1330.9,2353.2 L1332.9,2354.5 L1334.9,2355.8 L1336.9,2357.1 L1338.9,2358.3 L1340.9,2359.5 L1343.0,2360.6 L1345.0,2361.7 L1347.0,2362.8 L1349.0,2363.8 L1351.0,2364.8 L1353.0,2365.7 L1355.0,2366.7 L1357.0,2367.5 L1359.0,2368.4 L1361.0,2369.2 L1363.0,2370.0 L1365.0,2370.8 L1367.0,2371.6 L1369.0,2372.3 L1371.0,2373.0 L1373.0,2373.7 L1375.0,2374.4 L1377.0,2375.0 L1379.0,2375.6 L1381.0,2376.2 L1383.0,2376.8 L1385.0,2377.4 L1387.0,2377.9 L1389.0,2378.5 L1391.0,2379.0 L1393.0,2379.5 L1395.0,2380.0 L1397.0,2380.4 L1399.0,2380.9 L1401.0,2381.3 L1403.0,2381.8 L1405.0,2382.2 L1407.0,2382.6 L1409.0,2383.0 L1411.0,2383.3 L1413.0,2383.6 L1415.0,2383.8 L1417.0,2384.0 L1419.0,2384.2 L1421.0,2384.4 L1423.0,2384.5 L1425.0,2384.6 L1427.0,2384.6 L1429.0,2384.7 L1431.0,2384.7 L1433.0,2384.7 L1435.0,2384.6 L1437.0,2384.6 L1439.1,2384.5 L1441.1,2384.5 L1443.1,2384.4 L1445.1,2384.3 L1447.1,2384.2 L1449.1,2384.0 L1451.1,2383.9 L1453.1,2383.8 L1455.1,2383.7 L1457.1,2383.5 L1459.1,2383.4 L1461.1,2383.3 L1463.1,2383.2 L1465.1,2383.1 L1467.1,2383.0 L1469.1,2382.9 L1471.1,2382.8 L1473.1,2382.7 L1475.1,2382.6 L1477.1,2382.5 L1479.1,2382.3 L1481.1,2382.2 L1483.1,2382.1 L1485.1,2381.9 L1487.1,2381.8 L1489.1,2381.6 L1491.1,2381.5 L1493.1,2381.3 L1495.1,2381.1 L1497.1,2381.0 L1499.1,2380.8 L1501.1,2380.6 L1503.1,2380.5 L1505.1,2380.3 L1507.1,2380.1 L1509.1,2379.9 L1511.1,2379.7 L1513.1,2379.5 L1515.1,2379.4 L1517.1,2379.2 L1519.1,2379.0 L1521.1,2378.8 L1523.1,2378.6 L1525.1,2378.4 L1527.1,2378.3 L1529.1,2378.1 L1531.1,2377.9 L1533.2,2377.7 L1535.2,2377.6 L1537.2,2377.4 L1539.2,2377.3 L1541.2,2377.3 L1543.2,2377.2 L1545.2,2377.1 L1547.2,2377.0 L1549.2,2376.9 L1551.2,2376.7 L1553.2,2376.5 L1555.2,2376.3 L1557.2,2376.0 L1559.2,2375.7 L1561.2,2375.3 L1563.2,2374.3 L1565.2,2372.6 L1567.2,2370.1 L1569.2,2366.9 L1571.2,2363.2 L1573.2,2359.1 L1575.2,2354.6 L1577.2,2349.8 L1579.2,2344.9" stroke="#ff0000" stroke-width="5.5" fill="none" stroke-linejoin="round"/>
<path d="M161.7,2283.5 L163.7,2284.0 L165.7,2284.5 L167.7,2284.9 L169.7,2285.4 L171.7,2285.8 L173.7,2286.3 L175.7,2286.7 L177.7,2287.1 L179.7,2287.6 L181.7,2288.0 L183.7,2288.4 L185.7,2288.8 L187.7,2289.2 L189.7,2289.5 L191.7,2289.9 L193.7,2290.3 L195.7,2290.7 L197.7,2291.1 L199.7,2291.5 L201.7,2291.8 L203.7,2292.2 L205.7,2292.6 L207.7,2293.0 L209.8,2293.4 L211.8,2293.7 L213.8,2294.1 L215.8,2294.5 L217.8,2294.8 L219.8,2295.2 L221.8,2295.5 L223.8,2295.9 L225.8,2296.2 L227.8,2296.5 L229.8,2296.8 L231.8,2297.2 L233.8,2297.5 L235.8,2297.8 L237.8,2298.1 L239.8,2298.3 L241.8,2298.6 L243.8,2298.9 L245.8,2299.1 L247.8,2299.3 L249.8,2299.6 L251.8,2299.8 L253.8,2300.0 L255.8,2300.2 L257.8,2300.3 L259.8,2300.5 L261.8,2300.7 L263.8,2300.8 L265.8,2301.0 L267.8,2301.2 L269.8,2301.3 L271.8,2301.5 L273.8,2301.6 L275.8,2301.7 L277.8,2301.9 L279.8,2302.0 L281.8,2302.1 L283.8,2302.3 L285.8,2302.4 L287.8,2302.5 L289.8,2302.6 L291.8,2302.7 L293.8,2302.8 L295.8,2303.0 L297.8,2303.1 L299.8,2303.2 L301.8,2303.3 L303.9,2303.4 L305.9,2303.4 L307.9,2303.5 L309.9,2303.6 L311.9,2303.7 L313.9,2303.8 L315.9,2303.9 L317.9,2304.0 L319.9,2304.0 L321.9,2304.1 L323.9,2304.2 L325.9,2304.3 L327.9,2304.3 L329.9,2304.4 L331.9,2304.5 L333.9,2304.5 L335.9,2304.6 L337.9,2304.6 L339.9,2304.7 L341.9,2304.7 L343.9,2304.8 L345.9,2304.8 L347.9,2304.9 L349.9,2304.9 L351.9,2305.0 L353.9,2305.0 L355.9,2305.0 L357.9,2305.1 L359.9,2305.1 L361.9,2305.2 L363.9,2305.2 L365.9,2305.2 L367.9,2305.3 L369.9,2305.3 L371.9,2305.3 L373.9,2305.4 L375.9,2305.4 L377.9,2305.5 L379.9,2305.5 L381.9,2305.6 L383.9,2305.6 L385.9,2305.7 L387.9,2305.7 L389.9,2305.8 L391.9,2305.8 L393.9,2305.9 L395.9,2305.9 L397.9,2306.0 L400.0,2306.0 L402.0,2306.1 L404.0,2306.1 L406.0,2306.2 L408.0,2306.3 L410.0,2306.3 L412.0,2306.4 L414.0,2306.4 L416.0,2306.5 L418.0,2306.5 L420.0,2306.6 L422.0,2306.7 L424.0,2306.7 L426.0,2306.8 L428.0,2306.8 L430.0,2306.9 L432.0,2307.0 L434.0,2307.0 L436.0,2307.1 L438.0,2307.1 L440.0,2307.2 L442.0,2307.2 L444.0,2307.3 L446.0,2307.3 L448.0,2307.4 L450.0,2307.4 L452.0,2307.5 L454.0,2307.5 L456.0,2307.5 L458.0,2307.6 L460.0,2307.6 L462.0,2307.6 L464.0,2307.7 L466.0,2307.7 L468.0,2307.7 L470.0,2307.8 L472.0,2307.8 L474.0,2307.8 L476.0,2307.8 L478.0,2307.8 L480.0,2307.9 L482.0,2307.9 L484.0,2307.9 L486.0,2307.9 L488.0,2307.9 L490.0,2307.9 L492.0,2307.9 L494.1,2307.9 L496.1,2307.9 L498.1,2307.9 L500.1,2307.9 L502.1,2307.9 L504.1,2307.9 L506.1,2307.9 L508.1,2307.8 L510.1,2307.8 L512.1,2307.8 L514.1,2307.8 L516.1,2307.8 L518.1,2307.7 L520.1,2307.7 L522.1,2307.7 L524.1,2307.6 L526.1,2307.6 L528.1,2307.6 L530.1,2307.5 L532.1,2307.5 L534.1,2307.4 L536.1,2307.4 L538.1,2307.3 L540.1,2307.3 L542.1,2307.2 L544.1,2307.1 L546.1,2307.1 L548.1,2307.0 L550.1,2306.9 L552.1,2306.9 L554.1,2306.8 L556.1,2306.7 L558.1,2306.6 L560.1,2306.5 L562.1,2306.4 L564.1,2306.3 L566.1,2306.2 L568.1,2306.1 L570.1,2306.0 L572.1,2305.9 L574.1,2305.8 L576.1,2305.6 L578.1,2305.5 L580.1,2305.4 L582.1,2305.2 L584.1,2305.1 L586.1,2305.0 L588.2,2304.8 L590.2,2304.6 L592.2,2304.5 L594.2,2304.3 L596.2,2304.1 L598.2,2304.0 L600.2,2303.8 L602.2,2303.6 L604.2,2303.3 L606.2,2303.1 L608.2,2302.9 L610.2,2302.6 L612.2,2302.3 L614.2,2302.1 L616.2,2301.7 L618.2,2301.4 L620.2,2301.0 L622.2,2300.7 L624.2,2300.2 L626.2,2299.8 L628.2,2299.3 L630.2,2298.7 L632.2,2298.1 L634.2,2297.4 L636.2,2296.7 L638.2,2295.9 L640.2,2295.0 L642.2,2294.0 L644.2,2292.9 L646.2,2291.7 L648.2,2290.4 L650.2,2288.9 L652.2,2287.3 L654.2,2285.6 L656.2,2283.7 L658.2,2281.6 L660.2,2279.4 L662.2,2276.9 L664.2,2274.3 L666.2,2271.4 L668.2,2268.4 L670.2,2265.1 L672.2,2261.6 L674.2,2257.9 L676.2,2254.0 L678.2,2249.8 L680.2,2245.5 L682.3,2241.0 L684.3,2236.3 L686.3,2231.5 L688.3,2226.5 L690.3,2221.5 L692.3,2216.3 L694.3,2211.2 L696.3,2206.0 L698.3,2200.8 L700.3,2195.7 L702.3,2190.7 L704.3,2185.8 L706.3,2181.2 L708.3,2176.7 L710.3,2172.6 L712.3,2168.7 L714.3,2165.2 L716.3,2162.1 L718.3,2159.4 L720.3,2157.2 L722.3,2155.4 L724.3,2154.2 L726.3,2153.4 L728.3,2153.2 L730.3,2153.4 L732.3,2154.0 L734.3,2155.0 L736.3,2156.2 L738.3,2157.8 L740.3,2159.7 L742.3,2161.8 L744.3,2164.3 L746.3,2167.1 L748.3,2170.1 L750.3,2173.3 L752.3,2176.8 L754.3,2180.5 L756.3,2184.4 L758.3,2188.4 L760.3,2192.6 L762.3,2196.9 L764.3,2201.4 L766.3,2205.9 L768.3,2210.5 L770.3,2215.1 L772.3,2219.8 L774.3,2224.5 L776.4,2229.1 L778.4,2233.8 L780.4,2238.4 L782.4,2242.9 L784.4,2247.4 L786.4,2251.8 L788.4,2256.1 L790.4,2260.3 L792.4,2264.4 L794.4,2268.4 L796.4,2272.3 L798.4,2276.0 L800.4,2279.6 L802.4,2283.0 L804.4,2286.3 L806.4,2289.5 L808.4,2292.5 L810.4,2295.4 L812.4,2298.2 L814.4,2300.8 L816.4,2303.2 L818.4,2305.6 L820.4,2307.8 L822.4,2309.9 L824.4,2311.9 L826.4,2313.7 L828.4,2315.5 L830.4,2317.1 L832.4,2318.7 L834.4,2320.1 L836.4,2321.5 L838.4,2322.7 L840.4,2323.9 L842.4,2325.1 L844.4,2326.1 L846.4,2327.1 L848.4,2328.0 L850.4,2328.9 L852.4,2329.7 L854.4,2330.5 L856.4,2331.2 L858.4,2331.8 L860.4,2332.5 L862.4,2333.1 L864.4,2333.6 L866.4,2334.2 L868.4,2334.7 L870.5,2335.1 L872.5,2335.6 L874.5,2336.0 L876.5,2336.4 L878.5,2336.8 L880.5,2337.2 L882.5,2337.5 L884.5,2337.9 L886.5,2338.2 L888.5,2338.5 L890.5,2338.8 L892.5,2339.1 L894.5,2339.4 L896.5,2339.6 L898.5,2339.9 L900.5,2340.2 L902.5,2340.4 L904.5,2340.7 L906.5,2340.9 L908.5,2341.1 L910.5,2341.4 L912.5,2341.6 L914.5,2341.8 L916.5,2342.0 L918.5,2342.2 L920.5,2342.5 L922.5,2342.7 L924.5,2342.9 L926.5,2343.1 L928.5,2343.3 L930.5,2343.5 L932.5,2343.7 L934.5,2343.9 L936.5,2344.1 L938.5,2344.4 L940.5,2344.6 L942.5,2344.8 L944.5,2345.0 L946.5,2345.2 L948.5,2345.4 L950.5,2345.6 L952.5,2345.9 L954.5,2346.1 L956.5,2346.3 L958.5,2346.5 L960.5,2346.8 L962.5,2347.0 L964.5,2347.3 L966.6,2347.5 L968.6,2347.8 L970.6,2348.0 L972.6,2348.3 L974.6,2348.6 L976.6,2348.8 L978.6,2349.1 L980.6,2349.4 L982.6,2349.6 L984.6,2349.9 L986.6,2350.2 L988.6,2350.5 L990.6,2350.7 L992.6,2351.0 L994.6,2351.3 L996.6,2351.6 L998.6,2351.9 L1000.6,2352.1 L1002.6,2352.4 L1004.6,2352.7 L1006.6,2353.0 L1008.6,2353.2 L1010.6,2353.5 L1012.6,2353.8 L1014.6,2354.1 L1016.6,2354.4 L1018.6,2354.7 L1020.6,2355.0 L1022.6,2355.3 L1024.6,2355.6 L1026.6,2355.9 L1028.6,2356.2 L1030.6,2356.5 L1032.6,2356.8 L1034.6,2357.1 L1036.6,2357.4 L1038.6,2357.7 L1040.6,2358.1 L1042.6,2358.4 L1044.6,2358.7 L1046.6,2359.0 L1048.6,2359.3 L1050.6,2359.7 L1052.6,2360.0 L1054.6,2360.3 L1056.6,2360.6 L1058.6,2361.0 L1060.7,2361.3 L1062.7,2361.6 L1064.7,2361.9 L1066.7,2362.3 L1068.7,2362.6 L1070.7,2362.9 L1072.7,2363.3 L1074.7,2363.6 L1076.7,2363.9 L1078.7,2364.2 L1080.7,2364.6 L1082.7,2364.9 L1084.7,2365.2 L1086.7,2365.5 L1088.7,2365.9 L1090.7,2366.2 L1092.7,2366.5 L1094.7,2366.9 L1096.7,2367.2 L1098.7,2367.5 L1100.7,2367.8 L1102.7,2368.1 L1104.7,2368.5 L1106.7,2368.8 L1108.7,2369.1 L1110.7,2369.4 L1112.7,2369.8 L1114.7,2370.1 L1116.7,2370.4 L1118.7,2370.7 L1120.7,2371.1 L1122.7,2371.4 L1124.7,2371.7 L1126.7,2372.0 L1128.7,2372.4 L1130.7,2372.7 L1132.7,2373.0 L1134.7,2373.4 L1136.7,2373.7 L1138.7,2374.0 L1140.7,2374.4 L1142.7,2374.7 L1144.7,2375.0 L1146.7,2375.4 L1148.7,2375.7 L1150.7,2376.0 L1152.7,2376.4 L1154.8,2376.7 L1156.8,2377.0 L1158.8,2377.4 L1160.8,2377.7 L1162.8,2378.1 L1164.8,2378.4 L1166.8,2378.7 L1168.8,2379.1 L1170.8,2379.4 L1172.8,2379.7 L1174.8,2380.1 L1176.8,2380.4 L1178.8,2380.8 L1180.8,2381.1 L1182.8,2381.4 L1184.8,2381.8 L1186.8,2382.1 L1188.8,2382.5 L1190.8,2382.8 L1192.8,2383.2 L1194.8,2383.5 L1196.8,2383.8 L1198.8,2384.2 L1200.8,2384.5 L1202.8,2384.9 L1204.8,2385.2 L1206.8,2385.6 L1208.8,2385.9 L1210.8,2386.2 L1212.8,2386.6 L1214.8,2386.9 L1216.8,2387.3 L1218.8,2387.6 L1220.8,2388.0 L1222.8,2388.3 L1224.8,2388.7 L1226.8,2389.0 L1228.8,2389.4 L1230.8,2389.8 L1232.8,2390.1 L1234.8,2390.5 L1236.8,2391.0 L1238.8,2391.4 L1240.8,2391.8 L1242.8,2392.2 L1244.8,2392.7 L1246.8,2393.1 L1248.9,2393.6 L1250.9,2394.0 L1252.9,2394.5 L1254.9,2394.9 L1256.9,2395.4 L1258.9,2395.8 L1260.9,2396.2 L1262.9,2396.7 L1264.9,2397.1 L1266.9,2397.5 L1268.9,2397.9 L1270.9,2398.3 L1272.9,2398.7 L1274.9,2399.1 L1276.9,2399.4 L1278.9,2399.7 L1280.9,2400.1 L1282.9,2400.4 L1284.9,2400.6 L1286.9,2400.9 L1288.9,2401.1 L1290.9,2401.4 L1292.9,2401.5 L1294.9,2401.7 L1296.9,2401.8 L1298.9,2402.0 L1300.9,2402.0 L1302.9,2402.1 L1304.9,2402.2 L1306.9,2402.3 L1308.9,2402.3 L1310.9,2402.4 L1312.9,2402.5 L1314.9,2402.5 L1316.9,2402.6 L1318.9,2402.7 L1320.9,2402.7 L1322.9,2402.8 L1324.9,2402.9 L1326.9,2402.9 L1328.9,2403.0 L1330.9,2403.1 L1332.9,2403.1 L1334.9,2403.2 L1336.9,2403.2 L1338.9,2403.3 L1340.9,2403.3 L1343.0,2403.4 L1345.0,2403.4 L1347.0,2403.5 L1349.0,2403.5 L1351.0,2403.6 L1353.0,2403.6 L1355.0,2403.7 L1357.0,2403.7 L1359.0,2403.8 L1361.0,2403.8 L1363.0,2403.8 L1365.0,2403.9 L1367.0,2403.9 L1369.0,2403.9 L1371.0,2404.0 L1373.0,2404.0 L1375.0,2404.0 L1377.0,2404.1 L1379.0,2404.1 L1381.0,2404.1 L1383.0,2404.1 L1385.0,2404.1 L1387.0,2404.2 L1389.0,2404.2 L1391.0,2404.2 L1393.0,2404.2 L1395.0,2404.2 L1397.0,2404.2 L1399.0,2404.3 L1401.0,2404.3 L1403.0,2404.3 L1405.0,2404.3 L1407.0,2404.3 L1409.0,2404.3 L1411.0,2404.2 L1413.0,2404.2 L1415.0,2404.0 L1417.0,2403.9 L1419.0,2403.7 L1421.0,2403.6 L1423.0,2403.4 L1425.0,2403.1 L1427.0,2402.9 L1429.0,2402.6 L1431.0,2402.3 L1433.0,2402.0 L1435.0,2401.7 L1437.0,2401.4 L1439.1,2401.1 L1441.1,2400.7 L1443.1,2400.4 L1445.1,2400.0 L1447.1,2399.7 L1449.1,2399.3 L1451.1,2399.0 L1453.1,2398.6 L1455.1,2398.3 L1457.1,2397.9 L1459.1,2397.6 L1461.1,2397.3 L1463.1,2397.0 L1465.1,2396.7 L1467.1,2396.4 L1469.1,2396.1 L1471.1,2395.8 L1473.1,2395.5 L1475.1,2395.2 L1477.1,2394.9 L1479.1,2394.6 L1481.1,2394.3 L1483.1,2394.0 L1485.1,2393.7 L1487.1,2393.4 L1489.1,2393.1 L1491.1,2392.8 L1493.1,2392.5 L1495.1,2392.2 L1497.1,2391.9 L1499.1,2391.6 L1501.1,2391.3 L1503.1,2390.9 L1505.1,2390.6 L1507.1,2390.3 L1509.1,2390.0 L1511.1,2389.7 L1513.1,2389.4 L1515.1,2389.1 L1517.1,2388.8 L1519.1,2388.5 L1521.1,2388.2 L1523.1,2387.9 L1525.1,2387.6 L1527.1,2387.3 L1529.1,2387.0 L1531.1,2386.7 L1533.2,2386.5 L1535.2,2386.2 L1537.2,2386.0 L1539.2,2385.8 L1541.2,2385.6 L1543.2,2385.4 L1545.2,2385.2 L1547.2,2385.1 L1549.2,2384.8 L1551.2,2384.6 L1553.2,2384.3 L1555.2,2384.0 L1557.2,2383.7 L1559.2,2383.3 L1561.2,2382.8 L1563.2,2381.7 L1565.2,2379.9 L1567.2,2377.3 L1569.2,2374.1 L1571.2,2370.3 L1573.2,2366.1 L1575.2,2361.5 L1577.2,2356.7 L1579.2,2351.7 L1579.2,2352.1 L1577.2,2357.2 L1575.2,2362.0 L1573.2,2366.6 L1571.2,2370.8 L1569.2,2374.6 L1567.2,2377.8 L1565.2,2380.4 L1563.2,2382.2 L1561.2,2383.2 L1559.2,2383.7 L1557.2,2384.2 L1555.2,2384.5 L1553.2,2384.8 L1551.2,2385.1 L1549.2,2385.3 L1547.2,2385.5 L1545.2,2385.7 L1543.2,2385.9 L1541.2,2386.1 L1539.2,2386.3 L1537.2,2386.5 L1535.2,2386.7 L1533.2,2387.0 L1531.1,2387.3 L1529.1,2387.5 L1527.1,2387.8 L1525.1,2388.1 L1523.1,2388.4 L1521.1,2388.7 L1519.1,2389.0 L1517.1,2389.3 L1515.1,2389.6 L1513.1,2389.9 L1511.1,2390.2 L1509.1,2390.6 L1507.1,2390.9 L1505.1,2391.2 L1503.1,2391.5 L1501.1,2391.8 L1499.1,2392.1 L1497.1,2392.4 L1495.1,2392.8 L1493.1,2393.1 L1491.1,2393.4 L1489.1,2393.7 L1487.1,2394.0 L1485.1,2394.3 L1483.1,2394.6 L1481.1,2394.9 L1479.1,2395.2 L1477.1,2395.5 L1475.1,2395.8 L1473.1,2396.1 L1471.1,2396.4 L1469.1,2396.7 L1467.1,2397.0 L1465.1,2397.3 L1463.1,2397.6 L1461.1,2397.9 L1459.1,2398.2 L1457.1,2398.6 L1455.1,2398.9 L1453.1,2399.3 L1451.1,2399.6 L1449.1,2400.0 L1447.1,2400.3 L1445.1,2400.7 L1443.1,2401.0 L1441.1,2401.4 L1439.1,2401.7 L1437.0,2402.1 L1435.0,2402.4 L1433.0,2402.7 L1431.0,2403.0 L1429.0,2403.3 L1427.0,2403.6 L1425.0,2403.8 L1423.0,2404.0 L1421.0,2404.2 L1419.0,2404.4 L1417.0,2404.6 L1415.0,2404.7 L1413.0,2404.9 L1411.0,2404.9 L1409.0,2405.0 L1407.0,2405.0 L1405.0,2405.0 L1403.0,2405.0 L1401.0,2405.0 L1399.0,2405.0 L1397.0,2405.0 L1395.0,2405.0 L1393.0,2405.0 L1391.0,2405.0 L1389.0,2404.9 L1387.0,2404.9 L1385.0,2404.9 L1383.0,2404.9 L1381.0,2404.9 L1379.0,2404.9 L1377.0,2404.8 L1375.0,2404.8 L1373.0,2404.8 L1371.0,2404.8 L1369.0,2404.7 L1367.0,2404.7 L1365.0,2404.7 L1363.0,2404.6 L1361.0,2404.6 L1359.0,2404.6 L1357.0,2404.5 L1355.0,2404.5 L1353.0,2404.5 L1351.0,2404.4 L1349.0,2404.4 L1347.0,2404.3 L1345.0,2404.3 L1343.0,2404.3 L1340.9,2404.2 L1338.9,2404.2 L1336.9,2404.1 L1334.9,2404.1 L1332.9,2404.0 L1330.9,2404.0 L1328.9,2403.9 L1326.9,2403.9 L1324.9,2403.8 L1322.9,2403.7 L1320.9,2403.7 L1318.9,2403.6 L1316.9,2403.6 L1314.9,2403.5 L1312.9,2403.4 L1310.9,2403.4 L1308.9,2403.3 L1306.9,2403.2 L1304.9,2403.2 L1302.9,2403.1 L1300.9,2403.0 L1298.9,2403.0 L1296.9,2402.9 L1294.9,2402.7 L1292.9,2402.6 L1290.9,2402.4 L1288.9,2402.2 L1286.9,2401.9 L1284.9,2401.7 L1282.9,2401.4 L1280.9,2401.1 L1278.9,2400.8 L1276.9,2400.5 L1274.9,2400.1 L1272.9,2399.8 L1270.9,2399.4 L1268.9,2399.0 L1266.9,2398.6 L1264.9,2398.2 L1262.9,2397.8 L1260.9,2397.4 L1258.9,2397.0 L1256.9,2396.5 L1254.9,2396.1 L1252.9,2395.7 L1250.9,2395.2 L1248.9,2394.8 L1246.8,2394.3 L1244.8,2393.9 L1242.8,2393.5 L1240.8,2393.0 L1238.8,2392.6 L1236.8,2392.2 L1234.8,2391.8 L1232.8,2391.4 L1230.8,2391.0 L1228.8,2390.7 L1226.8,2390.3 L1224.8,2390.0 L1222.8,2389.6 L1220.8,2389.3 L1218.8,2389.0 L1216.8,2388.6 L1214.8,2388.3 L1212.8,2388.0 L1210.8,2387.6 L1208.8,2387.3 L1206.8,2387.0 L1204.8,2386.6 L1202.8,2386.3 L1200.8,2386.0 L1198.8,2385.6 L1196.8,2385.3 L1194.8,2385.0 L1192.8,2384.7 L1190.8,2384.3 L1188.8,2384.0 L1186.8,2383.7 L1184.8,2383.3 L1182.8,2383.0 L1180.8,2382.7 L1178.8,2382.4 L1176.8,2382.0 L1174.8,2381.7 L1172.8,2381.4 L1170.8,2381.0 L1168.8,2380.7 L1166.8,2380.4 L1164.8,2380.1 L1162.8,2379.8 L1160.8,2379.4 L1158.8,2379.1 L1156.8,2378.8 L1154.8,2378.5 L1152.7,2378.1 L1150.7,2377.8 L1148.7,2377.5 L1146.7,2377.2 L1144.7,2376.9 L1142.7,2376.6 L1140.7,2376.2 L1138.7,2375.9 L1136.7,2375.6 L1134.7,2375.3 L1132.7,2375.0 L1130.7,2374.7 L1128.7,2374.4 L1126.7,2374.1 L1124.7,2373.7 L1122.7,2373.4 L1120.7,2373.1 L1118.7,2372.8 L1116.7,2372.5 L1114.7,2372.2 L1112.7,2371.9 L1110.7,2371.6 L1108.7,2371.3 L1106.7,2371.0 L1104.7,2370.7 L1102.7,2370.4 L1100.7,2370.1 L1098.7,2369.8 L1096.7,2369.5 L1094.7,2369.2 L1092.7,2368.9 L1090.7,2368.6 L1088.7,2368.3 L1086.7,2368.0 L1084.7,2367.7 L1082.7,2367.4 L1080.7,2367.1 L1078.7,2366.8 L1076.7,2366.5 L1074.7,2366.2 L1072.7,2365.9 L1070.7,2365.6 L1068.7,2365.3 L1066.7,2365.0 L1064.7,2364.7 L1062.7,2364.4 L1060.7,2364.1 L1058.6,2363.8 L1056.6,2363.5 L1054.6,2363.2 L1052.6,2363.0 L1050.6,2362.7 L1048.6,2362.4 L1046.6,2362.1 L1044.6,2361.8 L1042.6,2361.5 L1040.6,2361.2 L1038.6,2361.0 L1036.6,2360.7 L1034.6,2360.4 L1032.6,2360.2 L1030.6,2359.9 L1028.6,2359.6 L1026.6,2359.4 L1024.6,2359.1 L1022.6,2358.8 L1020.6,2358.6 L1018.6,2358.3 L1016.6,2358.1 L1014.6,2357.8 L1012.6,2357.6 L1010.6,2357.4 L1008.6,2357.1 L1006.6,2356.9 L1004.6,2356.7 L1002.6,2356.5 L1000.6,2356.2 L998.6,2356.0 L996.6,2355.8 L994.6,2355.6 L992.6,2355.4 L990.6,2355.1 L988.6,2354.9 L986.6,2354.7 L984.6,2354.5 L982.6,2354.3 L980.6,2354.1 L978.6,2353.9 L976.6,2353.7 L974.6,2353.5 L972.6,2353.3 L970.6,2353.1 L968.6,2352.9 L966.6,2352.7 L964.5,2352.6 L962.5,2352.4 L960.5,2352.2 L958.5,2352.1 L956.5,2351.9 L954.5,2351.8 L952.5,2351.7 L950.5,2351.5 L948.5,2351.4 L946.5,2351.3 L944.5,2351.2 L942.5,2351.1 L940.5,2351.0 L938.5,2350.9 L936.5,2350.8 L934.5,2350.7 L932.5,2350.6 L930.5,2350.5 L928.5,2350.4 L926.5,2350.3 L924.5,2350.2 L922.5,2350.1 L920.5,2350.0 L918.5,2350.0 L916.5,2349.9 L914.5,2349.8 L912.5,2349.7 L910.5,2349.7 L908.5,2349.6 L906.5,2349.5 L904.5,2349.4 L902.5,2349.4 L900.5,2349.3 L898.5,2349.2 L896.5,2349.2 L894.5,2349.1 L892.5,2349.0 L890.5,2348.9 L888.5,2348.9 L886.5,2348.8 L884.5,2348.7 L882.5,2348.6 L880.5,2348.5 L878.5,2348.5 L876.5,2348.4 L874.5,2348.3 L872.5,2348.2 L870.5,2348.1 L868.4,2348.0 L866.4,2347.9 L864.4,2347.8 L862.4,2347.7 L860.4,2347.6 L858.4,2347.5 L856.4,2347.4 L854.4,2347.3 L852.4,2347.2 L850.4,2347.1 L848.4,2346.9 L846.4,2346.8 L844.4,2346.7 L842.4,2346.6 L840.4,2346.5 L838.4,2346.3 L836.4,2346.2 L834.4,2346.1 L832.4,2345.9 L830.4,2345.8 L828.4,2345.7 L826.4,2345.5 L824.4,2345.4 L822.4,2345.2 L820.4,2345.1 L818.4,2344.9 L816.4,2344.8 L814.4,2344.6 L812.4,2344.5 L810.4,2344.3 L808.4,2344.2 L806.4,2344.0 L804.4,2343.9 L802.4,2343.7 L800.4,2343.6 L798.4,2343.4 L796.4,2343.2 L794.4,2343.1 L792.4,2342.9 L790.4,2342.8 L788.4,2342.6 L786.4,2342.4 L784.4,2342.3 L782.4,2342.1 L780.4,2341.9 L778.4,2341.8 L776.4,2341.6 L774.3,2341.4 L772.3,2341.2 L770.3,2341.1 L768.3,2340.9 L766.3,2340.7 L764.3,2340.5 L762.3,2340.4 L760.3,2340.2 L758.3,2340.0 L756.3,2339.8 L754.3,2339.7 L752.3,2339.5 L750.3,2339.3 L748.3,2339.1 L746.3,2338.9 L744.3,2338.8 L742.3,2338.6 L740.3,2338.4 L738.3,2338.2 L736.3,2338.0 L734.3,2337.8 L732.3,2337.6 L730.3,2337.4 L728.3,2337.2 L726.3,2336.9 L724.3,2336.7 L722.3,2336.5 L720.3,2336.3 L718.3,2336.1 L716.3,2335.8 L714.3,2335.6 L712.3,2335.4 L710.3,2335.1 L708.3,2334.9 L706.3,2334.7 L704.3,2334.4 L702.3,2334.2 L700.3,2333.9 L698.3,2333.7 L696.3,2333.5 L694.3,2333.2 L692.3,2333.0 L690.3,2332.7 L688.3,2332.5 L686.3,2332.2 L684.3,2332.0 L682.3,2331.7 L680.2,2331.4 L678.2,2331.2 L676.2,2330.9 L674.2,2330.7 L672.2,2330.4 L670.2,2330.2 L668.2,2329.9 L666.2,2329.7 L664.2,2329.4 L662.2,2329.2 L660.2,2328.9 L658.2,2328.6 L656.2,2328.4 L654.2,2328.1 L652.2,2327.9 L650.2,2327.6 L648.2,2327.4 L646.2,2327.1 L644.2,2326.9 L642.2,2326.6 L640.2,2326.4 L638.2,2326.1 L636.2,2325.9 L634.2,2325.7 L632.2,2325.4 L630.2,2325.2 L628.2,2325.0 L626.2,2324.7 L624.2,2324.5 L622.2,2324.3 L620.2,2324.0 L618.2,2323.8 L616.2,2323.6 L614.2,2323.4 L612.2,2323.2 L610.2,2322.9 L608.2,2322.7 L606.2,2322.5 L604.2,2322.3 L602.2,2322.1 L600.2,2321.9 L598.2,2321.7 L596.2,2321.5 L594.2,2321.4 L592.2,2321.2 L590.2,2321.0 L588.2,2320.8 L586.1,2320.6 L584.1,2320.5 L582.1,2320.3 L580.1,2320.2 L578.1,2320.0 L576.1,2319.9 L574.1,2319.7 L572.1,2319.6 L570.1,2319.4 L568.1,2319.3 L566.1,2319.1 L564.1,2319.0 L562.1,2318.9 L560.1,2318.7 L558.1,2318.6 L556.1,2318.5 L554.1,2318.3 L552.1,2318.2 L550.1,2318.1 L548.1,2318.0 L546.1,2317.8 L544.1,2317.7 L542.1,2317.6 L540.1,2317.5 L538.1,2317.4 L536.1,2317.2 L534.1,2317.1 L532.1,2317.0 L530.1,2316.9 L528.1,2316.8 L526.1,2316.7 L524.1,2316.6 L522.1,2316.5 L520.1,2316.3 L518.1,2316.2 L516.1,2316.1 L514.1,2316.0 L512.1,2315.9 L510.1,2315.8 L508.1,2315.7 L506.1,2315.6 L504.1,2315.5 L502.1,2315.4 L500.1,2315.3 L498.1,2315.2 L496.1,2315.1 L494.1,2315.0 L492.0,2314.9 L490.0,2314.8 L488.0,2314.7 L486.0,2314.5 L484.0,2314.4 L482.0,2314.3 L480.0,2314.2 L478.0,2314.1 L476.0,2314.0 L474.0,2313.9 L472.0,2313.8 L470.0,2313.7 L468.0,2313.6 L466.0,2313.5 L464.0,2313.4 L462.0,2313.3 L460.0,2313.2 L458.0,2313.1 L456.0,2312.9 L454.0,2312.8 L452.0,2312.7 L450.0,2312.6 L448.0,2312.5 L446.0,2312.4 L444.0,2312.3 L442.0,2312.2 L440.0,2312.0 L438.0,2311.9 L436.0,2311.8 L434.0,2311.7 L432.0,2311.6 L430.0,2311.5 L428.0,2311.4 L426.0,2311.3 L424.0,2311.1 L422.0,2311.0 L420.0,2310.9 L418.0,2310.8 L416.0,2310.7 L414.0,2310.6 L412.0,2310.5 L410.0,2310.4 L408.0,2310.3 L406.0,2310.2 L404.0,2310.1 L402.0,2310.0 L400.0,2309.9 L397.9,2309.8 L395.9,2309.7 L393.9,2309.6 L391.9,2309.5 L389.9,2309.4 L387.9,2309.3 L385.9,2309.2 L383.9,2309.1 L381.9,2309.0 L379.9,2309.0 L377.9,2308.9 L375.9,2308.8 L373.9,2308.7 L371.9,2308.6 L369.9,2308.6 L367.9,2308.5 L365.9,2308.4 L363.9,2308.4 L361.9,2308.3 L359.9,2308.2 L357.9,2308.1 L355.9,2308.1 L353.9,2308.0 L351.9,2307.9 L349.9,2307.9 L347.9,2307.8 L345.9,2307.7 L343.9,2307.6 L341.9,2307.6 L339.9,2307.5 L337.9,2307.4 L335.9,2307.3 L333.9,2307.2 L331.9,2307.2 L329.9,2307.1 L327.9,2307.0 L325.9,2306.9 L323.9,2306.8 L321.9,2306.7 L319.9,2306.6 L317.9,2306.5 L315.9,2306.4 L313.9,2306.3 L311.9,2306.2 L309.9,2306.1 L307.9,2305.9 L305.9,2305.8 L303.9,2305.7 L301.8,2305.6 L299.8,2305.5 L297.8,2305.4 L295.8,2305.2 L293.8,2305.1 L291.8,2305.0 L289.8,2304.8 L287.8,2304.7 L285.8,2304.6 L283.8,2304.4 L281.8,2304.3 L279.8,2304.1 L277.8,2304.0 L275.8,2303.8 L273.8,2303.7 L271.8,2303.5 L269.8,2303.3 L267.8,2303.2 L265.8,2303.0 L263.8,2302.8 L261.8,2302.6 L259.8,2302.5 L257.8,2302.3 L255.8,2302.1 L253.8,2301.9 L251.8,2301.7 L249.8,2301.4 L247.8,2301.2 L245.8,2301.0 L243.8,2300.7 L241.8,2300.4 L239.8,2300.1 L237.8,2299.8 L235.8,2299.5 L233.8,2299.2 L231.8,2298.9 L229.8,2298.6 L227.8,2298.3 L225.8,2297.9 L223.8,2297.6 L221.8,2297.2 L219.8,2296.8 L217.8,2296.5 L215.8,2296.1 L213.8,2295.7 L211.8,2295.4 L209.8,2295.0 L207.7,2294.6 L205.7,2294.2 L203.7,2293.8 L201.7,2293.4 L199.7,2293.0 L197.7,2292.6 L195.7,2292.2 L193.7,2291.8 L191.7,2291.4 L189.7,2291.0 L187.7,2290.6 L185.7,2290.2 L183.7,2289.8 L181.7,2289.4 L179.7,2289.0 L177.7,2288.6 L175.7,2288.1 L173.7,2287.7 L171.7,2287.2 L169.7,2286.8 L167.7,2286.3 L165.7,2285.8 L163.7,2285.4 L161.7,2284.9Z" fill="url(#gd3)"/><path d="M161.7,2283.5 L163.7,2284.0 L165.7,2284.5 L167.7,2284.9 L169.7,2285.4 L171.7,2285.8 L173.7,2286.3 L175.7,2286.7 L177.7,2287.1 L179.7,2287.6 L181.7,2288.0 L183.7,2288.4 L185.7,2288.8 L187.7,2289.2 L189.7,2289.5 L191.7,2289.9 L193.7,2290.3 L195.7,2290.7 L197.7,2291.1 L199.7,2291.5 L201.7,2291.8 L203.7,2292.2 L205.7,2292.6 L207.7,2293.0 L209.8,2293.4 L211.8,2293.7 L213.8,2294.1 L215.8,2294.5 L217.8,2294.8 L219.8,2295.2 L221.8,2295.5 L223.8,2295.9 L225.8,2296.2 L227.8,2296.5 L229.8,2296.8 L231.8,2297.2 L233.8,2297.5 L235.8,2297.8 L237.8,2298.1 L239.8,2298.3 L241.8,2298.6 L243.8,2298.9 L245.8,2299.1 L247.8,2299.3 L249.8,2299.6 L251.8,2299.8 L253.8,2300.0 L255.8,2300.2 L257.8,2300.3 L259.8,2300.5 L261.8,2300.7 L263.8,2300.8 L265.8,2301.0 L267.8,2301.2 L269.8,2301.3 L271.8,2301.5 L273.8,2301.6 L275.8,2301.7 L277.8,2301.9 L279.8,2302.0 L281.8,2302.1 L283.8,2302.3 L285.8,2302.4 L287.8,2302.5 L289.8,2302.6 L291.8,2302.7 L293.8,2302.8 L295.8,2303.0 L297.8,2303.1 L299.8,2303.2 L301.8,2303.3 L303.9,2303.4 L305.9,2303.4 L307.9,2303.5 L309.9,2303.6 L311.9,2303.7 L313.9,2303.8 L315.9,2303.9 L317.9,2304.0 L319.9,2304.0 L321.9,2304.1 L323.9,2304.2 L325.9,2304.3 L327.9,2304.3 L329.9,2304.4 L331.9,2304.5 L333.9,2304.5 L335.9,2304.6 L337.9,2304.6 L339.9,2304.7 L341.9,2304.7 L343.9,2304.8 L345.9,2304.8 L347.9,2304.9 L349.9,2304.9 L351.9,2305.0 L353.9,2305.0 L355.9,2305.0 L357.9,2305.1 L359.9,2305.1 L361.9,2305.2 L363.9,2305.2 L365.9,2305.2 L367.9,2305.3 L369.9,2305.3 L371.9,2305.3 L373.9,2305.4 L375.9,2305.4 L377.9,2305.5 L379.9,2305.5 L381.9,2305.6 L383.9,2305.6 L385.9,2305.7 L387.9,2305.7 L389.9,2305.8 L391.9,2305.8 L393.9,2305.9 L395.9,2305.9 L397.9,2306.0 L400.0,2306.0 L402.0,2306.1 L404.0,2306.1 L406.0,2306.2 L408.0,2306.3 L410.0,2306.3 L412.0,2306.4 L414.0,2306.4 L416.0,2306.5 L418.0,2306.5 L420.0,2306.6 L422.0,2306.7 L424.0,2306.7 L426.0,2306.8 L428.0,2306.8 L430.0,2306.9 L432.0,2307.0 L434.0,2307.0 L436.0,2307.1 L438.0,2307.1 L440.0,2307.2 L442.0,2307.2 L444.0,2307.3 L446.0,2307.3 L448.0,2307.4 L450.0,2307.4 L452.0,2307.5 L454.0,2307.5 L456.0,2307.5 L458.0,2307.6 L460.0,2307.6 L462.0,2307.6 L464.0,2307.7 L466.0,2307.7 L468.0,2307.7 L470.0,2307.8 L472.0,2307.8 L474.0,2307.8 L476.0,2307.8 L478.0,2307.8 L480.0,2307.9 L482.0,2307.9 L484.0,2307.9 L486.0,2307.9 L488.0,2307.9 L490.0,2307.9 L492.0,2307.9 L494.1,2307.9 L496.1,2307.9 L498.1,2307.9 L500.1,2307.9 L502.1,2307.9 L504.1,2307.9 L506.1,2307.9 L508.1,2307.8 L510.1,2307.8 L512.1,2307.8 L514.1,2307.8 L516.1,2307.8 L518.1,2307.7 L520.1,2307.7 L522.1,2307.7 L524.1,2307.6 L526.1,2307.6 L528.1,2307.6 L530.1,2307.5 L532.1,2307.5 L534.1,2307.4 L536.1,2307.4 L538.1,2307.3 L540.1,2307.3 L542.1,2307.2 L544.1,2307.1 L546.1,2307.1 L548.1,2307.0 L550.1,2306.9 L552.1,2306.9 L554.1,2306.8 L556.1,2306.7 L558.1,2306.6 L560.1,2306.5 L562.1,2306.4 L564.1,2306.3 L566.1,2306.2 L568.1,2306.1 L570.1,2306.0 L572.1,2305.9 L574.1,2305.8 L576.1,2305.6 L578.1,2305.5 L580.1,2305.4 L582.1,2305.2 L584.1,2305.1 L586.1,2305.0 L588.2,2304.8 L590.2,2304.6 L592.2,2304.5 L594.2,2304.3 L596.2,2304.1 L598.2,2304.0 L600.2,2303.8 L602.2,2303.6 L604.2,2303.3 L606.2,2303.1 L608.2,2302.9 L610.2,2302.6 L612.2,2302.3 L614.2,2302.1 L616.2,2301.7 L618.2,2301.4 L620.2,2301.0 L622.2,2300.7 L624.2,2300.2 L626.2,2299.8 L628.2,2299.3 L630.2,2298.7 L632.2,2298.1 L634.2,2297.4 L636.2,2296.7 L638.2,2295.9 L640.2,2295.0 L642.2,2294.0 L644.2,2292.9 L646.2,2291.7 L648.2,2290.4 L650.2,2288.9 L652.2,2287.3 L654.2,2285.6 L656.2,2283.7 L658.2,2281.6 L660.2,2279.4 L662.2,2276.9 L664.2,2274.3 L666.2,2271.4 L668.2,2268.4 L670.2,2265.1 L672.2,2261.6 L674.2,2257.9 L676.2,2254.0 L678.2,2249.8 L680.2,2245.5 L682.3,2241.0 L684.3,2236.3 L686.3,2231.5 L688.3,2226.5 L690.3,2221.5 L692.3,2216.3 L694.3,2211.2 L696.3,2206.0 L698.3,2200.8 L700.3,2195.7 L702.3,2190.7 L704.3,2185.8 L706.3,2181.2 L708.3,2176.7 L710.3,2172.6 L712.3,2168.7 L714.3,2165.2 L716.3,2162.1 L718.3,2159.4 L720.3,2157.2 L722.3,2155.4 L724.3,2154.2 L726.3,2153.4 L728.3,2153.2 L730.3,2153.4 L732.3,2154.0 L734.3,2155.0 L736.3,2156.2 L738.3,2157.8 L740.3,2159.7 L742.3,2161.8 L744.3,2164.3 L746.3,2167.1 L748.3,2170.1 L750.3,2173.3 L752.3,2176.8 L754.3,2180.5 L756.3,2184.4 L758.3,2188.4 L760.3,2192.6 L762.3,2196.9 L764.3,2201.4 L766.3,2205.9 L768.3,2210.5 L770.3,2215.1 L772.3,2219.8 L774.3,2224.5 L776.4,2229.1 L778.4,2233.8 L780.4,2238.4 L782.4,2242.9 L784.4,2247.4 L786.4,2251.8 L788.4,2256.1 L790.4,2260.3 L792.4,2264.4 L794.4,2268.4 L796.4,2272.3 L798.4,2276.0 L800.4,2279.6 L802.4,2283.0 L804.4,2286.3 L806.4,2289.5 L808.4,2292.5 L810.4,2295.4 L812.4,2298.2 L814.4,2300.8 L816.4,2303.2 L818.4,2305.6 L820.4,2307.8 L822.4,2309.9 L824.4,2311.9 L826.4,2313.7 L828.4,2315.5 L830.4,2317.1 L832.4,2318.7 L834.4,2320.1 L836.4,2321.5 L838.4,2322.7 L840.4,2323.9 L842.4,2325.1 L844.4,2326.1 L846.4,2327.1 L848.4,2328.0 L850.4,2328.9 L852.4,2329.7 L854.4,2330.5 L856.4,2331.2 L858.4,2331.8 L860.4,2332.5 L862.4,2333.1 L864.4,2333.6 L866.4,2334.2 L868.4,2334.7 L870.5,2335.1 L872.5,2335.6 L874.5,2336.0 L876.5,2336.4 L878.5,2336.8 L880.5,2337.2 L882.5,2337.5 L884.5,2337.9 L886.5,2338.2 L888.5,2338.5 L890.5,2338.8 L892.5,2339.1 L894.5,2339.4 L896.5,2339.6 L898.5,2339.9 L900.5,2340.2 L902.5,2340.4 L904.5,2340.7 L906.5,2340.9 L908.5,2341.1 L910.5,2341.4 L912.5,2341.6 L914.5,2341.8 L916.5,2342.0 L918.5,2342.2 L920.5,2342.5 L922.5,2342.7 L924.5,2342.9 L926.5,2343.1 L928.5,2343.3 L930.5,2343.5 L932.5,2343.7 L934.5,2343.9 L936.5,2344.1 L938.5,2344.4 L940.5,2344.6 L942.5,2344.8 L944.5,2345.0 L946.5,2345.2 L948.5,2345.4 L950.5,2345.6 L952.5,2345.9 L954.5,2346.1 L956.5,2346.3 L958.5,2346.5 L960.5,2346.8 L962.5,2347.0 L964.5,2347.3 L966.6,2347.5 L968.6,2347.8 L970.6,2348.0 L972.6,2348.3 L974.6,2348.6 L976.6,2348.8 L978.6,2349.1 L980.6,2349.4 L982.6,2349.6 L984.6,2349.9 L986.6,2350.2 L988.6,2350.5 L990.6,2350.7 L992.6,2351.0 L994.6,2351.3 L996.6,2351.6 L998.6,2351.9 L1000.6,2352.1 L1002.6,2352.4 L1004.6,2352.7 L1006.6,2353.0 L1008.6,2353.2 L1010.6,2353.5 L1012.6,2353.8 L1014.6,2354.1 L1016.6,2354.4 L1018.6,2354.7 L1020.6,2355.0 L1022.6,2355.3 L1024.6,2355.6 L1026.6,2355.9 L1028.6,2356.2 L1030.6,2356.5 L1032.6,2356.8 L1034.6,2357.1 L1036.6,2357.4 L1038.6,2357.7 L1040.6,2358.1 L1042.6,2358.4 L1044.6,2358.7 L1046.6,2359.0 L1048.6,2359.3 L1050.6,2359.7 L1052.6,2360.0 L1054.6,2360.3 L1056.6,2360.6 L1058.6,2361.0 L1060.7,2361.3 L1062.7,2361.6 L1064.7,2361.9 L1066.7,2362.3 L1068.7,2362.6 L1070.7,2362.9 L1072.7,2363.3 L1074.7,2363.6 L1076.7,2363.9 L1078.7,2364.2 L1080.7,2364.6 L1082.7,2364.9 L1084.7,2365.2 L1086.7,2365.5 L1088.7,2365.9 L1090.7,2366.2 L1092.7,2366.5 L1094.7,2366.9 L1096.7,2367.2 L1098.7,2367.5 L1100.7,2367.8 L1102.7,2368.1 L1104.7,2368.5 L1106.7,2368.8 L1108.7,2369.1 L1110.7,2369.4 L1112.7,2369.8 L1114.7,2370.1 L1116.7,2370.4 L1118.7,2370.7 L1120.7,2371.1 L1122.7,2371.4 L1124.7,2371.7 L1126.7,2372.0 L1128.7,2372.4 L1130.7,2372.7 L1132.7,2373.0 L1134.7,2373.4 L1136.7,2373.7 L1138.7,2374.0 L1140.7,2374.4 L1142.7,2374.7 L1144.7,2375.0 L1146.7,2375.4 L1148.7,2375.7 L1150.7,2376.0 L1152.7,2376.4 L1154.8,2376.7 L1156.8,2377.0 L1158.8,2377.4 L1160.8,2377.7 L1162.8,2378.1 L1164.8,2378.4 L1166.8,2378.7 L1168.8,2379.1 L1170.8,2379.4 L1172.8,2379.7 L1174.8,2380.1 L1176.8,2380.4 L1178.8,2380.8 L1180.8,2381.1 L1182.8,2381.4 L1184.8,2381.8 L1186.8,2382.1 L1188.8,2382.5 L1190.8,2382.8 L1192.8,2383.2 L1194.8,2383.5 L1196.8,2383.8 L1198.8,2384.2 L1200.8,2384.5 L1202.8,2384.9 L1204.8,2385.2 L1206.8,2385.6 L1208.8,2385.9 L1210.8,2386.2 L1212.8,2386.6 L1214.8,2386.9 L1216.8,2387.3 L1218.8,2387.6 L1220.8,2388.0 L1222.8,2388.3 L1224.8,2388.7 L1226.8,2389.0 L1228.8,2389.4 L1230.8,2389.8 L1232.8,2390.1 L1234.8,2390.5 L1236.8,2391.0 L1238.8,2391.4 L1240.8,2391.8 L1242.8,2392.2 L1244.8,2392.7 L1246.8,2393.1 L1248.9,2393.6 L1250.9,2394.0 L1252.9,2394.5 L1254.9,2394.9 L1256.9,2395.4 L1258.9,2395.8 L1260.9,2396.2 L1262.9,2396.7 L1264.9,2397.1 L1266.9,2397.5 L1268.9,2397.9 L1270.9,2398.3 L1272.9,2398.7 L1274.9,2399.1 L1276.9,2399.4 L1278.9,2399.7 L1280.9,2400.1 L1282.9,2400.4 L1284.9,2400.6 L1286.9,2400.9 L1288.9,2401.1 L1290.9,2401.4 L1292.9,2401.5 L1294.9,2401.7 L1296.9,2401.8 L1298.9,2402.0 L1300.9,2402.0 L1302.9,2402.1 L1304.9,2402.2 L1306.9,2402.3 L1308.9,2402.3 L1310.9,2402.4 L1312.9,2402.5 L1314.9,2402.5 L1316.9,2402.6 L1318.9,2402.7 L1320.9,2402.7 L1322.9,2402.8 L1324.9,2402.9 L1326.9,2402.9 L1328.9,2403.0 L1330.9,2403.1 L1332.9,2403.1 L1334.9,2403.2 L1336.9,2403.2 L1338.9,2403.3 L1340.9,2403.3 L1343.0,2403.4 L1345.0,2403.4 L1347.0,2403.5 L1349.0,2403.5 L1351.0,2403.6 L1353.0,2403.6 L1355.0,2403.7 L1357.0,2403.7 L1359.0,2403.8 L1361.0,2403.8 L1363.0,2403.8 L1365.0,2403.9 L1367.0,2403.9 L1369.0,2403.9 L1371.0,2404.0 L1373.0,2404.0 L1375.0,2404.0 L1377.0,2404.1 L1379.0,2404.1 L1381.0,2404.1 L1383.0,2404.1 L1385.0,2404.1 L1387.0,2404.2 L1389.0,2404.2 L1391.0,2404.2 L1393.0,2404.2 L1395.0,2404.2 L1397.0,2404.2 L1399.0,2404.3 L1401.0,2404.3 L1403.0,2404.3 L1405.0,2404.3 L1407.0,2404.3 L1409.0,2404.3 L1411.0,2404.2 L1413.0,2404.2 L1415.0,2404.0 L1417.0,2403.9 L1419.0,2403.7 L1421.0,2403.6 L1423.0,2403.4 L1425.0,2403.1 L1427.0,2402.9 L1429.0,2402.6 L1431.0,2402.3 L1433.0,2402.0 L1435.0,2401.7 L1437.0,2401.4 L1439.1,2401.1 L1441.1,2400.7 L1443.1,2400.4 L1445.1,2400.0 L1447.1,2399.7 L1449.1,2399.3 L1451.1,2399.0 L1453.1,2398.6 L1455.1,2398.3 L1457.1,2397.9 L1459.1,2397.6 L1461.1,2397.3 L1463.1,2397.0 L1465.1,2396.7 L1467.1,2396.4 L1469.1,2396.1 L1471.1,2395.8 L1473.1,2395.5 L1475.1,2395.2 L1477.1,2394.9 L1479.1,2394.6 L1481.1,2394.3 L1483.1,2394.0 L1485.1,2393.7 L1487.1,2393.4 L1489.1,2393.1 L1491.1,2392.8 L1493.1,2392.5 L1495.1,2392.2 L1497.1,2391.9 L1499.1,2391.6 L1501.1,2391.3 L1503.1,2390.9 L1505.1,2390.6 L1507.1,2390.3 L1509.1,2390.0 L1511.1,2389.7 L1513.1,2389.4 L1515.1,2389.1 L1517.1,2388.8 L1519.1,2388.5 L1521.1,2388.2 L1523.1,2387.9 L1525.1,2387.6 L1527.1,2387.3 L1529.1,2387.0 L1531.1,2386.7 L1533.2,2386.5 L1535.2,2386.2 L1537.2,2386.0 L1539.2,2385.8 L1541.2,2385.6 L1543.2,2385.4 L1545.2,2385.2 L1547.2,2385.1 L1549.2,2384.8 L1551.2,2384.6 L1553.2,2384.3 L1555.2,2384.0 L1557.2,2383.7 L1559.2,2383.3 L1561.2,2382.8 L1563.2,2381.7 L1565.2,2379.9 L1567.2,2377.3 L1569.2,2374.1 L1571.2,2370.3 L1573.2,2366.1 L1575.2,2361.5 L1577.2,2356.7 L1579.2,2351.7" stroke="#f0f060" stroke-opacity="0.8" stroke-width="3.5" fill="none" stroke-linejoin="round"/>
<path d="M323.9,2306.5 L325.9,2306.6 L327.9,2306.7 L329.9,2306.8 L331.9,2306.9 L333.9,2306.9 L335.9,2307.0 L337.9,2307.1 L339.9,2307.2 L341.9,2307.2 L343.9,2307.3 L345.9,2307.4 L347.9,2307.5 L349.9,2307.5 L351.9,2307.6 L353.9,2307.7 L355.9,2307.7 L357.9,2307.8 L359.9,2307.9 L361.9,2307.9 L363.9,2308.0 L365.9,2308.1 L367.9,2308.2 L369.9,2308.2 L371.9,2308.3 L373.9,2308.4 L375.9,2308.4 L377.9,2308.5 L379.9,2308.6 L381.9,2308.7 L383.9,2308.8 L385.9,2308.8 L387.9,2308.9 L389.9,2309.0 L391.9,2309.1 L393.9,2309.2 L395.9,2309.3 L397.9,2309.4 L400.0,2309.5 L402.0,2309.6 L404.0,2309.7 L406.0,2309.8 L408.0,2309.9 L410.0,2310.0 L412.0,2310.1 L414.0,2310.2 L416.0,2310.3 L418.0,2310.4 L420.0,2310.5 L422.0,2310.6 L424.0,2310.7 L426.0,2310.8 L428.0,2310.9 L430.0,2311.0 L432.0,2311.2 L434.0,2311.3 L436.0,2311.4 L438.0,2311.5 L440.0,2311.6 L442.0,2311.7 L444.0,2311.8 L446.0,2311.9 L448.0,2312.0 L450.0,2312.1 L452.0,2312.3 L454.0,2312.4 L456.0,2312.5 L458.0,2312.6 L460.0,2312.7 L462.0,2312.8 L464.0,2312.9 L466.0,2313.0 L468.0,2313.1 L470.0,2313.2 L472.0,2313.3 L474.0,2313.4 L476.0,2313.5 L478.0,2313.6 L480.0,2313.7 L482.0,2313.8 L484.0,2313.9 L486.0,2314.0 L488.0,2314.1 L490.0,2314.2 L492.0,2314.3 L494.1,2314.4 L496.1,2314.5 L498.1,2314.6 L500.1,2314.7 L502.1,2314.8 L504.1,2314.9 L506.1,2315.0 L508.1,2315.1 L510.1,2315.2 L512.1,2315.3 L514.1,2315.4 L516.1,2315.5 L518.1,2315.6 L520.1,2315.7 L522.1,2315.8 L524.1,2315.9 L526.1,2316.0 L528.1,2316.1 L530.1,2316.2 L532.1,2316.4 L534.1,2316.5 L536.1,2316.6 L538.1,2316.7 L540.1,2316.8 L542.1,2316.9 L544.1,2317.0 L546.1,2317.1 L548.1,2317.3 L550.1,2317.4 L552.1,2317.5 L554.1,2317.6 L556.1,2317.7 L558.1,2317.9 L560.1,2318.0 L562.1,2318.1 L564.1,2318.2 L566.1,2318.4 L568.1,2318.5 L570.1,2318.6 L572.1,2318.8 L574.1,2318.9 L576.1,2319.0 L578.1,2319.2 L580.1,2319.3 L582.1,2319.5 L584.1,2319.6 L586.1,2319.8 L588.2,2320.0 L590.2,2320.1 L592.2,2320.3 L594.2,2320.5 L596.2,2320.6 L598.2,2320.8 L600.2,2321.0 L602.2,2321.2 L604.2,2321.4 L606.2,2321.6 L608.2,2321.8 L610.2,2322.0 L612.2,2322.2 L614.2,2322.4 L616.2,2322.6 L618.2,2322.8 L620.2,2323.0 L622.2,2323.2 L624.2,2323.4 L626.2,2323.7 L628.2,2323.9 L630.2,2324.1 L632.2,2324.3 L634.2,2324.5 L636.2,2324.8 L638.2,2325.0 L640.2,2325.2 L642.2,2325.5 L644.2,2325.7 L646.2,2325.9 L648.2,2326.2 L650.2,2326.4 L652.2,2326.6 L654.2,2326.9 L656.2,2327.1 L658.2,2327.3 L660.2,2327.6 L662.2,2327.8 L664.2,2328.1 L666.2,2328.3 L668.2,2328.5 L670.2,2328.8 L672.2,2329.0 L674.2,2329.2 L676.2,2329.5 L678.2,2329.7 L680.2,2330.0 L682.3,2330.2 L684.3,2330.4 L686.3,2330.6 L688.3,2330.9 L690.3,2331.1 L692.3,2331.3 L694.3,2331.6 L696.3,2331.8 L698.3,2332.0 L700.3,2332.2 L702.3,2332.4 L704.3,2332.7 L706.3,2332.9 L708.3,2333.1 L710.3,2333.3 L712.3,2333.5 L714.3,2333.7 L716.3,2333.9 L718.3,2334.1 L720.3,2334.3 L722.3,2334.5 L724.3,2334.7 L726.3,2334.8 L728.3,2335.0 L730.3,2335.2 L732.3,2335.4 L734.3,2335.5 L736.3,2335.7 L738.3,2335.9 L740.3,2336.0 L742.3,2336.2 L744.3,2336.3 L746.3,2336.5 L748.3,2336.6 L750.3,2336.7 L752.3,2336.9 L754.3,2337.0 L756.3,2337.1 L758.3,2337.3 L760.3,2337.4 L762.3,2337.5 L764.3,2337.6 L766.3,2337.7 L768.3,2337.9 L770.3,2338.0 L772.3,2338.1 L774.3,2338.2 L776.4,2338.3 L778.4,2338.4 L780.4,2338.5 L782.4,2338.6 L784.4,2338.7 L786.4,2338.8 L788.4,2338.9 L790.4,2339.0 L792.4,2339.1 L794.4,2339.1 L796.4,2339.2 L798.4,2339.3 L800.4,2339.3 L802.4,2339.4 L804.4,2339.4 L806.4,2339.5 L808.4,2339.5 L810.4,2339.5 L812.4,2339.5 L814.4,2339.5 L816.4,2339.5 L818.4,2339.5 L820.4,2339.5 L822.4,2339.4 L824.4,2339.4 L826.4,2339.3 L828.4,2339.2 L830.4,2339.1 L832.4,2338.9 L834.4,2338.8 L836.4,2338.6 L838.4,2338.4 L840.4,2338.1 L842.4,2337.9 L844.4,2337.5 L846.4,2337.2 L848.4,2336.8 L850.4,2336.4 L852.4,2335.9 L854.4,2335.3 L856.4,2334.8 L858.4,2334.1 L860.4,2333.4 L862.4,2332.6 L864.4,2331.8 L866.4,2330.9 L868.4,2329.9 L870.5,2328.9 L872.5,2327.7 L874.5,2326.5 L876.5,2325.2 L878.5,2323.8 L880.5,2322.4 L882.5,2320.8 L884.5,2319.2 L886.5,2317.5 L888.5,2315.7 L890.5,2313.8 L892.5,2311.8 L894.5,2309.7 L896.5,2307.6 L898.5,2305.4 L900.5,2303.1 L902.5,2300.8 L904.5,2298.4 L906.5,2296.0 L908.5,2293.5 L910.5,2291.0 L912.5,2288.5 L914.5,2285.9 L916.5,2283.4 L918.5,2280.9 L920.5,2278.4 L922.5,2276.0 L924.5,2273.6 L926.5,2271.2 L928.5,2269.0 L930.5,2266.9 L932.5,2264.8 L934.5,2262.9 L936.5,2261.1 L938.5,2259.5 L940.5,2258.0 L942.5,2256.7 L944.5,2255.5 L946.5,2254.6 L948.5,2253.9 L950.5,2253.3 L952.5,2253.0 L954.5,2252.9 L956.5,2252.9 L958.5,2253.3 L960.5,2253.8 L962.5,2254.6 L964.5,2255.6 L966.6,2256.8 L968.6,2258.2 L970.6,2259.8 L972.6,2261.6 L974.6,2263.6 L976.6,2265.7 L978.6,2268.0 L980.6,2270.4 L982.6,2273.0 L984.6,2275.6 L986.6,2278.4 L988.6,2281.2 L990.6,2284.0 L992.6,2286.9 L994.6,2289.9 L996.6,2292.8 L998.6,2295.8 L1000.6,2298.8 L1002.6,2301.7 L1004.6,2304.6 L1006.6,2307.5 L1008.6,2310.3 L1010.6,2313.1 L1012.6,2315.8 L1014.6,2318.5 L1016.6,2321.0 L1018.6,2323.5 L1020.6,2325.9 L1022.6,2328.3 L1024.6,2330.5 L1026.6,2332.7 L1028.6,2334.7 L1030.6,2336.7 L1032.6,2338.6 L1034.6,2340.4 L1036.6,2342.1 L1038.6,2343.7 L1040.6,2345.2 L1042.6,2346.7 L1044.6,2348.1 L1046.6,2349.4 L1048.6,2350.6 L1050.6,2351.8 L1052.6,2352.9 L1054.6,2353.9 L1056.6,2354.9 L1058.6,2355.8 L1060.7,2356.7 L1062.7,2357.5 L1064.7,2358.3 L1066.7,2359.0 L1068.7,2359.7 L1070.7,2360.4 L1072.7,2361.0 L1074.7,2361.6 L1076.7,2362.2 L1078.7,2362.8 L1080.7,2363.3 L1082.7,2363.8 L1084.7,2364.3 L1086.7,2364.8 L1088.7,2365.2 L1090.7,2365.7 L1092.7,2366.1 L1094.7,2366.5 L1096.7,2366.9 L1098.7,2367.3 L1100.7,2367.7 L1102.7,2368.1 L1104.7,2368.5 L1106.7,2368.8 L1108.7,2369.2 L1110.7,2369.6 L1112.7,2369.9 L1114.7,2370.3 L1116.7,2370.6 L1118.7,2371.0 L1120.7,2371.3 L1122.7,2371.7 L1124.7,2372.1 L1126.7,2372.4 L1128.7,2372.7 L1130.7,2373.1 L1132.7,2373.4 L1134.7,2373.8 L1136.7,2374.1 L1138.7,2374.5 L1140.7,2374.8 L1142.7,2375.2 L1144.7,2375.5 L1146.7,2375.9 L1148.7,2376.2 L1150.7,2376.5 L1152.7,2376.9 L1154.8,2377.2 L1156.8,2377.6 L1158.8,2377.9 L1160.8,2378.3 L1162.8,2378.6 L1164.8,2378.9 L1166.8,2379.3 L1168.8,2379.6 L1170.8,2380.0 L1172.8,2380.3 L1174.8,2380.7 L1176.8,2381.0 L1178.8,2381.3 L1180.8,2381.7 L1182.8,2382.0 L1184.8,2382.4 L1186.8,2382.7 L1188.8,2383.1 L1190.8,2383.4 L1192.8,2383.8 L1194.8,2384.1 L1196.8,2384.4 L1198.8,2384.8 L1200.8,2385.1 L1202.8,2385.5 L1204.8,2385.8 L1206.8,2386.2 L1208.8,2386.5 L1210.8,2386.9 L1212.8,2387.2 L1214.8,2387.5 L1216.8,2387.9 L1218.8,2388.2 L1220.8,2388.6 L1222.8,2388.9 L1224.8,2389.3 L1226.8,2389.6 L1228.8,2390.0 L1230.8,2390.4 L1232.8,2390.8 L1234.8,2391.2 L1236.8,2391.6 L1238.8,2392.0 L1240.8,2392.4 L1242.8,2392.9 L1244.8,2393.3 L1246.8,2393.7 L1248.9,2394.2 L1250.9,2394.6 L1252.9,2395.1 L1254.9,2395.5 L1256.9,2396.0 L1258.9,2396.4 L1260.9,2396.8 L1262.9,2397.3 L1264.9,2397.7 L1266.9,2398.1 L1268.9,2398.5 L1270.9,2398.9 L1272.9,2399.3 L1274.9,2399.6 L1276.9,2400.0 L1278.9,2400.3 L1280.9,2400.6 L1282.9,2400.9 L1284.9,2401.2 L1286.9,2401.5 L1288.9,2401.7 L1290.9,2401.9 L1292.9,2402.1 L1294.9,2402.3 L1296.9,2402.4 L1298.9,2402.5 L1300.9,2402.6 L1302.9,2402.7 L1304.9,2402.7 L1306.9,2402.8 L1308.9,2402.9 L1310.9,2403.0 L1312.9,2403.0 L1314.9,2403.1 L1316.9,2403.2 L1318.9,2403.2 L1320.9,2403.3 L1322.9,2403.4 L1324.9,2403.4 L1326.9,2403.5 L1328.9,2403.5 L1330.9,2403.6 L1332.9,2403.6 L1334.9,2403.7 L1336.9,2403.8 L1338.9,2403.8 L1340.9,2403.9 L1343.0,2403.9 L1345.0,2404.0 L1347.0,2404.0 L1349.0,2404.0 L1351.0,2404.1 L1353.0,2404.1 L1355.0,2404.2 L1357.0,2404.2 L1359.0,2404.3 L1361.0,2404.3 L1363.0,2404.3 L1365.0,2404.4 L1367.0,2404.4 L1369.0,2404.4 L1371.0,2404.5 L1373.0,2404.5 L1375.0,2404.5 L1375.0,2404.8 L1373.0,2404.8 L1371.0,2404.8 L1369.0,2404.7 L1367.0,2404.7 L1365.0,2404.7 L1363.0,2404.6 L1361.0,2404.6 L1359.0,2404.6 L1357.0,2404.5 L1355.0,2404.5 L1353.0,2404.5 L1351.0,2404.4 L1349.0,2404.4 L1347.0,2404.3 L1345.0,2404.3 L1343.0,2404.3 L1340.9,2404.2 L1338.9,2404.2 L1336.9,2404.1 L1334.9,2404.1 L1332.9,2404.0 L1330.9,2404.0 L1328.9,2403.9 L1326.9,2403.9 L1324.9,2403.8 L1322.9,2403.7 L1320.9,2403.7 L1318.9,2403.6 L1316.9,2403.6 L1314.9,2403.5 L1312.9,2403.4 L1310.9,2403.4 L1308.9,2403.3 L1306.9,2403.2 L1304.9,2403.2 L1302.9,2403.1 L1300.9,2403.0 L1298.9,2403.0 L1296.9,2402.9 L1294.9,2402.7 L1292.9,2402.6 L1290.9,2402.4 L1288.9,2402.2 L1286.9,2401.9 L1284.9,2401.7 L1282.9,2401.4 L1280.9,2401.1 L1278.9,2400.8 L1276.9,2400.5 L1274.9,2400.1 L1272.9,2399.8 L1270.9,2399.4 L1268.9,2399.0 L1266.9,2398.6 L1264.9,2398.2 L1262.9,2397.8 L1260.9,2397.4 L1258.9,2397.0 L1256.9,2396.5 L1254.9,2396.1 L1252.9,2395.7 L1250.9,2395.2 L1248.9,2394.8 L1246.8,2394.3 L1244.8,2393.9 L1242.8,2393.5 L1240.8,2393.0 L1238.8,2392.6 L1236.8,2392.2 L1234.8,2391.8 L1232.8,2391.4 L1230.8,2391.0 L1228.8,2390.7 L1226.8,2390.3 L1224.8,2390.0 L1222.8,2389.6 L1220.8,2389.3 L1218.8,2389.0 L1216.8,2388.6 L1214.8,2388.3 L1212.8,2388.0 L1210.8,2387.6 L1208.8,2387.3 L1206.8,2387.0 L1204.8,2386.6 L1202.8,2386.3 L1200.8,2386.0 L1198.8,2385.6 L1196.8,2385.3 L1194.8,2385.0 L1192.8,2384.7 L1190.8,2384.3 L1188.8,2384.0 L1186.8,2383.7 L1184.8,2383.3 L1182.8,2383.0 L1180.8,2382.7 L1178.8,2382.4 L1176.8,2382.0 L1174.8,2381.7 L1172.8,2381.4 L1170.8,2381.0 L1168.8,2380.7 L1166.8,2380.4 L1164.8,2380.1 L1162.8,2379.8 L1160.8,2379.4 L1158.8,2379.1 L1156.8,2378.8 L1154.8,2378.5 L1152.7,2378.1 L1150.7,2377.8 L1148.7,2377.5 L1146.7,2377.2 L1144.7,2376.9 L1142.7,2376.6 L1140.7,2376.2 L1138.7,2375.9 L1136.7,2375.6 L1134.7,2375.3 L1132.7,2375.0 L1130.7,2374.7 L1128.7,2374.4 L1126.7,2374.1 L1124.7,2373.7 L1122.7,2373.4 L1120.7,2373.1 L1118.7,2372.8 L1116.7,2372.5 L1114.7,2372.2 L1112.7,2371.9 L1110.7,2371.6 L1108.7,2371.3 L1106.7,2371.0 L1104.7,2370.7 L1102.7,2370.4 L1100.7,2370.1 L1098.7,2369.8 L1096.7,2369.5 L1094.7,2369.2 L1092.7,2368.9 L1090.7,2368.6 L1088.7,2368.3 L1086.7,2368.0 L1084.7,2367.7 L1082.7,2367.4 L1080.7,2367.1 L1078.7,2366.8 L1076.7,2366.5 L1074.7,2366.2 L1072.7,2365.9 L1070.7,2365.6 L1068.7,2365.3 L1066.7,2365.0 L1064.7,2364.7 L1062.7,2364.4 L1060.7,2364.1 L1058.6,2363.8 L1056.6,2363.5 L1054.6,2363.2 L1052.6,2363.0 L1050.6,2362.7 L1048.6,2362.4 L1046.6,2362.1 L1044.6,2361.8 L1042.6,2361.5 L1040.6,2361.2 L1038.6,2361.0 L1036.6,2360.7 L1034.6,2360.4 L1032.6,2360.2 L1030.6,2359.9 L1028.6,2359.6 L1026.6,2359.4 L1024.6,2359.1 L1022.6,2358.8 L1020.6,2358.6 L1018.6,2358.3 L1016.6,2358.1 L1014.6,2357.8 L1012.6,2357.6 L1010.6,2357.4 L1008.6,2357.1 L1006.6,2356.9 L1004.6,2356.7 L1002.6,2356.5 L1000.6,2356.2 L998.6,2356.0 L996.6,2355.8 L994.6,2355.6 L992.6,2355.4 L990.6,2355.1 L988.6,2354.9 L986.6,2354.7 L984.6,2354.5 L982.6,2354.3 L980.6,2354.1 L978.6,2353.9 L976.6,2353.7 L974.6,2353.5 L972.6,2353.3 L970.6,2353.1 L968.6,2352.9 L966.6,2352.7 L964.5,2352.6 L962.5,2352.4 L960.5,2352.2 L958.5,2352.1 L956.5,2351.9 L954.5,2351.8 L952.5,2351.7 L950.5,2351.5 L948.5,2351.4 L946.5,2351.3 L944.5,2351.2 L942.5,2351.1 L940.5,2351.0 L938.5,2350.9 L936.5,2350.8 L934.5,2350.7 L932.5,2350.6 L930.5,2350.5 L928.5,2350.4 L926.5,2350.3 L924.5,2350.2 L922.5,2350.1 L920.5,2350.0 L918.5,2350.0 L916.5,2349.9 L914.5,2349.8 L912.5,2349.7 L910.5,2349.7 L908.5,2349.6 L906.5,2349.5 L904.5,2349.4 L902.5,2349.4 L900.5,2349.3 L898.5,2349.2 L896.5,2349.2 L894.5,2349.1 L892.5,2349.0 L890.5,2348.9 L888.5,2348.9 L886.5,2348.8 L884.5,2348.7 L882.5,2348.6 L880.5,2348.5 L878.5,2348.5 L876.5,2348.4 L874.5,2348.3 L872.5,2348.2 L870.5,2348.1 L868.4,2348.0 L866.4,2347.9 L864.4,2347.8 L862.4,2347.7 L860.4,2347.6 L858.4,2347.5 L856.4,2347.4 L854.4,2347.3 L852.4,2347.2 L850.4,2347.1 L848.4,2346.9 L846.4,2346.8 L844.4,2346.7 L842.4,2346.6 L840.4,2346.5 L838.4,2346.3 L836.4,2346.2 L834.4,2346.1 L832.4,2345.9 L830.4,2345.8 L828.4,2345.7 L826.4,2345.5 L824.4,2345.4 L822.4,2345.2 L820.4,2345.1 L818.4,2344.9 L816.4,2344.8 L814.4,2344.6 L812.4,2344.5 L810.4,2344.3 L808.4,2344.2 L806.4,2344.0 L804.4,2343.9 L802.4,2343.7 L800.4,2343.6 L798.4,2343.4 L796.4,2343.2 L794.4,2343.1 L792.4,2342.9 L790.4,2342.8 L788.4,2342.6 L786.4,2342.4 L784.4,2342.3 L782.4,2342.1 L780.4,2341.9 L778.4,2341.8 L776.4,2341.6 L774.3,2341.4 L772.3,2341.2 L770.3,2341.1 L768.3,2340.9 L766.3,2340.7 L764.3,2340.5 L762.3,2340.4 L760.3,2340.2 L758.3,2340.0 L756.3,2339.8 L754.3,2339.7 L752.3,2339.5 L750.3,2339.3 L748.3,2339.1 L746.3,2338.9 L744.3,2338.8 L742.3,2338.6 L740.3,2338.4 L738.3,2338.2 L736.3,2338.0 L734.3,2337.8 L732.3,2337.6 L730.3,2337.4 L728.3,2337.2 L726.3,2336.9 L724.3,2336.7 L722.3,2336.5 L720.3,2336.3 L718.3,2336.1 L716.3,2335.8 L714.3,2335.6 L712.3,2335.4 L710.3,2335.1 L708.3,2334.9 L706.3,2334.7 L704.3,2334.4 L702.3,2334.2 L700.3,2333.9 L698.3,2333.7 L696.3,2333.5 L694.3,2333.2 L692.3,2333.0 L690.3,2332.7 L688.3,2332.5 L686.3,2332.2 L684.3,2332.0 L682.3,2331.7 L680.2,2331.4 L678.2,2331.2 L676.2,2330.9 L674.2,2330.7 L672.2,2330.4 L670.2,2330.2 L668.2,2329.9 L666.2,2329.7 L664.2,2329.4 L662.2,2329.2 L660.2,2328.9 L658.2,2328.6 L656.2,2328.4 L654.2,2328.1 L652.2,2327.9 L650.2,2327.6 L648.2,2327.4 L646.2,2327.1 L644.2,2326.9 L642.2,2326.6 L640.2,2326.4 L638.2,2326.1 L636.2,2325.9 L634.2,2325.7 L632.2,2325.4 L630.2,2325.2 L628.2,2325.0 L626.2,2324.7 L624.2,2324.5 L622.2,2324.3 L620.2,2324.0 L618.2,2323.8 L616.2,2323.6 L614.2,2323.4 L612.2,2323.2 L610.2,2322.9 L608.2,2322.7 L606.2,2322.5 L604.2,2322.3 L602.2,2322.1 L600.2,2321.9 L598.2,2321.7 L596.2,2321.5 L594.2,2321.4 L592.2,2321.2 L590.2,2321.0 L588.2,2320.8 L586.1,2320.6 L584.1,2320.5 L582.1,2320.3 L580.1,2320.2 L578.1,2320.0 L576.1,2319.9 L574.1,2319.7 L572.1,2319.6 L570.1,2319.4 L568.1,2319.3 L566.1,2319.1 L564.1,2319.0 L562.1,2318.9 L560.1,2318.7 L558.1,2318.6 L556.1,2318.5 L554.1,2318.3 L552.1,2318.2 L550.1,2318.1 L548.1,2318.0 L546.1,2317.8 L544.1,2317.7 L542.1,2317.6 L540.1,2317.5 L538.1,2317.4 L536.1,2317.2 L534.1,2317.1 L532.1,2317.0 L530.1,2316.9 L528.1,2316.8 L526.1,2316.7 L524.1,2316.6 L522.1,2316.5 L520.1,2316.3 L518.1,2316.2 L516.1,2316.1 L514.1,2316.0 L512.1,2315.9 L510.1,2315.8 L508.1,2315.7 L506.1,2315.6 L504.1,2315.5 L502.1,2315.4 L500.1,2315.3 L498.1,2315.2 L496.1,2315.1 L494.1,2315.0 L492.0,2314.9 L490.0,2314.8 L488.0,2314.7 L486.0,2314.5 L484.0,2314.4 L482.0,2314.3 L480.0,2314.2 L478.0,2314.1 L476.0,2314.0 L474.0,2313.9 L472.0,2313.8 L470.0,2313.7 L468.0,2313.6 L466.0,2313.5 L464.0,2313.4 L462.0,2313.3 L460.0,2313.2 L458.0,2313.1 L456.0,2312.9 L454.0,2312.8 L452.0,2312.7 L450.0,2312.6 L448.0,2312.5 L446.0,2312.4 L444.0,2312.3 L442.0,2312.2 L440.0,2312.0 L438.0,2311.9 L436.0,2311.8 L434.0,2311.7 L432.0,2311.6 L430.0,2311.5 L428.0,2311.4 L426.0,2311.3 L424.0,2311.1 L422.0,2311.0 L420.0,2310.9 L418.0,2310.8 L416.0,2310.7 L414.0,2310.6 L412.0,2310.5 L410.0,2310.4 L408.0,2310.3 L406.0,2310.2 L404.0,2310.1 L402.0,2310.0 L400.0,2309.9 L397.9,2309.8 L395.9,2309.7 L393.9,2309.6 L391.9,2309.5 L389.9,2309.4 L387.9,2309.3 L385.9,2309.2 L383.9,2309.1 L381.9,2309.0 L379.9,2309.0 L377.9,2308.9 L375.9,2308.8 L373.9,2308.7 L371.9,2308.6 L369.9,2308.6 L367.9,2308.5 L365.9,2308.4 L363.9,2308.4 L361.9,2308.3 L359.9,2308.2 L357.9,2308.1 L355.9,2308.1 L353.9,2308.0 L351.9,2307.9 L349.9,2307.9 L347.9,2307.8 L345.9,2307.7 L343.9,2307.6 L341.9,2307.6 L339.9,2307.5 L337.9,2307.4 L335.9,2307.3 L333.9,2307.2 L331.9,2307.2 L329.9,2307.1 L327.9,2307.0 L325.9,2306.9 L323.9,2306.8Z" fill="url(#gd2)"/><path d="M323.9,2306.5 L325.9,2306.6 L327.9,2306.7 L329.9,2306.8 L331.9,2306.9 L333.9,2306.9 L335.9,2307.0 L337.9,2307.1 L339.9,2307.2 L341.9,2307.2 L343.9,2307.3 L345.9,2307.4 L347.9,2307.5 L349.9,2307.5 L351.9,2307.6 L353.9,2307.7 L355.9,2307.7 L357.9,2307.8 L359.9,2307.9 L361.9,2307.9 L363.9,2308.0 L365.9,2308.1 L367.9,2308.2 L369.9,2308.2 L371.9,2308.3 L373.9,2308.4 L375.9,2308.4 L377.9,2308.5 L379.9,2308.6 L381.9,2308.7 L383.9,2308.8 L385.9,2308.8 L387.9,2308.9 L389.9,2309.0 L391.9,2309.1 L393.9,2309.2 L395.9,2309.3 L397.9,2309.4 L400.0,2309.5 L402.0,2309.6 L404.0,2309.7 L406.0,2309.8 L408.0,2309.9 L410.0,2310.0 L412.0,2310.1 L414.0,2310.2 L416.0,2310.3 L418.0,2310.4 L420.0,2310.5 L422.0,2310.6 L424.0,2310.7 L426.0,2310.8 L428.0,2310.9 L430.0,2311.0 L432.0,2311.2 L434.0,2311.3 L436.0,2311.4 L438.0,2311.5 L440.0,2311.6 L442.0,2311.7 L444.0,2311.8 L446.0,2311.9 L448.0,2312.0 L450.0,2312.1 L452.0,2312.3 L454.0,2312.4 L456.0,2312.5 L458.0,2312.6 L460.0,2312.7 L462.0,2312.8 L464.0,2312.9 L466.0,2313.0 L468.0,2313.1 L470.0,2313.2 L472.0,2313.3 L474.0,2313.4 L476.0,2313.5 L478.0,2313.6 L480.0,2313.7 L482.0,2313.8 L484.0,2313.9 L486.0,2314.0 L488.0,2314.1 L490.0,2314.2 L492.0,2314.3 L494.1,2314.4 L496.1,2314.5 L498.1,2314.6 L500.1,2314.7 L502.1,2314.8 L504.1,2314.9 L506.1,2315.0 L508.1,2315.1 L510.1,2315.2 L512.1,2315.3 L514.1,2315.4 L516.1,2315.5 L518.1,2315.6 L520.1,2315.7 L522.1,2315.8 L524.1,2315.9 L526.1,2316.0 L528.1,2316.1 L530.1,2316.2 L532.1,2316.4 L534.1,2316.5 L536.1,2316.6 L538.1,2316.7 L540.1,2316.8 L542.1,2316.9 L544.1,2317.0 L546.1,2317.1 L548.1,2317.3 L550.1,2317.4 L552.1,2317.5 L554.1,2317.6 L556.1,2317.7 L558.1,2317.9 L560.1,2318.0 L562.1,2318.1 L564.1,2318.2 L566.1,2318.4 L568.1,2318.5 L570.1,2318.6 L572.1,2318.8 L574.1,2318.9 L576.1,2319.0 L578.1,2319.2 L580.1,2319.3 L582.1,2319.5 L584.1,2319.6 L586.1,2319.8 L588.2,2320.0 L590.2,2320.1 L592.2,2320.3 L594.2,2320.5 L596.2,2320.6 L598.2,2320.8 L600.2,2321.0 L602.2,2321.2 L604.2,2321.4 L606.2,2321.6 L608.2,2321.8 L610.2,2322.0 L612.2,2322.2 L614.2,2322.4 L616.2,2322.6 L618.2,2322.8 L620.2,2323.0 L622.2,2323.2 L624.2,2323.4 L626.2,2323.7 L628.2,2323.9 L630.2,2324.1 L632.2,2324.3 L634.2,2324.5 L636.2,2324.8 L638.2,2325.0 L640.2,2325.2 L642.2,2325.5 L644.2,2325.7 L646.2,2325.9 L648.2,2326.2 L650.2,2326.4 L652.2,2326.6 L654.2,2326.9 L656.2,2327.1 L658.2,2327.3 L660.2,2327.6 L662.2,2327.8 L664.2,2328.1 L666.2,2328.3 L668.2,2328.5 L670.2,2328.8 L672.2,2329.0 L674.2,2329.2 L676.2,2329.5 L678.2,2329.7 L680.2,2330.0 L682.3,2330.2 L684.3,2330.4 L686.3,2330.6 L688.3,2330.9 L690.3,2331.1 L692.3,2331.3 L694.3,2331.6 L696.3,2331.8 L698.3,2332.0 L700.3,2332.2 L702.3,2332.4 L704.3,2332.7 L706.3,2332.9 L708.3,2333.1 L710.3,2333.3 L712.3,2333.5 L714.3,2333.7 L716.3,2333.9 L718.3,2334.1 L720.3,2334.3 L722.3,2334.5 L724.3,2334.7 L726.3,2334.8 L728.3,2335.0 L730.3,2335.2 L732.3,2335.4 L734.3,2335.5 L736.3,2335.7 L738.3,2335.9 L740.3,2336.0 L742.3,2336.2 L744.3,2336.3 L746.3,2336.5 L748.3,2336.6 L750.3,2336.7 L752.3,2336.9 L754.3,2337.0 L756.3,2337.1 L758.3,2337.3 L760.3,2337.4 L762.3,2337.5 L764.3,2337.6 L766.3,2337.7 L768.3,2337.9 L770.3,2338.0 L772.3,2338.1 L774.3,2338.2 L776.4,2338.3 L778.4,2338.4 L780.4,2338.5 L782.4,2338.6 L784.4,2338.7 L786.4,2338.8 L788.4,2338.9 L790.4,2339.0 L792.4,2339.1 L794.4,2339.1 L796.4,2339.2 L798.4,2339.3 L800.4,2339.3 L802.4,2339.4 L804.4,2339.4 L806.4,2339.5 L808.4,2339.5 L810.4,2339.5 L812.4,2339.5 L814.4,2339.5 L816.4,2339.5 L818.4,2339.5 L820.4,2339.5 L822.4,2339.4 L824.4,2339.4 L826.4,2339.3 L828.4,2339.2 L830.4,2339.1 L832.4,2338.9 L834.4,2338.8 L836.4,2338.6 L838.4,2338.4 L840.4,2338.1 L842.4,2337.9 L844.4,2337.5 L846.4,2337.2 L848.4,2336.8 L850.4,2336.4 L852.4,2335.9 L854.4,2335.3 L856.4,2334.8 L858.4,2334.1 L860.4,2333.4 L862.4,2332.6 L864.4,2331.8 L866.4,2330.9 L868.4,2329.9 L870.5,2328.9 L872.5,2327.7 L874.5,2326.5 L876.5,2325.2 L878.5,2323.8 L880.5,2322.4 L882.5,2320.8 L884.5,2319.2 L886.5,2317.5 L888.5,2315.7 L890.5,2313.8 L892.5,2311.8 L894.5,2309.7 L896.5,2307.6 L898.5,2305.4 L900.5,2303.1 L902.5,2300.8 L904.5,2298.4 L906.5,2296.0 L908.5,2293.5 L910.5,2291.0 L912.5,2288.5 L914.5,2285.9 L916.5,2283.4 L918.5,2280.9 L920.5,2278.4 L922.5,2276.0 L924.5,2273.6 L926.5,2271.2 L928.5,2269.0 L930.5,2266.9 L932.5,2264.8 L934.5,2262.9 L936.5,2261.1 L938.5,2259.5 L940.5,2258.0 L942.5,2256.7 L944.5,2255.5 L946.5,2254.6 L948.5,2253.9 L950.5,2253.3 L952.5,2253.0 L954.5,2252.9 L956.5,2252.9 L958.5,2253.3 L960.5,2253.8 L962.5,2254.6 L964.5,2255.6 L966.6,2256.8 L968.6,2258.2 L970.6,2259.8 L972.6,2261.6 L974.6,2263.6 L976.6,2265.7 L978.6,2268.0 L980.6,2270.4 L982.6,2273.0 L984.6,2275.6 L986.6,2278.4 L988.6,2281.2 L990.6,2284.0 L992.6,2286.9 L994.6,2289.9 L996.6,2292.8 L998.6,2295.8 L1000.6,2298.8 L1002.6,2301.7 L1004.6,2304.6 L1006.6,2307.5 L1008.6,2310.3 L1010.6,2313.1 L1012.6,2315.8 L1014.6,2318.5 L1016.6,2321.0 L1018.6,2323.5 L1020.6,2325.9 L1022.6,2328.3 L1024.6,2330.5 L1026.6,2332.7 L1028.6,2334.7 L1030.6,2336.7 L1032.6,2338.6 L1034.6,2340.4 L1036.6,2342.1 L1038.6,2343.7 L1040.6,2345.2 L1042.6,2346.7 L1044.6,2348.1 L1046.6,2349.4 L1048.6,2350.6 L1050.6,2351.8 L1052.6,2352.9 L1054.6,2353.9 L1056.6,2354.9 L1058.6,2355.8 L1060.7,2356.7 L1062.7,2357.5 L1064.7,2358.3 L1066.7,2359.0 L1068.7,2359.7 L1070.7,2360.4 L1072.7,2361.0 L1074.7,2361.6 L1076.7,2362.2 L1078.7,2362.8 L1080.7,2363.3 L1082.7,2363.8 L1084.7,2364.3 L1086.7,2364.8 L1088.7,2365.2 L1090.7,2365.7 L1092.7,2366.1 L1094.7,2366.5 L1096.7,2366.9 L1098.7,2367.3 L1100.7,2367.7 L1102.7,2368.1 L1104.7,2368.5 L1106.7,2368.8 L1108.7,2369.2 L1110.7,2369.6 L1112.7,2369.9 L1114.7,2370.3 L1116.7,2370.6 L1118.7,2371.0 L1120.7,2371.3 L1122.7,2371.7 L1124.7,2372.1 L1126.7,2372.4 L1128.7,2372.7 L1130.7,2373.1 L1132.7,2373.4 L1134.7,2373.8 L1136.7,2374.1 L1138.7,2374.5 L1140.7,2374.8 L1142.7,2375.2 L1144.7,2375.5 L1146.7,2375.9 L1148.7,2376.2 L1150.7,2376.5 L1152.7,2376.9 L1154.8,2377.2 L1156.8,2377.6 L1158.8,2377.9 L1160.8,2378.3 L1162.8,2378.6 L1164.8,2378.9 L1166.8,2379.3 L1168.8,2379.6 L1170.8,2380.0 L1172.8,2380.3 L1174.8,2380.7 L1176.8,2381.0 L1178.8,2381.3 L1180.8,2381.7 L1182.8,2382.0 L1184.8,2382.4 L1186.8,2382.7 L1188.8,2383.1 L1190.8,2383.4 L1192.8,2383.8 L1194.8,2384.1 L1196.8,2384.4 L1198.8,2384.8 L1200.8,2385.1 L1202.8,2385.5 L1204.8,2385.8 L1206.8,2386.2 L1208.8,2386.5 L1210.8,2386.9 L1212.8,2387.2 L1214.8,2387.5 L1216.8,2387.9 L1218.8,2388.2 L1220.8,2388.6 L1222.8,2388.9 L1224.8,2389.3 L1226.8,2389.6 L1228.8,2390.0 L1230.8,2390.4 L1232.8,2390.8 L1234.8,2391.2 L1236.8,2391.6 L1238.8,2392.0 L1240.8,2392.4 L1242.8,2392.9 L1244.8,2393.3 L1246.8,2393.7 L1248.9,2394.2 L1250.9,2394.6 L1252.9,2395.1 L1254.9,2395.5 L1256.9,2396.0 L1258.9,2396.4 L1260.9,2396.8 L1262.9,2397.3 L1264.9,2397.7 L1266.9,2398.1 L1268.9,2398.5 L1270.9,2398.9 L1272.9,2399.3 L1274.9,2399.6 L1276.9,2400.0 L1278.9,2400.3 L1280.9,2400.6 L1282.9,2400.9 L1284.9,2401.2 L1286.9,2401.5 L1288.9,2401.7 L1290.9,2401.9 L1292.9,2402.1 L1294.9,2402.3 L1296.9,2402.4 L1298.9,2402.5 L1300.9,2402.6 L1302.9,2402.7 L1304.9,2402.7 L1306.9,2402.8 L1308.9,2402.9 L1310.9,2403.0 L1312.9,2403.0 L1314.9,2403.1 L1316.9,2403.2 L1318.9,2403.2 L1320.9,2403.3 L1322.9,2403.4 L1324.9,2403.4 L1326.9,2403.5 L1328.9,2403.5 L1330.9,2403.6 L1332.9,2403.6 L1334.9,2403.7 L1336.9,2403.8 L1338.9,2403.8 L1340.9,2403.9 L1343.0,2403.9 L1345.0,2404.0 L1347.0,2404.0 L1349.0,2404.0 L1351.0,2404.1 L1353.0,2404.1 L1355.0,2404.2 L1357.0,2404.2 L1359.0,2404.3 L1361.0,2404.3 L1363.0,2404.3 L1365.0,2404.4 L1367.0,2404.4 L1369.0,2404.4 L1371.0,2404.5 L1373.0,2404.5 L1375.0,2404.5" stroke="#30e070" stroke-opacity="0.8" stroke-width="3.5" fill="none" stroke-linejoin="round"/>
<path d="M161.7,2284.2 L163.7,2284.6 L165.7,2285.1 L167.7,2285.5 L169.7,2286.0 L171.7,2286.5 L173.7,2286.9 L175.7,2287.3 L177.7,2287.8 L179.7,2288.2 L181.7,2288.6 L183.7,2289.0 L185.7,2289.4 L187.7,2289.8 L189.7,2290.2 L191.7,2290.6 L193.7,2291.0 L195.7,2291.4 L197.7,2291.8 L199.7,2292.2 L201.7,2292.5 L203.7,2292.9 L205.7,2293.3 L207.7,2293.7 L209.8,2294.1 L211.8,2294.4 L213.8,2294.8 L215.8,2295.2 L217.8,2295.5 L219.8,2295.9 L221.8,2296.3 L223.8,2296.6 L225.8,2296.9 L227.8,2297.3 L229.8,2297.6 L231.8,2297.9 L233.8,2298.2 L235.8,2298.5 L237.8,2298.8 L239.8,2299.1 L241.8,2299.4 L243.8,2299.6 L245.8,2299.9 L247.8,2300.1 L249.8,2300.4 L251.8,2300.6 L253.8,2300.8 L255.8,2301.0 L257.8,2301.2 L259.8,2301.3 L261.8,2301.5 L263.8,2301.7 L265.8,2301.8 L267.8,2302.0 L269.8,2302.2 L271.8,2302.3 L273.8,2302.5 L275.8,2302.6 L277.8,2302.8 L279.8,2302.9 L281.8,2303.0 L283.8,2303.2 L285.8,2303.3 L287.8,2303.4 L289.8,2303.5 L291.8,2303.6 L293.8,2303.8 L295.8,2303.9 L297.8,2304.0 L299.8,2304.1 L301.8,2304.2 L303.9,2304.3 L305.9,2304.4 L307.9,2304.5 L309.9,2304.6 L311.9,2304.7 L313.9,2304.8 L315.9,2304.9 L317.9,2305.0 L319.9,2305.0 L321.9,2305.1 L323.9,2305.2 L325.9,2305.3 L327.9,2305.4 L329.9,2305.4 L331.9,2305.5 L333.9,2305.6 L335.9,2305.6 L337.9,2305.7 L339.9,2305.7 L341.9,2305.8 L343.9,2305.9 L345.9,2305.9 L347.9,2306.0 L349.9,2306.0 L351.9,2306.1 L353.9,2306.1 L355.9,2306.1 L357.9,2306.2 L359.9,2306.2 L361.9,2306.3 L363.9,2306.3 L365.9,2306.4 L367.9,2306.4 L369.9,2306.5 L371.9,2306.5 L373.9,2306.5 L375.9,2306.6 L377.9,2306.6 L379.9,2306.7 L381.9,2306.7 L383.9,2306.8 L385.9,2306.8 L387.9,2306.9 L389.9,2307.0 L391.9,2307.0 L393.9,2307.1 L395.9,2307.1 L397.9,2307.2 L400.0,2307.2 L402.0,2307.3 L404.0,2307.4 L406.0,2307.4 L408.0,2307.5 L410.0,2307.5 L412.0,2307.6 L414.0,2307.6 L416.0,2307.7 L418.0,2307.7 L420.0,2307.8 L422.0,2307.8 L424.0,2307.9 L426.0,2307.9 L428.0,2308.0 L430.0,2308.0 L432.0,2308.1 L434.0,2308.1 L436.0,2308.1 L438.0,2308.2 L440.0,2308.2 L442.0,2308.2 L444.0,2308.2 L446.0,2308.2 L448.0,2308.2 L450.0,2308.2 L452.0,2308.2 L454.0,2308.2 L456.0,2308.2 L458.0,2308.2 L460.0,2308.1 L462.0,2308.1 L464.0,2308.0 L466.0,2308.0 L468.0,2307.9 L470.0,2307.8 L472.0,2307.7 L474.0,2307.6 L476.0,2307.5 L478.0,2307.4 L480.0,2307.3 L482.0,2307.1 L484.0,2306.9 L486.0,2306.8 L488.0,2306.6 L490.0,2306.4 L492.0,2306.1 L494.1,2305.9 L496.1,2305.6 L498.1,2305.4 L500.1,2305.1 L502.1,2304.8 L504.1,2304.4 L506.1,2304.1 L508.1,2303.7 L510.1,2303.3 L512.1,2302.9 L514.1,2302.5 L516.1,2302.0 L518.1,2301.6 L520.1,2301.1 L522.1,2300.6 L524.1,2300.0 L526.1,2299.4 L528.1,2298.8 L530.1,2298.2 L532.1,2297.6 L534.1,2296.9 L536.1,2296.2 L538.1,2295.5 L540.1,2294.8 L542.1,2294.0 L544.1,2293.2 L546.1,2292.4 L548.1,2291.5 L550.1,2290.7 L552.1,2289.8 L554.1,2288.9 L556.1,2287.9 L558.1,2287.0 L560.1,2286.0 L562.1,2285.0 L564.1,2284.0 L566.1,2283.0 L568.1,2282.0 L570.1,2280.9 L572.1,2279.8 L574.1,2278.8 L576.1,2277.7 L578.1,2276.6 L580.1,2275.5 L582.1,2274.4 L584.1,2273.3 L586.1,2272.2 L588.2,2271.1 L590.2,2270.0 L592.2,2268.9 L594.2,2267.9 L596.2,2266.8 L598.2,2265.8 L600.2,2264.8 L602.2,2263.8 L604.2,2262.8 L606.2,2261.9 L608.2,2261.0 L610.2,2260.1 L612.2,2259.3 L614.2,2258.5 L616.2,2257.7 L618.2,2257.0 L620.2,2256.4 L622.2,2255.8 L624.2,2255.2 L626.2,2254.7 L628.2,2254.3 L630.2,2253.9 L632.2,2253.6 L634.2,2253.3 L636.2,2253.1 L638.2,2253.0 L640.2,2252.9 L642.2,2252.9 L644.2,2253.0 L646.2,2253.2 L648.2,2253.4 L650.2,2253.8 L652.2,2254.3 L654.2,2255.1 L656.2,2256.1 L658.2,2257.3 L660.2,2258.6 L662.2,2260.2 L664.2,2261.9 L666.2,2263.7 L668.2,2265.7 L670.2,2267.8 L672.2,2270.1 L674.2,2272.4 L676.2,2274.8 L678.2,2277.3 L680.2,2279.8 L682.3,2282.4 L684.3,2285.0 L686.3,2287.6 L688.3,2290.2 L690.3,2292.8 L692.3,2295.4 L694.3,2297.9 L696.3,2300.4 L698.3,2302.9 L700.3,2305.2 L702.3,2307.5 L704.3,2309.7 L706.3,2311.8 L708.3,2313.9 L710.3,2315.8 L712.3,2317.7 L714.3,2319.4 L716.3,2321.1 L718.3,2322.7 L720.3,2324.2 L722.3,2325.6 L724.3,2326.9 L726.3,2328.1 L728.3,2329.2 L730.3,2330.3 L732.3,2331.3 L734.3,2332.2 L736.3,2333.0 L738.3,2333.8 L740.3,2334.5 L742.3,2335.2 L744.3,2335.8 L746.3,2336.3 L748.3,2336.8 L750.3,2337.3 L752.3,2337.8 L754.3,2338.2 L756.3,2338.6 L758.3,2338.9 L760.3,2339.3 L762.3,2339.6 L764.3,2339.9 L766.3,2340.1 L768.3,2340.4 L770.3,2340.7 L772.3,2340.9 L774.3,2341.1 L774.3,2341.4 L772.3,2341.2 L770.3,2341.1 L768.3,2340.9 L766.3,2340.7 L764.3,2340.5 L762.3,2340.4 L760.3,2340.2 L758.3,2340.0 L756.3,2339.8 L754.3,2339.7 L752.3,2339.5 L750.3,2339.3 L748.3,2339.1 L746.3,2338.9 L744.3,2338.8 L742.3,2338.6 L740.3,2338.4 L738.3,2338.2 L736.3,2338.0 L734.3,2337.8 L732.3,2337.6 L730.3,2337.4 L728.3,2337.2 L726.3,2336.9 L724.3,2336.7 L722.3,2336.5 L720.3,2336.3 L718.3,2336.1 L716.3,2335.8 L714.3,2335.6 L712.3,2335.4 L710.3,2335.1 L708.3,2334.9 L706.3,2334.7 L704.3,2334.4 L702.3,2334.2 L700.3,2333.9 L698.3,2333.7 L696.3,2333.5 L694.3,2333.2 L692.3,2333.0 L690.3,2332.7 L688.3,2332.5 L686.3,2332.2 L684.3,2332.0 L682.3,2331.7 L680.2,2331.4 L678.2,2331.2 L676.2,2330.9 L674.2,2330.7 L672.2,2330.4 L670.2,2330.2 L668.2,2329.9 L666.2,2329.7 L664.2,2329.4 L662.2,2329.2 L660.2,2328.9 L658.2,2328.6 L656.2,2328.4 L654.2,2328.1 L652.2,2327.9 L650.2,2327.6 L648.2,2327.4 L646.2,2327.1 L644.2,2326.9 L642.2,2326.6 L640.2,2326.4 L638.2,2326.1 L636.2,2325.9 L634.2,2325.7 L632.2,2325.4 L630.2,2325.2 L628.2,2325.0 L626.2,2324.7 L624.2,2324.5 L622.2,2324.3 L620.2,2324.0 L618.2,2323.8 L616.2,2323.6 L614.2,2323.4 L612.2,2323.2 L610.2,2322.9 L608.2,2322.7 L606.2,2322.5 L604.2,2322.3 L602.2,2322.1 L600.2,2321.9 L598.2,2321.7 L596.2,2321.5 L594.2,2321.4 L592.2,2321.2 L590.2,2321.0 L588.2,2320.8 L586.1,2320.6 L584.1,2320.5 L582.1,2320.3 L580.1,2320.2 L578.1,2320.0 L576.1,2319.9 L574.1,2319.7 L572.1,2319.6 L570.1,2319.4 L568.1,2319.3 L566.1,2319.1 L564.1,2319.0 L562.1,2318.9 L560.1,2318.7 L558.1,2318.6 L556.1,2318.5 L554.1,2318.3 L552.1,2318.2 L550.1,2318.1 L548.1,2318.0 L546.1,2317.8 L544.1,2317.7 L542.1,2317.6 L540.1,2317.5 L538.1,2317.4 L536.1,2317.2 L534.1,2317.1 L532.1,2317.0 L530.1,2316.9 L528.1,2316.8 L526.1,2316.7 L524.1,2316.6 L522.1,2316.5 L520.1,2316.3 L518.1,2316.2 L516.1,2316.1 L514.1,2316.0 L512.1,2315.9 L510.1,2315.8 L508.1,2315.7 L506.1,2315.6 L504.1,2315.5 L502.1,2315.4 L500.1,2315.3 L498.1,2315.2 L496.1,2315.1 L494.1,2315.0 L492.0,2314.9 L490.0,2314.8 L488.0,2314.7 L486.0,2314.5 L484.0,2314.4 L482.0,2314.3 L480.0,2314.2 L478.0,2314.1 L476.0,2314.0 L474.0,2313.9 L472.0,2313.8 L470.0,2313.7 L468.0,2313.6 L466.0,2313.5 L464.0,2313.4 L462.0,2313.3 L460.0,2313.2 L458.0,2313.1 L456.0,2312.9 L454.0,2312.8 L452.0,2312.7 L450.0,2312.6 L448.0,2312.5 L446.0,2312.4 L444.0,2312.3 L442.0,2312.2 L440.0,2312.0 L438.0,2311.9 L436.0,2311.8 L434.0,2311.7 L432.0,2311.6 L430.0,2311.5 L428.0,2311.4 L426.0,2311.3 L424.0,2311.1 L422.0,2311.0 L420.0,2310.9 L418.0,2310.8 L416.0,2310.7 L414.0,2310.6 L412.0,2310.5 L410.0,2310.4 L408.0,2310.3 L406.0,2310.2 L404.0,2310.1 L402.0,2310.0 L400.0,2309.9 L397.9,2309.8 L395.9,2309.7 L393.9,2309.6 L391.9,2309.5 L389.9,2309.4 L387.9,2309.3 L385.9,2309.2 L383.9,2309.1 L381.9,2309.0 L379.9,2309.0 L377.9,2308.9 L375.9,2308.8 L373.9,2308.7 L371.9,2308.6 L369.9,2308.6 L367.9,2308.5 L365.9,2308.4 L363.9,2308.4 L361.9,2308.3 L359.9,2308.2 L357.9,2308.1 L355.9,2308.1 L353.9,2308.0 L351.9,2307.9 L349.9,2307.9 L347.9,2307.8 L345.9,2307.7 L343.9,2307.6 L341.9,2307.6 L339.9,2307.5 L337.9,2307.4 L335.9,2307.3 L333.9,2307.2 L331.9,2307.2 L329.9,2307.1 L327.9,2307.0 L325.9,2306.9 L323.9,2306.8 L321.9,2306.7 L319.9,2306.6 L317.9,2306.5 L315.9,2306.4 L313.9,2306.3 L311.9,2306.2 L309.9,2306.1 L307.9,2305.9 L305.9,2305.8 L303.9,2305.7 L301.8,2305.6 L299.8,2305.5 L297.8,2305.4 L295.8,2305.2 L293.8,2305.1 L291.8,2305.0 L289.8,2304.8 L287.8,2304.7 L285.8,2304.6 L283.8,2304.4 L281.8,2304.3 L279.8,2304.1 L277.8,2304.0 L275.8,2303.8 L273.8,2303.7 L271.8,2303.5 L269.8,2303.3 L267.8,2303.2 L265.8,2303.0 L263.8,2302.8 L261.8,2302.6 L259.8,2302.5 L257.8,2302.3 L255.8,2302.1 L253.8,2301.9 L251.8,2301.7 L249.8,2301.4 L247.8,2301.2 L245.8,2301.0 L243.8,2300.7 L241.8,2300.4 L239.8,2300.1 L237.8,2299.8 L235.8,2299.5 L233.8,2299.2 L231.8,2298.9 L229.8,2298.6 L227.8,2298.3 L225.8,2297.9 L223.8,2297.6 L221.8,2297.2 L219.8,2296.8 L217.8,2296.5 L215.8,2296.1 L213.8,2295.7 L211.8,2295.4 L209.8,2295.0 L207.7,2294.6 L205.7,2294.2 L203.7,2293.8 L201.7,2293.4 L199.7,2293.0 L197.7,2292.6 L195.7,2292.2 L193.7,2291.8 L191.7,2291.4 L189.7,2291.0 L187.7,2290.6 L185.7,2290.2 L183.7,2289.8 L181.7,2289.4 L179.7,2289.0 L177.7,2288.6 L175.7,2288.1 L173.7,2287.7 L171.7,2287.2 L169.7,2286.8 L167.7,2286.3 L165.7,2285.8 L163.7,2285.4 L161.7,2284.9Z" fill="url(#gd4)"/><path d="M161.7,2284.2 L163.7,2284.6 L165.7,2285.1 L167.7,2285.5 L169.7,2286.0 L171.7,2286.5 L173.7,2286.9 L175.7,2287.3 L177.7,2287.8 L179.7,2288.2 L181.7,2288.6 L183.7,2289.0 L185.7,2289.4 L187.7,2289.8 L189.7,2290.2 L191.7,2290.6 L193.7,2291.0 L195.7,2291.4 L197.7,2291.8 L199.7,2292.2 L201.7,2292.5 L203.7,2292.9 L205.7,2293.3 L207.7,2293.7 L209.8,2294.1 L211.8,2294.4 L213.8,2294.8 L215.8,2295.2 L217.8,2295.5 L219.8,2295.9 L221.8,2296.3 L223.8,2296.6 L225.8,2296.9 L227.8,2297.3 L229.8,2297.6 L231.8,2297.9 L233.8,2298.2 L235.8,2298.5 L237.8,2298.8 L239.8,2299.1 L241.8,2299.4 L243.8,2299.6 L245.8,2299.9 L247.8,2300.1 L249.8,2300.4 L251.8,2300.6 L253.8,2300.8 L255.8,2301.0 L257.8,2301.2 L259.8,2301.3 L261.8,2301.5 L263.8,2301.7 L265.8,2301.8 L267.8,2302.0 L269.8,2302.2 L271.8,2302.3 L273.8,2302.5 L275.8,2302.6 L277.8,2302.8 L279.8,2302.9 L281.8,2303.0 L283.8,2303.2 L285.8,2303.3 L287.8,2303.4 L289.8,2303.5 L291.8,2303.6 L293.8,2303.8 L295.8,2303.9 L297.8,2304.0 L299.8,2304.1 L301.8,2304.2 L303.9,2304.3 L305.9,2304.4 L307.9,2304.5 L309.9,2304.6 L311.9,2304.7 L313.9,2304.8 L315.9,2304.9 L317.9,2305.0 L319.9,2305.0 L321.9,2305.1 L323.9,2305.2 L325.9,2305.3 L327.9,2305.4 L329.9,2305.4 L331.9,2305.5 L333.9,2305.6 L335.9,2305.6 L337.9,2305.7 L339.9,2305.7 L341.9,2305.8 L343.9,2305.9 L345.9,2305.9 L347.9,2306.0 L349.9,2306.0 L351.9,2306.1 L353.9,2306.1 L355.9,2306.1 L357.9,2306.2 L359.9,2306.2 L361.9,2306.3 L363.9,2306.3 L365.9,2306.4 L367.9,2306.4 L369.9,2306.5 L371.9,2306.5 L373.9,2306.5 L375.9,2306.6 L377.9,2306.6 L379.9,2306.7 L381.9,2306.7 L383.9,2306.8 L385.9,2306.8 L387.9,2306.9 L389.9,2307.0 L391.9,2307.0 L393.9,2307.1 L395.9,2307.1 L397.9,2307.2 L400.0,2307.2 L402.0,2307.3 L404.0,2307.4 L406.0,2307.4 L408.0,2307.5 L410.0,2307.5 L412.0,2307.6 L414.0,2307.6 L416.0,2307.7 L418.0,2307.7 L420.0,2307.8 L422.0,2307.8 L424.0,2307.9 L426.0,2307.9 L428.0,2308.0 L430.0,2308.0 L432.0,2308.1 L434.0,2308.1 L436.0,2308.1 L438.0,2308.2 L440.0,2308.2 L442.0,2308.2 L444.0,2308.2 L446.0,2308.2 L448.0,2308.2 L450.0,2308.2 L452.0,2308.2 L454.0,2308.2 L456.0,2308.2 L458.0,2308.2 L460.0,2308.1 L462.0,2308.1 L464.0,2308.0 L466.0,2308.0 L468.0,2307.9 L470.0,2307.8 L472.0,2307.7 L474.0,2307.6 L476.0,2307.5 L478.0,2307.4 L480.0,2307.3 L482.0,2307.1 L484.0,2306.9 L486.0,2306.8 L488.0,2306.6 L490.0,2306.4 L492.0,2306.1 L494.1,2305.9 L496.1,2305.6 L498.1,2305.4 L500.1,2305.1 L502.1,2304.8 L504.1,2304.4 L506.1,2304.1 L508.1,2303.7 L510.1,2303.3 L512.1,2302.9 L514.1,2302.5 L516.1,2302.0 L518.1,2301.6 L520.1,2301.1 L522.1,2300.6 L524.1,2300.0 L526.1,2299.4 L528.1,2298.8 L530.1,2298.2 L532.1,2297.6 L534.1,2296.9 L536.1,2296.2 L538.1,2295.5 L540.1,2294.8 L542.1,2294.0 L544.1,2293.2 L546.1,2292.4 L548.1,2291.5 L550.1,2290.7 L552.1,2289.8 L554.1,2288.9 L556.1,2287.9 L558.1,2287.0 L560.1,2286.0 L562.1,2285.0 L564.1,2284.0 L566.1,2283.0 L568.1,2282.0 L570.1,2280.9 L572.1,2279.8 L574.1,2278.8 L576.1,2277.7 L578.1,2276.6 L580.1,2275.5 L582.1,2274.4 L584.1,2273.3 L586.1,2272.2 L588.2,2271.1 L590.2,2270.0 L592.2,2268.9 L594.2,2267.9 L596.2,2266.8 L598.2,2265.8 L600.2,2264.8 L602.2,2263.8 L604.2,2262.8 L606.2,2261.9 L608.2,2261.0 L610.2,2260.1 L612.2,2259.3 L614.2,2258.5 L616.2,2257.7 L618.2,2257.0 L620.2,2256.4 L622.2,2255.8 L624.2,2255.2 L626.2,2254.7 L628.2,2254.3 L630.2,2253.9 L632.2,2253.6 L634.2,2253.3 L636.2,2253.1 L638.2,2253.0 L640.2,2252.9 L642.2,2252.9 L644.2,2253.0 L646.2,2253.2 L648.2,2253.4 L650.2,2253.8 L652.2,2254.3 L654.2,2255.1 L656.2,2256.1 L658.2,2257.3 L660.2,2258.6 L662.2,2260.2 L664.2,2261.9 L666.2,2263.7 L668.2,2265.7 L670.2,2267.8 L672.2,2270.1 L674.2,2272.4 L676.2,2274.8 L678.2,2277.3 L680.2,2279.8 L682.3,2282.4 L684.3,2285.0 L686.3,2287.6 L688.3,2290.2 L690.3,2292.8 L692.3,2295.4 L694.3,2297.9 L696.3,2300.4 L698.3,2302.9 L700.3,2305.2 L702.3,2307.5 L704.3,2309.7 L706.3,2311.8 L708.3,2313.9 L710.3,2315.8 L712.3,2317.7 L714.3,2319.4 L716.3,2321.1 L718.3,2322.7 L720.3,2324.2 L722.3,2325.6 L724.3,2326.9 L726.3,2328.1 L728.3,2329.2 L730.3,2330.3 L732.3,2331.3 L734.3,2332.2 L736.3,2333.0 L738.3,2333.8 L740.3,2334.5 L742.3,2335.2 L744.3,2335.8 L746.3,2336.3 L748.3,2336.8 L750.3,2337.3 L752.3,2337.8 L754.3,2338.2 L756.3,2338.6 L758.3,2338.9 L760.3,2339.3 L762.3,2339.6 L764.3,2339.9 L766.3,2340.1 L768.3,2340.4 L770.3,2340.7 L772.3,2340.9 L774.3,2341.1" stroke="#00e0f0" stroke-opacity="0.9" stroke-width="3.5" fill="none" stroke-linejoin="round"/>
<path d="M333.9,2307.0 L335.9,2307.0 L337.9,2307.0 L339.9,2307.0 L341.9,2307.0 L343.9,2307.0 L345.9,2307.0 L347.9,2306.9 L349.9,2306.9 L351.9,2306.8 L353.9,2306.7 L355.9,2306.6 L357.9,2306.4 L359.9,2306.3 L361.9,2306.1 L363.9,2305.9 L365.9,2305.6 L367.9,2305.3 L369.9,2305.0 L371.9,2304.7 L373.9,2304.3 L375.9,2303.8 L377.9,2303.4 L379.9,2302.9 L381.9,2302.3 L383.9,2301.7 L385.9,2301.0 L387.9,2300.3 L389.9,2299.6 L391.9,2298.8 L393.9,2297.9 L395.9,2297.0 L397.9,2296.1 L400.0,2295.1 L402.0,2294.1 L404.0,2293.0 L406.0,2291.9 L408.0,2290.8 L410.0,2289.6 L412.0,2288.4 L414.0,2287.2 L416.0,2286.0 L418.0,2284.8 L420.0,2283.5 L422.0,2282.3 L424.0,2281.1 L426.0,2279.9 L428.0,2278.8 L430.0,2277.7 L432.0,2276.6 L434.0,2275.6 L436.0,2274.6 L438.0,2273.7 L440.0,2272.9 L442.0,2272.2 L444.0,2271.6 L446.0,2271.1 L448.0,2270.6 L450.0,2270.3 L452.0,2270.1 L454.0,2270.0 L456.0,2270.0 L458.0,2270.1 L460.0,2270.3 L462.0,2270.6 L464.0,2271.1 L466.0,2271.6 L468.0,2272.3 L470.0,2273.0 L472.0,2273.9 L474.0,2274.8 L476.0,2275.9 L478.0,2277.0 L480.0,2278.1 L482.0,2279.3 L484.0,2280.6 L486.0,2282.0 L488.0,2283.3 L490.0,2284.7 L492.0,2286.1 L494.1,2287.6 L496.1,2289.0 L498.1,2290.5 L500.1,2291.9 L502.1,2293.3 L504.1,2294.7 L506.1,2296.1 L508.1,2297.5 L510.1,2298.8 L512.1,2300.0 L514.1,2301.3 L516.1,2302.5 L518.1,2303.6 L520.1,2304.7 L522.1,2305.8 L524.1,2306.8 L526.1,2307.7 L528.1,2308.6 L530.1,2309.5 L532.1,2310.3 L534.1,2311.0 L536.1,2311.7 L538.1,2312.4 L540.1,2313.0 L542.1,2313.6 L544.1,2314.2 L546.1,2314.7 L548.1,2315.2 L550.1,2315.6 L552.1,2316.0 L554.1,2316.4 L556.1,2316.8 L558.1,2317.1 L560.1,2317.4 L562.1,2317.7 L564.1,2318.0 L566.1,2318.3 L568.1,2318.5 L570.1,2318.8 L572.1,2319.0 L574.1,2319.2 L576.1,2319.5 L578.1,2319.7 L580.1,2319.9 L580.1,2320.2 L578.1,2320.0 L576.1,2319.9 L574.1,2319.7 L572.1,2319.6 L570.1,2319.4 L568.1,2319.3 L566.1,2319.1 L564.1,2319.0 L562.1,2318.9 L560.1,2318.7 L558.1,2318.6 L556.1,2318.5 L554.1,2318.3 L552.1,2318.2 L550.1,2318.1 L548.1,2318.0 L546.1,2317.8 L544.1,2317.7 L542.1,2317.6 L540.1,2317.5 L538.1,2317.4 L536.1,2317.2 L534.1,2317.1 L532.1,2317.0 L530.1,2316.9 L528.1,2316.8 L526.1,2316.7 L524.1,2316.6 L522.1,2316.5 L520.1,2316.3 L518.1,2316.2 L516.1,2316.1 L514.1,2316.0 L512.1,2315.9 L510.1,2315.8 L508.1,2315.7 L506.1,2315.6 L504.1,2315.5 L502.1,2315.4 L500.1,2315.3 L498.1,2315.2 L496.1,2315.1 L494.1,2315.0 L492.0,2314.9 L490.0,2314.8 L488.0,2314.7 L486.0,2314.5 L484.0,2314.4 L482.0,2314.3 L480.0,2314.2 L478.0,2314.1 L476.0,2314.0 L474.0,2313.9 L472.0,2313.8 L470.0,2313.7 L468.0,2313.6 L466.0,2313.5 L464.0,2313.4 L462.0,2313.3 L460.0,2313.2 L458.0,2313.1 L456.0,2312.9 L454.0,2312.8 L452.0,2312.7 L450.0,2312.6 L448.0,2312.5 L446.0,2312.4 L444.0,2312.3 L442.0,2312.2 L440.0,2312.0 L438.0,2311.9 L436.0,2311.8 L434.0,2311.7 L432.0,2311.6 L430.0,2311.5 L428.0,2311.4 L426.0,2311.3 L424.0,2311.1 L422.0,2311.0 L420.0,2310.9 L418.0,2310.8 L416.0,2310.7 L414.0,2310.6 L412.0,2310.5 L410.0,2310.4 L408.0,2310.3 L406.0,2310.2 L404.0,2310.1 L402.0,2310.0 L400.0,2309.9 L397.9,2309.8 L395.9,2309.7 L393.9,2309.6 L391.9,2309.5 L389.9,2309.4 L387.9,2309.3 L385.9,2309.2 L383.9,2309.1 L381.9,2309.0 L379.9,2309.0 L377.9,2308.9 L375.9,2308.8 L373.9,2308.7 L371.9,2308.6 L369.9,2308.6 L367.9,2308.5 L365.9,2308.4 L363.9,2308.4 L361.9,2308.3 L359.9,2308.2 L357.9,2308.1 L355.9,2308.1 L353.9,2308.0 L351.9,2307.9 L349.9,2307.9 L347.9,2307.8 L345.9,2307.7 L343.9,2307.6 L341.9,2307.6 L339.9,2307.5 L337.9,2307.4 L335.9,2307.3 L333.9,2307.2Z" fill="url(#gd8)"/><path d="M333.9,2307.0 L335.9,2307.0 L337.9,2307.0 L339.9,2307.0 L341.9,2307.0 L343.9,2307.0 L345.9,2307.0 L347.9,2306.9 L349.9,2306.9 L351.9,2306.8 L353.9,2306.7 L355.9,2306.6 L357.9,2306.4 L359.9,2306.3 L361.9,2306.1 L363.9,2305.9 L365.9,2305.6 L367.9,2305.3 L369.9,2305.0 L371.9,2304.7 L373.9,2304.3 L375.9,2303.8 L377.9,2303.4 L379.9,2302.9 L381.9,2302.3 L383.9,2301.7 L385.9,2301.0 L387.9,2300.3 L389.9,2299.6 L391.9,2298.8 L393.9,2297.9 L395.9,2297.0 L397.9,2296.1 L400.0,2295.1 L402.0,2294.1 L404.0,2293.0 L406.0,2291.9 L408.0,2290.8 L410.0,2289.6 L412.0,2288.4 L414.0,2287.2 L416.0,2286.0 L418.0,2284.8 L420.0,2283.5 L422.0,2282.3 L424.0,2281.1 L426.0,2279.9 L428.0,2278.8 L430.0,2277.7 L432.0,2276.6 L434.0,2275.6 L436.0,2274.6 L438.0,2273.7 L440.0,2272.9 L442.0,2272.2 L444.0,2271.6 L446.0,2271.1 L448.0,2270.6 L450.0,2270.3 L452.0,2270.1 L454.0,2270.0 L456.0,2270.0 L458.0,2270.1 L460.0,2270.3 L462.0,2270.6 L464.0,2271.1 L466.0,2271.6 L468.0,2272.3 L470.0,2273.0 L472.0,2273.9 L474.0,2274.8 L476.0,2275.9 L478.0,2277.0 L480.0,2278.1 L482.0,2279.3 L484.0,2280.6 L486.0,2282.0 L488.0,2283.3 L490.0,2284.7 L492.0,2286.1 L494.1,2287.6 L496.1,2289.0 L498.1,2290.5 L500.1,2291.9 L502.1,2293.3 L504.1,2294.7 L506.1,2296.1 L508.1,2297.5 L510.1,2298.8 L512.1,2300.0 L514.1,2301.3 L516.1,2302.5 L518.1,2303.6 L520.1,2304.7 L522.1,2305.8 L524.1,2306.8 L526.1,2307.7 L528.1,2308.6 L530.1,2309.5 L532.1,2310.3 L534.1,2311.0 L536.1,2311.7 L538.1,2312.4 L540.1,2313.0 L542.1,2313.6 L544.1,2314.2 L546.1,2314.7 L548.1,2315.2 L550.1,2315.6 L552.1,2316.0 L554.1,2316.4 L556.1,2316.8 L558.1,2317.1 L560.1,2317.4 L562.1,2317.7 L564.1,2318.0 L566.1,2318.3 L568.1,2318.5 L570.1,2318.8 L572.1,2319.0 L574.1,2319.2 L576.1,2319.5 L578.1,2319.7 L580.1,2319.9" stroke="#f09090" stroke-opacity="0.8" stroke-width="3.5" fill="none" stroke-linejoin="round"/>
<path d="M962.5,2352.1 L964.5,2352.2 L966.6,2352.3 L968.6,2352.5 L970.6,2352.6 L972.6,2352.6 L974.6,2352.7 L976.6,2352.8 L978.6,2352.9 L980.6,2352.9 L982.6,2352.9 L984.6,2352.9 L986.6,2352.9 L988.6,2352.8 L990.6,2352.7 L992.6,2352.6 L994.6,2352.4 L996.6,2352.2 L998.6,2351.9 L1000.6,2351.6 L1002.6,2351.2 L1004.6,2350.8 L1006.6,2350.2 L1008.6,2349.6 L1010.6,2348.9 L1012.6,2348.2 L1014.6,2347.3 L1016.6,2346.3 L1018.6,2345.3 L1020.6,2344.1 L1022.6,2342.8 L1024.6,2341.3 L1026.6,2339.8 L1028.6,2338.1 L1030.6,2336.2 L1032.6,2334.2 L1034.6,2332.1 L1036.6,2329.8 L1038.6,2327.3 L1040.6,2324.7 L1042.6,2321.9 L1044.6,2318.9 L1046.6,2315.8 L1048.6,2312.5 L1050.6,2309.1 L1052.6,2305.5 L1054.6,2301.8 L1056.6,2298.0 L1058.6,2294.0 L1060.7,2289.9 L1062.7,2285.7 L1064.7,2281.4 L1066.7,2277.0 L1068.7,2272.6 L1070.7,2268.1 L1072.7,2263.6 L1074.7,2259.1 L1076.7,2254.6 L1078.7,2250.2 L1080.7,2245.8 L1082.7,2241.5 L1084.7,2237.3 L1086.7,2233.3 L1088.7,2229.4 L1090.7,2225.7 L1092.7,2222.1 L1094.7,2218.9 L1096.7,2215.8 L1098.7,2213.0 L1100.7,2210.5 L1102.7,2208.3 L1104.7,2206.5 L1106.7,2204.9 L1108.7,2203.7 L1110.7,2202.9 L1112.7,2202.4 L1114.7,2202.3 L1116.7,2202.5 L1118.7,2203.3 L1120.7,2204.4 L1122.7,2206.1 L1124.7,2208.2 L1126.7,2210.7 L1128.7,2213.6 L1130.7,2217.0 L1132.7,2220.7 L1134.7,2224.7 L1136.7,2229.1 L1138.7,2233.8 L1140.7,2238.7 L1142.7,2243.8 L1144.7,2249.2 L1146.7,2254.6 L1148.7,2260.2 L1150.7,2265.9 L1152.7,2271.6 L1154.8,2277.4 L1156.8,2283.1 L1158.8,2288.8 L1160.8,2294.5 L1162.8,2300.0 L1164.8,2305.4 L1166.8,2310.7 L1168.8,2315.9 L1170.8,2320.9 L1172.8,2325.7 L1174.8,2330.3 L1176.8,2334.7 L1178.8,2338.9 L1180.8,2342.9 L1182.8,2346.7 L1184.8,2350.3 L1186.8,2353.7 L1188.8,2356.8 L1190.8,2359.8 L1192.8,2362.6 L1194.8,2365.2 L1196.8,2367.6 L1198.8,2369.8 L1200.8,2371.9 L1202.8,2373.8 L1204.8,2375.6 L1206.8,2377.2 L1208.8,2378.7 L1210.8,2380.1 L1212.8,2381.3 L1214.8,2382.5 L1216.8,2383.6 L1218.8,2384.6 L1220.8,2385.5 L1222.8,2386.4 L1224.8,2387.2 L1226.8,2387.9 L1228.8,2388.6 L1230.8,2389.3 L1232.8,2389.9 L1234.8,2390.5 L1236.8,2391.1 L1238.8,2391.7 L1240.8,2392.3 L1242.8,2392.8 L1244.8,2393.4 L1246.8,2393.9 L1248.9,2394.4 L1250.9,2394.9 L1252.9,2395.4 L1252.9,2395.7 L1250.9,2395.2 L1248.9,2394.8 L1246.8,2394.3 L1244.8,2393.9 L1242.8,2393.5 L1240.8,2393.0 L1238.8,2392.6 L1236.8,2392.2 L1234.8,2391.8 L1232.8,2391.4 L1230.8,2391.0 L1228.8,2390.7 L1226.8,2390.3 L1224.8,2390.0 L1222.8,2389.6 L1220.8,2389.3 L1218.8,2389.0 L1216.8,2388.6 L1214.8,2388.3 L1212.8,2388.0 L1210.8,2387.6 L1208.8,2387.3 L1206.8,2387.0 L1204.8,2386.6 L1202.8,2386.3 L1200.8,2386.0 L1198.8,2385.6 L1196.8,2385.3 L1194.8,2385.0 L1192.8,2384.7 L1190.8,2384.3 L1188.8,2384.0 L1186.8,2383.7 L1184.8,2383.3 L1182.8,2383.0 L1180.8,2382.7 L1178.8,2382.4 L1176.8,2382.0 L1174.8,2381.7 L1172.8,2381.4 L1170.8,2381.0 L1168.8,2380.7 L1166.8,2380.4 L1164.8,2380.1 L1162.8,2379.8 L1160.8,2379.4 L1158.8,2379.1 L1156.8,2378.8 L1154.8,2378.5 L1152.7,2378.1 L1150.7,2377.8 L1148.7,2377.5 L1146.7,2377.2 L1144.7,2376.9 L1142.7,2376.6 L1140.7,2376.2 L1138.7,2375.9 L1136.7,2375.6 L1134.7,2375.3 L1132.7,2375.0 L1130.7,2374.7 L1128.7,2374.4 L1126.7,2374.1 L1124.7,2373.7 L1122.7,2373.4 L1120.7,2373.1 L1118.7,2372.8 L1116.7,2372.5 L1114.7,2372.2 L1112.7,2371.9 L1110.7,2371.6 L1108.7,2371.3 L1106.7,2371.0 L1104.7,2370.7 L1102.7,2370.4 L1100.7,2370.1 L1098.7,2369.8 L1096.7,2369.5 L1094.7,2369.2 L1092.7,2368.9 L1090.7,2368.6 L1088.7,2368.3 L1086.7,2368.0 L1084.7,2367.7 L1082.7,2367.4 L1080.7,2367.1 L1078.7,2366.8 L1076.7,2366.5 L1074.7,2366.2 L1072.7,2365.9 L1070.7,2365.6 L1068.7,2365.3 L1066.7,2365.0 L1064.7,2364.7 L1062.7,2364.4 L1060.7,2364.1 L1058.6,2363.8 L1056.6,2363.5 L1054.6,2363.2 L1052.6,2363.0 L1050.6,2362.7 L1048.6,2362.4 L1046.6,2362.1 L1044.6,2361.8 L1042.6,2361.5 L1040.6,2361.2 L1038.6,2361.0 L1036.6,2360.7 L1034.6,2360.4 L1032.6,2360.2 L1030.6,2359.9 L1028.6,2359.6 L1026.6,2359.4 L1024.6,2359.1 L1022.6,2358.8 L1020.6,2358.6 L1018.6,2358.3 L1016.6,2358.1 L1014.6,2357.8 L1012.6,2357.6 L1010.6,2357.4 L1008.6,2357.1 L1006.6,2356.9 L1004.6,2356.7 L1002.6,2356.5 L1000.6,2356.2 L998.6,2356.0 L996.6,2355.8 L994.6,2355.6 L992.6,2355.4 L990.6,2355.1 L988.6,2354.9 L986.6,2354.7 L984.6,2354.5 L982.6,2354.3 L980.6,2354.1 L978.6,2353.9 L976.6,2353.7 L974.6,2353.5 L972.6,2353.3 L970.6,2353.1 L968.6,2352.9 L966.6,2352.7 L964.5,2352.6 L962.5,2352.4Z" fill="url(#gd1)"/><path d="M962.5,2352.1 L964.5,2352.2 L966.6,2352.3 L968.6,2352.5 L970.6,2352.6 L972.6,2352.6 L974.6,2352.7 L976.6,2352.8 L978.6,2352.9 L980.6,2352.9 L982.6,2352.9 L984.6,2352.9 L986.6,2352.9 L988.6,2352.8 L990.6,2352.7 L992.6,2352.6 L994.6,2352.4 L996.6,2352.2 L998.6,2351.9 L1000.6,2351.6 L1002.6,2351.2 L1004.6,2350.8 L1006.6,2350.2 L1008.6,2349.6 L1010.6,2348.9 L1012.6,2348.2 L1014.6,2347.3 L1016.6,2346.3 L1018.6,2345.3 L1020.6,2344.1 L1022.6,2342.8 L1024.6,2341.3 L1026.6,2339.8 L1028.6,2338.1 L1030.6,2336.2 L1032.6,2334.2 L1034.6,2332.1 L1036.6,2329.8 L1038.6,2327.3 L1040.6,2324.7 L1042.6,2321.9 L1044.6,2318.9 L1046.6,2315.8 L1048.6,2312.5 L1050.6,2309.1 L1052.6,2305.5 L1054.6,2301.8 L1056.6,2298.0 L1058.6,2294.0 L1060.7,2289.9 L1062.7,2285.7 L1064.7,2281.4 L1066.7,2277.0 L1068.7,2272.6 L1070.7,2268.1 L1072.7,2263.6 L1074.7,2259.1 L1076.7,2254.6 L1078.7,2250.2 L1080.7,2245.8 L1082.7,2241.5 L1084.7,2237.3 L1086.7,2233.3 L1088.7,2229.4 L1090.7,2225.7 L1092.7,2222.1 L1094.7,2218.9 L1096.7,2215.8 L1098.7,2213.0 L1100.7,2210.5 L1102.7,2208.3 L1104.7,2206.5 L1106.7,2204.9 L1108.7,2203.7 L1110.7,2202.9 L1112.7,2202.4 L1114.7,2202.3 L1116.7,2202.5 L1118.7,2203.3 L1120.7,2204.4 L1122.7,2206.1 L1124.7,2208.2 L1126.7,2210.7 L1128.7,2213.6 L1130.7,2217.0 L1132.7,2220.7 L1134.7,2224.7 L1136.7,2229.1 L1138.7,2233.8 L1140.7,2238.7 L1142.7,2243.8 L1144.7,2249.2 L1146.7,2254.6 L1148.7,2260.2 L1150.7,2265.9 L1152.7,2271.6 L1154.8,2277.4 L1156.8,2283.1 L1158.8,2288.8 L1160.8,2294.5 L1162.8,2300.0 L1164.8,2305.4 L1166.8,2310.7 L1168.8,2315.9 L1170.8,2320.9 L1172.8,2325.7 L1174.8,2330.3 L1176.8,2334.7 L1178.8,2338.9 L1180.8,2342.9 L1182.8,2346.7 L1184.8,2350.3 L1186.8,2353.7 L1188.8,2356.8 L1190.8,2359.8 L1192.8,2362.6 L1194.8,2365.2 L1196.8,2367.6 L1198.8,2369.8 L1200.8,2371.9 L1202.8,2373.8 L1204.8,2375.6 L1206.8,2377.2 L1208.8,2378.7 L1210.8,2380.1 L1212.8,2381.3 L1214.8,2382.5 L1216.8,2383.6 L1218.8,2384.6 L1220.8,2385.5 L1222.8,2386.4 L1224.8,2387.2 L1226.8,2387.9 L1228.8,2388.6 L1230.8,2389.3 L1232.8,2389.9 L1234.8,2390.5 L1236.8,2391.1 L1238.8,2391.7 L1240.8,2392.3 L1242.8,2392.8 L1244.8,2393.4 L1246.8,2393.9 L1248.9,2394.4 L1250.9,2394.9 L1252.9,2395.4" stroke="#e0b0f0" stroke-opacity="0.8" stroke-width="3" fill="none" stroke-linejoin="round"/>
<path d="M161.7,2284.3 L163.7,2284.8 L165.7,2285.3 L167.7,2285.7 L169.7,2286.2 L171.7,2286.7 L173.7,2287.1 L175.7,2287.6 L177.7,2288.0 L179.7,2288.4 L181.7,2288.9 L183.7,2289.3 L185.7,2289.7 L187.7,2290.1 L189.7,2290.5 L191.7,2290.9 L193.7,2291.2 L195.7,2291.6 L197.7,2292.0 L199.7,2292.4 L201.7,2292.8 L203.7,2293.2 L205.7,2293.6 L207.7,2294.0 L209.8,2294.4 L211.8,2294.7 L213.8,2295.1 L215.8,2295.5 L217.8,2295.9 L219.8,2296.2 L221.8,2296.6 L223.8,2296.9 L225.8,2297.3 L227.8,2297.6 L229.8,2298.0 L231.8,2298.3 L233.8,2298.6 L235.8,2298.9 L237.8,2299.2 L239.8,2299.5 L241.8,2299.8 L243.8,2300.0 L245.8,2300.3 L247.8,2300.6 L249.8,2300.8 L251.8,2301.0 L253.8,2301.2 L255.8,2301.4 L257.8,2301.6 L259.8,2301.8 L261.8,2302.0 L263.8,2302.2 L265.8,2302.3 L267.8,2302.5 L269.8,2302.7 L271.8,2302.8 L273.8,2303.0 L275.8,2303.1 L277.8,2303.3 L279.8,2303.4 L281.8,2303.6 L283.8,2303.7 L285.8,2303.9 L287.8,2304.0 L289.8,2304.1 L291.8,2304.3 L293.8,2304.4 L295.8,2304.5 L297.8,2304.6 L299.8,2304.8 L301.8,2304.9 L303.9,2305.0 L305.9,2305.1 L307.9,2305.2 L309.9,2305.3 L311.9,2305.4 L313.9,2305.5 L315.9,2305.6 L317.9,2305.7 L319.9,2305.8 L321.9,2305.9 L323.9,2306.0 L325.9,2306.1 L327.9,2306.2 L329.9,2306.3 L331.9,2306.4 L333.9,2306.5 L335.9,2306.5 L337.9,2306.6 L339.9,2306.7 L341.9,2306.8 L343.9,2306.8 L345.9,2306.9 L347.9,2307.0 L349.9,2307.0 L351.9,2307.1 L353.9,2307.2 L355.9,2307.2 L357.9,2307.3 L359.9,2307.4 L361.9,2307.4 L363.9,2307.5 L365.9,2307.6 L367.9,2307.6 L369.9,2307.7 L371.9,2307.8 L373.9,2307.9 L375.9,2307.9 L377.9,2308.0 L379.9,2308.1 L381.9,2308.2 L383.9,2308.2 L385.9,2308.3 L387.9,2308.4 L389.9,2308.5 L391.9,2308.6 L393.9,2308.7 L395.9,2308.8 L397.9,2308.9 L400.0,2308.9 L402.0,2309.0 L404.0,2309.1 L406.0,2309.2 L408.0,2309.3 L410.0,2309.4 L412.0,2309.5 L414.0,2309.6 L416.0,2309.7 L418.0,2309.9 L420.0,2310.0 L422.0,2310.1 L424.0,2310.2 L426.0,2310.3 L428.0,2310.4 L430.0,2310.5 L432.0,2310.6 L434.0,2310.7 L436.0,2310.8 L438.0,2310.9 L440.0,2311.0 L442.0,2311.1 L444.0,2311.2 L446.0,2311.3 L448.0,2311.5 L450.0,2311.6 L452.0,2311.7 L454.0,2311.8 L456.0,2311.9 L458.0,2312.0 L460.0,2312.1 L462.0,2312.2 L464.0,2312.3 L466.0,2312.4 L468.0,2312.5 L470.0,2312.6 L472.0,2312.7 L474.0,2312.8 L476.0,2312.9 L478.0,2313.0 L480.0,2313.1 L482.0,2313.2 L484.0,2313.3 L486.0,2313.4 L488.0,2313.5 L490.0,2313.6 L492.0,2313.7 L494.1,2313.8 L496.1,2313.9 L498.1,2314.0 L500.1,2314.1 L502.1,2314.2 L504.1,2314.3 L506.1,2314.4 L508.1,2314.5 L510.1,2314.6 L512.1,2314.7 L514.1,2314.8 L516.1,2314.9 L518.1,2315.0 L520.1,2315.1 L522.1,2315.2 L524.1,2315.3 L526.1,2315.4 L528.1,2315.5 L530.1,2315.6 L532.1,2315.7 L534.1,2315.8 L536.1,2315.9 L538.1,2316.0 L540.1,2316.1 L542.1,2316.2 L544.1,2316.4 L546.1,2316.5 L548.1,2316.6 L550.1,2316.7 L552.1,2316.8 L554.1,2316.9 L556.1,2317.1 L558.1,2317.2 L560.1,2317.3 L562.1,2317.4 L564.1,2317.6 L566.1,2317.7 L568.1,2317.8 L570.1,2317.9 L572.1,2318.1 L574.1,2318.2 L576.1,2318.3 L578.1,2318.5 L580.1,2318.6 L582.1,2318.8 L584.1,2318.9 L586.1,2319.1 L588.2,2319.2 L590.2,2319.4 L592.2,2319.6 L594.2,2319.8 L596.2,2319.9 L598.2,2320.1 L600.2,2320.3 L602.2,2320.5 L604.2,2320.7 L606.2,2320.9 L608.2,2321.1 L610.2,2321.3 L612.2,2321.5 L614.2,2321.7 L616.2,2321.9 L618.2,2322.1 L620.2,2322.3 L622.2,2322.5 L624.2,2322.7 L626.2,2322.9 L628.2,2323.2 L630.2,2323.4 L632.2,2323.6 L634.2,2323.8 L636.2,2324.1 L638.2,2324.3 L640.2,2324.5 L642.2,2324.7 L644.2,2325.0 L646.2,2325.2 L648.2,2325.5 L650.2,2325.7 L652.2,2325.9 L654.2,2326.2 L656.2,2326.4 L658.2,2326.6 L660.2,2326.9 L662.2,2327.1 L664.2,2327.4 L666.2,2327.6 L668.2,2327.8 L670.2,2328.1 L672.2,2328.3 L674.2,2328.6 L676.2,2328.8 L678.2,2329.0 L680.2,2329.3 L682.3,2329.5 L684.3,2329.7 L686.3,2330.0 L688.3,2330.2 L690.3,2330.5 L692.3,2330.7 L694.3,2330.9 L696.3,2331.1 L698.3,2331.4 L700.3,2331.6 L702.3,2331.8 L704.3,2332.0 L706.3,2332.3 L708.3,2332.5 L710.3,2332.7 L712.3,2332.9 L714.3,2333.1 L716.3,2333.3 L718.3,2333.5 L720.3,2333.7 L722.3,2333.9 L724.3,2334.1 L726.3,2334.3 L728.3,2334.5 L730.3,2334.7 L732.3,2334.9 L734.3,2335.1 L736.3,2335.3 L738.3,2335.4 L740.3,2335.6 L742.3,2335.8 L744.3,2335.9 L746.3,2336.1 L748.3,2336.2 L750.3,2336.4 L752.3,2336.6 L754.3,2336.7 L756.3,2336.9 L758.3,2337.0 L760.3,2337.2 L762.3,2337.3 L764.3,2337.5 L766.3,2337.6 L768.3,2337.7 L770.3,2337.9 L772.3,2338.0 L774.3,2338.2 L776.4,2338.3 L778.4,2338.5 L780.4,2338.6 L782.4,2338.7 L784.4,2338.9 L786.4,2339.0 L788.4,2339.1 L790.4,2339.3 L792.4,2339.4 L794.4,2339.5 L796.4,2339.7 L798.4,2339.8 L800.4,2339.9 L802.4,2340.0 L804.4,2340.1 L806.4,2340.3 L808.4,2340.4 L810.4,2340.5 L812.4,2340.6 L814.4,2340.7 L816.4,2340.8 L818.4,2340.9 L820.4,2341.0 L822.4,2341.1 L824.4,2341.2 L826.4,2341.3 L828.4,2341.4 L830.4,2341.5 L832.4,2341.6 L834.4,2341.7 L836.4,2341.8 L838.4,2341.9 L840.4,2341.9 L842.4,2342.0 L844.4,2342.1 L846.4,2342.2 L848.4,2342.2 L850.4,2342.3 L852.4,2342.4 L854.4,2342.4 L856.4,2342.5 L858.4,2342.5 L860.4,2342.6 L862.4,2342.6 L864.4,2342.7 L866.4,2342.7 L868.4,2342.7 L870.5,2342.8 L872.5,2342.8 L874.5,2342.8 L876.5,2342.8 L878.5,2342.8 L880.5,2342.9 L882.5,2342.9 L884.5,2342.9 L886.5,2342.9 L888.5,2342.9 L890.5,2342.9 L892.5,2342.9 L894.5,2342.9 L896.5,2342.8 L898.5,2342.8 L900.5,2342.8 L902.5,2342.8 L904.5,2342.8 L906.5,2342.8 L908.5,2342.8 L910.5,2342.7 L912.5,2342.7 L914.5,2342.7 L916.5,2342.7 L918.5,2342.7 L920.5,2342.6 L922.5,2342.6 L924.5,2342.6 L926.5,2342.6 L928.5,2342.5 L930.5,2342.5 L932.5,2342.5 L934.5,2342.5 L936.5,2342.4 L938.5,2342.4 L940.5,2342.4 L942.5,2342.4 L944.5,2342.3 L946.5,2342.3 L948.5,2342.3 L950.5,2342.3 L952.5,2342.3 L954.5,2342.3 L956.5,2342.2 L958.5,2342.2 L960.5,2342.2 L962.5,2342.2 L964.5,2342.2 L966.6,2342.2 L968.6,2342.2 L970.6,2342.2 L972.6,2342.2 L974.6,2342.2 L976.6,2342.2 L978.6,2342.2 L980.6,2342.2 L982.6,2342.2 L984.6,2342.2 L986.6,2342.2 L988.6,2342.2 L990.6,2342.2 L992.6,2342.1 L994.6,2342.1 L996.6,2342.1 L998.6,2342.0 L1000.6,2342.0 L1002.6,2341.9 L1004.6,2341.9 L1006.6,2341.8 L1008.6,2341.7 L1010.6,2341.6 L1012.6,2341.6 L1014.6,2341.5 L1016.6,2341.4 L1018.6,2341.3 L1020.6,2341.2 L1022.6,2341.0 L1024.6,2340.9 L1026.6,2340.8 L1028.6,2340.6 L1030.6,2340.5 L1032.6,2340.3 L1034.6,2340.1 L1036.6,2339.9 L1038.6,2339.7 L1040.6,2339.4 L1042.6,2339.2 L1044.6,2338.9 L1046.6,2338.6 L1048.6,2338.3 L1050.6,2338.0 L1052.6,2337.6 L1054.6,2337.3 L1056.6,2336.9 L1058.6,2336.4 L1060.7,2335.9 L1062.7,2335.4 L1064.7,2334.9 L1066.7,2334.3 L1068.7,2333.7 L1070.7,2333.0 L1072.7,2332.3 L1074.7,2331.5 L1076.7,2330.6 L1078.7,2329.7 L1080.7,2328.7 L1082.7,2327.7 L1084.7,2326.5 L1086.7,2325.3 L1088.7,2324.0 L1090.7,2322.6 L1092.7,2321.0 L1094.7,2319.4 L1096.7,2317.6 L1098.7,2315.6 L1100.7,2313.6 L1102.7,2311.3 L1104.7,2308.9 L1106.7,2306.4 L1108.7,2303.6 L1110.7,2300.6 L1112.7,2297.5 L1114.7,2294.1 L1116.7,2290.4 L1118.7,2286.6 L1120.7,2282.4 L1122.7,2278.0 L1124.7,2273.3 L1126.7,2268.3 L1128.7,2263.0 L1130.7,2257.4 L1132.7,2251.5 L1134.7,2245.2 L1136.7,2238.6 L1138.7,2231.6 L1140.7,2224.2 L1142.7,2216.5 L1144.7,2208.5 L1146.7,2200.0 L1148.7,2191.2 L1150.7,2182.1 L1152.7,2172.6 L1154.8,2162.7 L1156.8,2152.6 L1158.8,2142.1 L1160.8,2131.3 L1162.8,2120.3 L1164.8,2109.1 L1166.8,2097.8 L1168.8,2086.3 L1170.8,2074.8 L1172.8,2063.4 L1174.8,2052.1 L1176.8,2041.0 L1178.8,2030.3 L1180.8,2020.0 L1182.8,2010.3 L1184.8,2001.4 L1186.8,1993.3 L1188.8,1986.3 L1190.8,1980.3 L1192.8,1975.6 L1194.8,1972.2 L1196.8,1970.2 L1198.8,1969.7 L1200.8,1970.5 L1202.8,1972.8 L1204.8,1976.5 L1206.8,1981.5 L1208.8,1987.6 L1210.8,1994.9 L1212.8,2003.2 L1214.8,2012.3 L1216.8,2022.1 L1218.8,2032.5 L1220.8,2043.3 L1222.8,2054.5 L1224.8,2065.9 L1226.8,2077.3 L1228.8,2088.8 L1230.8,2100.3 L1232.8,2111.6 L1234.8,2122.7 L1236.8,2133.6 L1238.8,2144.2 L1240.8,2154.6 L1242.8,2164.6 L1244.8,2174.2 L1246.8,2183.5 L1248.9,2192.5 L1250.9,2201.1 L1252.9,2209.4 L1254.9,2217.3 L1256.9,2224.9 L1258.9,2232.1 L1260.9,2239.0 L1262.9,2245.7 L1264.9,2252.0 L1266.9,2258.0 L1268.9,2263.8 L1270.9,2269.3 L1272.9,2274.5 L1274.9,2279.5 L1276.9,2284.2 L1278.9,2288.8 L1280.9,2293.1 L1282.9,2297.2 L1284.9,2301.1 L1286.9,2304.8 L1288.9,2308.4 L1290.9,2311.8 L1292.9,2315.0 L1294.9,2318.0 L1296.9,2320.9 L1298.9,2323.6 L1300.9,2326.2 L1302.9,2328.7 L1304.9,2331.1 L1306.9,2333.3 L1308.9,2335.5 L1310.9,2337.6 L1312.9,2339.6 L1314.9,2341.5 L1316.9,2343.4 L1318.9,2345.1 L1320.9,2346.8 L1322.9,2348.5 L1324.9,2350.1 L1326.9,2351.6 L1328.9,2353.0 L1330.9,2354.4 L1332.9,2355.8 L1334.9,2357.1 L1336.9,2358.3 L1338.9,2359.6 L1340.9,2360.7 L1343.0,2361.8 L1345.0,2362.9 L1347.0,2364.0 L1349.0,2365.0 L1351.0,2366.0 L1353.0,2366.9 L1355.0,2367.8 L1357.0,2368.7 L1359.0,2369.6 L1361.0,2370.4 L1363.0,2371.2 L1365.0,2371.9 L1367.0,2372.7 L1369.0,2373.4 L1371.0,2374.1 L1373.0,2374.8 L1375.0,2375.4 L1377.0,2376.1 L1379.0,2376.7 L1381.0,2377.3 L1383.0,2377.9 L1385.0,2378.4 L1387.0,2379.0 L1389.0,2379.5 L1391.0,2380.0 L1393.0,2380.5 L1395.0,2381.0 L1397.0,2381.4 L1399.0,2381.9 L1401.0,2382.3 L1403.0,2382.7 L1405.0,2383.2 L1407.0,2383.6 L1409.0,2383.9 L1411.0,2384.2 L1413.0,2384.5 L1415.0,2384.8 L1417.0,2385.0 L1419.0,2385.2 L1421.0,2385.3 L1423.0,2385.4 L1425.0,2385.5 L1427.0,2385.5 L1429.0,2385.6 L1431.0,2385.6 L1433.0,2385.6 L1435.0,2385.5 L1437.0,2385.5 L1439.1,2385.4 L1441.1,2385.3 L1443.1,2385.2 L1445.1,2385.1 L1447.1,2385.0 L1449.1,2384.9 L1451.1,2384.8 L1453.1,2384.6 L1455.1,2384.5 L1457.1,2384.4 L1459.1,2384.2 L1461.1,2384.1 L1463.1,2384.0 L1465.1,2383.9 L1467.1,2383.8 L1469.1,2383.7 L1471.1,2383.6 L1473.1,2383.5 L1475.1,2383.4 L1477.1,2383.2 L1479.1,2383.1 L1481.1,2383.0 L1483.1,2382.8 L1485.1,2382.7 L1487.1,2382.5 L1489.1,2382.4 L1491.1,2382.2 L1493.1,2382.1 L1495.1,2381.9 L1497.1,2381.7 L1499.1,2381.5 L1501.1,2381.4 L1503.1,2381.2 L1505.1,2381.0 L1507.1,2380.8 L1509.1,2380.6 L1511.1,2380.4 L1513.1,2380.3 L1515.1,2380.1 L1517.1,2379.9 L1519.1,2379.7 L1521.1,2379.5 L1523.1,2379.3 L1525.1,2379.1 L1527.1,2378.9 L1529.1,2378.8 L1531.1,2378.6 L1533.2,2378.4 L1535.2,2378.2 L1537.2,2378.1 L1539.2,2378.0 L1541.2,2377.9 L1543.2,2377.8 L1545.2,2377.7 L1547.2,2377.6 L1549.2,2377.5 L1551.2,2377.4 L1553.2,2377.2 L1555.2,2376.9 L1557.2,2376.7 L1559.2,2376.3 L1561.2,2375.9 L1563.2,2375.0 L1565.2,2373.2 L1567.2,2370.7 L1569.2,2367.5 L1571.2,2363.8 L1573.2,2359.7 L1575.2,2355.2 L1577.2,2350.4 L1579.2,2345.5 L1579.2,2352.1 L1577.2,2357.2 L1575.2,2362.0 L1573.2,2366.6 L1571.2,2370.8 L1569.2,2374.6 L1567.2,2377.8 L1565.2,2380.4 L1563.2,2382.2 L1561.2,2383.2 L1559.2,2383.7 L1557.2,2384.2 L1555.2,2384.5 L1553.2,2384.8 L1551.2,2385.1 L1549.2,2385.3 L1547.2,2385.5 L1545.2,2385.7 L1543.2,2385.9 L1541.2,2386.1 L1539.2,2386.3 L1537.2,2386.5 L1535.2,2386.7 L1533.2,2387.0 L1531.1,2387.3 L1529.1,2387.5 L1527.1,2387.8 L1525.1,2388.1 L1523.1,2388.4 L1521.1,2388.7 L1519.1,2389.0 L1517.1,2389.3 L1515.1,2389.6 L1513.1,2389.9 L1511.1,2390.2 L1509.1,2390.6 L1507.1,2390.9 L1505.1,2391.2 L1503.1,2391.5 L1501.1,2391.8 L1499.1,2392.1 L1497.1,2392.4 L1495.1,2392.8 L1493.1,2393.1 L1491.1,2393.4 L1489.1,2393.7 L1487.1,2394.0 L1485.1,2394.3 L1483.1,2394.6 L1481.1,2394.9 L1479.1,2395.2 L1477.1,2395.5 L1475.1,2395.8 L1473.1,2396.1 L1471.1,2396.4 L1469.1,2396.7 L1467.1,2397.0 L1465.1,2397.3 L1463.1,2397.6 L1461.1,2397.9 L1459.1,2398.2 L1457.1,2398.6 L1455.1,2398.9 L1453.1,2399.3 L1451.1,2399.6 L1449.1,2400.0 L1447.1,2400.3 L1445.1,2400.7 L1443.1,2401.0 L1441.1,2401.4 L1439.1,2401.7 L1437.0,2402.1 L1435.0,2402.4 L1433.0,2402.7 L1431.0,2403.0 L1429.0,2403.3 L1427.0,2403.6 L1425.0,2403.8 L1423.0,2404.0 L1421.0,2404.2 L1419.0,2404.4 L1417.0,2404.6 L1415.0,2404.7 L1413.0,2404.9 L1411.0,2404.9 L1409.0,2405.0 L1407.0,2405.0 L1405.0,2405.0 L1403.0,2405.0 L1401.0,2405.0 L1399.0,2405.0 L1397.0,2405.0 L1395.0,2405.0 L1393.0,2405.0 L1391.0,2405.0 L1389.0,2404.9 L1387.0,2404.9 L1385.0,2404.9 L1383.0,2404.9 L1381.0,2404.9 L1379.0,2404.9 L1377.0,2404.8 L1375.0,2404.8 L1373.0,2404.8 L1371.0,2404.8 L1369.0,2404.7 L1367.0,2404.7 L1365.0,2404.7 L1363.0,2404.6 L1361.0,2404.6 L1359.0,2404.6 L1357.0,2404.5 L1355.0,2404.5 L1353.0,2404.5 L1351.0,2404.4 L1349.0,2404.4 L1347.0,2404.3 L1345.0,2404.3 L1343.0,2404.3 L1340.9,2404.2 L1338.9,2404.2 L1336.9,2404.1 L1334.9,2404.1 L1332.9,2404.0 L1330.9,2404.0 L1328.9,2403.9 L1326.9,2403.9 L1324.9,2403.8 L1322.9,2403.7 L1320.9,2403.7 L1318.9,2403.6 L1316.9,2403.6 L1314.9,2403.5 L1312.9,2403.4 L1310.9,2403.4 L1308.9,2403.3 L1306.9,2403.2 L1304.9,2403.2 L1302.9,2403.1 L1300.9,2403.0 L1298.9,2403.0 L1296.9,2402.9 L1294.9,2402.7 L1292.9,2402.6 L1290.9,2402.4 L1288.9,2402.2 L1286.9,2401.9 L1284.9,2401.7 L1282.9,2401.4 L1280.9,2401.1 L1278.9,2400.8 L1276.9,2400.5 L1274.9,2400.1 L1272.9,2399.8 L1270.9,2399.4 L1268.9,2399.0 L1266.9,2398.6 L1264.9,2398.2 L1262.9,2397.8 L1260.9,2397.4 L1258.9,2397.0 L1256.9,2396.5 L1254.9,2396.1 L1252.9,2395.7 L1250.9,2395.2 L1248.9,2394.8 L1246.8,2394.3 L1244.8,2393.9 L1242.8,2393.5 L1240.8,2393.0 L1238.8,2392.6 L1236.8,2392.2 L1234.8,2391.8 L1232.8,2391.4 L1230.8,2391.0 L1228.8,2390.7 L1226.8,2390.3 L1224.8,2390.0 L1222.8,2389.6 L1220.8,2389.3 L1218.8,2389.0 L1216.8,2388.6 L1214.8,2388.3 L1212.8,2388.0 L1210.8,2387.6 L1208.8,2387.3 L1206.8,2387.0 L1204.8,2386.6 L1202.8,2386.3 L1200.8,2386.0 L1198.8,2385.6 L1196.8,2385.3 L1194.8,2385.0 L1192.8,2384.7 L1190.8,2384.3 L1188.8,2384.0 L1186.8,2383.7 L1184.8,2383.3 L1182.8,2383.0 L1180.8,2382.7 L1178.8,2382.4 L1176.8,2382.0 L1174.8,2381.7 L1172.8,2381.4 L1170.8,2381.0 L1168.8,2380.7 L1166.8,2380.4 L1164.8,2380.1 L1162.8,2379.8 L1160.8,2379.4 L1158.8,2379.1 L1156.8,2378.8 L1154.8,2378.5 L1152.7,2378.1 L1150.7,2377.8 L1148.7,2377.5 L1146.7,2377.2 L1144.7,2376.9 L1142.7,2376.6 L1140.7,2376.2 L1138.7,2375.9 L1136.7,2375.6 L1134.7,2375.3 L1132.7,2375.0 L1130.7,2374.7 L1128.7,2374.4 L1126.7,2374.1 L1124.7,2373.7 L1122.7,2373.4 L1120.7,2373.1 L1118.7,2372.8 L1116.7,2372.5 L1114.7,2372.2 L1112.7,2371.9 L1110.7,2371.6 L1108.7,2371.3 L1106.7,2371.0 L1104.7,2370.7 L1102.7,2370.4 L1100.7,2370.1 L1098.7,2369.8 L1096.7,2369.5 L1094.7,2369.2 L1092.7,2368.9 L1090.7,2368.6 L1088.7,2368.3 L1086.7,2368.0 L1084.7,2367.7 L1082.7,2367.4 L1080.7,2367.1 L1078.7,2366.8 L1076.7,2366.5 L1074.7,2366.2 L1072.7,2365.9 L1070.7,2365.6 L1068.7,2365.3 L1066.7,2365.0 L1064.7,2364.7 L1062.7,2364.4 L1060.7,2364.1 L1058.6,2363.8 L1056.6,2363.5 L1054.6,2363.2 L1052.6,2363.0 L1050.6,2362.7 L1048.6,2362.4 L1046.6,2362.1 L1044.6,2361.8 L1042.6,2361.5 L1040.6,2361.2 L1038.6,2361.0 L1036.6,2360.7 L1034.6,2360.4 L1032.6,2360.2 L1030.6,2359.9 L1028.6,2359.6 L1026.6,2359.4 L1024.6,2359.1 L1022.6,2358.8 L1020.6,2358.6 L1018.6,2358.3 L1016.6,2358.1 L1014.6,2357.8 L1012.6,2357.6 L1010.6,2357.4 L1008.6,2357.1 L1006.6,2356.9 L1004.6,2356.7 L1002.6,2356.5 L1000.6,2356.2 L998.6,2356.0 L996.6,2355.8 L994.6,2355.6 L992.6,2355.4 L990.6,2355.1 L988.6,2354.9 L986.6,2354.7 L984.6,2354.5 L982.6,2354.3 L980.6,2354.1 L978.6,2353.9 L976.6,2353.7 L974.6,2353.5 L972.6,2353.3 L970.6,2353.1 L968.6,2352.9 L966.6,2352.7 L964.5,2352.6 L962.5,2352.4 L960.5,2352.2 L958.5,2352.1 L956.5,2351.9 L954.5,2351.8 L952.5,2351.7 L950.5,2351.5 L948.5,2351.4 L946.5,2351.3 L944.5,2351.2 L942.5,2351.1 L940.5,2351.0 L938.5,2350.9 L936.5,2350.8 L934.5,2350.7 L932.5,2350.6 L930.5,2350.5 L928.5,2350.4 L926.5,2350.3 L924.5,2350.2 L922.5,2350.1 L920.5,2350.0 L918.5,2350.0 L916.5,2349.9 L914.5,2349.8 L912.5,2349.7 L910.5,2349.7 L908.5,2349.6 L906.5,2349.5 L904.5,2349.4 L902.5,2349.4 L900.5,2349.3 L898.5,2349.2 L896.5,2349.2 L894.5,2349.1 L892.5,2349.0 L890.5,2348.9 L888.5,2348.9 L886.5,2348.8 L884.5,2348.7 L882.5,2348.6 L880.5,2348.5 L878.5,2348.5 L876.5,2348.4 L874.5,2348.3 L872.5,2348.2 L870.5,2348.1 L868.4,2348.0 L866.4,2347.9 L864.4,2347.8 L862.4,2347.7 L860.4,2347.6 L858.4,2347.5 L856.4,2347.4 L854.4,2347.3 L852.4,2347.2 L850.4,2347.1 L848.4,2346.9 L846.4,2346.8 L844.4,2346.7 L842.4,2346.6 L840.4,2346.5 L838.4,2346.3 L836.4,2346.2 L834.4,2346.1 L832.4,2345.9 L830.4,2345.8 L828.4,2345.7 L826.4,2345.5 L824.4,2345.4 L822.4,2345.2 L820.4,2345.1 L818.4,2344.9 L816.4,2344.8 L814.4,2344.6 L812.4,2344.5 L810.4,2344.3 L808.4,2344.2 L806.4,2344.0 L804.4,2343.9 L802.4,2343.7 L800.4,2343.6 L798.4,2343.4 L796.4,2343.2 L794.4,2343.1 L792.4,2342.9 L790.4,2342.8 L788.4,2342.6 L786.4,2342.4 L784.4,2342.3 L782.4,2342.1 L780.4,2341.9 L778.4,2341.8 L776.4,2341.6 L774.3,2341.4 L772.3,2341.2 L770.3,2341.1 L768.3,2340.9 L766.3,2340.7 L764.3,2340.5 L762.3,2340.4 L760.3,2340.2 L758.3,2340.0 L756.3,2339.8 L754.3,2339.7 L752.3,2339.5 L750.3,2339.3 L748.3,2339.1 L746.3,2338.9 L744.3,2338.8 L742.3,2338.6 L740.3,2338.4 L738.3,2338.2 L736.3,2338.0 L734.3,2337.8 L732.3,2337.6 L730.3,2337.4 L728.3,2337.2 L726.3,2336.9 L724.3,2336.7 L722.3,2336.5 L720.3,2336.3 L718.3,2336.1 L716.3,2335.8 L714.3,2335.6 L712.3,2335.4 L710.3,2335.1 L708.3,2334.9 L706.3,2334.7 L704.3,2334.4 L702.3,2334.2 L700.3,2333.9 L698.3,2333.7 L696.3,2333.5 L694.3,2333.2 L692.3,2333.0 L690.3,2332.7 L688.3,2332.5 L686.3,2332.2 L684.3,2332.0 L682.3,2331.7 L680.2,2331.4 L678.2,2331.2 L676.2,2330.9 L674.2,2330.7 L672.2,2330.4 L670.2,2330.2 L668.2,2329.9 L666.2,2329.7 L664.2,2329.4 L662.2,2329.2 L660.2,2328.9 L658.2,2328.6 L656.2,2328.4 L654.2,2328.1 L652.2,2327.9 L650.2,2327.6 L648.2,2327.4 L646.2,2327.1 L644.2,2326.9 L642.2,2326.6 L640.2,2326.4 L638.2,2326.1 L636.2,2325.9 L634.2,2325.7 L632.2,2325.4 L630.2,2325.2 L628.2,2325.0 L626.2,2324.7 L624.2,2324.5 L622.2,2324.3 L620.2,2324.0 L618.2,2323.8 L616.2,2323.6 L614.2,2323.4 L612.2,2323.2 L610.2,2322.9 L608.2,2322.7 L606.2,2322.5 L604.2,2322.3 L602.2,2322.1 L600.2,2321.9 L598.2,2321.7 L596.2,2321.5 L594.2,2321.4 L592.2,2321.2 L590.2,2321.0 L588.2,2320.8 L586.1,2320.6 L584.1,2320.5 L582.1,2320.3 L580.1,2320.2 L578.1,2320.0 L576.1,2319.9 L574.1,2319.7 L572.1,2319.6 L570.1,2319.4 L568.1,2319.3 L566.1,2319.1 L564.1,2319.0 L562.1,2318.9 L560.1,2318.7 L558.1,2318.6 L556.1,2318.5 L554.1,2318.3 L552.1,2318.2 L550.1,2318.1 L548.1,2318.0 L546.1,2317.8 L544.1,2317.7 L542.1,2317.6 L540.1,2317.5 L538.1,2317.4 L536.1,2317.2 L534.1,2317.1 L532.1,2317.0 L530.1,2316.9 L528.1,2316.8 L526.1,2316.7 L524.1,2316.6 L522.1,2316.5 L520.1,2316.3 L518.1,2316.2 L516.1,2316.1 L514.1,2316.0 L512.1,2315.9 L510.1,2315.8 L508.1,2315.7 L506.1,2315.6 L504.1,2315.5 L502.1,2315.4 L500.1,2315.3 L498.1,2315.2 L496.1,2315.1 L494.1,2315.0 L492.0,2314.9 L490.0,2314.8 L488.0,2314.7 L486.0,2314.5 L484.0,2314.4 L482.0,2314.3 L480.0,2314.2 L478.0,2314.1 L476.0,2314.0 L474.0,2313.9 L472.0,2313.8 L470.0,2313.7 L468.0,2313.6 L466.0,2313.5 L464.0,2313.4 L462.0,2313.3 L460.0,2313.2 L458.0,2313.1 L456.0,2312.9 L454.0,2312.8 L452.0,2312.7 L450.0,2312.6 L448.0,2312.5 L446.0,2312.4 L444.0,2312.3 L442.0,2312.2 L440.0,2312.0 L438.0,2311.9 L436.0,2311.8 L434.0,2311.7 L432.0,2311.6 L430.0,2311.5 L428.0,2311.4 L426.0,2311.3 L424.0,2311.1 L422.0,2311.0 L420.0,2310.9 L418.0,2310.8 L416.0,2310.7 L414.0,2310.6 L412.0,2310.5 L410.0,2310.4 L408.0,2310.3 L406.0,2310.2 L404.0,2310.1 L402.0,2310.0 L400.0,2309.9 L397.9,2309.8 L395.9,2309.7 L393.9,2309.6 L391.9,2309.5 L389.9,2309.4 L387.9,2309.3 L385.9,2309.2 L383.9,2309.1 L381.9,2309.0 L379.9,2309.0 L377.9,2308.9 L375.9,2308.8 L373.9,2308.7 L371.9,2308.6 L369.9,2308.6 L367.9,2308.5 L365.9,2308.4 L363.9,2308.4 L361.9,2308.3 L359.9,2308.2 L357.9,2308.1 L355.9,2308.1 L353.9,2308.0 L351.9,2307.9 L349.9,2307.9 L347.9,2307.8 L345.9,2307.7 L343.9,2307.6 L341.9,2307.6 L339.9,2307.5 L337.9,2307.4 L335.9,2307.3 L333.9,2307.2 L331.9,2307.2 L329.9,2307.1 L327.9,2307.0 L325.9,2306.9 L323.9,2306.8 L321.9,2306.7 L319.9,2306.6 L317.9,2306.5 L315.9,2306.4 L313.9,2306.3 L311.9,2306.2 L309.9,2306.1 L307.9,2305.9 L305.9,2305.8 L303.9,2305.7 L301.8,2305.6 L299.8,2305.5 L297.8,2305.4 L295.8,2305.2 L293.8,2305.1 L291.8,2305.0 L289.8,2304.8 L287.8,2304.7 L285.8,2304.6 L283.8,2304.4 L281.8,2304.3 L279.8,2304.1 L277.8,2304.0 L275.8,2303.8 L273.8,2303.7 L271.8,2303.5 L269.8,2303.3 L267.8,2303.2 L265.8,2303.0 L263.8,2302.8 L261.8,2302.6 L259.8,2302.5 L257.8,2302.3 L255.8,2302.1 L253.8,2301.9 L251.8,2301.7 L249.8,2301.4 L247.8,2301.2 L245.8,2301.0 L243.8,2300.7 L241.8,2300.4 L239.8,2300.1 L237.8,2299.8 L235.8,2299.5 L233.8,2299.2 L231.8,2298.9 L229.8,2298.6 L227.8,2298.3 L225.8,2297.9 L223.8,2297.6 L221.8,2297.2 L219.8,2296.8 L217.8,2296.5 L215.8,2296.1 L213.8,2295.7 L211.8,2295.4 L209.8,2295.0 L207.7,2294.6 L205.7,2294.2 L203.7,2293.8 L201.7,2293.4 L199.7,2293.0 L197.7,2292.6 L195.7,2292.2 L193.7,2291.8 L191.7,2291.4 L189.7,2291.0 L187.7,2290.6 L185.7,2290.2 L183.7,2289.8 L181.7,2289.4 L179.7,2289.0 L177.7,2288.6 L175.7,2288.1 L173.7,2287.7 L171.7,2287.2 L169.7,2286.8 L167.7,2286.3 L165.7,2285.8 L163.7,2285.4 L161.7,2284.9Z" fill="url(#gd0)"/><path d="M161.7,2284.3 L163.7,2284.8 L165.7,2285.3 L167.7,2285.7 L169.7,2286.2 L171.7,2286.7 L173.7,2287.1 L175.7,2287.6 L177.7,2288.0 L179.7,2288.4 L181.7,2288.9 L183.7,2289.3 L185.7,2289.7 L187.7,2290.1 L189.7,2290.5 L191.7,2290.9 L193.7,2291.2 L195.7,2291.6 L197.7,2292.0 L199.7,2292.4 L201.7,2292.8 L203.7,2293.2 L205.7,2293.6 L207.7,2294.0 L209.8,2294.4 L211.8,2294.7 L213.8,2295.1 L215.8,2295.5 L217.8,2295.9 L219.8,2296.2 L221.8,2296.6 L223.8,2296.9 L225.8,2297.3 L227.8,2297.6 L229.8,2298.0 L231.8,2298.3 L233.8,2298.6 L235.8,2298.9 L237.8,2299.2 L239.8,2299.5 L241.8,2299.8 L243.8,2300.0 L245.8,2300.3 L247.8,2300.6 L249.8,2300.8 L251.8,2301.0 L253.8,2301.2 L255.8,2301.4 L257.8,2301.6 L259.8,2301.8 L261.8,2302.0 L263.8,2302.2 L265.8,2302.3 L267.8,2302.5 L269.8,2302.7 L271.8,2302.8 L273.8,2303.0 L275.8,2303.1 L277.8,2303.3 L279.8,2303.4 L281.8,2303.6 L283.8,2303.7 L285.8,2303.9 L287.8,2304.0 L289.8,2304.1 L291.8,2304.3 L293.8,2304.4 L295.8,2304.5 L297.8,2304.6 L299.8,2304.8 L301.8,2304.9 L303.9,2305.0 L305.9,2305.1 L307.9,2305.2 L309.9,2305.3 L311.9,2305.4 L313.9,2305.5 L315.9,2305.6 L317.9,2305.7 L319.9,2305.8 L321.9,2305.9 L323.9,2306.0 L325.9,2306.1 L327.9,2306.2 L329.9,2306.3 L331.9,2306.4 L333.9,2306.5 L335.9,2306.5 L337.9,2306.6 L339.9,2306.7 L341.9,2306.8 L343.9,2306.8 L345.9,2306.9 L347.9,2307.0 L349.9,2307.0 L351.9,2307.1 L353.9,2307.2 L355.9,2307.2 L357.9,2307.3 L359.9,2307.4 L361.9,2307.4 L363.9,2307.5 L365.9,2307.6 L367.9,2307.6 L369.9,2307.7 L371.9,2307.8 L373.9,2307.9 L375.9,2307.9 L377.9,2308.0 L379.9,2308.1 L381.9,2308.2 L383.9,2308.2 L385.9,2308.3 L387.9,2308.4 L389.9,2308.5 L391.9,2308.6 L393.9,2308.7 L395.9,2308.8 L397.9,2308.9 L400.0,2308.9 L402.0,2309.0 L404.0,2309.1 L406.0,2309.2 L408.0,2309.3 L410.0,2309.4 L412.0,2309.5 L414.0,2309.6 L416.0,2309.7 L418.0,2309.9 L420.0,2310.0 L422.0,2310.1 L424.0,2310.2 L426.0,2310.3 L428.0,2310.4 L430.0,2310.5 L432.0,2310.6 L434.0,2310.7 L436.0,2310.8 L438.0,2310.9 L440.0,2311.0 L442.0,2311.1 L444.0,2311.2 L446.0,2311.3 L448.0,2311.5 L450.0,2311.6 L452.0,2311.7 L454.0,2311.8 L456.0,2311.9 L458.0,2312.0 L460.0,2312.1 L462.0,2312.2 L464.0,2312.3 L466.0,2312.4 L468.0,2312.5 L470.0,2312.6 L472.0,2312.7 L474.0,2312.8 L476.0,2312.9 L478.0,2313.0 L480.0,2313.1 L482.0,2313.2 L484.0,2313.3 L486.0,2313.4 L488.0,2313.5 L490.0,2313.6 L492.0,2313.7 L494.1,2313.8 L496.1,2313.9 L498.1,2314.0 L500.1,2314.1 L502.1,2314.2 L504.1,2314.3 L506.1,2314.4 L508.1,2314.5 L510.1,2314.6 L512.1,2314.7 L514.1,2314.8 L516.1,2314.9 L518.1,2315.0 L520.1,2315.1 L522.1,2315.2 L524.1,2315.3 L526.1,2315.4 L528.1,2315.5 L530.1,2315.6 L532.1,2315.7 L534.1,2315.8 L536.1,2315.9 L538.1,2316.0 L540.1,2316.1 L542.1,2316.2 L544.1,2316.4 L546.1,2316.5 L548.1,2316.6 L550.1,2316.7 L552.1,2316.8 L554.1,2316.9 L556.1,2317.1 L558.1,2317.2 L560.1,2317.3 L562.1,2317.4 L564.1,2317.6 L566.1,2317.7 L568.1,2317.8 L570.1,2317.9 L572.1,2318.1 L574.1,2318.2 L576.1,2318.3 L578.1,2318.5 L580.1,2318.6 L582.1,2318.8 L584.1,2318.9 L586.1,2319.1 L588.2,2319.2 L590.2,2319.4 L592.2,2319.6 L594.2,2319.8 L596.2,2319.9 L598.2,2320.1 L600.2,2320.3 L602.2,2320.5 L604.2,2320.7 L606.2,2320.9 L608.2,2321.1 L610.2,2321.3 L612.2,2321.5 L614.2,2321.7 L616.2,2321.9 L618.2,2322.1 L620.2,2322.3 L622.2,2322.5 L624.2,2322.7 L626.2,2322.9 L628.2,2323.2 L630.2,2323.4 L632.2,2323.6 L634.2,2323.8 L636.2,2324.1 L638.2,2324.3 L640.2,2324.5 L642.2,2324.7 L644.2,2325.0 L646.2,2325.2 L648.2,2325.5 L650.2,2325.7 L652.2,2325.9 L654.2,2326.2 L656.2,2326.4 L658.2,2326.6 L660.2,2326.9 L662.2,2327.1 L664.2,2327.4 L666.2,2327.6 L668.2,2327.8 L670.2,2328.1 L672.2,2328.3 L674.2,2328.6 L676.2,2328.8 L678.2,2329.0 L680.2,2329.3 L682.3,2329.5 L684.3,2329.7 L686.3,2330.0 L688.3,2330.2 L690.3,2330.5 L692.3,2330.7 L694.3,2330.9 L696.3,2331.1 L698.3,2331.4 L700.3,2331.6 L702.3,2331.8 L704.3,2332.0 L706.3,2332.3 L708.3,2332.5 L710.3,2332.7 L712.3,2332.9 L714.3,2333.1 L716.3,2333.3 L718.3,2333.5 L720.3,2333.7 L722.3,2333.9 L724.3,2334.1 L726.3,2334.3 L728.3,2334.5 L730.3,2334.7 L732.3,2334.9 L734.3,2335.1 L736.3,2335.3 L738.3,2335.4 L740.3,2335.6 L742.3,2335.8 L744.3,2335.9 L746.3,2336.1 L748.3,2336.2 L750.3,2336.4 L752.3,2336.6 L754.3,2336.7 L756.3,2336.9 L758.3,2337.0 L760.3,2337.2 L762.3,2337.3 L764.3,2337.5 L766.3,2337.6 L768.3,2337.7 L770.3,2337.9 L772.3,2338.0 L774.3,2338.2 L776.4,2338.3 L778.4,2338.5 L780.4,2338.6 L782.4,2338.7 L784.4,2338.9 L786.4,2339.0 L788.4,2339.1 L790.4,2339.3 L792.4,2339.4 L794.4,2339.5 L796.4,2339.7 L798.4,2339.8 L800.4,2339.9 L802.4,2340.0 L804.4,2340.1 L806.4,2340.3 L808.4,2340.4 L810.4,2340.5 L812.4,2340.6 L814.4,2340.7 L816.4,2340.8 L818.4,2340.9 L820.4,2341.0 L822.4,2341.1 L824.4,2341.2 L826.4,2341.3 L828.4,2341.4 L830.4,2341.5 L832.4,2341.6 L834.4,2341.7 L836.4,2341.8 L838.4,2341.9 L840.4,2341.9 L842.4,2342.0 L844.4,2342.1 L846.4,2342.2 L848.4,2342.2 L850.4,2342.3 L852.4,2342.4 L854.4,2342.4 L856.4,2342.5 L858.4,2342.5 L860.4,2342.6 L862.4,2342.6 L864.4,2342.7 L866.4,2342.7 L868.4,2342.7 L870.5,2342.8 L872.5,2342.8 L874.5,2342.8 L876.5,2342.8 L878.5,2342.8 L880.5,2342.9 L882.5,2342.9 L884.5,2342.9 L886.5,2342.9 L888.5,2342.9 L890.5,2342.9 L892.5,2342.9 L894.5,2342.9 L896.5,2342.8 L898.5,2342.8 L900.5,2342.8 L902.5,2342.8 L904.5,2342.8 L906.5,2342.8 L908.5,2342.8 L910.5,2342.7 L912.5,2342.7 L914.5,2342.7 L916.5,2342.7 L918.5,2342.7 L920.5,2342.6 L922.5,2342.6 L924.5,2342.6 L926.5,2342.6 L928.5,2342.5 L930.5,2342.5 L932.5,2342.5 L934.5,2342.5 L936.5,2342.4 L938.5,2342.4 L940.5,2342.4 L942.5,2342.4 L944.5,2342.3 L946.5,2342.3 L948.5,2342.3 L950.5,2342.3 L952.5,2342.3 L954.5,2342.3 L956.5,2342.2 L958.5,2342.2 L960.5,2342.2 L962.5,2342.2 L964.5,2342.2 L966.6,2342.2 L968.6,2342.2 L970.6,2342.2 L972.6,2342.2 L974.6,2342.2 L976.6,2342.2 L978.6,2342.2 L980.6,2342.2 L982.6,2342.2 L984.6,2342.2 L986.6,2342.2 L988.6,2342.2 L990.6,2342.2 L992.6,2342.1 L994.6,2342.1 L996.6,2342.1 L998.6,2342.0 L1000.6,2342.0 L1002.6,2341.9 L1004.6,2341.9 L1006.6,2341.8 L1008.6,2341.7 L1010.6,2341.6 L1012.6,2341.6 L1014.6,2341.5 L1016.6,2341.4 L1018.6,2341.3 L1020.6,2341.2 L1022.6,2341.0 L1024.6,2340.9 L1026.6,2340.8 L1028.6,2340.6 L1030.6,2340.5 L1032.6,2340.3 L1034.6,2340.1 L1036.6,2339.9 L1038.6,2339.7 L1040.6,2339.4 L1042.6,2339.2 L1044.6,2338.9 L1046.6,2338.6 L1048.6,2338.3 L1050.6,2338.0 L1052.6,2337.6 L1054.6,2337.3 L1056.6,2336.9 L1058.6,2336.4 L1060.7,2335.9 L1062.7,2335.4 L1064.7,2334.9 L1066.7,2334.3 L1068.7,2333.7 L1070.7,2333.0 L1072.7,2332.3 L1074.7,2331.5 L1076.7,2330.6 L1078.7,2329.7 L1080.7,2328.7 L1082.7,2327.7 L1084.7,2326.5 L1086.7,2325.3 L1088.7,2324.0 L1090.7,2322.6 L1092.7,2321.0 L1094.7,2319.4 L1096.7,2317.6 L1098.7,2315.6 L1100.7,2313.6 L1102.7,2311.3 L1104.7,2308.9 L1106.7,2306.4 L1108.7,2303.6 L1110.7,2300.6 L1112.7,2297.5 L1114.7,2294.1 L1116.7,2290.4 L1118.7,2286.6 L1120.7,2282.4 L1122.7,2278.0 L1124.7,2273.3 L1126.7,2268.3 L1128.7,2263.0 L1130.7,2257.4 L1132.7,2251.5 L1134.7,2245.2 L1136.7,2238.6 L1138.7,2231.6 L1140.7,2224.2 L1142.7,2216.5 L1144.7,2208.5 L1146.7,2200.0 L1148.7,2191.2 L1150.7,2182.1 L1152.7,2172.6 L1154.8,2162.7 L1156.8,2152.6 L1158.8,2142.1 L1160.8,2131.3 L1162.8,2120.3 L1164.8,2109.1 L1166.8,2097.8 L1168.8,2086.3 L1170.8,2074.8 L1172.8,2063.4 L1174.8,2052.1 L1176.8,2041.0 L1178.8,2030.3 L1180.8,2020.0 L1182.8,2010.3 L1184.8,2001.4 L1186.8,1993.3 L1188.8,1986.3 L1190.8,1980.3 L1192.8,1975.6 L1194.8,1972.2 L1196.8,1970.2 L1198.8,1969.7 L1200.8,1970.5 L1202.8,1972.8 L1204.8,1976.5 L1206.8,1981.5 L1208.8,1987.6 L1210.8,1994.9 L1212.8,2003.2 L1214.8,2012.3 L1216.8,2022.1 L1218.8,2032.5 L1220.8,2043.3 L1222.8,2054.5 L1224.8,2065.9 L1226.8,2077.3 L1228.8,2088.8 L1230.8,2100.3 L1232.8,2111.6 L1234.8,2122.7 L1236.8,2133.6 L1238.8,2144.2 L1240.8,2154.6 L1242.8,2164.6 L1244.8,2174.2 L1246.8,2183.5 L1248.9,2192.5 L1250.9,2201.1 L1252.9,2209.4 L1254.9,2217.3 L1256.9,2224.9 L1258.9,2232.1 L1260.9,2239.0 L1262.9,2245.7 L1264.9,2252.0 L1266.9,2258.0 L1268.9,2263.8 L1270.9,2269.3 L1272.9,2274.5 L1274.9,2279.5 L1276.9,2284.2 L1278.9,2288.8 L1280.9,2293.1 L1282.9,2297.2 L1284.9,2301.1 L1286.9,2304.8 L1288.9,2308.4 L1290.9,2311.8 L1292.9,2315.0 L1294.9,2318.0 L1296.9,2320.9 L1298.9,2323.6 L1300.9,2326.2 L1302.9,2328.7 L1304.9,2331.1 L1306.9,2333.3 L1308.9,2335.5 L1310.9,2337.6 L1312.9,2339.6 L1314.9,2341.5 L1316.9,2343.4 L1318.9,2345.1 L1320.9,2346.8 L1322.9,2348.5 L1324.9,2350.1 L1326.9,2351.6 L1328.9,2353.0 L1330.9,2354.4 L1332.9,2355.8 L1334.9,2357.1 L1336.9,2358.3 L1338.9,2359.6 L1340.9,2360.7 L1343.0,2361.8 L1345.0,2362.9 L1347.0,2364.0 L1349.0,2365.0 L1351.0,2366.0 L1353.0,2366.9 L1355.0,2367.8 L1357.0,2368.7 L1359.0,2369.6 L1361.0,2370.4 L1363.0,2371.2 L1365.0,2371.9 L1367.0,2372.7 L1369.0,2373.4 L1371.0,2374.1 L1373.0,2374.8 L1375.0,2375.4 L1377.0,2376.1 L1379.0,2376.7 L1381.0,2377.3 L1383.0,2377.9 L1385.0,2378.4 L1387.0,2379.0 L1389.0,2379.5 L1391.0,2380.0 L1393.0,2380.5 L1395.0,2381.0 L1397.0,2381.4 L1399.0,2381.9 L1401.0,2382.3 L1403.0,2382.7 L1405.0,2383.2 L1407.0,2383.6 L1409.0,2383.9 L1411.0,2384.2 L1413.0,2384.5 L1415.0,2384.8 L1417.0,2385.0 L1419.0,2385.2 L1421.0,2385.3 L1423.0,2385.4 L1425.0,2385.5 L1427.0,2385.5 L1429.0,2385.6 L1431.0,2385.6 L1433.0,2385.6 L1435.0,2385.5 L1437.0,2385.5 L1439.1,2385.4 L1441.1,2385.3 L1443.1,2385.2 L1445.1,2385.1 L1447.1,2385.0 L1449.1,2384.9 L1451.1,2384.8 L1453.1,2384.6 L1455.1,2384.5 L1457.1,2384.4 L1459.1,2384.2 L1461.1,2384.1 L1463.1,2384.0 L1465.1,2383.9 L1467.1,2383.8 L1469.1,2383.7 L1471.1,2383.6 L1473.1,2383.5 L1475.1,2383.4 L1477.1,2383.2 L1479.1,2383.1 L1481.1,2383.0 L1483.1,2382.8 L1485.1,2382.7 L1487.1,2382.5 L1489.1,2382.4 L1491.1,2382.2 L1493.1,2382.1 L1495.1,2381.9 L1497.1,2381.7 L1499.1,2381.5 L1501.1,2381.4 L1503.1,2381.2 L1505.1,2381.0 L1507.1,2380.8 L1509.1,2380.6 L1511.1,2380.4 L1513.1,2380.3 L1515.1,2380.1 L1517.1,2379.9 L1519.1,2379.7 L1521.1,2379.5 L1523.1,2379.3 L1525.1,2379.1 L1527.1,2378.9 L1529.1,2378.8 L1531.1,2378.6 L1533.2,2378.4 L1535.2,2378.2 L1537.2,2378.1 L1539.2,2378.0 L1541.2,2377.9 L1543.2,2377.8 L1545.2,2377.7 L1547.2,2377.6 L1549.2,2377.5 L1551.2,2377.4 L1553.2,2377.2 L1555.2,2376.9 L1557.2,2376.7 L1559.2,2376.3 L1561.2,2375.9 L1563.2,2375.0 L1565.2,2373.2 L1567.2,2370.7 L1569.2,2367.5 L1571.2,2363.8 L1573.2,2359.7 L1575.2,2355.2 L1577.2,2350.4 L1579.2,2345.5" stroke="#6060ff" stroke-opacity="0.5" stroke-width="3" fill="none" stroke-linejoin="round"/>
<path d="M161.7,2284.9 L163.7,2285.4 L165.7,2285.8 L167.7,2286.3 L169.7,2286.8 L171.7,2287.2 L173.7,2287.7 L175.7,2288.1 L177.7,2288.6 L179.7,2289.0 L181.7,2289.4 L183.7,2289.8 L185.7,2290.2 L187.7,2290.6 L189.7,2291.0 L191.7,2291.4 L193.7,2291.8 L195.7,2292.2 L197.7,2292.6 L199.7,2293.0 L201.7,2293.4 L203.7,2293.8 L205.7,2294.2 L207.7,2294.6 L209.8,2295.0 L211.8,2295.4 L213.8,2295.7 L215.8,2296.1 L217.8,2296.5 L219.8,2296.8 L221.8,2297.2 L223.8,2297.6 L225.8,2297.9 L227.8,2298.3 L229.8,2298.6 L231.8,2298.9 L233.8,2299.2 L235.8,2299.5 L237.8,2299.8 L239.8,2300.1 L241.8,2300.4 L243.8,2300.7 L245.8,2301.0 L247.8,2301.2 L249.8,2301.4 L251.8,2301.7 L253.8,2301.9 L255.8,2302.1 L257.8,2302.3 L259.8,2302.5 L261.8,2302.6 L263.8,2302.8 L265.8,2303.0 L267.8,2303.2 L269.8,2303.3 L271.8,2303.5 L273.8,2303.7 L275.8,2303.8 L277.8,2304.0 L279.8,2304.1 L281.8,2304.3 L283.8,2304.4 L285.8,2304.6 L287.8,2304.7 L289.8,2304.8 L291.8,2305.0 L293.8,2305.1 L295.8,2305.2 L297.8,2305.4 L299.8,2305.5 L301.8,2305.6 L303.9,2305.7 L305.9,2305.8 L307.9,2305.9 L309.9,2306.1 L311.9,2306.2 L313.9,2306.3 L315.9,2306.4 L317.9,2306.5 L319.9,2306.6 L321.9,2306.7 L323.9,2306.8 L325.9,2306.9 L327.9,2307.0 L329.9,2307.1 L331.9,2307.2 L333.9,2307.2 L335.9,2307.3 L337.9,2307.4 L339.9,2307.5 L341.9,2307.6 L343.9,2307.6 L345.9,2307.7 L347.9,2307.8 L349.9,2307.9 L351.9,2307.9 L353.9,2308.0 L355.9,2308.1 L357.9,2308.1 L359.9,2308.2 L361.9,2308.3 L363.9,2308.4 L365.9,2308.4 L367.9,2308.5 L369.9,2308.6 L371.9,2308.6 L373.9,2308.7 L375.9,2308.8 L377.9,2308.9 L379.9,2309.0 L381.9,2309.0 L383.9,2309.1 L385.9,2309.2 L387.9,2309.3 L389.9,2309.4 L391.9,2309.5 L393.9,2309.6 L395.9,2309.7 L397.9,2309.8 L400.0,2309.9 L402.0,2310.0 L404.0,2310.1 L406.0,2310.2 L408.0,2310.3 L410.0,2310.4 L412.0,2310.5 L414.0,2310.6 L416.0,2310.7 L418.0,2310.8 L420.0,2310.9 L422.0,2311.0 L424.0,2311.1 L426.0,2311.3 L428.0,2311.4 L430.0,2311.5 L432.0,2311.6 L434.0,2311.7 L436.0,2311.8 L438.0,2311.9 L440.0,2312.0 L442.0,2312.2 L444.0,2312.3 L446.0,2312.4 L448.0,2312.5 L450.0,2312.6 L452.0,2312.7 L454.0,2312.8 L456.0,2312.9 L458.0,2313.1 L460.0,2313.2 L462.0,2313.3 L464.0,2313.4 L466.0,2313.5 L468.0,2313.6 L470.0,2313.7 L472.0,2313.8 L474.0,2313.9 L476.0,2314.0 L478.0,2314.1 L480.0,2314.2 L482.0,2314.3 L484.0,2314.4 L486.0,2314.5 L488.0,2314.7 L490.0,2314.8 L492.0,2314.9 L494.1,2315.0 L496.1,2315.1 L498.1,2315.2 L500.1,2315.3 L502.1,2315.4 L504.1,2315.5 L506.1,2315.6 L508.1,2315.7 L510.1,2315.8 L512.1,2315.9 L514.1,2316.0 L516.1,2316.1 L518.1,2316.2 L520.1,2316.3 L522.1,2316.5 L524.1,2316.6 L526.1,2316.7 L528.1,2316.8 L530.1,2316.9 L532.1,2317.0 L534.1,2317.1 L536.1,2317.2 L538.1,2317.4 L540.1,2317.5 L542.1,2317.6 L544.1,2317.7 L546.1,2317.8 L548.1,2318.0 L550.1,2318.1 L552.1,2318.2 L554.1,2318.3 L556.1,2318.5 L558.1,2318.6 L560.1,2318.7 L562.1,2318.9 L564.1,2319.0 L566.1,2319.1 L568.1,2319.3 L570.1,2319.4 L572.1,2319.6 L574.1,2319.7 L576.1,2319.9 L578.1,2320.0 L580.1,2320.2 L582.1,2320.3 L584.1,2320.5 L586.1,2320.6 L588.2,2320.8 L590.2,2321.0 L592.2,2321.2 L594.2,2321.4 L596.2,2321.5 L598.2,2321.7 L600.2,2321.9 L602.2,2322.1 L604.2,2322.3 L606.2,2322.5 L608.2,2322.7 L610.2,2322.9 L612.2,2323.2 L614.2,2323.4 L616.2,2323.6 L618.2,2323.8 L620.2,2324.0 L622.2,2324.3 L624.2,2324.5 L626.2,2324.7 L628.2,2325.0 L630.2,2325.2 L632.2,2325.4 L634.2,2325.7 L636.2,2325.9 L638.2,2326.1 L640.2,2326.4 L642.2,2326.6 L644.2,2326.9 L646.2,2327.1 L648.2,2327.4 L650.2,2327.6 L652.2,2327.9 L654.2,2328.1 L656.2,2328.4 L658.2,2328.6 L660.2,2328.9 L662.2,2329.2 L664.2,2329.4 L666.2,2329.7 L668.2,2329.9 L670.2,2330.2 L672.2,2330.4 L674.2,2330.7 L676.2,2330.9 L678.2,2331.2 L680.2,2331.4 L682.3,2331.7 L684.3,2332.0 L686.3,2332.2 L688.3,2332.5 L690.3,2332.7 L692.3,2333.0 L694.3,2333.2 L696.3,2333.5 L698.3,2333.7 L700.3,2333.9 L702.3,2334.2 L704.3,2334.4 L706.3,2334.7 L708.3,2334.9 L710.3,2335.1 L712.3,2335.4 L714.3,2335.6 L716.3,2335.8 L718.3,2336.1 L720.3,2336.3 L722.3,2336.5 L724.3,2336.7 L726.3,2336.9 L728.3,2337.2 L730.3,2337.4 L732.3,2337.6 L734.3,2337.8 L736.3,2338.0 L738.3,2338.2 L740.3,2338.4 L742.3,2338.6 L744.3,2338.8 L746.3,2338.9 L748.3,2339.1 L750.3,2339.3 L752.3,2339.5 L754.3,2339.7 L756.3,2339.8 L758.3,2340.0 L760.3,2340.2 L762.3,2340.4 L764.3,2340.5 L766.3,2340.7 L768.3,2340.9 L770.3,2341.1 L772.3,2341.2 L774.3,2341.4 L776.4,2341.6 L778.4,2341.8 L780.4,2341.9 L782.4,2342.1 L784.4,2342.3 L786.4,2342.4 L788.4,2342.6 L790.4,2342.8 L792.4,2342.9 L794.4,2343.1 L796.4,2343.2 L798.4,2343.4 L800.4,2343.6 L802.4,2343.7 L804.4,2343.9 L806.4,2344.0 L808.4,2344.2 L810.4,2344.3 L812.4,2344.5 L814.4,2344.6 L816.4,2344.8 L818.4,2344.9 L820.4,2345.1 L822.4,2345.2 L824.4,2345.4 L826.4,2345.5 L828.4,2345.7 L830.4,2345.8 L832.4,2345.9 L834.4,2346.1 L836.4,2346.2 L838.4,2346.3 L840.4,2346.5 L842.4,2346.6 L844.4,2346.7 L846.4,2346.8 L848.4,2346.9 L850.4,2347.1 L852.4,2347.2 L854.4,2347.3 L856.4,2347.4 L858.4,2347.5 L860.4,2347.6 L862.4,2347.7 L864.4,2347.8 L866.4,2347.9 L868.4,2348.0 L870.5,2348.1 L872.5,2348.2 L874.5,2348.3 L876.5,2348.4 L878.5,2348.5 L880.5,2348.5 L882.5,2348.6 L884.5,2348.7 L886.5,2348.8 L888.5,2348.9 L890.5,2348.9 L892.5,2349.0 L894.5,2349.1 L896.5,2349.2 L898.5,2349.2 L900.5,2349.3 L902.5,2349.4 L904.5,2349.4 L906.5,2349.5 L908.5,2349.6 L910.5,2349.7 L912.5,2349.7 L914.5,2349.8 L916.5,2349.9 L918.5,2350.0 L920.5,2350.0 L922.5,2350.1 L924.5,2350.2 L926.5,2350.3 L928.5,2350.4 L930.5,2350.5 L932.5,2350.6 L934.5,2350.7 L936.5,2350.8 L938.5,2350.9 L940.5,2351.0 L942.5,2351.1 L944.5,2351.2 L946.5,2351.3 L948.5,2351.4 L950.5,2351.5 L952.5,2351.7 L954.5,2351.8 L956.5,2351.9 L958.5,2352.1 L960.5,2352.2 L962.5,2352.4 L964.5,2352.6 L966.6,2352.7 L968.6,2352.9 L970.6,2353.1 L972.6,2353.3 L974.6,2353.5 L976.6,2353.7 L978.6,2353.9 L980.6,2354.1 L982.6,2354.3 L984.6,2354.5 L986.6,2354.7 L988.6,2354.9 L990.6,2355.1 L992.6,2355.4 L994.6,2355.6 L996.6,2355.8 L998.6,2356.0 L1000.6,2356.2 L1002.6,2356.5 L1004.6,2356.7 L1006.6,2356.9 L1008.6,2357.1 L1010.6,2357.4 L1012.6,2357.6 L1014.6,2357.8 L1016.6,2358.1 L1018.6,2358.3 L1020.6,2358.6 L1022.6,2358.8 L1024.6,2359.1 L1026.6,2359.4 L1028.6,2359.6 L1030.6,2359.9 L1032.6,2360.2 L1034.6,2360.4 L1036.6,2360.7 L1038.6,2361.0 L1040.6,2361.2 L1042.6,2361.5 L1044.6,2361.8 L1046.6,2362.1 L1048.6,2362.4 L1050.6,2362.7 L1052.6,2363.0 L1054.6,2363.2 L1056.6,2363.5 L1058.6,2363.8 L1060.7,2364.1 L1062.7,2364.4 L1064.7,2364.7 L1066.7,2365.0 L1068.7,2365.3 L1070.7,2365.6 L1072.7,2365.9 L1074.7,2366.2 L1076.7,2366.5 L1078.7,2366.8 L1080.7,2367.1 L1082.7,2367.4 L1084.7,2367.7 L1086.7,2368.0 L1088.7,2368.3 L1090.7,2368.6 L1092.7,2368.9 L1094.7,2369.2 L1096.7,2369.5 L1098.7,2369.8 L1100.7,2370.1 L1102.7,2370.4 L1104.7,2370.7 L1106.7,2371.0 L1108.7,2371.3 L1110.7,2371.6 L1112.7,2371.9 L1114.7,2372.2 L1116.7,2372.5 L1118.7,2372.8 L1120.7,2373.1 L1122.7,2373.4 L1124.7,2373.7 L1126.7,2374.1 L1128.7,2374.4 L1130.7,2374.7 L1132.7,2375.0 L1134.7,2375.3 L1136.7,2375.6 L1138.7,2375.9 L1140.7,2376.2 L1142.7,2376.6 L1144.7,2376.9 L1146.7,2377.2 L1148.7,2377.5 L1150.7,2377.8 L1152.7,2378.1 L1154.8,2378.5 L1156.8,2378.8 L1158.8,2379.1 L1160.8,2379.4 L1162.8,2379.8 L1164.8,2380.1 L1166.8,2380.4 L1168.8,2380.7 L1170.8,2381.0 L1172.8,2381.4 L1174.8,2381.7 L1176.8,2382.0 L1178.8,2382.4 L1180.8,2382.7 L1182.8,2383.0 L1184.8,2383.3 L1186.8,2383.7 L1188.8,2384.0 L1190.8,2384.3 L1192.8,2384.7 L1194.8,2385.0 L1196.8,2385.3 L1198.8,2385.6 L1200.8,2386.0 L1202.8,2386.3 L1204.8,2386.6 L1206.8,2387.0 L1208.8,2387.3 L1210.8,2387.6 L1212.8,2388.0 L1214.8,2388.3 L1216.8,2388.6 L1218.8,2389.0 L1220.8,2389.3 L1222.8,2389.6 L1224.8,2390.0 L1226.8,2390.3 L1228.8,2390.7 L1230.8,2391.0 L1232.8,2391.4 L1234.8,2391.8 L1236.8,2392.2 L1238.8,2392.6 L1240.8,2393.0 L1242.8,2393.5 L1244.8,2393.9 L1246.8,2394.3 L1248.9,2394.8 L1250.9,2395.2 L1252.9,2395.7 L1254.9,2396.1 L1256.9,2396.5 L1258.9,2397.0 L1260.9,2397.4 L1262.9,2397.8 L1264.9,2398.2 L1266.9,2398.6 L1268.9,2399.0 L1270.9,2399.4 L1272.9,2399.8 L1274.9,2400.1 L1276.9,2400.5 L1278.9,2400.8 L1280.9,2401.1 L1282.9,2401.4 L1284.9,2401.7 L1286.9,2401.9 L1288.9,2402.2 L1290.9,2402.4 L1292.9,2402.6 L1294.9,2402.7 L1296.9,2402.9 L1298.9,2403.0 L1300.9,2403.0 L1302.9,2403.1 L1304.9,2403.2 L1306.9,2403.2 L1308.9,2403.3 L1310.9,2403.4 L1312.9,2403.4 L1314.9,2403.5 L1316.9,2403.6 L1318.9,2403.6 L1320.9,2403.7 L1322.9,2403.7 L1324.9,2403.8 L1326.9,2403.9 L1328.9,2403.9 L1330.9,2404.0 L1332.9,2404.0 L1334.9,2404.1 L1336.9,2404.1 L1338.9,2404.2 L1340.9,2404.2 L1343.0,2404.3 L1345.0,2404.3 L1347.0,2404.3 L1349.0,2404.4 L1351.0,2404.4 L1353.0,2404.5 L1355.0,2404.5 L1357.0,2404.5 L1359.0,2404.6 L1361.0,2404.6 L1363.0,2404.6 L1365.0,2404.7 L1367.0,2404.7 L1369.0,2404.7 L1371.0,2404.8 L1373.0,2404.8 L1375.0,2404.8 L1377.0,2404.8 L1379.0,2404.9 L1381.0,2404.9 L1383.0,2404.9 L1385.0,2404.9 L1387.0,2404.9 L1389.0,2404.9 L1391.0,2405.0 L1393.0,2405.0 L1395.0,2405.0 L1397.0,2405.0 L1399.0,2405.0 L1401.0,2405.0 L1403.0,2405.0 L1405.0,2405.0 L1407.0,2405.0 L1409.0,2405.0 L1411.0,2404.9 L1413.0,2404.9 L1415.0,2404.7 L1417.0,2404.6 L1419.0,2404.4 L1421.0,2404.2 L1423.0,2404.0 L1425.0,2403.8 L1427.0,2403.6 L1429.0,2403.3 L1431.0,2403.0 L1433.0,2402.7 L1435.0,2402.4 L1437.0,2402.1 L1439.1,2401.7 L1441.1,2401.4 L1443.1,2401.0 L1445.1,2400.7 L1447.1,2400.3 L1449.1,2400.0 L1451.1,2399.6 L1453.1,2399.3 L1455.1,2398.9 L1457.1,2398.6 L1459.1,2398.2 L1461.1,2397.9 L1463.1,2397.6 L1465.1,2397.3 L1467.1,2397.0 L1469.1,2396.7 L1471.1,2396.4 L1473.1,2396.1 L1475.1,2395.8 L1477.1,2395.5 L1479.1,2395.2 L1481.1,2394.9 L1483.1,2394.6 L1485.1,2394.3 L1487.1,2394.0 L1489.1,2393.7 L1491.1,2393.4 L1493.1,2393.1 L1495.1,2392.8 L1497.1,2392.4 L1499.1,2392.1 L1501.1,2391.8 L1503.1,2391.5 L1505.1,2391.2 L1507.1,2390.9 L1509.1,2390.6 L1511.1,2390.2 L1513.1,2389.9 L1515.1,2389.6 L1517.1,2389.3 L1519.1,2389.0 L1521.1,2388.7 L1523.1,2388.4 L1525.1,2388.1 L1527.1,2387.8 L1529.1,2387.5 L1531.1,2387.3 L1533.2,2387.0 L1535.2,2386.7 L1537.2,2386.5 L1539.2,2386.3 L1541.2,2386.1 L1543.2,2385.9 L1545.2,2385.7 L1547.2,2385.5 L1549.2,2385.3 L1551.2,2385.1 L1553.2,2384.8 L1555.2,2384.5 L1557.2,2384.2 L1559.2,2383.7 L1561.2,2383.2 L1563.2,2382.2 L1565.2,2380.4 L1567.2,2377.8 L1569.2,2374.6 L1571.2,2370.8 L1573.2,2366.6 L1575.2,2362.0 L1577.2,2357.2 L1579.2,2352.1" stroke="#c0c0c0" stroke-width="5.0" fill="none"/>

</g><path d="M582.5,2092.5L615.1,2236.0" stroke="#000" stroke-width="4.6" fill="none"/><path d="M624.0,2275.0L604.4,2236.4L624.9,2231.7Z" fill="#000"/><path d="M729.3,1900.0L727.5,2180.4" stroke="#000" stroke-width="4.6" fill="none"/><path d="M727.2,2220.4L717.0,2178.3L738.0,2178.5Z" fill="#000"/><path d="M1028.3,2033.3L1101.4,2209.7" stroke="#000" stroke-width="4.6" fill="none"/><path d="M1116.7,2246.7L1090.9,2211.9L1110.3,2203.9Z" fill="#000"/><path d="M1303.3,2101.7L1219.1,2171.2" stroke="#000" stroke-width="4.6" fill="none"/><path d="M1188.3,2196.7L1214.0,2161.9L1227.4,2178.0Z" fill="#000"/><path d="M562.8,2447.0L465.0,2315.7" stroke="#000" stroke-width="4.6" fill="none"/><path d="M441.1,2283.6L474.6,2311.0L457.8,2323.6Z" fill="#000"/><path d="M829.4,2464.1L940.2,2323.9" stroke="#000" stroke-width="4.6" fill="none"/><path d="M965.0,2292.5L947.2,2332.0L930.7,2318.9Z" fill="#000"/><text x="342.4" y="2051.6" font-size="58" stroke="#000" stroke-width="0.6">Fe(III) 2p<tspan font-size="40" dx="1" dy="16.4">1/2</tspan></text><text x="610.5" y="1868.5" font-size="58" stroke="#000" stroke-width="0.6">Fe(II) 2p<tspan font-size="40" dx="1" dy="16.4">1/2</tspan></text><text x="867.8" y="2002.1" font-size="58" stroke="#000" stroke-width="0.6">Fe(III) 2p<tspan font-size="40" dx="1" dy="16.4">3/2</tspan></text><text x="1262.4" y="2078" font-size="58" stroke="#000" stroke-width="0.6">Fe(II) 2p<tspan font-size="40" dx="1" dy="16.4">3/2</tspan></text><text x="525.7" y="2520.4" font-size="58" stroke="#000" stroke-width="0.6">Satelite peak</text>
<rect x="160.7" y="1587" width="1419.5" height="1141.0" fill="none" stroke="#000" stroke-width="4.5" stroke-linejoin="miter"/>
<path d="M160.7,2728V2750.7M342.7,2728V2750.7M524.7,2728V2750.7M706.7,2728V2750.7M888.6,2728V2750.7M1070.6,2728V2750.7M1252.6,2728V2750.7M1434.6,2728V2750.7M251.7,2728V2739.8M433.7,2728V2739.8M615.7,2728V2739.8M797.7,2728V2739.8M979.6,2728V2739.8M1161.6,2728V2739.8M1343.6,2728V2739.8M1525.6,2728V2739.8" stroke="#000" stroke-width="4.5" fill="none"/>
<text x="160.7" y="2824.3" font-size="76" text-anchor="middle">740</text>
<text x="342.7" y="2824.3" font-size="76" text-anchor="middle">735</text>
<text x="524.7" y="2824.3" font-size="76" text-anchor="middle">730</text>
<text x="706.7" y="2824.3" font-size="76" text-anchor="middle">725</text>
<text x="888.6" y="2824.3" font-size="76" text-anchor="middle">720</text>
<text x="1070.6" y="2824.3" font-size="76" text-anchor="middle">715</text>
<text x="1252.6" y="2824.3" font-size="76" text-anchor="middle">710</text>
<text x="1434.6" y="2824.3" font-size="76" text-anchor="middle">705</text>
<text x="480" y="2967.4" font-size="97.5">Binding energy(eV)</text>
<text x="759.4" y="3086" font-size="86">(</text>
<text x="786.3" y="3086" font-size="88" font-weight="bold">d</text>
<text x="837.3" y="3086" font-size="86">)</text>
<text transform="translate(102.5,2429.2) rotate(-90)" font-size="97">Intensity(a.u.)</text>
<text x="1422.7" y="1669" font-size="65.5">Fe 2p</text>
<clipPath id="clipe"><rect x="145.2" y="3127" width="1421.3" height="1143"/></clipPath>
<g clip-path="url(#clipe)">
<path d="M146.2,4119.0 L148.2,4119.1 L150.2,4119.3 L152.2,4119.7 L154.2,4120.1 L156.2,4120.6 L158.2,4121.0 L160.2,4121.4 L162.2,4121.9 L164.2,4122.3 L166.2,4122.7 L168.2,4123.1 L170.2,4123.6 L172.2,4124.0 L174.2,4124.4 L176.2,4124.8 L178.2,4124.7 L180.2,4124.3 L182.2,4123.9 L184.2,4123.5 L186.2,4123.1 L188.2,4122.6 L190.2,4122.2 L192.2,4121.8 L194.2,4121.4 L196.2,4121.0 L198.2,4120.6 L200.2,4120.1 L202.3,4119.7 L204.3,4119.3 L206.3,4118.9 L208.3,4118.5 L210.3,4118.3 L212.3,4118.6 L214.3,4118.9 L216.3,4119.1 L218.3,4119.4 L220.3,4119.7 L222.3,4120.0 L224.3,4120.2 L226.3,4120.5 L228.3,4120.8 L230.3,4121.1 L232.3,4121.3 L234.3,4121.2 L236.3,4121.0 L238.3,4120.8 L240.3,4120.6 L242.3,4120.4 L244.3,4120.2 L246.3,4119.9 L248.3,4119.7 L250.3,4119.5 L252.3,4119.3 L254.3,4119.1 L256.3,4119.0 L258.3,4119.1 L260.3,4119.1 L262.3,4119.2 L264.3,4119.2 L266.3,4119.2 L268.3,4119.3 L270.3,4119.3 L272.3,4119.4 L274.3,4119.4 L276.3,4119.4 L278.3,4119.5 L280.3,4119.4 L282.3,4119.3 L284.3,4119.2 L286.3,4119.1 L288.3,4119.0 L290.3,4119.0 L292.3,4118.9 L294.3,4118.8 L296.3,4118.7 L298.3,4118.6 L300.3,4118.5 L302.3,4118.4 L304.3,4118.3 L306.3,4118.2 L308.3,4118.1 L310.4,4118.0 L312.4,4117.9 L314.4,4117.8 L316.4,4117.7 L318.4,4117.7 L320.4,4117.6 L322.4,4117.5 L324.4,4117.4 L326.4,4117.3 L328.4,4117.3 L330.4,4117.2 L332.4,4117.1 L334.4,4117.0 L336.4,4116.9 L338.4,4116.8 L340.4,4116.9 L342.4,4117.0 L344.4,4117.1 L346.4,4117.3 L348.4,4117.4 L350.4,4117.5 L352.4,4117.7 L354.4,4117.8 L356.4,4118.0 L358.4,4118.1 L360.4,4118.2 L362.4,4118.4 L364.4,4118.5 L366.4,4118.6 L368.4,4118.8 L370.4,4118.9 L372.4,4118.9 L374.4,4118.7 L376.4,4118.5 L378.4,4118.2 L380.4,4118.0 L382.4,4117.8 L384.4,4117.5 L386.4,4117.3 L388.4,4117.1 L390.4,4116.9 L392.4,4116.6 L394.4,4116.4 L396.4,4116.2 L398.4,4115.9 L400.4,4115.7 L402.4,4115.4 L404.4,4115.2 L406.4,4115.0 L408.4,4114.7 L410.4,4114.5 L412.4,4114.2 L414.4,4114.0 L416.4,4113.7 L418.4,4113.5 L420.5,4113.7 L422.5,4113.8 L424.5,4114.0 L426.5,4114.2 L428.5,4114.3 L430.5,4114.5 L432.5,4114.7 L434.5,4114.8 L436.5,4115.0 L438.5,4115.2 L440.5,4115.3 L442.5,4115.1 L444.5,4114.5 L446.5,4114.0 L448.5,4113.4 L450.5,4112.8 L452.5,4112.3 L454.5,4111.7 L456.5,4111.1 L458.5,4110.6 L460.5,4110.0 L462.5,4109.5 L464.5,4108.9 L466.5,4108.8 L468.5,4108.7 L470.5,4108.7 L472.5,4108.6 L474.5,4108.5 L476.5,4108.4 L478.5,4108.4 L480.5,4108.3 L482.5,4108.2 L484.5,4108.1 L486.5,4108.1 L488.5,4108.0 L490.5,4107.9 L492.5,4107.8 L494.5,4107.8 L496.5,4107.7 L498.5,4107.6 L500.5,4107.5 L502.5,4106.9 L504.5,4105.7 L506.5,4104.5 L508.5,4103.3 L510.5,4102.1 L512.5,4100.9 L514.5,4099.7 L516.5,4098.5 L518.5,4097.3 L520.5,4096.2 L522.5,4095.0 L524.5,4093.8 L526.5,4093.8 L528.6,4094.0 L530.6,4094.2 L532.6,4094.4 L534.6,4094.6 L536.6,4094.8 L538.6,4095.0 L540.6,4095.9 L542.6,4096.9 L544.6,4097.9 L546.6,4098.9 L548.6,4099.2 L550.6,4097.8 L552.6,4096.4 L554.6,4095.1 L556.6,4093.7 L558.6,4092.3 L560.6,4091.3 L562.6,4091.4 L564.6,4091.3 L566.6,4091.1 L568.6,4090.7 L570.6,4090.2 L572.6,4089.6 L574.6,4088.9 L576.6,4088.0 L578.6,4086.9 L580.6,4085.6 L582.6,4084.2 L584.6,4082.6 L586.6,4080.8 L588.6,4078.9 L590.6,4076.7 L592.6,4074.3 L594.6,4071.6 L596.6,4068.8 L598.6,4065.7 L600.6,4062.8 L602.6,4060.7 L604.6,4058.6 L606.6,4056.4 L608.6,4054.1 L610.6,4051.8 L612.6,4049.4 L614.6,4047.0 L616.6,4044.5 L618.6,4041.9 L620.6,4039.3 L622.6,4036.6 L624.6,4033.8 L626.6,4030.9 L628.6,4028.0 L630.6,4025.0 L632.6,4022.0 L634.6,4018.8 L636.6,4015.6 L638.7,4012.4 L640.7,4009.0 L642.7,4005.6 L644.7,4002.1 L646.7,3998.5 L648.7,3994.8 L650.7,3991.1 L652.7,3987.2 L654.7,3983.3 L656.7,3979.3 L658.7,3975.3 L660.7,3971.1 L662.7,3966.9 L664.7,3962.6 L666.7,3958.2 L668.7,3953.7 L670.7,3949.2 L672.7,3944.5 L674.7,3939.8 L676.7,3935.0 L678.7,3930.1 L680.7,3925.1 L682.7,3920.1 L684.7,3914.9 L686.7,3909.7 L688.7,3904.4 L690.7,3899.0 L692.7,3893.5 L694.7,3887.9 L696.7,3882.3 L698.7,3876.6 L700.7,3870.7 L702.7,3864.5 L704.7,3858.2 L706.7,3851.9 L708.7,3845.4 L710.7,3838.9 L712.7,3832.3 L714.7,3825.6 L716.7,3818.8 L718.7,3811.9 L720.7,3805.0 L722.7,3798.0 L724.7,3790.9 L726.7,3783.7 L728.7,3776.5 L730.7,3769.1 L732.7,3761.7 L734.7,3754.3 L736.7,3746.8 L738.7,3739.2 L740.7,3731.7 L742.7,3724.4 L744.7,3717.0 L746.8,3709.6 L748.8,3702.2 L750.8,3694.7 L752.8,3687.2 L754.8,3679.6 L756.8,3672.0 L758.8,3664.4 L760.8,3656.8 L762.8,3649.1 L764.8,3641.4 L766.8,3633.7 L768.8,3626.0 L770.8,3618.3 L772.8,3610.5 L774.8,3602.8 L776.8,3595.1 L778.8,3587.3 L780.8,3579.6 L782.8,3571.9 L784.8,3564.2 L786.8,3556.6 L788.8,3548.9 L790.8,3541.3 L792.8,3533.7 L794.8,3526.1 L796.8,3518.6 L798.8,3511.1 L800.8,3503.7 L802.8,3496.3 L804.8,3489.0 L806.8,3481.7 L808.8,3474.5 L810.8,3467.4 L812.8,3460.3 L814.8,3453.3 L816.8,3446.3 L818.8,3439.5 L820.8,3432.6 L822.8,3425.9 L824.8,3419.3 L826.8,3412.7 L828.8,3406.2 L830.8,3399.8 L832.8,3393.4 L834.8,3387.2 L836.8,3381.0 L838.8,3374.9 L840.8,3368.9 L842.8,3363.0 L844.8,3357.2 L846.8,3351.5 L848.8,3345.9 L850.8,3340.4 L852.8,3335.0 L854.8,3329.8 L856.9,3324.6 L858.9,3319.6 L860.9,3314.6 L862.9,3309.8 L864.9,3305.0 L866.9,3300.4 L868.9,3295.9 L870.9,3291.5 L872.9,3287.1 L874.9,3282.9 L876.9,3278.9 L878.9,3274.9 L880.9,3271.0 L882.9,3267.3 L884.9,3263.7 L886.9,3260.2 L888.9,3256.8 L890.9,3253.5 L892.9,3250.3 L894.9,3247.2 L896.9,3244.2 L898.9,3241.3 L900.9,3238.4 L902.9,3235.7 L904.9,3233.1 L906.9,3230.7 L908.9,3228.3 L910.9,3226.1 L912.9,3224.0 L914.9,3222.1 L916.9,3220.3 L918.9,3218.7 L920.9,3217.2 L922.9,3215.9 L924.9,3214.8 L926.9,3213.9 L928.9,3213.1 L930.9,3212.6 L932.9,3212.3 L934.9,3212.2 L936.9,3212.3 L938.9,3212.6 L940.9,3213.1 L942.9,3213.9 L944.9,3214.8 L946.9,3216.1 L948.9,3217.5 L950.9,3219.3 L952.9,3221.2 L954.9,3223.5 L956.9,3226.0 L958.9,3228.7 L960.9,3231.7 L962.9,3235.0 L964.9,3238.5 L967.0,3242.3 L969.0,3246.4 L971.0,3250.7 L973.0,3255.3 L975.0,3260.1 L977.0,3265.2 L979.0,3270.5 L981.0,3276.1 L983.0,3281.9 L985.0,3288.0 L987.0,3294.3 L989.0,3300.9 L991.0,3307.7 L993.0,3314.8 L995.0,3322.1 L997.0,3329.6 L999.0,3337.3 L1001.0,3345.3 L1003.0,3353.8 L1005.0,3362.4 L1007.0,3371.2 L1009.0,3380.3 L1011.0,3389.5 L1013.0,3398.9 L1015.0,3408.5 L1017.0,3418.2 L1019.0,3428.1 L1021.0,3438.1 L1023.0,3448.3 L1025.0,3458.6 L1027.0,3469.1 L1029.0,3479.6 L1031.0,3490.3 L1033.0,3501.0 L1035.0,3511.9 L1037.0,3522.8 L1039.0,3533.8 L1041.0,3544.8 L1043.0,3555.8 L1045.0,3566.8 L1047.0,3577.7 L1049.0,3588.7 L1051.0,3599.6 L1053.0,3610.4 L1055.0,3621.2 L1057.0,3631.9 L1059.0,3642.5 L1061.0,3653.1 L1063.0,3663.6 L1065.0,3674.0 L1067.0,3684.3 L1069.0,3694.5 L1071.0,3704.6 L1073.0,3714.6 L1075.1,3724.5 L1077.1,3734.2 L1079.1,3743.9 L1081.1,3753.4 L1083.1,3762.8 L1085.1,3772.1 L1087.1,3781.3 L1089.1,3790.3 L1091.1,3799.2 L1093.1,3807.9 L1095.1,3816.6 L1097.1,3825.1 L1099.1,3833.4 L1101.1,3841.7 L1103.1,3849.8 L1105.1,3857.7 L1107.1,3865.6 L1109.1,3873.3 L1111.1,3880.8 L1113.1,3888.3 L1115.1,3895.6 L1117.1,3902.8 L1119.1,3909.8 L1121.1,3916.8 L1123.1,3923.6 L1125.1,3930.3 L1127.1,3936.8 L1129.1,3943.3 L1131.1,3949.6 L1133.1,3955.8 L1135.1,3961.9 L1137.1,3967.9 L1139.1,3973.8 L1141.1,3979.5 L1143.1,3985.2 L1145.1,3990.7 L1147.1,3996.2 L1149.1,4001.5 L1151.1,4006.8 L1153.1,4011.9 L1155.1,4017.0 L1157.1,4021.9 L1159.1,4026.8 L1161.1,4031.5 L1163.1,4036.2 L1165.1,4040.8 L1167.1,4045.3 L1169.1,4049.6 L1171.1,4053.9 L1173.1,4058.2 L1175.1,4062.3 L1177.1,4066.3 L1179.1,4070.3 L1181.1,4074.1 L1183.1,4077.9 L1185.2,4081.6 L1187.2,4085.3 L1189.2,4088.8 L1191.2,4092.3 L1193.2,4095.6 L1195.2,4098.9 L1197.2,4102.2 L1199.2,4105.3 L1201.2,4108.4 L1203.2,4111.4 L1205.2,4114.3 L1207.2,4117.1 L1209.2,4119.8 L1211.2,4122.5 L1213.2,4125.1 L1215.2,4127.6 L1217.2,4130.1 L1219.2,4132.4 L1221.2,4134.7 L1223.2,4136.9 L1225.2,4139.1 L1227.2,4141.1 L1229.2,4143.1 L1231.2,4145.1 L1233.2,4146.9 L1235.2,4148.7 L1237.2,4150.4 L1239.2,4152.1 L1241.2,4153.7 L1243.2,4155.2 L1245.2,4156.7 L1247.2,4158.1 L1249.2,4159.4 L1251.2,4160.6 L1253.2,4161.7 L1255.2,4162.6 L1257.2,4163.5 L1259.2,4164.2 L1261.2,4164.9 L1263.2,4165.5 L1265.2,4166.0 L1267.2,4166.5 L1269.2,4166.9 L1271.2,4167.3 L1273.2,4167.6 L1275.2,4167.9 L1277.2,4168.1 L1279.2,4168.3 L1281.2,4168.5 L1283.2,4168.7 L1285.2,4168.9 L1287.2,4169.1 L1289.2,4169.3 L1291.2,4169.7 L1293.3,4170.2 L1295.3,4170.7 L1297.3,4171.3 L1299.3,4171.8 L1301.3,4172.2 L1303.3,4172.5 L1305.3,4172.8 L1307.3,4173.2 L1309.3,4173.5 L1311.3,4173.8 L1313.3,4174.1 L1315.3,4174.5 L1317.3,4174.8 L1319.3,4175.1 L1321.3,4175.4 L1323.3,4175.8 L1325.3,4176.1 L1327.3,4176.1 L1329.3,4176.0 L1331.3,4175.9 L1333.3,4175.7 L1335.3,4175.6 L1337.3,4175.5 L1339.3,4175.4 L1341.3,4175.2 L1343.3,4175.1 L1345.3,4175.0 L1347.3,4174.8 L1349.3,4174.6 L1351.3,4174.5 L1353.3,4174.3 L1355.3,4174.2 L1357.3,4174.0 L1359.3,4173.8 L1361.3,4173.7 L1363.3,4173.5 L1365.3,4173.9 L1367.3,4174.3 L1369.3,4174.8 L1371.3,4175.2 L1373.3,4175.6 L1375.3,4176.0 L1377.3,4176.4 L1379.3,4176.9 L1381.3,4176.9 L1383.3,4176.8 L1385.3,4176.7 L1387.3,4176.6 L1389.3,4176.5 L1391.3,4176.4 L1393.3,4176.3 L1395.3,4176.2 L1397.3,4176.1 L1399.3,4176.0 L1401.3,4176.0 L1403.4,4176.0 L1405.4,4176.0 L1407.4,4176.1 L1409.4,4176.1 L1411.4,4176.1 L1413.4,4176.1 L1415.4,4176.1 L1417.4,4176.1 L1419.4,4176.1 L1421.4,4176.2 L1423.4,4176.2 L1425.4,4176.2 L1427.4,4176.2 L1429.4,4176.2 L1431.4,4176.3 L1433.4,4176.4 L1435.4,4176.5 L1437.4,4176.5 L1439.4,4176.6 L1441.4,4176.7 L1443.4,4176.8 L1445.4,4176.8 L1447.4,4176.9 L1449.4,4177.0 L1451.4,4177.0 L1453.4,4176.9 L1455.4,4176.8 L1457.4,4176.8 L1459.4,4176.7 L1461.4,4176.6 L1463.4,4176.6 L1465.4,4176.5 L1467.4,4176.4 L1469.4,4176.4 L1471.4,4176.3 L1473.4,4176.2 L1475.4,4176.3 L1477.4,4176.5 L1479.4,4176.8 L1481.4,4177.0 L1483.4,4177.2 L1485.4,4177.5 L1487.4,4177.7 L1489.4,4177.9 L1491.4,4178.2 L1493.4,4178.4 L1495.4,4178.7 L1497.4,4178.9 L1499.4,4179.2 L1501.4,4179.4 L1503.4,4179.7 L1505.4,4179.9 L1507.4,4180.2 L1509.4,4180.4 L1511.5,4180.6 L1513.5,4180.7 L1515.5,4180.7 L1517.5,4180.8 L1519.5,4180.9 L1521.5,4181.2 L1523.5,4182.2 L1525.5,4183.2 L1527.5,4184.2 L1529.5,4185.2 L1531.5,4184.7 L1533.5,4183.6 L1535.5,4182.5 L1537.5,4181.4 L1539.5,4180.3 L1541.5,4180.0 L1543.5,4179.9 L1545.5,4179.9 L1547.5,4179.8 L1549.5,4179.8 L1551.5,4179.7 L1553.5,4179.7 L1555.5,4179.7 L1557.5,4179.6 L1559.5,4179.6 L1561.5,4179.5 L1563.5,4179.4 L1565.5,4179.2" stroke="#808080" stroke-width="4.9" fill="none" stroke-linejoin="round"/>
<defs><linearGradient id="ge0" gradientUnits="userSpaceOnUse" x1="0" y1="3756.3" x2="0" y2="4133.2"><stop offset="0" stop-color="#00f0f0" stop-opacity="0.8"/><stop offset="0.85" stop-color="#ffffff" stop-opacity="0.5"/><stop offset="1" stop-color="#ffffff" stop-opacity="0.5"/></linearGradient><linearGradient id="ge1" gradientUnits="userSpaceOnUse" x1="0" y1="3747.5" x2="0" y2="4145.0"><stop offset="0" stop-color="#c890e8" stop-opacity="0.7"/><stop offset="0.85" stop-color="#ffffff" stop-opacity="0.5"/><stop offset="1" stop-color="#ffffff" stop-opacity="0.5"/></linearGradient><linearGradient id="ge2" gradientUnits="userSpaceOnUse" x1="0" y1="3856.7" x2="0" y2="4162.5"><stop offset="0" stop-color="#5050f0" stop-opacity="0.75"/><stop offset="0.85" stop-color="#ffffff" stop-opacity="0.5"/><stop offset="1" stop-color="#ffffff" stop-opacity="0.5"/></linearGradient><linearGradient id="ge3" gradientUnits="userSpaceOnUse" x1="0" y1="3876.5" x2="0" y2="4172.8"><stop offset="0" stop-color="#f8f040" stop-opacity="0.75"/><stop offset="0.85" stop-color="#ffffff" stop-opacity="0.5"/><stop offset="1" stop-color="#ffffff" stop-opacity="0.5"/></linearGradient><linearGradient id="ge4" gradientUnits="userSpaceOnUse" x1="0" y1="4127.9" x2="0" y2="4179.4"><stop offset="0" stop-color="#60e890" stop-opacity="0.5"/><stop offset="1.0" stop-color="#ffffff" stop-opacity="0.5"/><stop offset="1" stop-color="#ffffff" stop-opacity="0.5"/></linearGradient></defs>
<path d="M146.2,4122.4 L148.2,4122.4 L150.2,4122.4 L152.2,4122.4 L154.2,4122.4 L156.2,4122.4 L158.2,4122.4 L160.2,4122.4 L162.2,4122.3 L164.2,4122.3 L166.2,4122.3 L168.2,4122.3 L170.2,4122.3 L172.2,4122.3 L174.2,4122.3 L176.2,4122.3 L178.2,4122.3 L180.2,4122.3 L182.2,4122.3 L184.2,4122.3 L186.2,4122.3 L188.2,4122.3 L190.2,4122.2 L192.2,4122.2 L194.2,4122.2 L196.2,4122.2 L198.2,4122.2 L200.2,4122.2 L202.3,4122.2 L204.3,4122.2 L206.3,4122.2 L208.3,4122.2 L210.3,4122.2 L212.3,4122.2 L214.3,4122.1 L216.3,4122.1 L218.3,4122.1 L220.3,4122.1 L222.3,4122.1 L224.3,4122.1 L226.3,4122.1 L228.3,4122.1 L230.3,4122.1 L232.3,4122.1 L234.3,4122.1 L236.3,4122.0 L238.3,4122.0 L240.3,4122.0 L242.3,4122.0 L244.3,4122.0 L246.3,4122.0 L248.3,4122.0 L250.3,4122.0 L252.3,4122.0 L254.3,4122.0 L256.3,4122.0 L258.3,4121.9 L260.3,4121.9 L262.3,4121.9 L264.3,4121.9 L266.3,4121.9 L268.3,4121.9 L270.3,4121.9 L272.3,4121.9 L274.3,4121.9 L276.3,4121.8 L278.3,4121.8 L280.3,4121.8 L282.3,4121.8 L284.3,4121.8 L286.3,4121.8 L288.3,4121.8 L290.3,4121.8 L292.3,4121.8 L294.3,4121.7 L296.3,4121.7 L298.3,4121.7 L300.3,4121.7 L302.3,4121.7 L304.3,4121.7 L306.3,4121.7 L308.3,4121.7 L310.4,4121.6 L312.4,4121.6 L314.4,4121.6 L316.4,4121.6 L318.4,4121.6 L320.4,4121.6 L322.4,4121.6 L324.4,4121.5 L326.4,4121.5 L328.4,4121.5 L330.4,4121.5 L332.4,4121.5 L334.4,4121.5 L336.4,4121.4 L338.4,4121.4 L340.4,4121.4 L342.4,4121.4 L344.4,4121.4 L346.4,4121.4 L348.4,4121.3 L350.4,4121.3 L352.4,4121.3 L354.4,4121.3 L356.4,4121.3 L358.4,4121.2 L360.4,4121.2 L362.4,4121.2 L364.4,4121.2 L366.4,4121.1 L368.4,4121.1 L370.4,4121.1 L372.4,4121.1 L374.4,4121.0 L376.4,4121.0 L378.4,4121.0 L380.4,4121.0 L382.4,4120.9 L384.4,4120.9 L386.4,4120.9 L388.4,4120.8 L390.4,4120.8 L392.4,4120.8 L394.4,4120.7 L396.4,4120.7 L398.4,4120.6 L400.4,4120.6 L402.4,4120.6 L404.4,4120.5 L406.4,4120.5 L408.4,4120.4 L410.4,4120.4 L412.4,4120.3 L414.4,4120.3 L416.4,4120.2 L418.4,4120.2 L420.5,4120.1 L422.5,4120.0 L424.5,4120.0 L426.5,4119.9 L428.5,4119.8 L430.5,4119.8 L432.5,4119.7 L434.5,4119.6 L436.5,4119.5 L438.5,4119.4 L440.5,4119.4 L442.5,4119.3 L444.5,4119.2 L446.5,4119.1 L448.5,4119.0 L450.5,4118.8 L452.5,4118.7 L454.5,4118.6 L456.5,4118.5 L458.5,4118.3 L460.5,4118.2 L462.5,4118.1 L464.5,4117.9 L466.5,4117.7 L468.5,4117.6 L470.5,4117.4 L472.5,4117.2 L474.5,4117.0 L476.5,4116.8 L478.5,4116.6 L480.5,4116.4 L482.5,4116.2 L484.5,4115.9 L486.5,4115.7 L488.5,4115.4 L490.5,4115.2 L492.5,4114.9 L494.5,4114.6 L496.5,4114.3 L498.5,4114.0 L500.5,4113.6 L502.5,4113.3 L504.5,4112.9 L506.5,4112.5 L508.5,4112.1 L510.5,4111.7 L512.5,4111.3 L514.5,4110.9 L516.5,4110.4 L518.5,4109.9 L520.5,4109.4 L522.5,4108.9 L524.5,4108.3 L526.5,4107.8 L528.6,4107.2 L530.6,4106.6 L532.6,4105.9 L534.6,4105.3 L536.6,4104.6 L538.6,4103.9 L540.6,4103.1 L542.6,4102.4 L544.6,4101.6 L546.6,4100.7 L548.6,4099.9 L550.6,4099.0 L552.6,4098.1 L554.6,4097.1 L556.6,4096.2 L558.6,4095.1 L560.6,4094.1 L562.6,4093.0 L564.6,4091.9 L566.6,4090.7 L568.6,4089.5 L570.6,4088.3 L572.6,4087.0 L574.6,4085.7 L576.6,4084.3 L578.6,4082.9 L580.6,4081.4 L582.6,4079.9 L584.6,4078.4 L586.6,4076.8 L588.6,4075.2 L590.6,4073.5 L592.6,4071.8 L594.6,4070.0 L596.6,4068.1 L598.6,4066.2 L600.6,4064.3 L602.6,4062.3 L604.6,4060.2 L606.6,4058.1 L608.6,4055.9 L610.6,4053.7 L612.6,4051.4 L614.6,4049.1 L616.6,4046.6 L618.6,4044.2 L620.6,4041.6 L622.6,4039.0 L624.6,4036.3 L626.6,4033.6 L628.6,4030.8 L630.6,4027.9 L632.6,4025.0 L634.6,4022.0 L636.6,4018.9 L638.7,4015.7 L640.7,4012.5 L642.7,4009.2 L644.7,4005.8 L646.7,4002.3 L648.7,3998.8 L650.7,3995.2 L652.7,3991.5 L654.7,3987.8 L656.7,3983.9 L658.7,3980.0 L660.7,3976.0 L662.7,3972.0 L664.7,3967.8 L666.7,3963.6 L668.7,3959.3 L670.7,3954.9 L672.7,3950.4 L674.7,3945.9 L676.7,3941.3 L678.7,3936.6 L680.7,3931.8 L682.7,3926.9 L684.7,3921.9 L686.7,3916.9 L688.7,3911.8 L690.7,3906.6 L692.7,3901.3 L694.7,3895.9 L696.7,3890.5 L698.7,3885.0 L700.7,3879.3 L702.7,3873.7 L704.7,3867.9 L706.7,3862.0 L708.7,3856.1 L710.7,3850.1 L712.7,3844.0 L714.7,3837.9 L716.7,3831.6 L718.7,3825.3 L720.7,3818.9 L722.7,3812.5 L724.7,3806.0 L726.7,3799.4 L728.7,3792.7 L730.7,3786.0 L732.7,3779.2 L734.7,3772.3 L736.7,3765.4 L738.7,3758.4 L740.7,3751.4 L742.7,3744.3 L744.7,3737.1 L746.8,3729.9 L748.8,3722.6 L750.8,3715.3 L752.8,3708.0 L754.8,3700.6 L756.8,3693.2 L758.8,3685.7 L760.8,3678.2 L762.8,3670.7 L764.8,3663.1 L766.8,3655.6 L768.8,3648.0 L770.8,3640.3 L772.8,3632.7 L774.8,3625.1 L776.8,3617.4 L778.8,3609.7 L780.8,3602.1 L782.8,3594.4 L784.8,3586.8 L786.8,3579.1 L788.8,3571.5 L790.8,3563.8 L792.8,3556.2 L794.8,3548.7 L796.8,3541.1 L798.8,3533.6 L800.8,3526.1 L802.8,3518.6 L804.8,3511.2 L806.8,3503.9 L808.8,3496.6 L810.8,3489.3 L812.8,3482.1 L814.8,3475.0 L816.8,3467.9 L818.8,3460.8 L820.8,3453.9 L822.8,3447.0 L824.8,3440.2 L826.8,3433.4 L828.8,3426.7 L830.8,3420.1 L832.8,3413.6 L834.8,3407.1 L836.8,3400.8 L838.8,3394.5 L840.8,3388.3 L842.8,3382.1 L844.8,3376.1 L846.8,3370.1 L848.8,3364.3 L850.8,3358.5 L852.8,3352.8 L854.8,3347.2 L856.9,3341.7 L858.9,3336.3 L860.9,3331.1 L862.9,3325.9 L864.9,3320.8 L866.9,3315.8 L868.9,3310.9 L870.9,3306.2 L872.9,3301.5 L874.9,3297.0 L876.9,3292.5 L878.9,3288.2 L880.9,3284.0 L882.9,3279.8 L884.9,3275.8 L886.9,3272.0 L888.9,3268.2 L890.9,3264.6 L892.9,3261.0 L894.9,3257.6 L896.9,3254.3 L898.9,3251.1 L900.9,3248.0 L902.9,3244.9 L904.9,3242.0 L906.9,3239.1 L908.9,3236.4 L910.9,3233.7 L912.9,3231.2 L914.9,3228.9 L916.9,3226.6 L918.9,3224.5 L920.9,3222.5 L922.9,3220.7 L924.9,3219.0 L926.9,3217.5 L928.9,3216.2 L930.9,3215.0 L932.9,3214.1 L934.9,3213.3 L936.9,3212.7 L938.9,3212.3 L940.9,3212.2 L942.9,3212.2 L944.9,3212.5 L946.9,3213.0 L948.9,3213.8 L950.9,3214.8 L952.9,3216.1 L954.9,3217.6 L956.9,3219.4 L958.9,3221.5 L960.9,3223.8 L962.9,3226.5 L964.9,3229.4 L967.0,3232.6 L969.0,3236.0 L971.0,3239.8 L973.0,3243.8 L975.0,3248.2 L977.0,3252.8 L979.0,3257.7 L981.0,3262.8 L983.0,3268.2 L985.0,3273.9 L987.0,3279.9 L989.0,3286.2 L991.0,3292.7 L993.0,3299.5 L995.0,3306.5 L997.0,3313.8 L999.0,3321.3 L1001.0,3329.1 L1003.0,3337.1 L1005.0,3345.4 L1007.0,3353.8 L1009.0,3362.5 L1011.0,3371.4 L1013.0,3380.4 L1015.0,3389.7 L1017.0,3399.2 L1019.0,3408.8 L1021.0,3418.6 L1023.0,3428.5 L1025.0,3438.6 L1027.0,3448.8 L1029.0,3459.2 L1031.0,3469.7 L1033.0,3480.3 L1035.0,3491.0 L1037.0,3501.8 L1039.0,3512.6 L1041.0,3523.6 L1043.0,3534.6 L1045.0,3545.7 L1047.0,3556.8 L1049.0,3567.8 L1051.0,3578.8 L1053.0,3589.8 L1055.0,3600.7 L1057.0,3611.6 L1059.0,3622.4 L1061.0,3633.1 L1063.0,3643.8 L1065.0,3654.4 L1067.0,3664.9 L1069.0,3675.4 L1071.0,3685.7 L1073.0,3695.9 L1075.1,3706.0 L1077.1,3716.1 L1079.1,3726.0 L1081.1,3735.8 L1083.1,3745.4 L1085.1,3755.0 L1087.1,3764.4 L1089.1,3773.7 L1091.1,3782.9 L1093.1,3791.9 L1095.1,3800.8 L1097.1,3809.6 L1099.1,3818.2 L1101.1,3826.7 L1103.1,3835.1 L1105.1,3843.3 L1107.1,3851.4 L1109.1,3859.4 L1111.1,3867.2 L1113.1,3875.0 L1115.1,3882.5 L1117.1,3890.0 L1119.1,3897.3 L1121.1,3904.5 L1123.1,3911.5 L1125.1,3918.4 L1127.1,3925.3 L1129.1,3931.9 L1131.1,3938.5 L1133.1,3944.9 L1135.1,3951.3 L1137.1,3957.5 L1139.1,3963.6 L1141.1,3969.5 L1143.1,3975.4 L1145.1,3981.2 L1147.1,3986.8 L1149.1,3992.4 L1151.1,3997.8 L1153.1,4003.1 L1155.1,4008.4 L1157.1,4013.5 L1159.1,4018.5 L1161.1,4023.5 L1163.1,4028.3 L1165.1,4033.1 L1167.1,4037.7 L1169.1,4042.3 L1171.1,4046.8 L1173.1,4051.1 L1175.1,4055.4 L1177.1,4059.6 L1179.1,4063.7 L1181.1,4067.8 L1183.1,4071.7 L1185.2,4075.5 L1187.2,4079.3 L1189.2,4083.0 L1191.2,4086.6 L1193.2,4090.1 L1195.2,4093.6 L1197.2,4096.9 L1199.2,4100.2 L1201.2,4103.4 L1203.2,4106.6 L1205.2,4109.6 L1207.2,4112.6 L1209.2,4115.4 L1211.2,4118.2 L1213.2,4121.0 L1215.2,4123.6 L1217.2,4126.2 L1219.2,4128.7 L1221.2,4131.1 L1223.2,4133.5 L1225.2,4135.7 L1227.2,4137.9 L1229.2,4140.0 L1231.2,4142.1 L1233.2,4144.1 L1235.2,4146.0 L1237.2,4147.8 L1239.2,4149.6 L1241.2,4151.2 L1243.2,4152.9 L1245.2,4154.4 L1247.2,4155.9 L1249.2,4157.4 L1251.2,4158.7 L1253.2,4160.0 L1255.2,4161.3 L1257.2,4162.5 L1259.2,4163.6 L1261.2,4164.7 L1263.2,4165.8 L1265.2,4166.7 L1267.2,4167.7 L1269.2,4168.6 L1271.2,4169.4 L1273.2,4170.2 L1275.2,4171.0 L1277.2,4171.7 L1279.2,4172.3 L1281.2,4173.0 L1283.2,4173.6 L1285.2,4174.2 L1287.2,4174.7 L1289.2,4175.2 L1291.2,4175.7 L1293.3,4176.1 L1295.3,4176.5 L1297.3,4176.9 L1299.3,4177.3 L1301.3,4177.6 L1303.3,4177.9 L1305.3,4178.2 L1307.3,4178.5 L1309.3,4178.7 L1311.3,4179.0 L1313.3,4179.2 L1315.3,4179.4 L1317.3,4179.6 L1319.3,4179.8 L1321.3,4179.9 L1323.3,4180.1 L1325.3,4180.2 L1327.3,4180.4 L1329.3,4180.5 L1331.3,4180.6 L1333.3,4180.7 L1335.3,4180.8 L1337.3,4180.9 L1339.3,4180.9 L1341.3,4181.0 L1343.3,4181.1 L1345.3,4181.1 L1347.3,4181.2 L1349.3,4181.3 L1351.3,4181.3 L1353.3,4181.3 L1355.3,4181.4 L1357.3,4181.4 L1359.3,4181.5 L1361.3,4181.5 L1363.3,4181.5 L1365.3,4181.5 L1367.3,4181.6 L1369.3,4181.6 L1371.3,4181.6 L1373.3,4181.6 L1375.3,4181.6 L1377.3,4181.7 L1379.3,4181.7 L1381.3,4181.7 L1383.3,4181.7 L1385.3,4181.7 L1387.3,4181.7 L1389.3,4181.7 L1391.3,4181.7 L1393.3,4181.7 L1395.3,4181.7 L1397.3,4181.7 L1399.3,4181.7 L1401.3,4181.8 L1403.4,4181.8 L1405.4,4181.8 L1407.4,4181.8 L1409.4,4181.8 L1411.4,4181.8 L1413.4,4181.8 L1415.4,4181.8 L1417.4,4181.8 L1419.4,4181.8 L1421.4,4181.8 L1423.4,4181.8 L1425.4,4181.8 L1427.4,4181.8 L1429.4,4181.8 L1431.4,4181.8 L1433.4,4181.8 L1435.4,4181.8 L1437.4,4181.8 L1439.4,4181.8 L1441.4,4181.8 L1443.4,4181.8 L1445.4,4181.8 L1447.4,4181.8 L1449.4,4181.8 L1451.4,4181.8 L1453.4,4181.8 L1455.4,4181.8 L1457.4,4181.8 L1459.4,4181.8 L1461.4,4181.8 L1463.4,4181.8 L1465.4,4181.8 L1467.4,4181.8 L1469.4,4181.8 L1471.4,4181.8 L1473.4,4181.8 L1475.4,4181.8 L1477.4,4181.8 L1479.4,4181.8 L1481.4,4181.8 L1483.4,4181.8 L1485.4,4181.8 L1487.4,4181.8 L1489.4,4181.8 L1491.4,4181.8 L1493.4,4181.8 L1495.4,4181.8 L1497.4,4181.8 L1499.4,4181.8 L1501.4,4181.8 L1503.4,4181.8 L1505.4,4181.8 L1507.4,4181.9 L1509.4,4181.9 L1511.5,4181.9 L1513.5,4181.9 L1515.5,4181.9 L1517.5,4181.9 L1519.5,4181.9 L1521.5,4181.9 L1523.5,4181.9 L1525.5,4181.9 L1527.5,4181.9 L1529.5,4181.9 L1531.5,4181.9 L1533.5,4181.9 L1535.5,4181.9 L1537.5,4181.9 L1539.5,4181.9 L1541.5,4181.9 L1543.5,4181.9 L1545.5,4181.9 L1547.5,4181.9 L1549.5,4181.9 L1551.5,4181.9 L1553.5,4181.9 L1555.5,4181.9 L1557.5,4181.9 L1559.5,4181.9 L1561.5,4181.9 L1563.5,4181.9 L1565.5,4181.9" stroke="#ff0000" stroke-width="5.5" fill="none" stroke-linejoin="round"/>
<path d="M506.5,4123.7 L508.5,4123.7 L510.5,4123.7 L512.5,4123.7 L514.5,4123.7 L516.5,4123.7 L518.5,4123.7 L520.5,4123.7 L522.5,4123.7 L524.5,4123.7 L526.5,4123.7 L528.6,4123.7 L530.6,4123.8 L532.6,4123.8 L534.6,4123.8 L536.6,4123.8 L538.6,4123.8 L540.6,4123.8 L542.6,4123.8 L544.6,4123.8 L546.6,4123.8 L548.6,4123.8 L550.6,4123.8 L552.6,4123.8 L554.6,4123.8 L556.6,4123.8 L558.6,4123.8 L560.6,4123.8 L562.6,4123.8 L564.6,4123.9 L566.6,4123.9 L568.6,4123.9 L570.6,4123.9 L572.6,4123.9 L574.6,4123.9 L576.6,4123.9 L578.6,4123.9 L580.6,4124.0 L582.6,4124.0 L584.6,4124.0 L586.6,4124.0 L588.6,4124.0 L590.6,4124.1 L592.6,4124.1 L594.6,4124.1 L596.6,4124.1 L598.6,4124.2 L600.6,4124.2 L602.6,4124.2 L604.6,4124.2 L606.6,4124.3 L608.6,4124.3 L610.6,4124.3 L612.6,4124.4 L614.6,4124.4 L616.6,4124.4 L618.6,4124.4 L620.6,4124.5 L622.6,4124.5 L624.6,4124.5 L626.6,4124.6 L628.6,4124.6 L630.6,4124.6 L632.6,4124.7 L634.6,4124.7 L636.6,4124.7 L638.7,4124.8 L640.7,4124.8 L642.7,4124.8 L644.7,4124.9 L646.7,4124.9 L648.7,4124.9 L650.7,4125.0 L652.7,4125.0 L654.7,4125.0 L656.7,4125.1 L658.7,4125.1 L660.7,4125.1 L662.7,4125.2 L664.7,4125.2 L666.7,4125.3 L668.7,4125.3 L670.7,4125.3 L672.7,4125.4 L674.7,4125.4 L676.7,4125.5 L678.7,4125.5 L680.7,4125.6 L682.7,4125.6 L684.7,4125.7 L686.7,4125.7 L688.7,4125.8 L690.7,4125.8 L692.7,4125.9 L694.7,4125.9 L696.7,4126.0 L698.7,4126.0 L700.7,4126.1 L702.7,4126.1 L704.7,4126.2 L706.7,4126.2 L708.7,4126.3 L710.7,4126.3 L712.7,4126.4 L714.7,4126.5 L716.7,4126.5 L718.7,4126.6 L720.7,4126.6 L722.7,4126.7 L724.7,4126.8 L726.7,4126.8 L728.7,4126.9 L730.7,4127.0 L732.7,4127.0 L734.7,4127.1 L736.7,4127.2 L738.7,4127.2 L740.7,4127.3 L742.7,4127.4 L744.7,4127.5 L746.8,4127.5 L748.8,4127.6 L750.8,4127.7 L752.8,4127.8 L754.8,4127.8 L756.8,4127.9 L758.8,4128.0 L760.8,4128.1 L762.8,4128.2 L764.8,4128.3 L766.8,4128.4 L768.8,4128.4 L770.8,4128.5 L772.8,4128.6 L774.8,4128.7 L776.8,4128.8 L778.8,4128.9 L780.8,4129.0 L782.8,4129.1 L784.8,4129.2 L786.8,4129.3 L788.8,4129.4 L790.8,4129.5 L792.8,4129.6 L794.8,4129.6 L796.8,4129.7 L798.8,4129.8 L800.8,4129.9 L802.8,4130.0 L804.8,4130.1 L806.8,4130.2 L808.8,4130.3 L810.8,4130.4 L812.8,4130.5 L814.8,4130.6 L816.8,4130.7 L818.8,4130.8 L820.8,4130.9 L822.8,4131.0 L824.8,4131.1 L826.8,4131.2 L828.8,4131.2 L830.8,4131.3 L832.8,4131.3 L834.8,4131.4 L836.8,4131.4 L838.8,4131.4 L840.8,4131.4 L842.8,4131.4 L844.8,4131.4 L846.8,4131.3 L848.8,4131.3 L850.8,4131.2 L852.8,4131.1 L854.8,4130.9 L856.9,4130.8 L858.9,4130.6 L860.9,4130.4 L862.9,4130.2 L864.9,4129.9 L866.9,4129.6 L868.9,4129.3 L870.9,4128.9 L872.9,4128.5 L874.9,4128.0 L876.9,4127.5 L878.9,4126.9 L880.9,4126.3 L882.9,4125.6 L884.9,4124.8 L886.9,4124.0 L888.9,4123.1 L890.9,4122.1 L892.9,4121.1 L894.9,4119.9 L896.9,4118.7 L898.9,4117.4 L900.9,4115.9 L902.9,4114.4 L904.9,4112.8 L906.9,4111.1 L908.9,4109.3 L910.9,4107.5 L912.9,4105.5 L914.9,4103.4 L916.9,4101.2 L918.9,4098.8 L920.9,4096.4 L922.9,4093.9 L924.9,4091.2 L926.9,4088.4 L928.9,4085.5 L930.9,4082.5 L932.9,4079.3 L934.9,4076.1 L936.9,4072.7 L938.9,4069.2 L940.9,4065.6 L942.9,4061.8 L944.9,4058.0 L946.9,4054.0 L948.9,4049.9 L950.9,4045.7 L952.9,4041.4 L954.9,4037.1 L956.9,4032.6 L958.9,4028.1 L960.9,4023.5 L962.9,4018.8 L964.9,4014.1 L967.0,4009.3 L969.0,4004.4 L971.0,3999.5 L973.0,3994.6 L975.0,3989.6 L977.0,3984.6 L979.0,3979.5 L981.0,3974.5 L983.0,3969.4 L985.0,3964.4 L987.0,3959.4 L989.0,3954.4 L991.0,3949.5 L993.0,3944.7 L995.0,3939.9 L997.0,3935.3 L999.0,3930.7 L1001.0,3926.2 L1003.0,3921.9 L1005.0,3917.7 L1007.0,3913.7 L1009.0,3909.8 L1011.0,3906.1 L1013.0,3902.6 L1015.0,3899.2 L1017.0,3896.1 L1019.0,3893.1 L1021.0,3890.4 L1023.0,3887.9 L1025.0,3885.6 L1027.0,3883.6 L1029.0,3881.8 L1031.0,3880.3 L1033.0,3879.0 L1035.0,3878.0 L1037.0,3877.2 L1039.0,3876.7 L1041.0,3876.5 L1043.0,3876.5 L1045.0,3876.8 L1047.0,3877.3 L1049.0,3878.0 L1051.0,3878.9 L1053.0,3880.0 L1055.0,3881.3 L1057.0,3882.8 L1059.0,3884.5 L1061.0,3886.4 L1063.0,3888.5 L1065.0,3890.7 L1067.0,3893.2 L1069.0,3895.8 L1071.0,3898.6 L1073.0,3901.6 L1075.1,3904.7 L1077.1,3908.0 L1079.1,3911.5 L1081.1,3915.1 L1083.1,3918.8 L1085.1,3922.6 L1087.1,3926.6 L1089.1,3930.7 L1091.1,3934.9 L1093.1,3939.2 L1095.1,3943.5 L1097.1,3948.0 L1099.1,3952.5 L1101.1,3957.2 L1103.1,3961.8 L1105.1,3966.6 L1107.1,3971.3 L1109.1,3976.2 L1111.1,3981.0 L1113.1,3985.9 L1115.1,3990.8 L1117.1,3995.6 L1119.1,4000.5 L1121.1,4005.4 L1123.1,4010.3 L1125.1,4015.2 L1127.1,4020.0 L1129.1,4024.8 L1131.1,4029.6 L1133.1,4034.4 L1135.1,4039.0 L1137.1,4043.7 L1139.1,4048.3 L1141.1,4052.8 L1143.1,4057.2 L1145.1,4061.6 L1147.1,4065.9 L1149.1,4070.2 L1151.1,4074.3 L1153.1,4078.4 L1155.1,4082.4 L1157.1,4086.3 L1159.1,4090.1 L1161.1,4093.9 L1163.1,4097.5 L1165.1,4101.0 L1167.1,4104.5 L1169.1,4107.8 L1171.1,4111.1 L1173.1,4114.2 L1175.1,4117.3 L1177.1,4120.3 L1179.1,4123.1 L1181.1,4125.9 L1183.1,4128.6 L1185.2,4131.2 L1187.2,4133.6 L1189.2,4136.0 L1191.2,4138.4 L1193.2,4140.6 L1195.2,4142.7 L1197.2,4144.8 L1199.2,4146.8 L1201.2,4148.6 L1203.2,4150.5 L1205.2,4152.2 L1207.2,4153.9 L1209.2,4155.4 L1211.2,4157.0 L1213.2,4158.4 L1215.2,4159.8 L1217.2,4161.1 L1219.2,4162.3 L1221.2,4163.5 L1223.2,4164.6 L1225.2,4165.7 L1227.2,4166.7 L1229.2,4167.7 L1231.2,4168.6 L1233.2,4169.4 L1235.2,4170.2 L1237.2,4171.0 L1239.2,4171.7 L1241.2,4172.4 L1243.2,4173.0 L1245.2,4173.6 L1247.2,4174.2 L1249.2,4174.7 L1251.2,4175.2 L1253.2,4175.7 L1255.2,4176.1 L1257.2,4176.5 L1259.2,4176.9 L1261.2,4177.3 L1263.2,4177.6 L1265.2,4177.9 L1267.2,4178.2 L1269.2,4178.5 L1271.2,4178.7 L1273.2,4179.0 L1275.2,4179.2 L1277.2,4179.4 L1279.2,4179.6 L1281.2,4179.8 L1283.2,4179.9 L1285.2,4180.1 L1287.2,4180.2 L1289.2,4180.4 L1291.2,4180.5 L1293.3,4180.6 L1295.3,4180.7 L1297.3,4180.8 L1299.3,4180.9 L1301.3,4181.0 L1303.3,4181.1 L1305.3,4181.1 L1307.3,4181.2 L1309.3,4181.3 L1311.3,4181.3 L1313.3,4181.4 L1315.3,4181.4 L1317.3,4181.5 L1319.3,4181.5 L1321.3,4181.5 L1323.3,4181.6 L1323.3,4181.9 L1321.3,4181.9 L1319.3,4181.8 L1317.3,4181.8 L1315.3,4181.8 L1313.3,4181.8 L1311.3,4181.8 L1309.3,4181.8 L1307.3,4181.8 L1305.3,4181.8 L1303.3,4181.8 L1301.3,4181.8 L1299.3,4181.8 L1297.3,4181.8 L1295.3,4181.7 L1293.3,4181.7 L1291.2,4181.7 L1289.2,4181.7 L1287.2,4181.7 L1285.2,4181.7 L1283.2,4181.7 L1281.2,4181.7 L1279.2,4181.7 L1277.2,4181.7 L1275.2,4181.6 L1273.2,4181.6 L1271.2,4181.6 L1269.2,4181.6 L1267.2,4181.6 L1265.2,4181.6 L1263.2,4181.6 L1261.2,4181.6 L1259.2,4181.6 L1257.2,4181.5 L1255.2,4181.5 L1253.2,4181.5 L1251.2,4181.5 L1249.2,4181.5 L1247.2,4181.5 L1245.2,4181.5 L1243.2,4181.4 L1241.2,4181.4 L1239.2,4181.4 L1237.2,4181.4 L1235.2,4181.4 L1233.2,4181.3 L1231.2,4181.3 L1229.2,4181.3 L1227.2,4181.2 L1225.2,4181.2 L1223.2,4181.2 L1221.2,4181.1 L1219.2,4181.1 L1217.2,4181.1 L1215.2,4181.0 L1213.2,4181.0 L1211.2,4180.9 L1209.2,4180.9 L1207.2,4180.9 L1205.2,4180.8 L1203.2,4180.8 L1201.2,4180.7 L1199.2,4180.7 L1197.2,4180.6 L1195.2,4180.6 L1193.2,4180.5 L1191.2,4180.5 L1189.2,4180.4 L1187.2,4180.4 L1185.2,4180.3 L1183.1,4180.3 L1181.1,4180.2 L1179.1,4180.2 L1177.1,4180.1 L1175.1,4180.1 L1173.1,4180.0 L1171.1,4179.9 L1169.1,4179.9 L1167.1,4179.8 L1165.1,4179.7 L1163.1,4179.7 L1161.1,4179.6 L1159.1,4179.5 L1157.1,4179.4 L1155.1,4179.4 L1153.1,4179.3 L1151.1,4179.2 L1149.1,4179.1 L1147.1,4179.0 L1145.1,4178.9 L1143.1,4178.8 L1141.1,4178.8 L1139.1,4178.7 L1137.1,4178.6 L1135.1,4178.5 L1133.1,4178.4 L1131.1,4178.3 L1129.1,4178.2 L1127.1,4178.1 L1125.1,4178.0 L1123.1,4177.9 L1121.1,4177.8 L1119.1,4177.7 L1117.1,4177.6 L1115.1,4177.5 L1113.1,4177.4 L1111.1,4177.3 L1109.1,4177.2 L1107.1,4177.1 L1105.1,4177.0 L1103.1,4176.9 L1101.1,4176.8 L1099.1,4176.7 L1097.1,4176.6 L1095.1,4176.5 L1093.1,4176.4 L1091.1,4176.2 L1089.1,4176.1 L1087.1,4176.0 L1085.1,4175.9 L1083.1,4175.8 L1081.1,4175.7 L1079.1,4175.5 L1077.1,4175.4 L1075.1,4175.3 L1073.0,4175.1 L1071.0,4175.0 L1069.0,4174.9 L1067.0,4174.8 L1065.0,4174.6 L1063.0,4174.5 L1061.0,4174.3 L1059.0,4174.2 L1057.0,4174.0 L1055.0,4173.9 L1053.0,4173.7 L1051.0,4173.6 L1049.0,4173.4 L1047.0,4173.3 L1045.0,4173.1 L1043.0,4172.9 L1041.0,4172.8 L1039.0,4172.6 L1037.0,4172.4 L1035.0,4172.2 L1033.0,4172.0 L1031.0,4171.9 L1029.0,4171.7 L1027.0,4171.5 L1025.0,4171.3 L1023.0,4171.1 L1021.0,4170.9 L1019.0,4170.7 L1017.0,4170.4 L1015.0,4170.2 L1013.0,4170.0 L1011.0,4169.8 L1009.0,4169.5 L1007.0,4169.3 L1005.0,4169.1 L1003.0,4168.8 L1001.0,4168.6 L999.0,4168.3 L997.0,4168.1 L995.0,4167.8 L993.0,4167.5 L991.0,4167.2 L989.0,4167.0 L987.0,4166.7 L985.0,4166.4 L983.0,4166.1 L981.0,4165.8 L979.0,4165.4 L977.0,4165.1 L975.0,4164.7 L973.0,4164.3 L971.0,4163.8 L969.0,4163.4 L967.0,4163.0 L964.9,4162.5 L962.9,4162.0 L960.9,4161.6 L958.9,4161.1 L956.9,4160.6 L954.9,4160.1 L952.9,4159.7 L950.9,4159.2 L948.9,4158.8 L946.9,4158.3 L944.9,4157.8 L942.9,4157.4 L940.9,4156.9 L938.9,4156.4 L936.9,4155.9 L934.9,4155.4 L932.9,4154.9 L930.9,4154.4 L928.9,4153.9 L926.9,4153.4 L924.9,4152.9 L922.9,4152.4 L920.9,4151.9 L918.9,4151.4 L916.9,4150.9 L914.9,4150.5 L912.9,4150.0 L910.9,4149.5 L908.9,4149.0 L906.9,4148.5 L904.9,4148.1 L902.9,4147.6 L900.9,4147.2 L898.9,4146.8 L896.9,4146.3 L894.9,4145.9 L892.9,4145.4 L890.9,4145.0 L888.9,4144.6 L886.9,4144.1 L884.9,4143.7 L882.9,4143.3 L880.9,4142.8 L878.9,4142.4 L876.9,4142.0 L874.9,4141.6 L872.9,4141.1 L870.9,4140.7 L868.9,4140.3 L866.9,4140.0 L864.9,4139.6 L862.9,4139.2 L860.9,4138.8 L858.9,4138.5 L856.9,4138.2 L854.8,4137.8 L852.8,4137.5 L850.8,4137.2 L848.8,4136.9 L846.8,4136.7 L844.8,4136.4 L842.8,4136.1 L840.8,4135.8 L838.8,4135.6 L836.8,4135.3 L834.8,4135.0 L832.8,4134.8 L830.8,4134.5 L828.8,4134.3 L826.8,4134.1 L824.8,4133.8 L822.8,4133.6 L820.8,4133.4 L818.8,4133.2 L816.8,4133.0 L814.8,4132.8 L812.8,4132.6 L810.8,4132.4 L808.8,4132.2 L806.8,4132.0 L804.8,4131.9 L802.8,4131.7 L800.8,4131.6 L798.8,4131.4 L796.8,4131.3 L794.8,4131.1 L792.8,4131.0 L790.8,4130.9 L788.8,4130.7 L786.8,4130.6 L784.8,4130.5 L782.8,4130.3 L780.8,4130.2 L778.8,4130.1 L776.8,4130.0 L774.8,4129.9 L772.8,4129.8 L770.8,4129.6 L768.8,4129.5 L766.8,4129.4 L764.8,4129.3 L762.8,4129.2 L760.8,4129.1 L758.8,4129.0 L756.8,4128.9 L754.8,4128.8 L752.8,4128.7 L750.8,4128.6 L748.8,4128.5 L746.8,4128.5 L744.7,4128.4 L742.7,4128.3 L740.7,4128.2 L738.7,4128.1 L736.7,4128.0 L734.7,4128.0 L732.7,4127.9 L730.7,4127.8 L728.7,4127.7 L726.7,4127.6 L724.7,4127.6 L722.7,4127.5 L720.7,4127.4 L718.7,4127.4 L716.7,4127.3 L714.7,4127.2 L712.7,4127.1 L710.7,4127.1 L708.7,4127.0 L706.7,4127.0 L704.7,4126.9 L702.7,4126.8 L700.7,4126.8 L698.7,4126.7 L696.7,4126.6 L694.7,4126.6 L692.7,4126.5 L690.7,4126.5 L688.7,4126.4 L686.7,4126.4 L684.7,4126.3 L682.7,4126.2 L680.7,4126.2 L678.7,4126.1 L676.7,4126.1 L674.7,4126.0 L672.7,4126.0 L670.7,4125.9 L668.7,4125.9 L666.7,4125.9 L664.7,4125.8 L662.7,4125.8 L660.7,4125.7 L658.7,4125.7 L656.7,4125.6 L654.7,4125.6 L652.7,4125.6 L650.7,4125.5 L648.7,4125.5 L646.7,4125.4 L644.7,4125.4 L642.7,4125.4 L640.7,4125.3 L638.7,4125.3 L636.6,4125.2 L634.6,4125.2 L632.6,4125.2 L630.6,4125.1 L628.6,4125.1 L626.6,4125.1 L624.6,4125.0 L622.6,4125.0 L620.6,4125.0 L618.6,4124.9 L616.6,4124.9 L614.6,4124.8 L612.6,4124.8 L610.6,4124.8 L608.6,4124.7 L606.6,4124.7 L604.6,4124.7 L602.6,4124.6 L600.6,4124.6 L598.6,4124.6 L596.6,4124.6 L594.6,4124.5 L592.6,4124.5 L590.6,4124.5 L588.6,4124.5 L586.6,4124.4 L584.6,4124.4 L582.6,4124.4 L580.6,4124.4 L578.6,4124.3 L576.6,4124.3 L574.6,4124.3 L572.6,4124.3 L570.6,4124.3 L568.6,4124.3 L566.6,4124.2 L564.6,4124.2 L562.6,4124.2 L560.6,4124.2 L558.6,4124.2 L556.6,4124.2 L554.6,4124.2 L552.6,4124.2 L550.6,4124.2 L548.6,4124.1 L546.6,4124.1 L544.6,4124.1 L542.6,4124.1 L540.6,4124.1 L538.6,4124.1 L536.6,4124.1 L534.6,4124.1 L532.6,4124.1 L530.6,4124.1 L528.6,4124.1 L526.5,4124.1 L524.5,4124.1 L522.5,4124.0 L520.5,4124.0 L518.5,4124.0 L516.5,4124.0 L514.5,4124.0 L512.5,4124.0 L510.5,4124.0 L508.5,4124.0 L506.5,4124.0Z" fill="url(#ge3)"/><path d="M506.5,4123.7 L508.5,4123.7 L510.5,4123.7 L512.5,4123.7 L514.5,4123.7 L516.5,4123.7 L518.5,4123.7 L520.5,4123.7 L522.5,4123.7 L524.5,4123.7 L526.5,4123.7 L528.6,4123.7 L530.6,4123.8 L532.6,4123.8 L534.6,4123.8 L536.6,4123.8 L538.6,4123.8 L540.6,4123.8 L542.6,4123.8 L544.6,4123.8 L546.6,4123.8 L548.6,4123.8 L550.6,4123.8 L552.6,4123.8 L554.6,4123.8 L556.6,4123.8 L558.6,4123.8 L560.6,4123.8 L562.6,4123.8 L564.6,4123.9 L566.6,4123.9 L568.6,4123.9 L570.6,4123.9 L572.6,4123.9 L574.6,4123.9 L576.6,4123.9 L578.6,4123.9 L580.6,4124.0 L582.6,4124.0 L584.6,4124.0 L586.6,4124.0 L588.6,4124.0 L590.6,4124.1 L592.6,4124.1 L594.6,4124.1 L596.6,4124.1 L598.6,4124.2 L600.6,4124.2 L602.6,4124.2 L604.6,4124.2 L606.6,4124.3 L608.6,4124.3 L610.6,4124.3 L612.6,4124.4 L614.6,4124.4 L616.6,4124.4 L618.6,4124.4 L620.6,4124.5 L622.6,4124.5 L624.6,4124.5 L626.6,4124.6 L628.6,4124.6 L630.6,4124.6 L632.6,4124.7 L634.6,4124.7 L636.6,4124.7 L638.7,4124.8 L640.7,4124.8 L642.7,4124.8 L644.7,4124.9 L646.7,4124.9 L648.7,4124.9 L650.7,4125.0 L652.7,4125.0 L654.7,4125.0 L656.7,4125.1 L658.7,4125.1 L660.7,4125.1 L662.7,4125.2 L664.7,4125.2 L666.7,4125.3 L668.7,4125.3 L670.7,4125.3 L672.7,4125.4 L674.7,4125.4 L676.7,4125.5 L678.7,4125.5 L680.7,4125.6 L682.7,4125.6 L684.7,4125.7 L686.7,4125.7 L688.7,4125.8 L690.7,4125.8 L692.7,4125.9 L694.7,4125.9 L696.7,4126.0 L698.7,4126.0 L700.7,4126.1 L702.7,4126.1 L704.7,4126.2 L706.7,4126.2 L708.7,4126.3 L710.7,4126.3 L712.7,4126.4 L714.7,4126.5 L716.7,4126.5 L718.7,4126.6 L720.7,4126.6 L722.7,4126.7 L724.7,4126.8 L726.7,4126.8 L728.7,4126.9 L730.7,4127.0 L732.7,4127.0 L734.7,4127.1 L736.7,4127.2 L738.7,4127.2 L740.7,4127.3 L742.7,4127.4 L744.7,4127.5 L746.8,4127.5 L748.8,4127.6 L750.8,4127.7 L752.8,4127.8 L754.8,4127.8 L756.8,4127.9 L758.8,4128.0 L760.8,4128.1 L762.8,4128.2 L764.8,4128.3 L766.8,4128.4 L768.8,4128.4 L770.8,4128.5 L772.8,4128.6 L774.8,4128.7 L776.8,4128.8 L778.8,4128.9 L780.8,4129.0 L782.8,4129.1 L784.8,4129.2 L786.8,4129.3 L788.8,4129.4 L790.8,4129.5 L792.8,4129.6 L794.8,4129.6 L796.8,4129.7 L798.8,4129.8 L800.8,4129.9 L802.8,4130.0 L804.8,4130.1 L806.8,4130.2 L808.8,4130.3 L810.8,4130.4 L812.8,4130.5 L814.8,4130.6 L816.8,4130.7 L818.8,4130.8 L820.8,4130.9 L822.8,4131.0 L824.8,4131.1 L826.8,4131.2 L828.8,4131.2 L830.8,4131.3 L832.8,4131.3 L834.8,4131.4 L836.8,4131.4 L838.8,4131.4 L840.8,4131.4 L842.8,4131.4 L844.8,4131.4 L846.8,4131.3 L848.8,4131.3 L850.8,4131.2 L852.8,4131.1 L854.8,4130.9 L856.9,4130.8 L858.9,4130.6 L860.9,4130.4 L862.9,4130.2 L864.9,4129.9 L866.9,4129.6 L868.9,4129.3 L870.9,4128.9 L872.9,4128.5 L874.9,4128.0 L876.9,4127.5 L878.9,4126.9 L880.9,4126.3 L882.9,4125.6 L884.9,4124.8 L886.9,4124.0 L888.9,4123.1 L890.9,4122.1 L892.9,4121.1 L894.9,4119.9 L896.9,4118.7 L898.9,4117.4 L900.9,4115.9 L902.9,4114.4 L904.9,4112.8 L906.9,4111.1 L908.9,4109.3 L910.9,4107.5 L912.9,4105.5 L914.9,4103.4 L916.9,4101.2 L918.9,4098.8 L920.9,4096.4 L922.9,4093.9 L924.9,4091.2 L926.9,4088.4 L928.9,4085.5 L930.9,4082.5 L932.9,4079.3 L934.9,4076.1 L936.9,4072.7 L938.9,4069.2 L940.9,4065.6 L942.9,4061.8 L944.9,4058.0 L946.9,4054.0 L948.9,4049.9 L950.9,4045.7 L952.9,4041.4 L954.9,4037.1 L956.9,4032.6 L958.9,4028.1 L960.9,4023.5 L962.9,4018.8 L964.9,4014.1 L967.0,4009.3 L969.0,4004.4 L971.0,3999.5 L973.0,3994.6 L975.0,3989.6 L977.0,3984.6 L979.0,3979.5 L981.0,3974.5 L983.0,3969.4 L985.0,3964.4 L987.0,3959.4 L989.0,3954.4 L991.0,3949.5 L993.0,3944.7 L995.0,3939.9 L997.0,3935.3 L999.0,3930.7 L1001.0,3926.2 L1003.0,3921.9 L1005.0,3917.7 L1007.0,3913.7 L1009.0,3909.8 L1011.0,3906.1 L1013.0,3902.6 L1015.0,3899.2 L1017.0,3896.1 L1019.0,3893.1 L1021.0,3890.4 L1023.0,3887.9 L1025.0,3885.6 L1027.0,3883.6 L1029.0,3881.8 L1031.0,3880.3 L1033.0,3879.0 L1035.0,3878.0 L1037.0,3877.2 L1039.0,3876.7 L1041.0,3876.5 L1043.0,3876.5 L1045.0,3876.8 L1047.0,3877.3 L1049.0,3878.0 L1051.0,3878.9 L1053.0,3880.0 L1055.0,3881.3 L1057.0,3882.8 L1059.0,3884.5 L1061.0,3886.4 L1063.0,3888.5 L1065.0,3890.7 L1067.0,3893.2 L1069.0,3895.8 L1071.0,3898.6 L1073.0,3901.6 L1075.1,3904.7 L1077.1,3908.0 L1079.1,3911.5 L1081.1,3915.1 L1083.1,3918.8 L1085.1,3922.6 L1087.1,3926.6 L1089.1,3930.7 L1091.1,3934.9 L1093.1,3939.2 L1095.1,3943.5 L1097.1,3948.0 L1099.1,3952.5 L1101.1,3957.2 L1103.1,3961.8 L1105.1,3966.6 L1107.1,3971.3 L1109.1,3976.2 L1111.1,3981.0 L1113.1,3985.9 L1115.1,3990.8 L1117.1,3995.6 L1119.1,4000.5 L1121.1,4005.4 L1123.1,4010.3 L1125.1,4015.2 L1127.1,4020.0 L1129.1,4024.8 L1131.1,4029.6 L1133.1,4034.4 L1135.1,4039.0 L1137.1,4043.7 L1139.1,4048.3 L1141.1,4052.8 L1143.1,4057.2 L1145.1,4061.6 L1147.1,4065.9 L1149.1,4070.2 L1151.1,4074.3 L1153.1,4078.4 L1155.1,4082.4 L1157.1,4086.3 L1159.1,4090.1 L1161.1,4093.9 L1163.1,4097.5 L1165.1,4101.0 L1167.1,4104.5 L1169.1,4107.8 L1171.1,4111.1 L1173.1,4114.2 L1175.1,4117.3 L1177.1,4120.3 L1179.1,4123.1 L1181.1,4125.9 L1183.1,4128.6 L1185.2,4131.2 L1187.2,4133.6 L1189.2,4136.0 L1191.2,4138.4 L1193.2,4140.6 L1195.2,4142.7 L1197.2,4144.8 L1199.2,4146.8 L1201.2,4148.6 L1203.2,4150.5 L1205.2,4152.2 L1207.2,4153.9 L1209.2,4155.4 L1211.2,4157.0 L1213.2,4158.4 L1215.2,4159.8 L1217.2,4161.1 L1219.2,4162.3 L1221.2,4163.5 L1223.2,4164.6 L1225.2,4165.7 L1227.2,4166.7 L1229.2,4167.7 L1231.2,4168.6 L1233.2,4169.4 L1235.2,4170.2 L1237.2,4171.0 L1239.2,4171.7 L1241.2,4172.4 L1243.2,4173.0 L1245.2,4173.6 L1247.2,4174.2 L1249.2,4174.7 L1251.2,4175.2 L1253.2,4175.7 L1255.2,4176.1 L1257.2,4176.5 L1259.2,4176.9 L1261.2,4177.3 L1263.2,4177.6 L1265.2,4177.9 L1267.2,4178.2 L1269.2,4178.5 L1271.2,4178.7 L1273.2,4179.0 L1275.2,4179.2 L1277.2,4179.4 L1279.2,4179.6 L1281.2,4179.8 L1283.2,4179.9 L1285.2,4180.1 L1287.2,4180.2 L1289.2,4180.4 L1291.2,4180.5 L1293.3,4180.6 L1295.3,4180.7 L1297.3,4180.8 L1299.3,4180.9 L1301.3,4181.0 L1303.3,4181.1 L1305.3,4181.1 L1307.3,4181.2 L1309.3,4181.3 L1311.3,4181.3 L1313.3,4181.4 L1315.3,4181.4 L1317.3,4181.5 L1319.3,4181.5 L1321.3,4181.5 L1323.3,4181.6" stroke="#f8f030" stroke-opacity="0.8" stroke-width="5.0" fill="none" stroke-linejoin="round"/>
<path d="M962.9,4161.8 L964.9,4162.2 L967.0,4162.6 L969.0,4163.0 L971.0,4163.4 L973.0,4163.8 L975.0,4164.2 L977.0,4164.5 L979.0,4164.8 L981.0,4165.1 L983.0,4165.3 L985.0,4165.5 L987.0,4165.7 L989.0,4165.9 L991.0,4166.1 L993.0,4166.3 L995.0,4166.4 L997.0,4166.6 L999.0,4166.7 L1001.0,4166.8 L1003.0,4166.9 L1005.0,4167.0 L1007.0,4167.0 L1009.0,4167.1 L1011.0,4167.1 L1013.0,4167.1 L1015.0,4167.1 L1017.0,4167.1 L1019.0,4167.0 L1021.0,4166.9 L1023.0,4166.8 L1025.0,4166.7 L1027.0,4166.6 L1029.0,4166.4 L1031.0,4166.2 L1033.0,4166.0 L1035.0,4165.7 L1037.0,4165.4 L1039.0,4165.1 L1041.0,4164.8 L1043.0,4164.5 L1045.0,4164.1 L1047.0,4163.7 L1049.0,4163.2 L1051.0,4162.8 L1053.0,4162.3 L1055.0,4161.7 L1057.0,4161.2 L1059.0,4160.6 L1061.0,4160.0 L1063.0,4159.4 L1065.0,4158.7 L1067.0,4158.0 L1069.0,4157.3 L1071.0,4156.6 L1073.0,4155.8 L1075.1,4155.0 L1077.1,4154.2 L1079.1,4153.4 L1081.1,4152.5 L1083.1,4151.7 L1085.1,4150.8 L1087.1,4149.9 L1089.1,4149.0 L1091.1,4148.1 L1093.1,4147.2 L1095.1,4146.2 L1097.1,4145.3 L1099.1,4144.4 L1101.1,4143.4 L1103.1,4142.5 L1105.1,4141.6 L1107.1,4140.7 L1109.1,4139.8 L1111.1,4138.9 L1113.1,4138.0 L1115.1,4137.2 L1117.1,4136.3 L1119.1,4135.5 L1121.1,4134.7 L1123.1,4134.0 L1125.1,4133.3 L1127.1,4132.6 L1129.1,4132.0 L1131.1,4131.4 L1133.1,4130.8 L1135.1,4130.3 L1137.1,4129.8 L1139.1,4129.4 L1141.1,4129.0 L1143.1,4128.7 L1145.1,4128.4 L1147.1,4128.2 L1149.1,4128.1 L1151.1,4127.9 L1153.1,4127.9 L1155.1,4127.9 L1157.1,4127.9 L1159.1,4128.1 L1161.1,4128.2 L1163.1,4128.4 L1165.1,4128.7 L1167.1,4129.0 L1169.1,4129.4 L1171.1,4129.9 L1173.1,4130.3 L1175.1,4130.9 L1177.1,4131.4 L1179.1,4132.1 L1181.1,4132.7 L1183.1,4133.4 L1185.2,4134.2 L1187.2,4135.0 L1189.2,4135.8 L1191.2,4136.7 L1193.2,4137.6 L1195.2,4138.5 L1197.2,4139.5 L1199.2,4140.4 L1201.2,4141.4 L1203.2,4142.5 L1205.2,4143.5 L1207.2,4144.6 L1209.2,4145.6 L1211.2,4146.7 L1213.2,4147.8 L1215.2,4148.8 L1217.2,4149.9 L1219.2,4151.0 L1221.2,4152.1 L1223.2,4153.1 L1225.2,4154.2 L1227.2,4155.3 L1229.2,4156.3 L1231.2,4157.3 L1233.2,4158.3 L1235.2,4159.3 L1237.2,4160.3 L1239.2,4161.3 L1241.2,4162.2 L1243.2,4163.1 L1245.2,4164.0 L1247.2,4164.8 L1249.2,4165.7 L1251.2,4166.5 L1253.2,4167.3 L1255.2,4168.0 L1257.2,4168.8 L1259.2,4169.5 L1261.2,4170.2 L1263.2,4170.8 L1265.2,4171.5 L1267.2,4172.1 L1269.2,4172.7 L1271.2,4173.2 L1273.2,4173.7 L1275.2,4174.3 L1277.2,4174.7 L1279.2,4175.2 L1281.2,4175.6 L1283.2,4176.1 L1285.2,4176.5 L1287.2,4176.8 L1289.2,4177.2 L1291.2,4177.5 L1293.3,4177.8 L1295.3,4178.1 L1297.3,4178.4 L1299.3,4178.7 L1301.3,4178.9 L1303.3,4179.1 L1305.3,4179.4 L1307.3,4179.6 L1309.3,4179.7 L1311.3,4179.9 L1313.3,4180.1 L1315.3,4180.2 L1317.3,4180.4 L1319.3,4180.5 L1321.3,4180.6 L1323.3,4180.8 L1325.3,4180.9 L1327.3,4181.0 L1329.3,4181.0 L1331.3,4181.1 L1333.3,4181.2 L1335.3,4181.3 L1337.3,4181.3 L1339.3,4181.4 L1341.3,4181.5 L1343.3,4181.5 L1345.3,4181.6 L1347.3,4181.6 L1349.3,4181.6 L1351.3,4181.7 L1351.3,4181.9 L1349.3,4181.9 L1347.3,4181.9 L1345.3,4181.9 L1343.3,4181.9 L1341.3,4181.9 L1339.3,4181.9 L1337.3,4181.9 L1335.3,4181.9 L1333.3,4181.9 L1331.3,4181.9 L1329.3,4181.9 L1327.3,4181.9 L1325.3,4181.9 L1323.3,4181.9 L1321.3,4181.9 L1319.3,4181.8 L1317.3,4181.8 L1315.3,4181.8 L1313.3,4181.8 L1311.3,4181.8 L1309.3,4181.8 L1307.3,4181.8 L1305.3,4181.8 L1303.3,4181.8 L1301.3,4181.8 L1299.3,4181.8 L1297.3,4181.8 L1295.3,4181.7 L1293.3,4181.7 L1291.2,4181.7 L1289.2,4181.7 L1287.2,4181.7 L1285.2,4181.7 L1283.2,4181.7 L1281.2,4181.7 L1279.2,4181.7 L1277.2,4181.7 L1275.2,4181.6 L1273.2,4181.6 L1271.2,4181.6 L1269.2,4181.6 L1267.2,4181.6 L1265.2,4181.6 L1263.2,4181.6 L1261.2,4181.6 L1259.2,4181.6 L1257.2,4181.5 L1255.2,4181.5 L1253.2,4181.5 L1251.2,4181.5 L1249.2,4181.5 L1247.2,4181.5 L1245.2,4181.5 L1243.2,4181.4 L1241.2,4181.4 L1239.2,4181.4 L1237.2,4181.4 L1235.2,4181.4 L1233.2,4181.3 L1231.2,4181.3 L1229.2,4181.3 L1227.2,4181.2 L1225.2,4181.2 L1223.2,4181.2 L1221.2,4181.1 L1219.2,4181.1 L1217.2,4181.1 L1215.2,4181.0 L1213.2,4181.0 L1211.2,4180.9 L1209.2,4180.9 L1207.2,4180.9 L1205.2,4180.8 L1203.2,4180.8 L1201.2,4180.7 L1199.2,4180.7 L1197.2,4180.6 L1195.2,4180.6 L1193.2,4180.5 L1191.2,4180.5 L1189.2,4180.4 L1187.2,4180.4 L1185.2,4180.3 L1183.1,4180.3 L1181.1,4180.2 L1179.1,4180.2 L1177.1,4180.1 L1175.1,4180.1 L1173.1,4180.0 L1171.1,4179.9 L1169.1,4179.9 L1167.1,4179.8 L1165.1,4179.7 L1163.1,4179.7 L1161.1,4179.6 L1159.1,4179.5 L1157.1,4179.4 L1155.1,4179.4 L1153.1,4179.3 L1151.1,4179.2 L1149.1,4179.1 L1147.1,4179.0 L1145.1,4178.9 L1143.1,4178.8 L1141.1,4178.8 L1139.1,4178.7 L1137.1,4178.6 L1135.1,4178.5 L1133.1,4178.4 L1131.1,4178.3 L1129.1,4178.2 L1127.1,4178.1 L1125.1,4178.0 L1123.1,4177.9 L1121.1,4177.8 L1119.1,4177.7 L1117.1,4177.6 L1115.1,4177.5 L1113.1,4177.4 L1111.1,4177.3 L1109.1,4177.2 L1107.1,4177.1 L1105.1,4177.0 L1103.1,4176.9 L1101.1,4176.8 L1099.1,4176.7 L1097.1,4176.6 L1095.1,4176.5 L1093.1,4176.4 L1091.1,4176.2 L1089.1,4176.1 L1087.1,4176.0 L1085.1,4175.9 L1083.1,4175.8 L1081.1,4175.7 L1079.1,4175.5 L1077.1,4175.4 L1075.1,4175.3 L1073.0,4175.1 L1071.0,4175.0 L1069.0,4174.9 L1067.0,4174.8 L1065.0,4174.6 L1063.0,4174.5 L1061.0,4174.3 L1059.0,4174.2 L1057.0,4174.0 L1055.0,4173.9 L1053.0,4173.7 L1051.0,4173.6 L1049.0,4173.4 L1047.0,4173.3 L1045.0,4173.1 L1043.0,4172.9 L1041.0,4172.8 L1039.0,4172.6 L1037.0,4172.4 L1035.0,4172.2 L1033.0,4172.0 L1031.0,4171.9 L1029.0,4171.7 L1027.0,4171.5 L1025.0,4171.3 L1023.0,4171.1 L1021.0,4170.9 L1019.0,4170.7 L1017.0,4170.4 L1015.0,4170.2 L1013.0,4170.0 L1011.0,4169.8 L1009.0,4169.5 L1007.0,4169.3 L1005.0,4169.1 L1003.0,4168.8 L1001.0,4168.6 L999.0,4168.3 L997.0,4168.1 L995.0,4167.8 L993.0,4167.5 L991.0,4167.2 L989.0,4167.0 L987.0,4166.7 L985.0,4166.4 L983.0,4166.1 L981.0,4165.8 L979.0,4165.4 L977.0,4165.1 L975.0,4164.7 L973.0,4164.3 L971.0,4163.8 L969.0,4163.4 L967.0,4163.0 L964.9,4162.5 L962.9,4162.0Z" fill="url(#ge4)"/><path d="M962.9,4161.8 L964.9,4162.2 L967.0,4162.6 L969.0,4163.0 L971.0,4163.4 L973.0,4163.8 L975.0,4164.2 L977.0,4164.5 L979.0,4164.8 L981.0,4165.1 L983.0,4165.3 L985.0,4165.5 L987.0,4165.7 L989.0,4165.9 L991.0,4166.1 L993.0,4166.3 L995.0,4166.4 L997.0,4166.6 L999.0,4166.7 L1001.0,4166.8 L1003.0,4166.9 L1005.0,4167.0 L1007.0,4167.0 L1009.0,4167.1 L1011.0,4167.1 L1013.0,4167.1 L1015.0,4167.1 L1017.0,4167.1 L1019.0,4167.0 L1021.0,4166.9 L1023.0,4166.8 L1025.0,4166.7 L1027.0,4166.6 L1029.0,4166.4 L1031.0,4166.2 L1033.0,4166.0 L1035.0,4165.7 L1037.0,4165.4 L1039.0,4165.1 L1041.0,4164.8 L1043.0,4164.5 L1045.0,4164.1 L1047.0,4163.7 L1049.0,4163.2 L1051.0,4162.8 L1053.0,4162.3 L1055.0,4161.7 L1057.0,4161.2 L1059.0,4160.6 L1061.0,4160.0 L1063.0,4159.4 L1065.0,4158.7 L1067.0,4158.0 L1069.0,4157.3 L1071.0,4156.6 L1073.0,4155.8 L1075.1,4155.0 L1077.1,4154.2 L1079.1,4153.4 L1081.1,4152.5 L1083.1,4151.7 L1085.1,4150.8 L1087.1,4149.9 L1089.1,4149.0 L1091.1,4148.1 L1093.1,4147.2 L1095.1,4146.2 L1097.1,4145.3 L1099.1,4144.4 L1101.1,4143.4 L1103.1,4142.5 L1105.1,4141.6 L1107.1,4140.7 L1109.1,4139.8 L1111.1,4138.9 L1113.1,4138.0 L1115.1,4137.2 L1117.1,4136.3 L1119.1,4135.5 L1121.1,4134.7 L1123.1,4134.0 L1125.1,4133.3 L1127.1,4132.6 L1129.1,4132.0 L1131.1,4131.4 L1133.1,4130.8 L1135.1,4130.3 L1137.1,4129.8 L1139.1,4129.4 L1141.1,4129.0 L1143.1,4128.7 L1145.1,4128.4 L1147.1,4128.2 L1149.1,4128.1 L1151.1,4127.9 L1153.1,4127.9 L1155.1,4127.9 L1157.1,4127.9 L1159.1,4128.1 L1161.1,4128.2 L1163.1,4128.4 L1165.1,4128.7 L1167.1,4129.0 L1169.1,4129.4 L1171.1,4129.9 L1173.1,4130.3 L1175.1,4130.9 L1177.1,4131.4 L1179.1,4132.1 L1181.1,4132.7 L1183.1,4133.4 L1185.2,4134.2 L1187.2,4135.0 L1189.2,4135.8 L1191.2,4136.7 L1193.2,4137.6 L1195.2,4138.5 L1197.2,4139.5 L1199.2,4140.4 L1201.2,4141.4 L1203.2,4142.5 L1205.2,4143.5 L1207.2,4144.6 L1209.2,4145.6 L1211.2,4146.7 L1213.2,4147.8 L1215.2,4148.8 L1217.2,4149.9 L1219.2,4151.0 L1221.2,4152.1 L1223.2,4153.1 L1225.2,4154.2 L1227.2,4155.3 L1229.2,4156.3 L1231.2,4157.3 L1233.2,4158.3 L1235.2,4159.3 L1237.2,4160.3 L1239.2,4161.3 L1241.2,4162.2 L1243.2,4163.1 L1245.2,4164.0 L1247.2,4164.8 L1249.2,4165.7 L1251.2,4166.5 L1253.2,4167.3 L1255.2,4168.0 L1257.2,4168.8 L1259.2,4169.5 L1261.2,4170.2 L1263.2,4170.8 L1265.2,4171.5 L1267.2,4172.1 L1269.2,4172.7 L1271.2,4173.2 L1273.2,4173.7 L1275.2,4174.3 L1277.2,4174.7 L1279.2,4175.2 L1281.2,4175.6 L1283.2,4176.1 L1285.2,4176.5 L1287.2,4176.8 L1289.2,4177.2 L1291.2,4177.5 L1293.3,4177.8 L1295.3,4178.1 L1297.3,4178.4 L1299.3,4178.7 L1301.3,4178.9 L1303.3,4179.1 L1305.3,4179.4 L1307.3,4179.6 L1309.3,4179.7 L1311.3,4179.9 L1313.3,4180.1 L1315.3,4180.2 L1317.3,4180.4 L1319.3,4180.5 L1321.3,4180.6 L1323.3,4180.8 L1325.3,4180.9 L1327.3,4181.0 L1329.3,4181.0 L1331.3,4181.1 L1333.3,4181.2 L1335.3,4181.3 L1337.3,4181.3 L1339.3,4181.4 L1341.3,4181.5 L1343.3,4181.5 L1345.3,4181.6 L1347.3,4181.6 L1349.3,4181.6 L1351.3,4181.7" stroke="#10e060" stroke-opacity="0.95" stroke-width="5.0" fill="none" stroke-linejoin="round"/>
<path d="M146.2,4123.4 L148.2,4123.4 L150.2,4123.4 L152.2,4123.4 L154.2,4123.4 L156.2,4123.4 L158.2,4123.4 L160.2,4123.4 L162.2,4123.4 L164.2,4123.4 L166.2,4123.4 L168.2,4123.4 L170.2,4123.4 L172.2,4123.4 L174.2,4123.4 L176.2,4123.4 L178.2,4123.4 L180.2,4123.4 L182.2,4123.4 L184.2,4123.4 L186.2,4123.4 L188.2,4123.4 L190.2,4123.4 L192.2,4123.4 L194.2,4123.4 L196.2,4123.4 L198.2,4123.4 L200.2,4123.4 L202.3,4123.4 L204.3,4123.4 L206.3,4123.4 L208.3,4123.4 L210.3,4123.4 L212.3,4123.4 L214.3,4123.3 L216.3,4123.3 L218.3,4123.3 L220.3,4123.3 L222.3,4123.3 L224.3,4123.3 L226.3,4123.3 L228.3,4123.3 L230.3,4123.3 L232.3,4123.3 L234.3,4123.3 L236.3,4123.3 L238.3,4123.3 L240.3,4123.3 L242.3,4123.3 L244.3,4123.3 L246.3,4123.3 L248.3,4123.3 L250.3,4123.3 L252.3,4123.3 L254.3,4123.3 L256.3,4123.3 L258.3,4123.3 L260.3,4123.3 L262.3,4123.3 L264.3,4123.3 L266.3,4123.3 L268.3,4123.3 L270.3,4123.3 L272.3,4123.3 L274.3,4123.3 L276.3,4123.3 L278.3,4123.3 L280.3,4123.3 L282.3,4123.3 L284.3,4123.3 L286.3,4123.3 L288.3,4123.3 L290.3,4123.3 L292.3,4123.3 L294.3,4123.3 L296.3,4123.3 L298.3,4123.3 L300.3,4123.3 L302.3,4123.3 L304.3,4123.3 L306.3,4123.3 L308.3,4123.3 L310.4,4123.3 L312.4,4123.3 L314.4,4123.3 L316.4,4123.3 L318.4,4123.3 L320.4,4123.3 L322.4,4123.2 L324.4,4123.2 L326.4,4123.2 L328.4,4123.2 L330.4,4123.2 L332.4,4123.2 L334.4,4123.2 L336.4,4123.2 L338.4,4123.2 L340.4,4123.2 L342.4,4123.2 L344.4,4123.2 L346.4,4123.2 L348.4,4123.2 L350.4,4123.2 L352.4,4123.2 L354.4,4123.2 L356.4,4123.2 L358.4,4123.2 L360.4,4123.2 L362.4,4123.2 L364.4,4123.2 L366.4,4123.2 L368.4,4123.2 L370.4,4123.2 L372.4,4123.2 L374.4,4123.2 L376.4,4123.2 L378.4,4123.2 L380.4,4123.2 L382.4,4123.2 L384.4,4123.2 L386.4,4123.2 L388.4,4123.2 L390.4,4123.2 L392.4,4123.2 L394.4,4123.1 L396.4,4123.1 L398.4,4123.1 L400.4,4123.1 L402.4,4123.1 L404.4,4123.1 L406.4,4123.1 L408.4,4123.1 L410.4,4123.1 L412.4,4123.1 L414.4,4123.1 L416.4,4123.1 L418.4,4123.1 L420.5,4123.1 L422.5,4123.1 L424.5,4123.1 L426.5,4123.1 L428.5,4123.1 L430.5,4123.1 L432.5,4123.1 L434.5,4123.1 L436.5,4123.1 L438.5,4123.1 L440.5,4123.1 L442.5,4123.1 L444.5,4123.1 L446.5,4123.1 L448.5,4123.1 L450.5,4123.0 L452.5,4123.0 L454.5,4123.0 L456.5,4123.0 L458.5,4123.0 L460.5,4123.0 L462.5,4123.0 L464.5,4123.0 L466.5,4123.0 L468.5,4123.0 L470.5,4123.0 L472.5,4123.0 L474.5,4123.0 L476.5,4123.0 L478.5,4123.0 L480.5,4123.0 L482.5,4123.0 L484.5,4123.0 L486.5,4123.0 L488.5,4123.0 L490.5,4123.0 L492.5,4123.0 L494.5,4123.0 L496.5,4123.0 L498.5,4123.0 L500.5,4123.0 L502.5,4123.0 L504.5,4122.9 L506.5,4122.9 L508.5,4122.9 L510.5,4122.9 L512.5,4122.9 L514.5,4122.9 L516.5,4122.9 L518.5,4122.9 L520.5,4122.9 L522.5,4122.9 L524.5,4122.9 L526.5,4122.9 L528.6,4122.9 L530.6,4122.9 L532.6,4122.9 L534.6,4122.8 L536.6,4122.8 L538.6,4122.8 L540.6,4122.8 L542.6,4122.8 L544.6,4122.8 L546.6,4122.8 L548.6,4122.8 L550.6,4122.7 L552.6,4122.7 L554.6,4122.7 L556.6,4122.7 L558.6,4122.7 L560.6,4122.6 L562.6,4122.6 L564.6,4122.6 L566.6,4122.6 L568.6,4122.5 L570.6,4122.5 L572.6,4122.5 L574.6,4122.5 L576.6,4122.4 L578.6,4122.4 L580.6,4122.4 L582.6,4122.3 L584.6,4122.3 L586.6,4122.2 L588.6,4122.2 L590.6,4122.1 L592.6,4122.1 L594.6,4122.0 L596.6,4122.0 L598.6,4121.9 L600.6,4121.8 L602.6,4121.7 L604.6,4121.6 L606.6,4121.6 L608.6,4121.5 L610.6,4121.3 L612.6,4121.2 L614.6,4121.1 L616.6,4121.0 L618.6,4120.8 L620.6,4120.7 L622.6,4120.5 L624.6,4120.3 L626.6,4120.1 L628.6,4119.9 L630.6,4119.7 L632.6,4119.4 L634.6,4119.2 L636.6,4118.9 L638.7,4118.6 L640.7,4118.3 L642.7,4117.9 L644.7,4117.6 L646.7,4117.2 L648.7,4116.8 L650.7,4116.4 L652.7,4115.9 L654.7,4115.4 L656.7,4114.9 L658.7,4114.4 L660.7,4113.8 L662.7,4113.2 L664.7,4112.6 L666.7,4111.9 L668.7,4111.2 L670.7,4110.4 L672.7,4109.6 L674.7,4108.8 L676.7,4107.9 L678.7,4107.0 L680.7,4106.0 L682.7,4105.0 L684.7,4104.0 L686.7,4102.8 L688.7,4101.7 L690.7,4100.4 L692.7,4099.1 L694.7,4097.8 L696.7,4096.4 L698.7,4094.9 L700.7,4093.4 L702.7,4091.8 L704.7,4090.1 L706.7,4088.4 L708.7,4086.5 L710.7,4084.7 L712.7,4082.7 L714.7,4080.7 L716.7,4078.5 L718.7,4076.3 L720.7,4074.0 L722.7,4071.7 L724.7,4069.2 L726.7,4066.7 L728.7,4064.1 L730.7,4061.3 L732.7,4058.5 L734.7,4055.7 L736.7,4052.7 L738.7,4049.6 L740.7,4046.4 L742.7,4043.2 L744.7,4039.8 L746.8,4036.4 L748.8,4032.8 L750.8,4029.2 L752.8,4025.5 L754.8,4021.6 L756.8,4017.7 L758.8,4013.7 L760.8,4009.6 L762.8,4005.5 L764.8,4001.2 L766.8,3996.8 L768.8,3992.4 L770.8,3987.9 L772.8,3983.3 L774.8,3978.6 L776.8,3973.9 L778.8,3969.0 L780.8,3964.1 L782.8,3959.2 L784.8,3954.2 L786.8,3949.1 L788.8,3944.0 L790.8,3938.8 L792.8,3933.6 L794.8,3928.3 L796.8,3923.0 L798.8,3917.6 L800.8,3912.3 L802.8,3906.9 L804.8,3901.5 L806.8,3896.1 L808.8,3890.7 L810.8,3885.3 L812.8,3879.9 L814.8,3874.6 L816.8,3869.2 L818.8,3863.9 L820.8,3858.6 L822.8,3853.4 L824.8,3848.2 L826.8,3843.1 L828.8,3838.0 L830.8,3833.0 L832.8,3828.1 L834.8,3823.3 L836.8,3818.5 L838.8,3813.9 L840.8,3809.3 L842.8,3804.9 L844.8,3800.5 L846.8,3796.3 L848.8,3792.3 L850.8,3788.3 L852.8,3784.5 L854.8,3780.9 L856.9,3777.4 L858.9,3774.1 L860.9,3771.0 L862.9,3768.1 L864.9,3765.3 L866.9,3762.7 L868.9,3760.3 L870.9,3758.1 L872.9,3756.1 L874.9,3754.3 L876.9,3752.7 L878.9,3751.3 L880.9,3750.2 L882.9,3749.2 L884.9,3748.4 L886.9,3747.9 L888.9,3747.6 L890.9,3747.5 L892.9,3747.6 L894.9,3747.9 L896.9,3748.4 L898.9,3749.1 L900.9,3749.9 L902.9,3750.9 L904.9,3752.0 L906.9,3753.4 L908.9,3754.8 L910.9,3756.5 L912.9,3758.3 L914.9,3760.3 L916.9,3762.4 L918.9,3764.6 L920.9,3767.1 L922.9,3769.6 L924.9,3772.3 L926.9,3775.2 L928.9,3778.2 L930.9,3781.3 L932.9,3784.5 L934.9,3787.9 L936.9,3791.4 L938.9,3795.0 L940.9,3798.7 L942.9,3802.5 L944.9,3806.5 L946.9,3810.5 L948.9,3814.6 L950.9,3818.9 L952.9,3823.2 L954.9,3827.6 L956.9,3832.1 L958.9,3836.7 L960.9,3841.3 L962.9,3846.1 L964.9,3850.9 L967.0,3855.7 L969.0,3860.6 L971.0,3865.6 L973.0,3870.6 L975.0,3875.6 L977.0,3880.6 L979.0,3885.7 L981.0,3890.7 L983.0,3895.8 L985.0,3900.8 L987.0,3905.9 L989.0,3911.0 L991.0,3916.1 L993.0,3921.2 L995.0,3926.3 L997.0,3931.4 L999.0,3936.5 L1001.0,3941.6 L1003.0,3946.7 L1005.0,3951.7 L1007.0,3956.7 L1009.0,3961.7 L1011.0,3966.7 L1013.0,3971.6 L1015.0,3976.5 L1017.0,3981.3 L1019.0,3986.2 L1021.0,3990.9 L1023.0,3995.7 L1025.0,4000.3 L1027.0,4005.0 L1029.0,4009.5 L1031.0,4014.0 L1033.0,4018.5 L1035.0,4022.9 L1037.0,4027.2 L1039.0,4031.5 L1041.0,4035.7 L1043.0,4039.9 L1045.0,4043.9 L1047.0,4047.9 L1049.0,4051.9 L1051.0,4055.8 L1053.0,4059.6 L1055.0,4063.3 L1057.0,4066.9 L1059.0,4070.5 L1061.0,4074.0 L1063.0,4077.5 L1065.0,4080.9 L1067.0,4084.1 L1069.0,4087.4 L1071.0,4090.5 L1073.0,4093.6 L1075.1,4096.6 L1077.1,4099.5 L1079.1,4102.4 L1081.1,4105.2 L1083.1,4107.9 L1085.1,4110.5 L1087.1,4113.1 L1089.1,4115.6 L1091.1,4118.0 L1093.1,4120.4 L1095.1,4122.7 L1097.1,4124.9 L1099.1,4127.1 L1101.1,4129.2 L1103.1,4131.2 L1105.1,4133.2 L1107.1,4135.1 L1109.1,4137.0 L1111.1,4138.8 L1113.1,4140.5 L1115.1,4142.2 L1117.1,4143.8 L1119.1,4145.4 L1121.1,4146.9 L1123.1,4148.4 L1125.1,4149.8 L1127.1,4151.2 L1129.1,4152.5 L1131.1,4153.8 L1133.1,4155.0 L1135.1,4156.2 L1137.1,4157.3 L1139.1,4158.4 L1141.1,4159.5 L1143.1,4160.5 L1145.1,4161.5 L1147.1,4162.4 L1149.1,4163.4 L1151.1,4164.2 L1153.1,4165.1 L1155.1,4165.9 L1157.1,4166.6 L1159.1,4167.4 L1161.1,4168.1 L1163.1,4168.7 L1165.1,4169.4 L1167.1,4170.0 L1169.1,4170.6 L1171.1,4171.2 L1173.1,4171.7 L1175.1,4172.2 L1177.1,4172.7 L1179.1,4173.2 L1181.1,4173.6 L1183.1,4174.0 L1185.2,4174.4 L1187.2,4174.8 L1189.2,4175.2 L1191.2,4175.5 L1193.2,4175.9 L1195.2,4176.2 L1197.2,4176.5 L1199.2,4176.8 L1201.2,4177.1 L1203.2,4177.3 L1205.2,4177.6 L1207.2,4177.8 L1209.2,4178.0 L1211.2,4178.3 L1213.2,4178.5 L1215.2,4178.7 L1217.2,4178.8 L1219.2,4179.0 L1221.2,4179.2 L1223.2,4179.4 L1225.2,4179.5 L1227.2,4179.6 L1229.2,4179.8 L1231.2,4179.9 L1233.2,4180.0 L1235.2,4180.1 L1237.2,4180.2 L1239.2,4180.3 L1241.2,4180.4 L1243.2,4180.5 L1245.2,4180.6 L1247.2,4180.7 L1249.2,4180.7 L1251.2,4180.8 L1253.2,4180.9 L1255.2,4180.9 L1257.2,4181.0 L1259.2,4181.0 L1261.2,4181.1 L1263.2,4181.1 L1265.2,4181.2 L1267.2,4181.2 L1269.2,4181.3 L1271.2,4181.3 L1273.2,4181.3 L1275.2,4181.4 L1275.2,4181.6 L1273.2,4181.6 L1271.2,4181.6 L1269.2,4181.6 L1267.2,4181.6 L1265.2,4181.6 L1263.2,4181.6 L1261.2,4181.6 L1259.2,4181.6 L1257.2,4181.5 L1255.2,4181.5 L1253.2,4181.5 L1251.2,4181.5 L1249.2,4181.5 L1247.2,4181.5 L1245.2,4181.5 L1243.2,4181.4 L1241.2,4181.4 L1239.2,4181.4 L1237.2,4181.4 L1235.2,4181.4 L1233.2,4181.3 L1231.2,4181.3 L1229.2,4181.3 L1227.2,4181.2 L1225.2,4181.2 L1223.2,4181.2 L1221.2,4181.1 L1219.2,4181.1 L1217.2,4181.1 L1215.2,4181.0 L1213.2,4181.0 L1211.2,4180.9 L1209.2,4180.9 L1207.2,4180.9 L1205.2,4180.8 L1203.2,4180.8 L1201.2,4180.7 L1199.2,4180.7 L1197.2,4180.6 L1195.2,4180.6 L1193.2,4180.5 L1191.2,4180.5 L1189.2,4180.4 L1187.2,4180.4 L1185.2,4180.3 L1183.1,4180.3 L1181.1,4180.2 L1179.1,4180.2 L1177.1,4180.1 L1175.1,4180.1 L1173.1,4180.0 L1171.1,4179.9 L1169.1,4179.9 L1167.1,4179.8 L1165.1,4179.7 L1163.1,4179.7 L1161.1,4179.6 L1159.1,4179.5 L1157.1,4179.4 L1155.1,4179.4 L1153.1,4179.3 L1151.1,4179.2 L1149.1,4179.1 L1147.1,4179.0 L1145.1,4178.9 L1143.1,4178.8 L1141.1,4178.8 L1139.1,4178.7 L1137.1,4178.6 L1135.1,4178.5 L1133.1,4178.4 L1131.1,4178.3 L1129.1,4178.2 L1127.1,4178.1 L1125.1,4178.0 L1123.1,4177.9 L1121.1,4177.8 L1119.1,4177.7 L1117.1,4177.6 L1115.1,4177.5 L1113.1,4177.4 L1111.1,4177.3 L1109.1,4177.2 L1107.1,4177.1 L1105.1,4177.0 L1103.1,4176.9 L1101.1,4176.8 L1099.1,4176.7 L1097.1,4176.6 L1095.1,4176.5 L1093.1,4176.4 L1091.1,4176.2 L1089.1,4176.1 L1087.1,4176.0 L1085.1,4175.9 L1083.1,4175.8 L1081.1,4175.7 L1079.1,4175.5 L1077.1,4175.4 L1075.1,4175.3 L1073.0,4175.1 L1071.0,4175.0 L1069.0,4174.9 L1067.0,4174.8 L1065.0,4174.6 L1063.0,4174.5 L1061.0,4174.3 L1059.0,4174.2 L1057.0,4174.0 L1055.0,4173.9 L1053.0,4173.7 L1051.0,4173.6 L1049.0,4173.4 L1047.0,4173.3 L1045.0,4173.1 L1043.0,4172.9 L1041.0,4172.8 L1039.0,4172.6 L1037.0,4172.4 L1035.0,4172.2 L1033.0,4172.0 L1031.0,4171.9 L1029.0,4171.7 L1027.0,4171.5 L1025.0,4171.3 L1023.0,4171.1 L1021.0,4170.9 L1019.0,4170.7 L1017.0,4170.4 L1015.0,4170.2 L1013.0,4170.0 L1011.0,4169.8 L1009.0,4169.5 L1007.0,4169.3 L1005.0,4169.1 L1003.0,4168.8 L1001.0,4168.6 L999.0,4168.3 L997.0,4168.1 L995.0,4167.8 L993.0,4167.5 L991.0,4167.2 L989.0,4167.0 L987.0,4166.7 L985.0,4166.4 L983.0,4166.1 L981.0,4165.8 L979.0,4165.4 L977.0,4165.1 L975.0,4164.7 L973.0,4164.3 L971.0,4163.8 L969.0,4163.4 L967.0,4163.0 L964.9,4162.5 L962.9,4162.0 L960.9,4161.6 L958.9,4161.1 L956.9,4160.6 L954.9,4160.1 L952.9,4159.7 L950.9,4159.2 L948.9,4158.8 L946.9,4158.3 L944.9,4157.8 L942.9,4157.4 L940.9,4156.9 L938.9,4156.4 L936.9,4155.9 L934.9,4155.4 L932.9,4154.9 L930.9,4154.4 L928.9,4153.9 L926.9,4153.4 L924.9,4152.9 L922.9,4152.4 L920.9,4151.9 L918.9,4151.4 L916.9,4150.9 L914.9,4150.5 L912.9,4150.0 L910.9,4149.5 L908.9,4149.0 L906.9,4148.5 L904.9,4148.1 L902.9,4147.6 L900.9,4147.2 L898.9,4146.8 L896.9,4146.3 L894.9,4145.9 L892.9,4145.4 L890.9,4145.0 L888.9,4144.6 L886.9,4144.1 L884.9,4143.7 L882.9,4143.3 L880.9,4142.8 L878.9,4142.4 L876.9,4142.0 L874.9,4141.6 L872.9,4141.1 L870.9,4140.7 L868.9,4140.3 L866.9,4140.0 L864.9,4139.6 L862.9,4139.2 L860.9,4138.8 L858.9,4138.5 L856.9,4138.2 L854.8,4137.8 L852.8,4137.5 L850.8,4137.2 L848.8,4136.9 L846.8,4136.7 L844.8,4136.4 L842.8,4136.1 L840.8,4135.8 L838.8,4135.6 L836.8,4135.3 L834.8,4135.0 L832.8,4134.8 L830.8,4134.5 L828.8,4134.3 L826.8,4134.1 L824.8,4133.8 L822.8,4133.6 L820.8,4133.4 L818.8,4133.2 L816.8,4133.0 L814.8,4132.8 L812.8,4132.6 L810.8,4132.4 L808.8,4132.2 L806.8,4132.0 L804.8,4131.9 L802.8,4131.7 L800.8,4131.6 L798.8,4131.4 L796.8,4131.3 L794.8,4131.1 L792.8,4131.0 L790.8,4130.9 L788.8,4130.7 L786.8,4130.6 L784.8,4130.5 L782.8,4130.3 L780.8,4130.2 L778.8,4130.1 L776.8,4130.0 L774.8,4129.9 L772.8,4129.8 L770.8,4129.6 L768.8,4129.5 L766.8,4129.4 L764.8,4129.3 L762.8,4129.2 L760.8,4129.1 L758.8,4129.0 L756.8,4128.9 L754.8,4128.8 L752.8,4128.7 L750.8,4128.6 L748.8,4128.5 L746.8,4128.5 L744.7,4128.4 L742.7,4128.3 L740.7,4128.2 L738.7,4128.1 L736.7,4128.0 L734.7,4128.0 L732.7,4127.9 L730.7,4127.8 L728.7,4127.7 L726.7,4127.6 L724.7,4127.6 L722.7,4127.5 L720.7,4127.4 L718.7,4127.4 L716.7,4127.3 L714.7,4127.2 L712.7,4127.1 L710.7,4127.1 L708.7,4127.0 L706.7,4127.0 L704.7,4126.9 L702.7,4126.8 L700.7,4126.8 L698.7,4126.7 L696.7,4126.6 L694.7,4126.6 L692.7,4126.5 L690.7,4126.5 L688.7,4126.4 L686.7,4126.4 L684.7,4126.3 L682.7,4126.2 L680.7,4126.2 L678.7,4126.1 L676.7,4126.1 L674.7,4126.0 L672.7,4126.0 L670.7,4125.9 L668.7,4125.9 L666.7,4125.9 L664.7,4125.8 L662.7,4125.8 L660.7,4125.7 L658.7,4125.7 L656.7,4125.6 L654.7,4125.6 L652.7,4125.6 L650.7,4125.5 L648.7,4125.5 L646.7,4125.4 L644.7,4125.4 L642.7,4125.4 L640.7,4125.3 L638.7,4125.3 L636.6,4125.2 L634.6,4125.2 L632.6,4125.2 L630.6,4125.1 L628.6,4125.1 L626.6,4125.1 L624.6,4125.0 L622.6,4125.0 L620.6,4125.0 L618.6,4124.9 L616.6,4124.9 L614.6,4124.8 L612.6,4124.8 L610.6,4124.8 L608.6,4124.7 L606.6,4124.7 L604.6,4124.7 L602.6,4124.6 L600.6,4124.6 L598.6,4124.6 L596.6,4124.6 L594.6,4124.5 L592.6,4124.5 L590.6,4124.5 L588.6,4124.5 L586.6,4124.4 L584.6,4124.4 L582.6,4124.4 L580.6,4124.4 L578.6,4124.3 L576.6,4124.3 L574.6,4124.3 L572.6,4124.3 L570.6,4124.3 L568.6,4124.3 L566.6,4124.2 L564.6,4124.2 L562.6,4124.2 L560.6,4124.2 L558.6,4124.2 L556.6,4124.2 L554.6,4124.2 L552.6,4124.2 L550.6,4124.2 L548.6,4124.1 L546.6,4124.1 L544.6,4124.1 L542.6,4124.1 L540.6,4124.1 L538.6,4124.1 L536.6,4124.1 L534.6,4124.1 L532.6,4124.1 L530.6,4124.1 L528.6,4124.1 L526.5,4124.1 L524.5,4124.1 L522.5,4124.0 L520.5,4124.0 L518.5,4124.0 L516.5,4124.0 L514.5,4124.0 L512.5,4124.0 L510.5,4124.0 L508.5,4124.0 L506.5,4124.0 L504.5,4124.0 L502.5,4124.0 L500.5,4124.0 L498.5,4124.0 L496.5,4124.0 L494.5,4124.0 L492.5,4124.0 L490.5,4123.9 L488.5,4123.9 L486.5,4123.9 L484.5,4123.9 L482.5,4123.9 L480.5,4123.9 L478.5,4123.9 L476.5,4123.9 L474.5,4123.9 L472.5,4123.9 L470.5,4123.9 L468.5,4123.9 L466.5,4123.9 L464.5,4123.9 L462.5,4123.9 L460.5,4123.9 L458.5,4123.9 L456.5,4123.9 L454.5,4123.9 L452.5,4123.9 L450.5,4123.9 L448.5,4123.9 L446.5,4123.9 L444.5,4123.9 L442.5,4123.8 L440.5,4123.8 L438.5,4123.8 L436.5,4123.8 L434.5,4123.8 L432.5,4123.8 L430.5,4123.8 L428.5,4123.8 L426.5,4123.8 L424.5,4123.8 L422.5,4123.8 L420.5,4123.8 L418.4,4123.8 L416.4,4123.8 L414.4,4123.8 L412.4,4123.8 L410.4,4123.8 L408.4,4123.8 L406.4,4123.8 L404.4,4123.8 L402.4,4123.8 L400.4,4123.8 L398.4,4123.8 L396.4,4123.8 L394.4,4123.8 L392.4,4123.8 L390.4,4123.8 L388.4,4123.8 L386.4,4123.8 L384.4,4123.8 L382.4,4123.8 L380.4,4123.8 L378.4,4123.8 L376.4,4123.8 L374.4,4123.8 L372.4,4123.8 L370.4,4123.8 L368.4,4123.8 L366.4,4123.8 L364.4,4123.8 L362.4,4123.8 L360.4,4123.8 L358.4,4123.8 L356.4,4123.8 L354.4,4123.8 L352.4,4123.8 L350.4,4123.8 L348.4,4123.8 L346.4,4123.8 L344.4,4123.8 L342.4,4123.8 L340.4,4123.8 L338.4,4123.8 L336.4,4123.8 L334.4,4123.8 L332.4,4123.8 L330.4,4123.8 L328.4,4123.8 L326.4,4123.8 L324.4,4123.8 L322.4,4123.8 L320.4,4123.7 L318.4,4123.7 L316.4,4123.7 L314.4,4123.7 L312.4,4123.7 L310.4,4123.7 L308.3,4123.7 L306.3,4123.7 L304.3,4123.7 L302.3,4123.7 L300.3,4123.7 L298.3,4123.7 L296.3,4123.7 L294.3,4123.7 L292.3,4123.7 L290.3,4123.7 L288.3,4123.7 L286.3,4123.7 L284.3,4123.7 L282.3,4123.7 L280.3,4123.7 L278.3,4123.7 L276.3,4123.7 L274.3,4123.7 L272.3,4123.7 L270.3,4123.7 L268.3,4123.7 L266.3,4123.7 L264.3,4123.7 L262.3,4123.7 L260.3,4123.7 L258.3,4123.7 L256.3,4123.7 L254.3,4123.7 L252.3,4123.7 L250.3,4123.7 L248.3,4123.7 L246.3,4123.7 L244.3,4123.7 L242.3,4123.7 L240.3,4123.7 L238.3,4123.7 L236.3,4123.7 L234.3,4123.7 L232.3,4123.7 L230.3,4123.7 L228.3,4123.7 L226.3,4123.7 L224.3,4123.7 L222.3,4123.7 L220.3,4123.7 L218.3,4123.7 L216.3,4123.7 L214.3,4123.7 L212.3,4123.7 L210.3,4123.7 L208.3,4123.7 L206.3,4123.7 L204.3,4123.7 L202.3,4123.7 L200.2,4123.7 L198.2,4123.7 L196.2,4123.7 L194.2,4123.7 L192.2,4123.7 L190.2,4123.7 L188.2,4123.7 L186.2,4123.7 L184.2,4123.7 L182.2,4123.7 L180.2,4123.7 L178.2,4123.7 L176.2,4123.7 L174.2,4123.7 L172.2,4123.7 L170.2,4123.7 L168.2,4123.7 L166.2,4123.7 L164.2,4123.7 L162.2,4123.7 L160.2,4123.7 L158.2,4123.7 L156.2,4123.7 L154.2,4123.7 L152.2,4123.7 L150.2,4123.7 L148.2,4123.7 L146.2,4123.7Z" fill="url(#ge1)"/><path d="M146.2,4123.4 L148.2,4123.4 L150.2,4123.4 L152.2,4123.4 L154.2,4123.4 L156.2,4123.4 L158.2,4123.4 L160.2,4123.4 L162.2,4123.4 L164.2,4123.4 L166.2,4123.4 L168.2,4123.4 L170.2,4123.4 L172.2,4123.4 L174.2,4123.4 L176.2,4123.4 L178.2,4123.4 L180.2,4123.4 L182.2,4123.4 L184.2,4123.4 L186.2,4123.4 L188.2,4123.4 L190.2,4123.4 L192.2,4123.4 L194.2,4123.4 L196.2,4123.4 L198.2,4123.4 L200.2,4123.4 L202.3,4123.4 L204.3,4123.4 L206.3,4123.4 L208.3,4123.4 L210.3,4123.4 L212.3,4123.4 L214.3,4123.3 L216.3,4123.3 L218.3,4123.3 L220.3,4123.3 L222.3,4123.3 L224.3,4123.3 L226.3,4123.3 L228.3,4123.3 L230.3,4123.3 L232.3,4123.3 L234.3,4123.3 L236.3,4123.3 L238.3,4123.3 L240.3,4123.3 L242.3,4123.3 L244.3,4123.3 L246.3,4123.3 L248.3,4123.3 L250.3,4123.3 L252.3,4123.3 L254.3,4123.3 L256.3,4123.3 L258.3,4123.3 L260.3,4123.3 L262.3,4123.3 L264.3,4123.3 L266.3,4123.3 L268.3,4123.3 L270.3,4123.3 L272.3,4123.3 L274.3,4123.3 L276.3,4123.3 L278.3,4123.3 L280.3,4123.3 L282.3,4123.3 L284.3,4123.3 L286.3,4123.3 L288.3,4123.3 L290.3,4123.3 L292.3,4123.3 L294.3,4123.3 L296.3,4123.3 L298.3,4123.3 L300.3,4123.3 L302.3,4123.3 L304.3,4123.3 L306.3,4123.3 L308.3,4123.3 L310.4,4123.3 L312.4,4123.3 L314.4,4123.3 L316.4,4123.3 L318.4,4123.3 L320.4,4123.3 L322.4,4123.2 L324.4,4123.2 L326.4,4123.2 L328.4,4123.2 L330.4,4123.2 L332.4,4123.2 L334.4,4123.2 L336.4,4123.2 L338.4,4123.2 L340.4,4123.2 L342.4,4123.2 L344.4,4123.2 L346.4,4123.2 L348.4,4123.2 L350.4,4123.2 L352.4,4123.2 L354.4,4123.2 L356.4,4123.2 L358.4,4123.2 L360.4,4123.2 L362.4,4123.2 L364.4,4123.2 L366.4,4123.2 L368.4,4123.2 L370.4,4123.2 L372.4,4123.2 L374.4,4123.2 L376.4,4123.2 L378.4,4123.2 L380.4,4123.2 L382.4,4123.2 L384.4,4123.2 L386.4,4123.2 L388.4,4123.2 L390.4,4123.2 L392.4,4123.2 L394.4,4123.1 L396.4,4123.1 L398.4,4123.1 L400.4,4123.1 L402.4,4123.1 L404.4,4123.1 L406.4,4123.1 L408.4,4123.1 L410.4,4123.1 L412.4,4123.1 L414.4,4123.1 L416.4,4123.1 L418.4,4123.1 L420.5,4123.1 L422.5,4123.1 L424.5,4123.1 L426.5,4123.1 L428.5,4123.1 L430.5,4123.1 L432.5,4123.1 L434.5,4123.1 L436.5,4123.1 L438.5,4123.1 L440.5,4123.1 L442.5,4123.1 L444.5,4123.1 L446.5,4123.1 L448.5,4123.1 L450.5,4123.0 L452.5,4123.0 L454.5,4123.0 L456.5,4123.0 L458.5,4123.0 L460.5,4123.0 L462.5,4123.0 L464.5,4123.0 L466.5,4123.0 L468.5,4123.0 L470.5,4123.0 L472.5,4123.0 L474.5,4123.0 L476.5,4123.0 L478.5,4123.0 L480.5,4123.0 L482.5,4123.0 L484.5,4123.0 L486.5,4123.0 L488.5,4123.0 L490.5,4123.0 L492.5,4123.0 L494.5,4123.0 L496.5,4123.0 L498.5,4123.0 L500.5,4123.0 L502.5,4123.0 L504.5,4122.9 L506.5,4122.9 L508.5,4122.9 L510.5,4122.9 L512.5,4122.9 L514.5,4122.9 L516.5,4122.9 L518.5,4122.9 L520.5,4122.9 L522.5,4122.9 L524.5,4122.9 L526.5,4122.9 L528.6,4122.9 L530.6,4122.9 L532.6,4122.9 L534.6,4122.8 L536.6,4122.8 L538.6,4122.8 L540.6,4122.8 L542.6,4122.8 L544.6,4122.8 L546.6,4122.8 L548.6,4122.8 L550.6,4122.7 L552.6,4122.7 L554.6,4122.7 L556.6,4122.7 L558.6,4122.7 L560.6,4122.6 L562.6,4122.6 L564.6,4122.6 L566.6,4122.6 L568.6,4122.5 L570.6,4122.5 L572.6,4122.5 L574.6,4122.5 L576.6,4122.4 L578.6,4122.4 L580.6,4122.4 L582.6,4122.3 L584.6,4122.3 L586.6,4122.2 L588.6,4122.2 L590.6,4122.1 L592.6,4122.1 L594.6,4122.0 L596.6,4122.0 L598.6,4121.9 L600.6,4121.8 L602.6,4121.7 L604.6,4121.6 L606.6,4121.6 L608.6,4121.5 L610.6,4121.3 L612.6,4121.2 L614.6,4121.1 L616.6,4121.0 L618.6,4120.8 L620.6,4120.7 L622.6,4120.5 L624.6,4120.3 L626.6,4120.1 L628.6,4119.9 L630.6,4119.7 L632.6,4119.4 L634.6,4119.2 L636.6,4118.9 L638.7,4118.6 L640.7,4118.3 L642.7,4117.9 L644.7,4117.6 L646.7,4117.2 L648.7,4116.8 L650.7,4116.4 L652.7,4115.9 L654.7,4115.4 L656.7,4114.9 L658.7,4114.4 L660.7,4113.8 L662.7,4113.2 L664.7,4112.6 L666.7,4111.9 L668.7,4111.2 L670.7,4110.4 L672.7,4109.6 L674.7,4108.8 L676.7,4107.9 L678.7,4107.0 L680.7,4106.0 L682.7,4105.0 L684.7,4104.0 L686.7,4102.8 L688.7,4101.7 L690.7,4100.4 L692.7,4099.1 L694.7,4097.8 L696.7,4096.4 L698.7,4094.9 L700.7,4093.4 L702.7,4091.8 L704.7,4090.1 L706.7,4088.4 L708.7,4086.5 L710.7,4084.7 L712.7,4082.7 L714.7,4080.7 L716.7,4078.5 L718.7,4076.3 L720.7,4074.0 L722.7,4071.7 L724.7,4069.2 L726.7,4066.7 L728.7,4064.1 L730.7,4061.3 L732.7,4058.5 L734.7,4055.7 L736.7,4052.7 L738.7,4049.6 L740.7,4046.4 L742.7,4043.2 L744.7,4039.8 L746.8,4036.4 L748.8,4032.8 L750.8,4029.2 L752.8,4025.5 L754.8,4021.6 L756.8,4017.7 L758.8,4013.7 L760.8,4009.6 L762.8,4005.5 L764.8,4001.2 L766.8,3996.8 L768.8,3992.4 L770.8,3987.9 L772.8,3983.3 L774.8,3978.6 L776.8,3973.9 L778.8,3969.0 L780.8,3964.1 L782.8,3959.2 L784.8,3954.2 L786.8,3949.1 L788.8,3944.0 L790.8,3938.8 L792.8,3933.6 L794.8,3928.3 L796.8,3923.0 L798.8,3917.6 L800.8,3912.3 L802.8,3906.9 L804.8,3901.5 L806.8,3896.1 L808.8,3890.7 L810.8,3885.3 L812.8,3879.9 L814.8,3874.6 L816.8,3869.2 L818.8,3863.9 L820.8,3858.6 L822.8,3853.4 L824.8,3848.2 L826.8,3843.1 L828.8,3838.0 L830.8,3833.0 L832.8,3828.1 L834.8,3823.3 L836.8,3818.5 L838.8,3813.9 L840.8,3809.3 L842.8,3804.9 L844.8,3800.5 L846.8,3796.3 L848.8,3792.3 L850.8,3788.3 L852.8,3784.5 L854.8,3780.9 L856.9,3777.4 L858.9,3774.1 L860.9,3771.0 L862.9,3768.1 L864.9,3765.3 L866.9,3762.7 L868.9,3760.3 L870.9,3758.1 L872.9,3756.1 L874.9,3754.3 L876.9,3752.7 L878.9,3751.3 L880.9,3750.2 L882.9,3749.2 L884.9,3748.4 L886.9,3747.9 L888.9,3747.6 L890.9,3747.5 L892.9,3747.6 L894.9,3747.9 L896.9,3748.4 L898.9,3749.1 L900.9,3749.9 L902.9,3750.9 L904.9,3752.0 L906.9,3753.4 L908.9,3754.8 L910.9,3756.5 L912.9,3758.3 L914.9,3760.3 L916.9,3762.4 L918.9,3764.6 L920.9,3767.1 L922.9,3769.6 L924.9,3772.3 L926.9,3775.2 L928.9,3778.2 L930.9,3781.3 L932.9,3784.5 L934.9,3787.9 L936.9,3791.4 L938.9,3795.0 L940.9,3798.7 L942.9,3802.5 L944.9,3806.5 L946.9,3810.5 L948.9,3814.6 L950.9,3818.9 L952.9,3823.2 L954.9,3827.6 L956.9,3832.1 L958.9,3836.7 L960.9,3841.3 L962.9,3846.1 L964.9,3850.9 L967.0,3855.7 L969.0,3860.6 L971.0,3865.6 L973.0,3870.6 L975.0,3875.6 L977.0,3880.6 L979.0,3885.7 L981.0,3890.7 L983.0,3895.8 L985.0,3900.8 L987.0,3905.9 L989.0,3911.0 L991.0,3916.1 L993.0,3921.2 L995.0,3926.3 L997.0,3931.4 L999.0,3936.5 L1001.0,3941.6 L1003.0,3946.7 L1005.0,3951.7 L1007.0,3956.7 L1009.0,3961.7 L1011.0,3966.7 L1013.0,3971.6 L1015.0,3976.5 L1017.0,3981.3 L1019.0,3986.2 L1021.0,3990.9 L1023.0,3995.7 L1025.0,4000.3 L1027.0,4005.0 L1029.0,4009.5 L1031.0,4014.0 L1033.0,4018.5 L1035.0,4022.9 L1037.0,4027.2 L1039.0,4031.5 L1041.0,4035.7 L1043.0,4039.9 L1045.0,4043.9 L1047.0,4047.9 L1049.0,4051.9 L1051.0,4055.8 L1053.0,4059.6 L1055.0,4063.3 L1057.0,4066.9 L1059.0,4070.5 L1061.0,4074.0 L1063.0,4077.5 L1065.0,4080.9 L1067.0,4084.1 L1069.0,4087.4 L1071.0,4090.5 L1073.0,4093.6 L1075.1,4096.6 L1077.1,4099.5 L1079.1,4102.4 L1081.1,4105.2 L1083.1,4107.9 L1085.1,4110.5 L1087.1,4113.1 L1089.1,4115.6 L1091.1,4118.0 L1093.1,4120.4 L1095.1,4122.7 L1097.1,4124.9 L1099.1,4127.1 L1101.1,4129.2 L1103.1,4131.2 L1105.1,4133.2 L1107.1,4135.1 L1109.1,4137.0 L1111.1,4138.8 L1113.1,4140.5 L1115.1,4142.2 L1117.1,4143.8 L1119.1,4145.4 L1121.1,4146.9 L1123.1,4148.4 L1125.1,4149.8 L1127.1,4151.2 L1129.1,4152.5 L1131.1,4153.8 L1133.1,4155.0 L1135.1,4156.2 L1137.1,4157.3 L1139.1,4158.4 L1141.1,4159.5 L1143.1,4160.5 L1145.1,4161.5 L1147.1,4162.4 L1149.1,4163.4 L1151.1,4164.2 L1153.1,4165.1 L1155.1,4165.9 L1157.1,4166.6 L1159.1,4167.4 L1161.1,4168.1 L1163.1,4168.7 L1165.1,4169.4 L1167.1,4170.0 L1169.1,4170.6 L1171.1,4171.2 L1173.1,4171.7 L1175.1,4172.2 L1177.1,4172.7 L1179.1,4173.2 L1181.1,4173.6 L1183.1,4174.0 L1185.2,4174.4 L1187.2,4174.8 L1189.2,4175.2 L1191.2,4175.5 L1193.2,4175.9 L1195.2,4176.2 L1197.2,4176.5 L1199.2,4176.8 L1201.2,4177.1 L1203.2,4177.3 L1205.2,4177.6 L1207.2,4177.8 L1209.2,4178.0 L1211.2,4178.3 L1213.2,4178.5 L1215.2,4178.7 L1217.2,4178.8 L1219.2,4179.0 L1221.2,4179.2 L1223.2,4179.4 L1225.2,4179.5 L1227.2,4179.6 L1229.2,4179.8 L1231.2,4179.9 L1233.2,4180.0 L1235.2,4180.1 L1237.2,4180.2 L1239.2,4180.3 L1241.2,4180.4 L1243.2,4180.5 L1245.2,4180.6 L1247.2,4180.7 L1249.2,4180.7 L1251.2,4180.8 L1253.2,4180.9 L1255.2,4180.9 L1257.2,4181.0 L1259.2,4181.0 L1261.2,4181.1 L1263.2,4181.1 L1265.2,4181.2 L1267.2,4181.2 L1269.2,4181.3 L1271.2,4181.3 L1273.2,4181.3 L1275.2,4181.4" stroke="#d8a0f0" stroke-opacity="0.6" stroke-width="5.0" fill="none" stroke-linejoin="round"/>
<path d="M146.2,4123.3 L148.2,4123.3 L150.2,4123.3 L152.2,4123.3 L154.2,4123.3 L156.2,4123.3 L158.2,4123.3 L160.2,4123.3 L162.2,4123.3 L164.2,4123.3 L166.2,4123.3 L168.2,4123.3 L170.2,4123.3 L172.2,4123.3 L174.2,4123.3 L176.2,4123.3 L178.2,4123.3 L180.2,4123.3 L182.2,4123.3 L184.2,4123.3 L186.2,4123.3 L188.2,4123.3 L190.2,4123.3 L192.2,4123.3 L194.2,4123.3 L196.2,4123.3 L198.2,4123.3 L200.2,4123.3 L202.3,4123.3 L204.3,4123.3 L206.3,4123.3 L208.3,4123.3 L210.3,4123.3 L212.3,4123.3 L214.3,4123.3 L216.3,4123.3 L218.3,4123.3 L220.3,4123.3 L222.3,4123.3 L224.3,4123.3 L226.3,4123.3 L228.3,4123.3 L230.3,4123.3 L232.3,4123.3 L234.3,4123.3 L236.3,4123.3 L238.3,4123.3 L240.3,4123.3 L242.3,4123.3 L244.3,4123.3 L246.3,4123.3 L248.3,4123.3 L250.3,4123.3 L252.3,4123.2 L254.3,4123.2 L256.3,4123.2 L258.3,4123.2 L260.3,4123.2 L262.3,4123.2 L264.3,4123.2 L266.3,4123.2 L268.3,4123.2 L270.3,4123.2 L272.3,4123.2 L274.3,4123.2 L276.3,4123.2 L278.3,4123.2 L280.3,4123.2 L282.3,4123.2 L284.3,4123.2 L286.3,4123.2 L288.3,4123.2 L290.3,4123.2 L292.3,4123.2 L294.3,4123.2 L296.3,4123.2 L298.3,4123.2 L300.3,4123.2 L302.3,4123.2 L304.3,4123.2 L306.3,4123.2 L308.3,4123.2 L310.4,4123.2 L312.4,4123.2 L314.4,4123.2 L316.4,4123.2 L318.4,4123.2 L320.4,4123.2 L322.4,4123.2 L324.4,4123.2 L326.4,4123.2 L328.4,4123.2 L330.4,4123.2 L332.4,4123.2 L334.4,4123.2 L336.4,4123.2 L338.4,4123.2 L340.4,4123.2 L342.4,4123.2 L344.4,4123.1 L346.4,4123.1 L348.4,4123.1 L350.4,4123.1 L352.4,4123.1 L354.4,4123.1 L356.4,4123.1 L358.4,4123.1 L360.4,4123.1 L362.4,4123.1 L364.4,4123.1 L366.4,4123.1 L368.4,4123.1 L370.4,4123.1 L372.4,4123.1 L374.4,4123.1 L376.4,4123.1 L378.4,4123.1 L380.4,4123.1 L382.4,4123.1 L384.4,4123.1 L386.4,4123.1 L388.4,4123.1 L390.4,4123.1 L392.4,4123.1 L394.4,4123.1 L396.4,4123.1 L398.4,4123.1 L400.4,4123.1 L402.4,4123.1 L404.4,4123.1 L406.4,4123.0 L408.4,4123.0 L410.4,4123.0 L412.4,4123.0 L414.4,4123.0 L416.4,4123.0 L418.4,4123.0 L420.5,4123.0 L422.5,4123.0 L424.5,4123.0 L426.5,4123.0 L428.5,4123.0 L430.5,4123.0 L432.5,4123.0 L434.5,4123.0 L436.5,4123.0 L438.5,4123.0 L440.5,4123.0 L442.5,4123.0 L444.5,4123.0 L446.5,4123.0 L448.5,4123.0 L450.5,4123.0 L452.5,4123.0 L454.5,4123.0 L456.5,4123.0 L458.5,4123.0 L460.5,4123.0 L462.5,4123.0 L464.5,4123.0 L466.5,4123.0 L468.5,4122.9 L470.5,4122.9 L472.5,4122.9 L474.5,4122.9 L476.5,4122.9 L478.5,4122.9 L480.5,4122.9 L482.5,4122.9 L484.5,4122.9 L486.5,4122.9 L488.5,4122.9 L490.5,4122.9 L492.5,4122.9 L494.5,4122.9 L496.5,4122.9 L498.5,4122.9 L500.5,4122.9 L502.5,4122.9 L504.5,4122.9 L506.5,4122.9 L508.5,4122.9 L510.5,4122.9 L512.5,4122.9 L514.5,4122.9 L516.5,4122.9 L518.5,4122.9 L520.5,4122.9 L522.5,4122.9 L524.5,4122.9 L526.5,4122.9 L528.6,4122.9 L530.6,4122.9 L532.6,4122.9 L534.6,4122.9 L536.6,4122.8 L538.6,4122.8 L540.6,4122.8 L542.6,4122.8 L544.6,4122.8 L546.6,4122.8 L548.6,4122.8 L550.6,4122.8 L552.6,4122.8 L554.6,4122.8 L556.6,4122.8 L558.6,4122.8 L560.6,4122.8 L562.6,4122.8 L564.6,4122.8 L566.6,4122.8 L568.6,4122.8 L570.6,4122.8 L572.6,4122.8 L574.6,4122.8 L576.6,4122.8 L578.6,4122.8 L580.6,4122.8 L582.6,4122.8 L584.6,4122.8 L586.6,4122.8 L588.6,4122.9 L590.6,4122.9 L592.6,4122.9 L594.6,4122.9 L596.6,4122.9 L598.6,4122.9 L600.6,4122.9 L602.6,4122.9 L604.6,4122.9 L606.6,4123.0 L608.6,4123.0 L610.6,4123.0 L612.6,4123.0 L614.6,4123.0 L616.6,4123.0 L618.6,4123.1 L620.6,4123.1 L622.6,4123.1 L624.6,4123.1 L626.6,4123.1 L628.6,4123.1 L630.6,4123.1 L632.6,4123.2 L634.6,4123.2 L636.6,4123.2 L638.7,4123.2 L640.7,4123.2 L642.7,4123.2 L644.7,4123.2 L646.7,4123.3 L648.7,4123.3 L650.7,4123.3 L652.7,4123.3 L654.7,4123.3 L656.7,4123.3 L658.7,4123.3 L660.7,4123.4 L662.7,4123.4 L664.7,4123.4 L666.7,4123.4 L668.7,4123.4 L670.7,4123.4 L672.7,4123.5 L674.7,4123.5 L676.7,4123.5 L678.7,4123.5 L680.7,4123.5 L682.7,4123.5 L684.7,4123.6 L686.7,4123.6 L688.7,4123.6 L690.7,4123.6 L692.7,4123.6 L694.7,4123.7 L696.7,4123.7 L698.7,4123.7 L700.7,4123.7 L702.7,4123.7 L704.7,4123.7 L706.7,4123.8 L708.7,4123.8 L710.7,4123.8 L712.7,4123.8 L714.7,4123.8 L716.7,4123.8 L718.7,4123.8 L720.7,4123.9 L722.7,4123.9 L724.7,4123.9 L726.7,4123.9 L728.7,4123.9 L730.7,4123.9 L732.7,4123.9 L734.7,4123.9 L736.7,4123.9 L738.7,4123.9 L740.7,4123.8 L742.7,4123.8 L744.7,4123.8 L746.8,4123.8 L748.8,4123.7 L750.8,4123.7 L752.8,4123.6 L754.8,4123.6 L756.8,4123.5 L758.8,4123.4 L760.8,4123.3 L762.8,4123.2 L764.8,4123.1 L766.8,4123.0 L768.8,4122.9 L770.8,4122.7 L772.8,4122.5 L774.8,4122.4 L776.8,4122.1 L778.8,4121.9 L780.8,4121.7 L782.8,4121.4 L784.8,4121.1 L786.8,4120.7 L788.8,4120.3 L790.8,4119.9 L792.8,4119.5 L794.8,4119.0 L796.8,4118.5 L798.8,4117.9 L800.8,4117.3 L802.8,4116.6 L804.8,4115.9 L806.8,4115.2 L808.8,4114.4 L810.8,4113.5 L812.8,4112.6 L814.8,4111.6 L816.8,4110.5 L818.8,4109.3 L820.8,4108.1 L822.8,4106.8 L824.8,4105.4 L826.8,4104.0 L828.8,4102.4 L830.8,4100.7 L832.8,4099.0 L834.8,4097.1 L836.8,4095.1 L838.8,4093.1 L840.8,4090.9 L842.8,4088.6 L844.8,4086.1 L846.8,4083.6 L848.8,4080.9 L850.8,4078.1 L852.8,4075.2 L854.8,4072.2 L856.9,4069.0 L858.9,4065.7 L860.9,4062.3 L862.9,4058.8 L864.9,4055.1 L866.9,4051.3 L868.9,4047.4 L870.9,4043.4 L872.9,4039.3 L874.9,4035.0 L876.9,4030.6 L878.9,4026.1 L880.9,4021.5 L882.9,4016.8 L884.9,4012.0 L886.9,4007.1 L888.9,4002.1 L890.9,3997.0 L892.9,3991.9 L894.9,3986.6 L896.9,3981.4 L898.9,3976.1 L900.9,3970.7 L902.9,3965.3 L904.9,3960.0 L906.9,3954.6 L908.9,3949.2 L910.9,3943.9 L912.9,3938.6 L914.9,3933.4 L916.9,3928.3 L918.9,3923.2 L920.9,3918.2 L922.9,3913.3 L924.9,3908.5 L926.9,3903.9 L928.9,3899.4 L930.9,3895.1 L932.9,3890.9 L934.9,3887.0 L936.9,3883.2 L938.9,3879.6 L940.9,3876.3 L942.9,3873.1 L944.9,3870.2 L946.9,3867.6 L948.9,3865.2 L950.9,3863.1 L952.9,3861.3 L954.9,3859.8 L956.9,3858.5 L958.9,3857.6 L960.9,3857.0 L962.9,3856.7 L964.9,3856.7 L967.0,3857.0 L969.0,3857.6 L971.0,3858.5 L973.0,3859.7 L975.0,3861.2 L977.0,3863.0 L979.0,3865.1 L981.0,3867.5 L983.0,3870.2 L985.0,3873.1 L987.0,3876.3 L989.0,3879.7 L991.0,3883.4 L993.0,3887.4 L995.0,3891.6 L997.0,3895.9 L999.0,3900.5 L1001.0,3905.3 L1003.0,3910.3 L1005.0,3915.4 L1007.0,3920.7 L1009.0,3926.1 L1011.0,3931.6 L1013.0,3937.3 L1015.0,3943.0 L1017.0,3948.8 L1019.0,3954.7 L1021.0,3960.7 L1023.0,3966.7 L1025.0,3972.7 L1027.0,3978.7 L1029.0,3984.8 L1031.0,3990.8 L1033.0,3996.9 L1035.0,4002.9 L1037.0,4008.8 L1039.0,4014.7 L1041.0,4020.6 L1043.0,4026.4 L1045.0,4032.1 L1047.0,4037.8 L1049.0,4043.3 L1051.0,4048.8 L1053.0,4054.1 L1055.0,4059.3 L1057.0,4064.5 L1059.0,4069.5 L1061.0,4074.4 L1063.0,4079.1 L1065.0,4083.8 L1067.0,4088.3 L1069.0,4092.6 L1071.0,4096.9 L1073.0,4100.9 L1075.1,4104.9 L1077.1,4108.7 L1079.1,4112.4 L1081.1,4115.9 L1083.1,4119.4 L1085.1,4122.6 L1087.1,4125.8 L1089.1,4128.8 L1091.1,4131.7 L1093.1,4134.4 L1095.1,4137.1 L1097.1,4139.6 L1099.1,4142.0 L1101.1,4144.2 L1103.1,4146.4 L1105.1,4148.5 L1107.1,4150.4 L1109.1,4152.3 L1111.1,4154.0 L1113.1,4155.7 L1115.1,4157.2 L1117.1,4158.7 L1119.1,4160.1 L1121.1,4161.4 L1123.1,4162.7 L1125.1,4163.9 L1127.1,4165.0 L1129.1,4166.0 L1131.1,4167.0 L1133.1,4167.9 L1135.1,4168.7 L1137.1,4169.5 L1139.1,4170.3 L1141.1,4171.0 L1143.1,4171.7 L1145.1,4172.3 L1147.1,4172.9 L1149.1,4173.4 L1151.1,4173.9 L1153.1,4174.4 L1155.1,4174.8 L1157.1,4175.2 L1159.1,4175.6 L1161.1,4176.0 L1163.1,4176.3 L1165.1,4176.6 L1167.1,4176.9 L1169.1,4177.2 L1171.1,4177.4 L1173.1,4177.7 L1175.1,4177.9 L1177.1,4178.1 L1179.1,4178.3 L1181.1,4178.4 L1183.1,4178.6 L1185.2,4178.7 L1187.2,4178.9 L1189.2,4179.0 L1191.2,4179.1 L1193.2,4179.3 L1195.2,4179.4 L1197.2,4179.5 L1199.2,4179.6 L1201.2,4179.7 L1203.2,4179.8 L1205.2,4179.9 L1207.2,4179.9 L1209.2,4180.0 L1211.2,4180.1 L1213.2,4180.2 L1215.2,4180.2 L1217.2,4180.3 L1219.2,4180.3 L1221.2,4180.4 L1223.2,4180.5 L1225.2,4180.5 L1227.2,4180.6 L1229.2,4180.6 L1231.2,4180.7 L1233.2,4180.7 L1235.2,4180.7 L1237.2,4180.8 L1239.2,4180.8 L1241.2,4180.8 L1243.2,4180.9 L1245.2,4180.9 L1247.2,4180.9 L1249.2,4181.0 L1251.2,4181.0 L1253.2,4181.0 L1255.2,4181.0 L1257.2,4181.0 L1259.2,4181.1 L1261.2,4181.1 L1263.2,4181.1 L1265.2,4181.1 L1267.2,4181.1 L1269.2,4181.1 L1271.2,4181.2 L1273.2,4181.2 L1275.2,4181.2 L1277.2,4181.2 L1279.2,4181.2 L1281.2,4181.2 L1283.2,4181.3 L1285.2,4181.3 L1287.2,4181.3 L1289.2,4181.3 L1291.2,4181.3 L1293.3,4181.3 L1295.3,4181.3 L1297.3,4181.4 L1299.3,4181.4 L1301.3,4181.4 L1303.3,4181.4 L1305.3,4181.4 L1307.3,4181.4 L1309.3,4181.4 L1311.3,4181.5 L1313.3,4181.5 L1315.3,4181.5 L1317.3,4181.5 L1319.3,4181.5 L1321.3,4181.5 L1323.3,4181.5 L1325.3,4181.5 L1327.3,4181.5 L1329.3,4181.6 L1331.3,4181.6 L1333.3,4181.6 L1335.3,4181.6 L1337.3,4181.6 L1339.3,4181.6 L1341.3,4181.6 L1343.3,4181.6 L1345.3,4181.6 L1347.3,4181.6 L1347.3,4181.9 L1345.3,4181.9 L1343.3,4181.9 L1341.3,4181.9 L1339.3,4181.9 L1337.3,4181.9 L1335.3,4181.9 L1333.3,4181.9 L1331.3,4181.9 L1329.3,4181.9 L1327.3,4181.9 L1325.3,4181.9 L1323.3,4181.9 L1321.3,4181.9 L1319.3,4181.8 L1317.3,4181.8 L1315.3,4181.8 L1313.3,4181.8 L1311.3,4181.8 L1309.3,4181.8 L1307.3,4181.8 L1305.3,4181.8 L1303.3,4181.8 L1301.3,4181.8 L1299.3,4181.8 L1297.3,4181.8 L1295.3,4181.7 L1293.3,4181.7 L1291.2,4181.7 L1289.2,4181.7 L1287.2,4181.7 L1285.2,4181.7 L1283.2,4181.7 L1281.2,4181.7 L1279.2,4181.7 L1277.2,4181.7 L1275.2,4181.6 L1273.2,4181.6 L1271.2,4181.6 L1269.2,4181.6 L1267.2,4181.6 L1265.2,4181.6 L1263.2,4181.6 L1261.2,4181.6 L1259.2,4181.6 L1257.2,4181.5 L1255.2,4181.5 L1253.2,4181.5 L1251.2,4181.5 L1249.2,4181.5 L1247.2,4181.5 L1245.2,4181.5 L1243.2,4181.4 L1241.2,4181.4 L1239.2,4181.4 L1237.2,4181.4 L1235.2,4181.4 L1233.2,4181.3 L1231.2,4181.3 L1229.2,4181.3 L1227.2,4181.2 L1225.2,4181.2 L1223.2,4181.2 L1221.2,4181.1 L1219.2,4181.1 L1217.2,4181.1 L1215.2,4181.0 L1213.2,4181.0 L1211.2,4180.9 L1209.2,4180.9 L1207.2,4180.9 L1205.2,4180.8 L1203.2,4180.8 L1201.2,4180.7 L1199.2,4180.7 L1197.2,4180.6 L1195.2,4180.6 L1193.2,4180.5 L1191.2,4180.5 L1189.2,4180.4 L1187.2,4180.4 L1185.2,4180.3 L1183.1,4180.3 L1181.1,4180.2 L1179.1,4180.2 L1177.1,4180.1 L1175.1,4180.1 L1173.1,4180.0 L1171.1,4179.9 L1169.1,4179.9 L1167.1,4179.8 L1165.1,4179.7 L1163.1,4179.7 L1161.1,4179.6 L1159.1,4179.5 L1157.1,4179.4 L1155.1,4179.4 L1153.1,4179.3 L1151.1,4179.2 L1149.1,4179.1 L1147.1,4179.0 L1145.1,4178.9 L1143.1,4178.8 L1141.1,4178.8 L1139.1,4178.7 L1137.1,4178.6 L1135.1,4178.5 L1133.1,4178.4 L1131.1,4178.3 L1129.1,4178.2 L1127.1,4178.1 L1125.1,4178.0 L1123.1,4177.9 L1121.1,4177.8 L1119.1,4177.7 L1117.1,4177.6 L1115.1,4177.5 L1113.1,4177.4 L1111.1,4177.3 L1109.1,4177.2 L1107.1,4177.1 L1105.1,4177.0 L1103.1,4176.9 L1101.1,4176.8 L1099.1,4176.7 L1097.1,4176.6 L1095.1,4176.5 L1093.1,4176.4 L1091.1,4176.2 L1089.1,4176.1 L1087.1,4176.0 L1085.1,4175.9 L1083.1,4175.8 L1081.1,4175.7 L1079.1,4175.5 L1077.1,4175.4 L1075.1,4175.3 L1073.0,4175.1 L1071.0,4175.0 L1069.0,4174.9 L1067.0,4174.8 L1065.0,4174.6 L1063.0,4174.5 L1061.0,4174.3 L1059.0,4174.2 L1057.0,4174.0 L1055.0,4173.9 L1053.0,4173.7 L1051.0,4173.6 L1049.0,4173.4 L1047.0,4173.3 L1045.0,4173.1 L1043.0,4172.9 L1041.0,4172.8 L1039.0,4172.6 L1037.0,4172.4 L1035.0,4172.2 L1033.0,4172.0 L1031.0,4171.9 L1029.0,4171.7 L1027.0,4171.5 L1025.0,4171.3 L1023.0,4171.1 L1021.0,4170.9 L1019.0,4170.7 L1017.0,4170.4 L1015.0,4170.2 L1013.0,4170.0 L1011.0,4169.8 L1009.0,4169.5 L1007.0,4169.3 L1005.0,4169.1 L1003.0,4168.8 L1001.0,4168.6 L999.0,4168.3 L997.0,4168.1 L995.0,4167.8 L993.0,4167.5 L991.0,4167.2 L989.0,4167.0 L987.0,4166.7 L985.0,4166.4 L983.0,4166.1 L981.0,4165.8 L979.0,4165.4 L977.0,4165.1 L975.0,4164.7 L973.0,4164.3 L971.0,4163.8 L969.0,4163.4 L967.0,4163.0 L964.9,4162.5 L962.9,4162.0 L960.9,4161.6 L958.9,4161.1 L956.9,4160.6 L954.9,4160.1 L952.9,4159.7 L950.9,4159.2 L948.9,4158.8 L946.9,4158.3 L944.9,4157.8 L942.9,4157.4 L940.9,4156.9 L938.9,4156.4 L936.9,4155.9 L934.9,4155.4 L932.9,4154.9 L930.9,4154.4 L928.9,4153.9 L926.9,4153.4 L924.9,4152.9 L922.9,4152.4 L920.9,4151.9 L918.9,4151.4 L916.9,4150.9 L914.9,4150.5 L912.9,4150.0 L910.9,4149.5 L908.9,4149.0 L906.9,4148.5 L904.9,4148.1 L902.9,4147.6 L900.9,4147.2 L898.9,4146.8 L896.9,4146.3 L894.9,4145.9 L892.9,4145.4 L890.9,4145.0 L888.9,4144.6 L886.9,4144.1 L884.9,4143.7 L882.9,4143.3 L880.9,4142.8 L878.9,4142.4 L876.9,4142.0 L874.9,4141.6 L872.9,4141.1 L870.9,4140.7 L868.9,4140.3 L866.9,4140.0 L864.9,4139.6 L862.9,4139.2 L860.9,4138.8 L858.9,4138.5 L856.9,4138.2 L854.8,4137.8 L852.8,4137.5 L850.8,4137.2 L848.8,4136.9 L846.8,4136.7 L844.8,4136.4 L842.8,4136.1 L840.8,4135.8 L838.8,4135.6 L836.8,4135.3 L834.8,4135.0 L832.8,4134.8 L830.8,4134.5 L828.8,4134.3 L826.8,4134.1 L824.8,4133.8 L822.8,4133.6 L820.8,4133.4 L818.8,4133.2 L816.8,4133.0 L814.8,4132.8 L812.8,4132.6 L810.8,4132.4 L808.8,4132.2 L806.8,4132.0 L804.8,4131.9 L802.8,4131.7 L800.8,4131.6 L798.8,4131.4 L796.8,4131.3 L794.8,4131.1 L792.8,4131.0 L790.8,4130.9 L788.8,4130.7 L786.8,4130.6 L784.8,4130.5 L782.8,4130.3 L780.8,4130.2 L778.8,4130.1 L776.8,4130.0 L774.8,4129.9 L772.8,4129.8 L770.8,4129.6 L768.8,4129.5 L766.8,4129.4 L764.8,4129.3 L762.8,4129.2 L760.8,4129.1 L758.8,4129.0 L756.8,4128.9 L754.8,4128.8 L752.8,4128.7 L750.8,4128.6 L748.8,4128.5 L746.8,4128.5 L744.7,4128.4 L742.7,4128.3 L740.7,4128.2 L738.7,4128.1 L736.7,4128.0 L734.7,4128.0 L732.7,4127.9 L730.7,4127.8 L728.7,4127.7 L726.7,4127.6 L724.7,4127.6 L722.7,4127.5 L720.7,4127.4 L718.7,4127.4 L716.7,4127.3 L714.7,4127.2 L712.7,4127.1 L710.7,4127.1 L708.7,4127.0 L706.7,4127.0 L704.7,4126.9 L702.7,4126.8 L700.7,4126.8 L698.7,4126.7 L696.7,4126.6 L694.7,4126.6 L692.7,4126.5 L690.7,4126.5 L688.7,4126.4 L686.7,4126.4 L684.7,4126.3 L682.7,4126.2 L680.7,4126.2 L678.7,4126.1 L676.7,4126.1 L674.7,4126.0 L672.7,4126.0 L670.7,4125.9 L668.7,4125.9 L666.7,4125.9 L664.7,4125.8 L662.7,4125.8 L660.7,4125.7 L658.7,4125.7 L656.7,4125.6 L654.7,4125.6 L652.7,4125.6 L650.7,4125.5 L648.7,4125.5 L646.7,4125.4 L644.7,4125.4 L642.7,4125.4 L640.7,4125.3 L638.7,4125.3 L636.6,4125.2 L634.6,4125.2 L632.6,4125.2 L630.6,4125.1 L628.6,4125.1 L626.6,4125.1 L624.6,4125.0 L622.6,4125.0 L620.6,4125.0 L618.6,4124.9 L616.6,4124.9 L614.6,4124.8 L612.6,4124.8 L610.6,4124.8 L608.6,4124.7 L606.6,4124.7 L604.6,4124.7 L602.6,4124.6 L600.6,4124.6 L598.6,4124.6 L596.6,4124.6 L594.6,4124.5 L592.6,4124.5 L590.6,4124.5 L588.6,4124.5 L586.6,4124.4 L584.6,4124.4 L582.6,4124.4 L580.6,4124.4 L578.6,4124.3 L576.6,4124.3 L574.6,4124.3 L572.6,4124.3 L570.6,4124.3 L568.6,4124.3 L566.6,4124.2 L564.6,4124.2 L562.6,4124.2 L560.6,4124.2 L558.6,4124.2 L556.6,4124.2 L554.6,4124.2 L552.6,4124.2 L550.6,4124.2 L548.6,4124.1 L546.6,4124.1 L544.6,4124.1 L542.6,4124.1 L540.6,4124.1 L538.6,4124.1 L536.6,4124.1 L534.6,4124.1 L532.6,4124.1 L530.6,4124.1 L528.6,4124.1 L526.5,4124.1 L524.5,4124.1 L522.5,4124.0 L520.5,4124.0 L518.5,4124.0 L516.5,4124.0 L514.5,4124.0 L512.5,4124.0 L510.5,4124.0 L508.5,4124.0 L506.5,4124.0 L504.5,4124.0 L502.5,4124.0 L500.5,4124.0 L498.5,4124.0 L496.5,4124.0 L494.5,4124.0 L492.5,4124.0 L490.5,4123.9 L488.5,4123.9 L486.5,4123.9 L484.5,4123.9 L482.5,4123.9 L480.5,4123.9 L478.5,4123.9 L476.5,4123.9 L474.5,4123.9 L472.5,4123.9 L470.5,4123.9 L468.5,4123.9 L466.5,4123.9 L464.5,4123.9 L462.5,4123.9 L460.5,4123.9 L458.5,4123.9 L456.5,4123.9 L454.5,4123.9 L452.5,4123.9 L450.5,4123.9 L448.5,4123.9 L446.5,4123.9 L444.5,4123.9 L442.5,4123.8 L440.5,4123.8 L438.5,4123.8 L436.5,4123.8 L434.5,4123.8 L432.5,4123.8 L430.5,4123.8 L428.5,4123.8 L426.5,4123.8 L424.5,4123.8 L422.5,4123.8 L420.5,4123.8 L418.4,4123.8 L416.4,4123.8 L414.4,4123.8 L412.4,4123.8 L410.4,4123.8 L408.4,4123.8 L406.4,4123.8 L404.4,4123.8 L402.4,4123.8 L400.4,4123.8 L398.4,4123.8 L396.4,4123.8 L394.4,4123.8 L392.4,4123.8 L390.4,4123.8 L388.4,4123.8 L386.4,4123.8 L384.4,4123.8 L382.4,4123.8 L380.4,4123.8 L378.4,4123.8 L376.4,4123.8 L374.4,4123.8 L372.4,4123.8 L370.4,4123.8 L368.4,4123.8 L366.4,4123.8 L364.4,4123.8 L362.4,4123.8 L360.4,4123.8 L358.4,4123.8 L356.4,4123.8 L354.4,4123.8 L352.4,4123.8 L350.4,4123.8 L348.4,4123.8 L346.4,4123.8 L344.4,4123.8 L342.4,4123.8 L340.4,4123.8 L338.4,4123.8 L336.4,4123.8 L334.4,4123.8 L332.4,4123.8 L330.4,4123.8 L328.4,4123.8 L326.4,4123.8 L324.4,4123.8 L322.4,4123.8 L320.4,4123.7 L318.4,4123.7 L316.4,4123.7 L314.4,4123.7 L312.4,4123.7 L310.4,4123.7 L308.3,4123.7 L306.3,4123.7 L304.3,4123.7 L302.3,4123.7 L300.3,4123.7 L298.3,4123.7 L296.3,4123.7 L294.3,4123.7 L292.3,4123.7 L290.3,4123.7 L288.3,4123.7 L286.3,4123.7 L284.3,4123.7 L282.3,4123.7 L280.3,4123.7 L278.3,4123.7 L276.3,4123.7 L274.3,4123.7 L272.3,4123.7 L270.3,4123.7 L268.3,4123.7 L266.3,4123.7 L264.3,4123.7 L262.3,4123.7 L260.3,4123.7 L258.3,4123.7 L256.3,4123.7 L254.3,4123.7 L252.3,4123.7 L250.3,4123.7 L248.3,4123.7 L246.3,4123.7 L244.3,4123.7 L242.3,4123.7 L240.3,4123.7 L238.3,4123.7 L236.3,4123.7 L234.3,4123.7 L232.3,4123.7 L230.3,4123.7 L228.3,4123.7 L226.3,4123.7 L224.3,4123.7 L222.3,4123.7 L220.3,4123.7 L218.3,4123.7 L216.3,4123.7 L214.3,4123.7 L212.3,4123.7 L210.3,4123.7 L208.3,4123.7 L206.3,4123.7 L204.3,4123.7 L202.3,4123.7 L200.2,4123.7 L198.2,4123.7 L196.2,4123.7 L194.2,4123.7 L192.2,4123.7 L190.2,4123.7 L188.2,4123.7 L186.2,4123.7 L184.2,4123.7 L182.2,4123.7 L180.2,4123.7 L178.2,4123.7 L176.2,4123.7 L174.2,4123.7 L172.2,4123.7 L170.2,4123.7 L168.2,4123.7 L166.2,4123.7 L164.2,4123.7 L162.2,4123.7 L160.2,4123.7 L158.2,4123.7 L156.2,4123.7 L154.2,4123.7 L152.2,4123.7 L150.2,4123.7 L148.2,4123.7 L146.2,4123.7Z" fill="url(#ge2)"/><path d="M146.2,4123.3 L148.2,4123.3 L150.2,4123.3 L152.2,4123.3 L154.2,4123.3 L156.2,4123.3 L158.2,4123.3 L160.2,4123.3 L162.2,4123.3 L164.2,4123.3 L166.2,4123.3 L168.2,4123.3 L170.2,4123.3 L172.2,4123.3 L174.2,4123.3 L176.2,4123.3 L178.2,4123.3 L180.2,4123.3 L182.2,4123.3 L184.2,4123.3 L186.2,4123.3 L188.2,4123.3 L190.2,4123.3 L192.2,4123.3 L194.2,4123.3 L196.2,4123.3 L198.2,4123.3 L200.2,4123.3 L202.3,4123.3 L204.3,4123.3 L206.3,4123.3 L208.3,4123.3 L210.3,4123.3 L212.3,4123.3 L214.3,4123.3 L216.3,4123.3 L218.3,4123.3 L220.3,4123.3 L222.3,4123.3 L224.3,4123.3 L226.3,4123.3 L228.3,4123.3 L230.3,4123.3 L232.3,4123.3 L234.3,4123.3 L236.3,4123.3 L238.3,4123.3 L240.3,4123.3 L242.3,4123.3 L244.3,4123.3 L246.3,4123.3 L248.3,4123.3 L250.3,4123.3 L252.3,4123.2 L254.3,4123.2 L256.3,4123.2 L258.3,4123.2 L260.3,4123.2 L262.3,4123.2 L264.3,4123.2 L266.3,4123.2 L268.3,4123.2 L270.3,4123.2 L272.3,4123.2 L274.3,4123.2 L276.3,4123.2 L278.3,4123.2 L280.3,4123.2 L282.3,4123.2 L284.3,4123.2 L286.3,4123.2 L288.3,4123.2 L290.3,4123.2 L292.3,4123.2 L294.3,4123.2 L296.3,4123.2 L298.3,4123.2 L300.3,4123.2 L302.3,4123.2 L304.3,4123.2 L306.3,4123.2 L308.3,4123.2 L310.4,4123.2 L312.4,4123.2 L314.4,4123.2 L316.4,4123.2 L318.4,4123.2 L320.4,4123.2 L322.4,4123.2 L324.4,4123.2 L326.4,4123.2 L328.4,4123.2 L330.4,4123.2 L332.4,4123.2 L334.4,4123.2 L336.4,4123.2 L338.4,4123.2 L340.4,4123.2 L342.4,4123.2 L344.4,4123.1 L346.4,4123.1 L348.4,4123.1 L350.4,4123.1 L352.4,4123.1 L354.4,4123.1 L356.4,4123.1 L358.4,4123.1 L360.4,4123.1 L362.4,4123.1 L364.4,4123.1 L366.4,4123.1 L368.4,4123.1 L370.4,4123.1 L372.4,4123.1 L374.4,4123.1 L376.4,4123.1 L378.4,4123.1 L380.4,4123.1 L382.4,4123.1 L384.4,4123.1 L386.4,4123.1 L388.4,4123.1 L390.4,4123.1 L392.4,4123.1 L394.4,4123.1 L396.4,4123.1 L398.4,4123.1 L400.4,4123.1 L402.4,4123.1 L404.4,4123.1 L406.4,4123.0 L408.4,4123.0 L410.4,4123.0 L412.4,4123.0 L414.4,4123.0 L416.4,4123.0 L418.4,4123.0 L420.5,4123.0 L422.5,4123.0 L424.5,4123.0 L426.5,4123.0 L428.5,4123.0 L430.5,4123.0 L432.5,4123.0 L434.5,4123.0 L436.5,4123.0 L438.5,4123.0 L440.5,4123.0 L442.5,4123.0 L444.5,4123.0 L446.5,4123.0 L448.5,4123.0 L450.5,4123.0 L452.5,4123.0 L454.5,4123.0 L456.5,4123.0 L458.5,4123.0 L460.5,4123.0 L462.5,4123.0 L464.5,4123.0 L466.5,4123.0 L468.5,4122.9 L470.5,4122.9 L472.5,4122.9 L474.5,4122.9 L476.5,4122.9 L478.5,4122.9 L480.5,4122.9 L482.5,4122.9 L484.5,4122.9 L486.5,4122.9 L488.5,4122.9 L490.5,4122.9 L492.5,4122.9 L494.5,4122.9 L496.5,4122.9 L498.5,4122.9 L500.5,4122.9 L502.5,4122.9 L504.5,4122.9 L506.5,4122.9 L508.5,4122.9 L510.5,4122.9 L512.5,4122.9 L514.5,4122.9 L516.5,4122.9 L518.5,4122.9 L520.5,4122.9 L522.5,4122.9 L524.5,4122.9 L526.5,4122.9 L528.6,4122.9 L530.6,4122.9 L532.6,4122.9 L534.6,4122.9 L536.6,4122.8 L538.6,4122.8 L540.6,4122.8 L542.6,4122.8 L544.6,4122.8 L546.6,4122.8 L548.6,4122.8 L550.6,4122.8 L552.6,4122.8 L554.6,4122.8 L556.6,4122.8 L558.6,4122.8 L560.6,4122.8 L562.6,4122.8 L564.6,4122.8 L566.6,4122.8 L568.6,4122.8 L570.6,4122.8 L572.6,4122.8 L574.6,4122.8 L576.6,4122.8 L578.6,4122.8 L580.6,4122.8 L582.6,4122.8 L584.6,4122.8 L586.6,4122.8 L588.6,4122.9 L590.6,4122.9 L592.6,4122.9 L594.6,4122.9 L596.6,4122.9 L598.6,4122.9 L600.6,4122.9 L602.6,4122.9 L604.6,4122.9 L606.6,4123.0 L608.6,4123.0 L610.6,4123.0 L612.6,4123.0 L614.6,4123.0 L616.6,4123.0 L618.6,4123.1 L620.6,4123.1 L622.6,4123.1 L624.6,4123.1 L626.6,4123.1 L628.6,4123.1 L630.6,4123.1 L632.6,4123.2 L634.6,4123.2 L636.6,4123.2 L638.7,4123.2 L640.7,4123.2 L642.7,4123.2 L644.7,4123.2 L646.7,4123.3 L648.7,4123.3 L650.7,4123.3 L652.7,4123.3 L654.7,4123.3 L656.7,4123.3 L658.7,4123.3 L660.7,4123.4 L662.7,4123.4 L664.7,4123.4 L666.7,4123.4 L668.7,4123.4 L670.7,4123.4 L672.7,4123.5 L674.7,4123.5 L676.7,4123.5 L678.7,4123.5 L680.7,4123.5 L682.7,4123.5 L684.7,4123.6 L686.7,4123.6 L688.7,4123.6 L690.7,4123.6 L692.7,4123.6 L694.7,4123.7 L696.7,4123.7 L698.7,4123.7 L700.7,4123.7 L702.7,4123.7 L704.7,4123.7 L706.7,4123.8 L708.7,4123.8 L710.7,4123.8 L712.7,4123.8 L714.7,4123.8 L716.7,4123.8 L718.7,4123.8 L720.7,4123.9 L722.7,4123.9 L724.7,4123.9 L726.7,4123.9 L728.7,4123.9 L730.7,4123.9 L732.7,4123.9 L734.7,4123.9 L736.7,4123.9 L738.7,4123.9 L740.7,4123.8 L742.7,4123.8 L744.7,4123.8 L746.8,4123.8 L748.8,4123.7 L750.8,4123.7 L752.8,4123.6 L754.8,4123.6 L756.8,4123.5 L758.8,4123.4 L760.8,4123.3 L762.8,4123.2 L764.8,4123.1 L766.8,4123.0 L768.8,4122.9 L770.8,4122.7 L772.8,4122.5 L774.8,4122.4 L776.8,4122.1 L778.8,4121.9 L780.8,4121.7 L782.8,4121.4 L784.8,4121.1 L786.8,4120.7 L788.8,4120.3 L790.8,4119.9 L792.8,4119.5 L794.8,4119.0 L796.8,4118.5 L798.8,4117.9 L800.8,4117.3 L802.8,4116.6 L804.8,4115.9 L806.8,4115.2 L808.8,4114.4 L810.8,4113.5 L812.8,4112.6 L814.8,4111.6 L816.8,4110.5 L818.8,4109.3 L820.8,4108.1 L822.8,4106.8 L824.8,4105.4 L826.8,4104.0 L828.8,4102.4 L830.8,4100.7 L832.8,4099.0 L834.8,4097.1 L836.8,4095.1 L838.8,4093.1 L840.8,4090.9 L842.8,4088.6 L844.8,4086.1 L846.8,4083.6 L848.8,4080.9 L850.8,4078.1 L852.8,4075.2 L854.8,4072.2 L856.9,4069.0 L858.9,4065.7 L860.9,4062.3 L862.9,4058.8 L864.9,4055.1 L866.9,4051.3 L868.9,4047.4 L870.9,4043.4 L872.9,4039.3 L874.9,4035.0 L876.9,4030.6 L878.9,4026.1 L880.9,4021.5 L882.9,4016.8 L884.9,4012.0 L886.9,4007.1 L888.9,4002.1 L890.9,3997.0 L892.9,3991.9 L894.9,3986.6 L896.9,3981.4 L898.9,3976.1 L900.9,3970.7 L902.9,3965.3 L904.9,3960.0 L906.9,3954.6 L908.9,3949.2 L910.9,3943.9 L912.9,3938.6 L914.9,3933.4 L916.9,3928.3 L918.9,3923.2 L920.9,3918.2 L922.9,3913.3 L924.9,3908.5 L926.9,3903.9 L928.9,3899.4 L930.9,3895.1 L932.9,3890.9 L934.9,3887.0 L936.9,3883.2 L938.9,3879.6 L940.9,3876.3 L942.9,3873.1 L944.9,3870.2 L946.9,3867.6 L948.9,3865.2 L950.9,3863.1 L952.9,3861.3 L954.9,3859.8 L956.9,3858.5 L958.9,3857.6 L960.9,3857.0 L962.9,3856.7 L964.9,3856.7 L967.0,3857.0 L969.0,3857.6 L971.0,3858.5 L973.0,3859.7 L975.0,3861.2 L977.0,3863.0 L979.0,3865.1 L981.0,3867.5 L983.0,3870.2 L985.0,3873.1 L987.0,3876.3 L989.0,3879.7 L991.0,3883.4 L993.0,3887.4 L995.0,3891.6 L997.0,3895.9 L999.0,3900.5 L1001.0,3905.3 L1003.0,3910.3 L1005.0,3915.4 L1007.0,3920.7 L1009.0,3926.1 L1011.0,3931.6 L1013.0,3937.3 L1015.0,3943.0 L1017.0,3948.8 L1019.0,3954.7 L1021.0,3960.7 L1023.0,3966.7 L1025.0,3972.7 L1027.0,3978.7 L1029.0,3984.8 L1031.0,3990.8 L1033.0,3996.9 L1035.0,4002.9 L1037.0,4008.8 L1039.0,4014.7 L1041.0,4020.6 L1043.0,4026.4 L1045.0,4032.1 L1047.0,4037.8 L1049.0,4043.3 L1051.0,4048.8 L1053.0,4054.1 L1055.0,4059.3 L1057.0,4064.5 L1059.0,4069.5 L1061.0,4074.4 L1063.0,4079.1 L1065.0,4083.8 L1067.0,4088.3 L1069.0,4092.6 L1071.0,4096.9 L1073.0,4100.9 L1075.1,4104.9 L1077.1,4108.7 L1079.1,4112.4 L1081.1,4115.9 L1083.1,4119.4 L1085.1,4122.6 L1087.1,4125.8 L1089.1,4128.8 L1091.1,4131.7 L1093.1,4134.4 L1095.1,4137.1 L1097.1,4139.6 L1099.1,4142.0 L1101.1,4144.2 L1103.1,4146.4 L1105.1,4148.5 L1107.1,4150.4 L1109.1,4152.3 L1111.1,4154.0 L1113.1,4155.7 L1115.1,4157.2 L1117.1,4158.7 L1119.1,4160.1 L1121.1,4161.4 L1123.1,4162.7 L1125.1,4163.9 L1127.1,4165.0 L1129.1,4166.0 L1131.1,4167.0 L1133.1,4167.9 L1135.1,4168.7 L1137.1,4169.5 L1139.1,4170.3 L1141.1,4171.0 L1143.1,4171.7 L1145.1,4172.3 L1147.1,4172.9 L1149.1,4173.4 L1151.1,4173.9 L1153.1,4174.4 L1155.1,4174.8 L1157.1,4175.2 L1159.1,4175.6 L1161.1,4176.0 L1163.1,4176.3 L1165.1,4176.6 L1167.1,4176.9 L1169.1,4177.2 L1171.1,4177.4 L1173.1,4177.7 L1175.1,4177.9 L1177.1,4178.1 L1179.1,4178.3 L1181.1,4178.4 L1183.1,4178.6 L1185.2,4178.7 L1187.2,4178.9 L1189.2,4179.0 L1191.2,4179.1 L1193.2,4179.3 L1195.2,4179.4 L1197.2,4179.5 L1199.2,4179.6 L1201.2,4179.7 L1203.2,4179.8 L1205.2,4179.9 L1207.2,4179.9 L1209.2,4180.0 L1211.2,4180.1 L1213.2,4180.2 L1215.2,4180.2 L1217.2,4180.3 L1219.2,4180.3 L1221.2,4180.4 L1223.2,4180.5 L1225.2,4180.5 L1227.2,4180.6 L1229.2,4180.6 L1231.2,4180.7 L1233.2,4180.7 L1235.2,4180.7 L1237.2,4180.8 L1239.2,4180.8 L1241.2,4180.8 L1243.2,4180.9 L1245.2,4180.9 L1247.2,4180.9 L1249.2,4181.0 L1251.2,4181.0 L1253.2,4181.0 L1255.2,4181.0 L1257.2,4181.0 L1259.2,4181.1 L1261.2,4181.1 L1263.2,4181.1 L1265.2,4181.1 L1267.2,4181.1 L1269.2,4181.1 L1271.2,4181.2 L1273.2,4181.2 L1275.2,4181.2 L1277.2,4181.2 L1279.2,4181.2 L1281.2,4181.2 L1283.2,4181.3 L1285.2,4181.3 L1287.2,4181.3 L1289.2,4181.3 L1291.2,4181.3 L1293.3,4181.3 L1295.3,4181.3 L1297.3,4181.4 L1299.3,4181.4 L1301.3,4181.4 L1303.3,4181.4 L1305.3,4181.4 L1307.3,4181.4 L1309.3,4181.4 L1311.3,4181.5 L1313.3,4181.5 L1315.3,4181.5 L1317.3,4181.5 L1319.3,4181.5 L1321.3,4181.5 L1323.3,4181.5 L1325.3,4181.5 L1327.3,4181.5 L1329.3,4181.6 L1331.3,4181.6 L1333.3,4181.6 L1335.3,4181.6 L1337.3,4181.6 L1339.3,4181.6 L1341.3,4181.6 L1343.3,4181.6 L1345.3,4181.6 L1347.3,4181.6" stroke="#6060ff" stroke-opacity="0.45" stroke-width="5.0" fill="none" stroke-linejoin="round"/>
<path d="M146.2,4123.2 L148.2,4123.2 L150.2,4123.2 L152.2,4123.2 L154.2,4123.2 L156.2,4123.2 L158.2,4123.2 L160.2,4123.1 L162.2,4123.1 L164.2,4123.1 L166.2,4123.1 L168.2,4123.1 L170.2,4123.1 L172.2,4123.1 L174.2,4123.1 L176.2,4123.1 L178.2,4123.1 L180.2,4123.1 L182.2,4123.1 L184.2,4123.1 L186.2,4123.1 L188.2,4123.1 L190.2,4123.1 L192.2,4123.1 L194.2,4123.1 L196.2,4123.1 L198.2,4123.1 L200.2,4123.1 L202.3,4123.1 L204.3,4123.1 L206.3,4123.1 L208.3,4123.1 L210.3,4123.1 L212.3,4123.1 L214.3,4123.1 L216.3,4123.1 L218.3,4123.1 L220.3,4123.0 L222.3,4123.0 L224.3,4123.0 L226.3,4123.0 L228.3,4123.0 L230.3,4123.0 L232.3,4123.0 L234.3,4123.0 L236.3,4123.0 L238.3,4123.0 L240.3,4123.0 L242.3,4123.0 L244.3,4123.0 L246.3,4123.0 L248.3,4123.0 L250.3,4123.0 L252.3,4123.0 L254.3,4123.0 L256.3,4123.0 L258.3,4123.0 L260.3,4123.0 L262.3,4123.0 L264.3,4123.0 L266.3,4123.0 L268.3,4123.0 L270.3,4122.9 L272.3,4122.9 L274.3,4122.9 L276.3,4122.9 L278.3,4122.9 L280.3,4122.9 L282.3,4122.9 L284.3,4122.9 L286.3,4122.9 L288.3,4122.9 L290.3,4122.9 L292.3,4122.9 L294.3,4122.9 L296.3,4122.9 L298.3,4122.9 L300.3,4122.9 L302.3,4122.9 L304.3,4122.9 L306.3,4122.9 L308.3,4122.8 L310.4,4122.8 L312.4,4122.8 L314.4,4122.8 L316.4,4122.8 L318.4,4122.8 L320.4,4122.8 L322.4,4122.8 L324.4,4122.8 L326.4,4122.8 L328.4,4122.8 L330.4,4122.8 L332.4,4122.8 L334.4,4122.8 L336.4,4122.7 L338.4,4122.7 L340.4,4122.7 L342.4,4122.7 L344.4,4122.7 L346.4,4122.7 L348.4,4122.7 L350.4,4122.7 L352.4,4122.7 L354.4,4122.7 L356.4,4122.6 L358.4,4122.6 L360.4,4122.6 L362.4,4122.6 L364.4,4122.6 L366.4,4122.6 L368.4,4122.6 L370.4,4122.5 L372.4,4122.5 L374.4,4122.5 L376.4,4122.5 L378.4,4122.5 L380.4,4122.5 L382.4,4122.4 L384.4,4122.4 L386.4,4122.4 L388.4,4122.4 L390.4,4122.4 L392.4,4122.3 L394.4,4122.3 L396.4,4122.3 L398.4,4122.3 L400.4,4122.2 L402.4,4122.2 L404.4,4122.2 L406.4,4122.1 L408.4,4122.1 L410.4,4122.1 L412.4,4122.0 L414.4,4122.0 L416.4,4121.9 L418.4,4121.9 L420.5,4121.8 L422.5,4121.8 L424.5,4121.7 L426.5,4121.7 L428.5,4121.6 L430.5,4121.6 L432.5,4121.5 L434.5,4121.4 L436.5,4121.4 L438.5,4121.3 L440.5,4121.2 L442.5,4121.1 L444.5,4121.1 L446.5,4121.0 L448.5,4120.9 L450.5,4120.8 L452.5,4120.7 L454.5,4120.6 L456.5,4120.5 L458.5,4120.3 L460.5,4120.2 L462.5,4120.1 L464.5,4120.0 L466.5,4119.8 L468.5,4119.7 L470.5,4119.5 L472.5,4119.3 L474.5,4119.2 L476.5,4119.0 L478.5,4118.8 L480.5,4118.6 L482.5,4118.4 L484.5,4118.2 L486.5,4117.9 L488.5,4117.7 L490.5,4117.4 L492.5,4117.2 L494.5,4116.9 L496.5,4116.6 L498.5,4116.3 L500.5,4116.0 L502.5,4115.7 L504.5,4115.3 L506.5,4115.0 L508.5,4114.6 L510.5,4114.2 L512.5,4113.8 L514.5,4113.4 L516.5,4113.0 L518.5,4112.5 L520.5,4112.0 L522.5,4111.5 L524.5,4111.0 L526.5,4110.5 L528.6,4109.9 L530.6,4109.3 L532.6,4108.7 L534.6,4108.1 L536.6,4107.4 L538.6,4106.8 L540.6,4106.1 L542.6,4105.3 L544.6,4104.6 L546.6,4103.8 L548.6,4103.0 L550.6,4102.1 L552.6,4101.2 L554.6,4100.3 L556.6,4099.4 L558.6,4098.4 L560.6,4097.4 L562.6,4096.4 L564.6,4095.3 L566.6,4094.2 L568.6,4093.0 L570.6,4091.9 L572.6,4090.6 L574.6,4089.4 L576.6,4088.1 L578.6,4086.7 L580.6,4085.4 L582.6,4084.0 L584.6,4082.5 L586.6,4081.0 L588.6,4079.4 L590.6,4077.9 L592.6,4076.2 L594.6,4074.5 L596.6,4072.8 L598.6,4071.0 L600.6,4069.2 L602.6,4067.3 L604.6,4065.4 L606.6,4063.5 L608.6,4061.4 L610.6,4059.4 L612.6,4057.3 L614.6,4055.1 L616.6,4052.9 L618.6,4050.6 L620.6,4048.3 L622.6,4045.9 L624.6,4043.5 L626.6,4041.0 L628.6,4038.5 L630.6,4035.9 L632.6,4033.2 L634.6,4030.5 L636.6,4027.8 L638.7,4025.0 L640.7,4022.1 L642.7,4019.2 L644.7,4016.3 L646.7,4013.3 L648.7,4010.2 L650.7,4007.1 L652.7,4004.0 L654.7,4000.8 L656.7,3997.5 L658.7,3994.2 L660.7,3990.9 L662.7,3987.5 L664.7,3984.1 L666.7,3980.6 L668.7,3977.1 L670.7,3973.5 L672.7,3969.9 L674.7,3966.3 L676.7,3962.7 L678.7,3959.0 L680.7,3955.2 L682.7,3951.5 L684.7,3947.7 L686.7,3943.8 L688.7,3940.0 L690.7,3936.1 L692.7,3932.2 L694.7,3928.3 L696.7,3924.4 L698.7,3920.4 L700.7,3916.5 L702.7,3912.5 L704.7,3908.5 L706.7,3904.5 L708.7,3900.6 L710.7,3896.6 L712.7,3892.6 L714.7,3888.6 L716.7,3884.6 L718.7,3880.6 L720.7,3876.7 L722.7,3872.7 L724.7,3868.8 L726.7,3864.9 L728.7,3861.0 L730.7,3857.2 L732.7,3853.3 L734.7,3849.5 L736.7,3845.8 L738.7,3842.1 L740.7,3838.4 L742.7,3834.7 L744.7,3831.2 L746.8,3827.6 L748.8,3824.1 L750.8,3820.7 L752.8,3817.3 L754.8,3814.0 L756.8,3810.8 L758.8,3807.6 L760.8,3804.5 L762.8,3801.5 L764.8,3798.5 L766.8,3795.6 L768.8,3792.9 L770.8,3790.1 L772.8,3787.5 L774.8,3785.0 L776.8,3782.6 L778.8,3780.2 L780.8,3778.0 L782.8,3775.8 L784.8,3773.8 L786.8,3771.8 L788.8,3770.0 L790.8,3768.3 L792.8,3766.6 L794.8,3765.1 L796.8,3763.7 L798.8,3762.4 L800.8,3761.3 L802.8,3760.2 L804.8,3759.3 L806.8,3758.5 L808.8,3757.8 L810.8,3757.3 L812.8,3756.8 L814.8,3756.6 L816.8,3756.4 L818.8,3756.3 L820.8,3756.4 L822.8,3756.6 L824.8,3757.0 L826.8,3757.4 L828.8,3758.0 L830.8,3758.7 L832.8,3759.6 L834.8,3760.5 L836.8,3761.6 L838.8,3762.8 L840.8,3764.1 L842.8,3765.6 L844.8,3767.1 L846.8,3768.8 L848.8,3770.6 L850.8,3772.5 L852.8,3774.6 L854.8,3776.7 L856.9,3779.0 L858.9,3781.4 L860.9,3783.9 L862.9,3786.5 L864.9,3789.2 L866.9,3792.0 L868.9,3794.9 L870.9,3798.0 L872.9,3801.1 L874.9,3804.3 L876.9,3807.6 L878.9,3811.0 L880.9,3814.5 L882.9,3818.0 L884.9,3821.7 L886.9,3825.4 L888.9,3829.1 L890.9,3833.0 L892.9,3836.9 L894.9,3840.8 L896.9,3844.8 L898.9,3848.9 L900.9,3853.0 L902.9,3857.2 L904.9,3861.4 L906.9,3865.7 L908.9,3870.0 L910.9,3874.4 L912.9,3878.8 L914.9,3883.2 L916.9,3887.7 L918.9,3892.1 L920.9,3896.7 L922.9,3901.2 L924.9,3905.7 L926.9,3910.3 L928.9,3914.9 L930.9,3919.5 L932.9,3924.0 L934.9,3928.6 L936.9,3933.2 L938.9,3937.8 L940.9,3942.3 L942.9,3946.9 L944.9,3951.4 L946.9,3955.9 L948.9,3960.4 L950.9,3964.9 L952.9,3969.3 L954.9,3973.8 L956.9,3978.2 L958.9,3982.6 L960.9,3986.9 L962.9,3991.3 L964.9,3995.5 L967.0,3999.8 L969.0,4004.0 L971.0,4008.2 L973.0,4012.3 L975.0,4016.3 L977.0,4020.3 L979.0,4024.2 L981.0,4028.1 L983.0,4031.9 L985.0,4035.6 L987.0,4039.2 L989.0,4042.9 L991.0,4046.4 L993.0,4049.9 L995.0,4053.4 L997.0,4056.8 L999.0,4060.1 L1001.0,4063.4 L1003.0,4066.7 L1005.0,4069.8 L1007.0,4072.9 L1009.0,4076.0 L1011.0,4079.0 L1013.0,4081.9 L1015.0,4084.8 L1017.0,4087.6 L1019.0,4090.4 L1021.0,4093.1 L1023.0,4095.8 L1025.0,4098.3 L1027.0,4100.9 L1029.0,4103.4 L1031.0,4105.8 L1033.0,4108.1 L1035.0,4110.5 L1037.0,4112.7 L1039.0,4114.9 L1041.0,4117.0 L1043.0,4119.1 L1045.0,4121.2 L1047.0,4123.2 L1049.0,4125.1 L1051.0,4127.0 L1053.0,4128.8 L1055.0,4130.6 L1057.0,4132.3 L1059.0,4134.0 L1061.0,4135.7 L1063.0,4137.3 L1065.0,4138.8 L1067.0,4140.3 L1069.0,4141.8 L1071.0,4143.2 L1073.0,4144.6 L1075.1,4145.9 L1077.1,4147.2 L1079.1,4148.5 L1081.1,4149.7 L1083.1,4150.9 L1085.1,4152.0 L1087.1,4153.1 L1089.1,4154.2 L1091.1,4155.2 L1093.1,4156.2 L1095.1,4157.2 L1097.1,4158.1 L1099.1,4159.0 L1101.1,4159.9 L1103.1,4160.7 L1105.1,4161.5 L1107.1,4162.3 L1109.1,4163.1 L1111.1,4163.8 L1113.1,4164.5 L1115.1,4165.2 L1117.1,4165.9 L1119.1,4166.5 L1121.1,4167.1 L1123.1,4167.7 L1125.1,4168.3 L1127.1,4168.9 L1129.1,4169.4 L1131.1,4169.9 L1133.1,4170.4 L1135.1,4170.9 L1137.1,4171.4 L1139.1,4171.8 L1141.1,4172.2 L1143.1,4172.7 L1145.1,4173.1 L1147.1,4173.4 L1149.1,4173.8 L1151.1,4174.2 L1153.1,4174.5 L1155.1,4174.8 L1157.1,4175.2 L1159.1,4175.5 L1161.1,4175.7 L1163.1,4176.0 L1165.1,4176.3 L1167.1,4176.5 L1169.1,4176.8 L1171.1,4177.0 L1173.1,4177.2 L1175.1,4177.5 L1177.1,4177.7 L1179.1,4177.8 L1181.1,4178.0 L1183.1,4178.2 L1185.2,4178.4 L1187.2,4178.5 L1189.2,4178.7 L1191.2,4178.8 L1193.2,4179.0 L1195.2,4179.1 L1197.2,4179.2 L1199.2,4179.4 L1201.2,4179.5 L1203.2,4179.6 L1205.2,4179.7 L1207.2,4179.8 L1209.2,4179.9 L1211.2,4180.0 L1213.2,4180.1 L1215.2,4180.2 L1217.2,4180.3 L1219.2,4180.4 L1221.2,4180.5 L1223.2,4180.6 L1225.2,4180.6 L1227.2,4180.7 L1229.2,4180.8 L1231.2,4180.8 L1233.2,4180.9 L1235.2,4180.9 L1237.2,4181.0 L1239.2,4181.0 L1241.2,4181.1 L1243.2,4181.1 L1245.2,4181.2 L1245.2,4181.5 L1243.2,4181.4 L1241.2,4181.4 L1239.2,4181.4 L1237.2,4181.4 L1235.2,4181.4 L1233.2,4181.3 L1231.2,4181.3 L1229.2,4181.3 L1227.2,4181.2 L1225.2,4181.2 L1223.2,4181.2 L1221.2,4181.1 L1219.2,4181.1 L1217.2,4181.1 L1215.2,4181.0 L1213.2,4181.0 L1211.2,4180.9 L1209.2,4180.9 L1207.2,4180.9 L1205.2,4180.8 L1203.2,4180.8 L1201.2,4180.7 L1199.2,4180.7 L1197.2,4180.6 L1195.2,4180.6 L1193.2,4180.5 L1191.2,4180.5 L1189.2,4180.4 L1187.2,4180.4 L1185.2,4180.3 L1183.1,4180.3 L1181.1,4180.2 L1179.1,4180.2 L1177.1,4180.1 L1175.1,4180.1 L1173.1,4180.0 L1171.1,4179.9 L1169.1,4179.9 L1167.1,4179.8 L1165.1,4179.7 L1163.1,4179.7 L1161.1,4179.6 L1159.1,4179.5 L1157.1,4179.4 L1155.1,4179.4 L1153.1,4179.3 L1151.1,4179.2 L1149.1,4179.1 L1147.1,4179.0 L1145.1,4178.9 L1143.1,4178.8 L1141.1,4178.8 L1139.1,4178.7 L1137.1,4178.6 L1135.1,4178.5 L1133.1,4178.4 L1131.1,4178.3 L1129.1,4178.2 L1127.1,4178.1 L1125.1,4178.0 L1123.1,4177.9 L1121.1,4177.8 L1119.1,4177.7 L1117.1,4177.6 L1115.1,4177.5 L1113.1,4177.4 L1111.1,4177.3 L1109.1,4177.2 L1107.1,4177.1 L1105.1,4177.0 L1103.1,4176.9 L1101.1,4176.8 L1099.1,4176.7 L1097.1,4176.6 L1095.1,4176.5 L1093.1,4176.4 L1091.1,4176.2 L1089.1,4176.1 L1087.1,4176.0 L1085.1,4175.9 L1083.1,4175.8 L1081.1,4175.7 L1079.1,4175.5 L1077.1,4175.4 L1075.1,4175.3 L1073.0,4175.1 L1071.0,4175.0 L1069.0,4174.9 L1067.0,4174.8 L1065.0,4174.6 L1063.0,4174.5 L1061.0,4174.3 L1059.0,4174.2 L1057.0,4174.0 L1055.0,4173.9 L1053.0,4173.7 L1051.0,4173.6 L1049.0,4173.4 L1047.0,4173.3 L1045.0,4173.1 L1043.0,4172.9 L1041.0,4172.8 L1039.0,4172.6 L1037.0,4172.4 L1035.0,4172.2 L1033.0,4172.0 L1031.0,4171.9 L1029.0,4171.7 L1027.0,4171.5 L1025.0,4171.3 L1023.0,4171.1 L1021.0,4170.9 L1019.0,4170.7 L1017.0,4170.4 L1015.0,4170.2 L1013.0,4170.0 L1011.0,4169.8 L1009.0,4169.5 L1007.0,4169.3 L1005.0,4169.1 L1003.0,4168.8 L1001.0,4168.6 L999.0,4168.3 L997.0,4168.1 L995.0,4167.8 L993.0,4167.5 L991.0,4167.2 L989.0,4167.0 L987.0,4166.7 L985.0,4166.4 L983.0,4166.1 L981.0,4165.8 L979.0,4165.4 L977.0,4165.1 L975.0,4164.7 L973.0,4164.3 L971.0,4163.8 L969.0,4163.4 L967.0,4163.0 L964.9,4162.5 L962.9,4162.0 L960.9,4161.6 L958.9,4161.1 L956.9,4160.6 L954.9,4160.1 L952.9,4159.7 L950.9,4159.2 L948.9,4158.8 L946.9,4158.3 L944.9,4157.8 L942.9,4157.4 L940.9,4156.9 L938.9,4156.4 L936.9,4155.9 L934.9,4155.4 L932.9,4154.9 L930.9,4154.4 L928.9,4153.9 L926.9,4153.4 L924.9,4152.9 L922.9,4152.4 L920.9,4151.9 L918.9,4151.4 L916.9,4150.9 L914.9,4150.5 L912.9,4150.0 L910.9,4149.5 L908.9,4149.0 L906.9,4148.5 L904.9,4148.1 L902.9,4147.6 L900.9,4147.2 L898.9,4146.8 L896.9,4146.3 L894.9,4145.9 L892.9,4145.4 L890.9,4145.0 L888.9,4144.6 L886.9,4144.1 L884.9,4143.7 L882.9,4143.3 L880.9,4142.8 L878.9,4142.4 L876.9,4142.0 L874.9,4141.6 L872.9,4141.1 L870.9,4140.7 L868.9,4140.3 L866.9,4140.0 L864.9,4139.6 L862.9,4139.2 L860.9,4138.8 L858.9,4138.5 L856.9,4138.2 L854.8,4137.8 L852.8,4137.5 L850.8,4137.2 L848.8,4136.9 L846.8,4136.7 L844.8,4136.4 L842.8,4136.1 L840.8,4135.8 L838.8,4135.6 L836.8,4135.3 L834.8,4135.0 L832.8,4134.8 L830.8,4134.5 L828.8,4134.3 L826.8,4134.1 L824.8,4133.8 L822.8,4133.6 L820.8,4133.4 L818.8,4133.2 L816.8,4133.0 L814.8,4132.8 L812.8,4132.6 L810.8,4132.4 L808.8,4132.2 L806.8,4132.0 L804.8,4131.9 L802.8,4131.7 L800.8,4131.6 L798.8,4131.4 L796.8,4131.3 L794.8,4131.1 L792.8,4131.0 L790.8,4130.9 L788.8,4130.7 L786.8,4130.6 L784.8,4130.5 L782.8,4130.3 L780.8,4130.2 L778.8,4130.1 L776.8,4130.0 L774.8,4129.9 L772.8,4129.8 L770.8,4129.6 L768.8,4129.5 L766.8,4129.4 L764.8,4129.3 L762.8,4129.2 L760.8,4129.1 L758.8,4129.0 L756.8,4128.9 L754.8,4128.8 L752.8,4128.7 L750.8,4128.6 L748.8,4128.5 L746.8,4128.5 L744.7,4128.4 L742.7,4128.3 L740.7,4128.2 L738.7,4128.1 L736.7,4128.0 L734.7,4128.0 L732.7,4127.9 L730.7,4127.8 L728.7,4127.7 L726.7,4127.6 L724.7,4127.6 L722.7,4127.5 L720.7,4127.4 L718.7,4127.4 L716.7,4127.3 L714.7,4127.2 L712.7,4127.1 L710.7,4127.1 L708.7,4127.0 L706.7,4127.0 L704.7,4126.9 L702.7,4126.8 L700.7,4126.8 L698.7,4126.7 L696.7,4126.6 L694.7,4126.6 L692.7,4126.5 L690.7,4126.5 L688.7,4126.4 L686.7,4126.4 L684.7,4126.3 L682.7,4126.2 L680.7,4126.2 L678.7,4126.1 L676.7,4126.1 L674.7,4126.0 L672.7,4126.0 L670.7,4125.9 L668.7,4125.9 L666.7,4125.9 L664.7,4125.8 L662.7,4125.8 L660.7,4125.7 L658.7,4125.7 L656.7,4125.6 L654.7,4125.6 L652.7,4125.6 L650.7,4125.5 L648.7,4125.5 L646.7,4125.4 L644.7,4125.4 L642.7,4125.4 L640.7,4125.3 L638.7,4125.3 L636.6,4125.2 L634.6,4125.2 L632.6,4125.2 L630.6,4125.1 L628.6,4125.1 L626.6,4125.1 L624.6,4125.0 L622.6,4125.0 L620.6,4125.0 L618.6,4124.9 L616.6,4124.9 L614.6,4124.8 L612.6,4124.8 L610.6,4124.8 L608.6,4124.7 L606.6,4124.7 L604.6,4124.7 L602.6,4124.6 L600.6,4124.6 L598.6,4124.6 L596.6,4124.6 L594.6,4124.5 L592.6,4124.5 L590.6,4124.5 L588.6,4124.5 L586.6,4124.4 L584.6,4124.4 L582.6,4124.4 L580.6,4124.4 L578.6,4124.3 L576.6,4124.3 L574.6,4124.3 L572.6,4124.3 L570.6,4124.3 L568.6,4124.3 L566.6,4124.2 L564.6,4124.2 L562.6,4124.2 L560.6,4124.2 L558.6,4124.2 L556.6,4124.2 L554.6,4124.2 L552.6,4124.2 L550.6,4124.2 L548.6,4124.1 L546.6,4124.1 L544.6,4124.1 L542.6,4124.1 L540.6,4124.1 L538.6,4124.1 L536.6,4124.1 L534.6,4124.1 L532.6,4124.1 L530.6,4124.1 L528.6,4124.1 L526.5,4124.1 L524.5,4124.1 L522.5,4124.0 L520.5,4124.0 L518.5,4124.0 L516.5,4124.0 L514.5,4124.0 L512.5,4124.0 L510.5,4124.0 L508.5,4124.0 L506.5,4124.0 L504.5,4124.0 L502.5,4124.0 L500.5,4124.0 L498.5,4124.0 L496.5,4124.0 L494.5,4124.0 L492.5,4124.0 L490.5,4123.9 L488.5,4123.9 L486.5,4123.9 L484.5,4123.9 L482.5,4123.9 L480.5,4123.9 L478.5,4123.9 L476.5,4123.9 L474.5,4123.9 L472.5,4123.9 L470.5,4123.9 L468.5,4123.9 L466.5,4123.9 L464.5,4123.9 L462.5,4123.9 L460.5,4123.9 L458.5,4123.9 L456.5,4123.9 L454.5,4123.9 L452.5,4123.9 L450.5,4123.9 L448.5,4123.9 L446.5,4123.9 L444.5,4123.9 L442.5,4123.8 L440.5,4123.8 L438.5,4123.8 L436.5,4123.8 L434.5,4123.8 L432.5,4123.8 L430.5,4123.8 L428.5,4123.8 L426.5,4123.8 L424.5,4123.8 L422.5,4123.8 L420.5,4123.8 L418.4,4123.8 L416.4,4123.8 L414.4,4123.8 L412.4,4123.8 L410.4,4123.8 L408.4,4123.8 L406.4,4123.8 L404.4,4123.8 L402.4,4123.8 L400.4,4123.8 L398.4,4123.8 L396.4,4123.8 L394.4,4123.8 L392.4,4123.8 L390.4,4123.8 L388.4,4123.8 L386.4,4123.8 L384.4,4123.8 L382.4,4123.8 L380.4,4123.8 L378.4,4123.8 L376.4,4123.8 L374.4,4123.8 L372.4,4123.8 L370.4,4123.8 L368.4,4123.8 L366.4,4123.8 L364.4,4123.8 L362.4,4123.8 L360.4,4123.8 L358.4,4123.8 L356.4,4123.8 L354.4,4123.8 L352.4,4123.8 L350.4,4123.8 L348.4,4123.8 L346.4,4123.8 L344.4,4123.8 L342.4,4123.8 L340.4,4123.8 L338.4,4123.8 L336.4,4123.8 L334.4,4123.8 L332.4,4123.8 L330.4,4123.8 L328.4,4123.8 L326.4,4123.8 L324.4,4123.8 L322.4,4123.8 L320.4,4123.7 L318.4,4123.7 L316.4,4123.7 L314.4,4123.7 L312.4,4123.7 L310.4,4123.7 L308.3,4123.7 L306.3,4123.7 L304.3,4123.7 L302.3,4123.7 L300.3,4123.7 L298.3,4123.7 L296.3,4123.7 L294.3,4123.7 L292.3,4123.7 L290.3,4123.7 L288.3,4123.7 L286.3,4123.7 L284.3,4123.7 L282.3,4123.7 L280.3,4123.7 L278.3,4123.7 L276.3,4123.7 L274.3,4123.7 L272.3,4123.7 L270.3,4123.7 L268.3,4123.7 L266.3,4123.7 L264.3,4123.7 L262.3,4123.7 L260.3,4123.7 L258.3,4123.7 L256.3,4123.7 L254.3,4123.7 L252.3,4123.7 L250.3,4123.7 L248.3,4123.7 L246.3,4123.7 L244.3,4123.7 L242.3,4123.7 L240.3,4123.7 L238.3,4123.7 L236.3,4123.7 L234.3,4123.7 L232.3,4123.7 L230.3,4123.7 L228.3,4123.7 L226.3,4123.7 L224.3,4123.7 L222.3,4123.7 L220.3,4123.7 L218.3,4123.7 L216.3,4123.7 L214.3,4123.7 L212.3,4123.7 L210.3,4123.7 L208.3,4123.7 L206.3,4123.7 L204.3,4123.7 L202.3,4123.7 L200.2,4123.7 L198.2,4123.7 L196.2,4123.7 L194.2,4123.7 L192.2,4123.7 L190.2,4123.7 L188.2,4123.7 L186.2,4123.7 L184.2,4123.7 L182.2,4123.7 L180.2,4123.7 L178.2,4123.7 L176.2,4123.7 L174.2,4123.7 L172.2,4123.7 L170.2,4123.7 L168.2,4123.7 L166.2,4123.7 L164.2,4123.7 L162.2,4123.7 L160.2,4123.7 L158.2,4123.7 L156.2,4123.7 L154.2,4123.7 L152.2,4123.7 L150.2,4123.7 L148.2,4123.7 L146.2,4123.7Z" fill="url(#ge0)"/><path d="M146.2,4123.2 L148.2,4123.2 L150.2,4123.2 L152.2,4123.2 L154.2,4123.2 L156.2,4123.2 L158.2,4123.2 L160.2,4123.1 L162.2,4123.1 L164.2,4123.1 L166.2,4123.1 L168.2,4123.1 L170.2,4123.1 L172.2,4123.1 L174.2,4123.1 L176.2,4123.1 L178.2,4123.1 L180.2,4123.1 L182.2,4123.1 L184.2,4123.1 L186.2,4123.1 L188.2,4123.1 L190.2,4123.1 L192.2,4123.1 L194.2,4123.1 L196.2,4123.1 L198.2,4123.1 L200.2,4123.1 L202.3,4123.1 L204.3,4123.1 L206.3,4123.1 L208.3,4123.1 L210.3,4123.1 L212.3,4123.1 L214.3,4123.1 L216.3,4123.1 L218.3,4123.1 L220.3,4123.0 L222.3,4123.0 L224.3,4123.0 L226.3,4123.0 L228.3,4123.0 L230.3,4123.0 L232.3,4123.0 L234.3,4123.0 L236.3,4123.0 L238.3,4123.0 L240.3,4123.0 L242.3,4123.0 L244.3,4123.0 L246.3,4123.0 L248.3,4123.0 L250.3,4123.0 L252.3,4123.0 L254.3,4123.0 L256.3,4123.0 L258.3,4123.0 L260.3,4123.0 L262.3,4123.0 L264.3,4123.0 L266.3,4123.0 L268.3,4123.0 L270.3,4122.9 L272.3,4122.9 L274.3,4122.9 L276.3,4122.9 L278.3,4122.9 L280.3,4122.9 L282.3,4122.9 L284.3,4122.9 L286.3,4122.9 L288.3,4122.9 L290.3,4122.9 L292.3,4122.9 L294.3,4122.9 L296.3,4122.9 L298.3,4122.9 L300.3,4122.9 L302.3,4122.9 L304.3,4122.9 L306.3,4122.9 L308.3,4122.8 L310.4,4122.8 L312.4,4122.8 L314.4,4122.8 L316.4,4122.8 L318.4,4122.8 L320.4,4122.8 L322.4,4122.8 L324.4,4122.8 L326.4,4122.8 L328.4,4122.8 L330.4,4122.8 L332.4,4122.8 L334.4,4122.8 L336.4,4122.7 L338.4,4122.7 L340.4,4122.7 L342.4,4122.7 L344.4,4122.7 L346.4,4122.7 L348.4,4122.7 L350.4,4122.7 L352.4,4122.7 L354.4,4122.7 L356.4,4122.6 L358.4,4122.6 L360.4,4122.6 L362.4,4122.6 L364.4,4122.6 L366.4,4122.6 L368.4,4122.6 L370.4,4122.5 L372.4,4122.5 L374.4,4122.5 L376.4,4122.5 L378.4,4122.5 L380.4,4122.5 L382.4,4122.4 L384.4,4122.4 L386.4,4122.4 L388.4,4122.4 L390.4,4122.4 L392.4,4122.3 L394.4,4122.3 L396.4,4122.3 L398.4,4122.3 L400.4,4122.2 L402.4,4122.2 L404.4,4122.2 L406.4,4122.1 L408.4,4122.1 L410.4,4122.1 L412.4,4122.0 L414.4,4122.0 L416.4,4121.9 L418.4,4121.9 L420.5,4121.8 L422.5,4121.8 L424.5,4121.7 L426.5,4121.7 L428.5,4121.6 L430.5,4121.6 L432.5,4121.5 L434.5,4121.4 L436.5,4121.4 L438.5,4121.3 L440.5,4121.2 L442.5,4121.1 L444.5,4121.1 L446.5,4121.0 L448.5,4120.9 L450.5,4120.8 L452.5,4120.7 L454.5,4120.6 L456.5,4120.5 L458.5,4120.3 L460.5,4120.2 L462.5,4120.1 L464.5,4120.0 L466.5,4119.8 L468.5,4119.7 L470.5,4119.5 L472.5,4119.3 L474.5,4119.2 L476.5,4119.0 L478.5,4118.8 L480.5,4118.6 L482.5,4118.4 L484.5,4118.2 L486.5,4117.9 L488.5,4117.7 L490.5,4117.4 L492.5,4117.2 L494.5,4116.9 L496.5,4116.6 L498.5,4116.3 L500.5,4116.0 L502.5,4115.7 L504.5,4115.3 L506.5,4115.0 L508.5,4114.6 L510.5,4114.2 L512.5,4113.8 L514.5,4113.4 L516.5,4113.0 L518.5,4112.5 L520.5,4112.0 L522.5,4111.5 L524.5,4111.0 L526.5,4110.5 L528.6,4109.9 L530.6,4109.3 L532.6,4108.7 L534.6,4108.1 L536.6,4107.4 L538.6,4106.8 L540.6,4106.1 L542.6,4105.3 L544.6,4104.6 L546.6,4103.8 L548.6,4103.0 L550.6,4102.1 L552.6,4101.2 L554.6,4100.3 L556.6,4099.4 L558.6,4098.4 L560.6,4097.4 L562.6,4096.4 L564.6,4095.3 L566.6,4094.2 L568.6,4093.0 L570.6,4091.9 L572.6,4090.6 L574.6,4089.4 L576.6,4088.1 L578.6,4086.7 L580.6,4085.4 L582.6,4084.0 L584.6,4082.5 L586.6,4081.0 L588.6,4079.4 L590.6,4077.9 L592.6,4076.2 L594.6,4074.5 L596.6,4072.8 L598.6,4071.0 L600.6,4069.2 L602.6,4067.3 L604.6,4065.4 L606.6,4063.5 L608.6,4061.4 L610.6,4059.4 L612.6,4057.3 L614.6,4055.1 L616.6,4052.9 L618.6,4050.6 L620.6,4048.3 L622.6,4045.9 L624.6,4043.5 L626.6,4041.0 L628.6,4038.5 L630.6,4035.9 L632.6,4033.2 L634.6,4030.5 L636.6,4027.8 L638.7,4025.0 L640.7,4022.1 L642.7,4019.2 L644.7,4016.3 L646.7,4013.3 L648.7,4010.2 L650.7,4007.1 L652.7,4004.0 L654.7,4000.8 L656.7,3997.5 L658.7,3994.2 L660.7,3990.9 L662.7,3987.5 L664.7,3984.1 L666.7,3980.6 L668.7,3977.1 L670.7,3973.5 L672.7,3969.9 L674.7,3966.3 L676.7,3962.7 L678.7,3959.0 L680.7,3955.2 L682.7,3951.5 L684.7,3947.7 L686.7,3943.8 L688.7,3940.0 L690.7,3936.1 L692.7,3932.2 L694.7,3928.3 L696.7,3924.4 L698.7,3920.4 L700.7,3916.5 L702.7,3912.5 L704.7,3908.5 L706.7,3904.5 L708.7,3900.6 L710.7,3896.6 L712.7,3892.6 L714.7,3888.6 L716.7,3884.6 L718.7,3880.6 L720.7,3876.7 L722.7,3872.7 L724.7,3868.8 L726.7,3864.9 L728.7,3861.0 L730.7,3857.2 L732.7,3853.3 L734.7,3849.5 L736.7,3845.8 L738.7,3842.1 L740.7,3838.4 L742.7,3834.7 L744.7,3831.2 L746.8,3827.6 L748.8,3824.1 L750.8,3820.7 L752.8,3817.3 L754.8,3814.0 L756.8,3810.8 L758.8,3807.6 L760.8,3804.5 L762.8,3801.5 L764.8,3798.5 L766.8,3795.6 L768.8,3792.9 L770.8,3790.1 L772.8,3787.5 L774.8,3785.0 L776.8,3782.6 L778.8,3780.2 L780.8,3778.0 L782.8,3775.8 L784.8,3773.8 L786.8,3771.8 L788.8,3770.0 L790.8,3768.3 L792.8,3766.6 L794.8,3765.1 L796.8,3763.7 L798.8,3762.4 L800.8,3761.3 L802.8,3760.2 L804.8,3759.3 L806.8,3758.5 L808.8,3757.8 L810.8,3757.3 L812.8,3756.8 L814.8,3756.6 L816.8,3756.4 L818.8,3756.3 L820.8,3756.4 L822.8,3756.6 L824.8,3757.0 L826.8,3757.4 L828.8,3758.0 L830.8,3758.7 L832.8,3759.6 L834.8,3760.5 L836.8,3761.6 L838.8,3762.8 L840.8,3764.1 L842.8,3765.6 L844.8,3767.1 L846.8,3768.8 L848.8,3770.6 L850.8,3772.5 L852.8,3774.6 L854.8,3776.7 L856.9,3779.0 L858.9,3781.4 L860.9,3783.9 L862.9,3786.5 L864.9,3789.2 L866.9,3792.0 L868.9,3794.9 L870.9,3798.0 L872.9,3801.1 L874.9,3804.3 L876.9,3807.6 L878.9,3811.0 L880.9,3814.5 L882.9,3818.0 L884.9,3821.7 L886.9,3825.4 L888.9,3829.1 L890.9,3833.0 L892.9,3836.9 L894.9,3840.8 L896.9,3844.8 L898.9,3848.9 L900.9,3853.0 L902.9,3857.2 L904.9,3861.4 L906.9,3865.7 L908.9,3870.0 L910.9,3874.4 L912.9,3878.8 L914.9,3883.2 L916.9,3887.7 L918.9,3892.1 L920.9,3896.7 L922.9,3901.2 L924.9,3905.7 L926.9,3910.3 L928.9,3914.9 L930.9,3919.5 L932.9,3924.0 L934.9,3928.6 L936.9,3933.2 L938.9,3937.8 L940.9,3942.3 L942.9,3946.9 L944.9,3951.4 L946.9,3955.9 L948.9,3960.4 L950.9,3964.9 L952.9,3969.3 L954.9,3973.8 L956.9,3978.2 L958.9,3982.6 L960.9,3986.9 L962.9,3991.3 L964.9,3995.5 L967.0,3999.8 L969.0,4004.0 L971.0,4008.2 L973.0,4012.3 L975.0,4016.3 L977.0,4020.3 L979.0,4024.2 L981.0,4028.1 L983.0,4031.9 L985.0,4035.6 L987.0,4039.2 L989.0,4042.9 L991.0,4046.4 L993.0,4049.9 L995.0,4053.4 L997.0,4056.8 L999.0,4060.1 L1001.0,4063.4 L1003.0,4066.7 L1005.0,4069.8 L1007.0,4072.9 L1009.0,4076.0 L1011.0,4079.0 L1013.0,4081.9 L1015.0,4084.8 L1017.0,4087.6 L1019.0,4090.4 L1021.0,4093.1 L1023.0,4095.8 L1025.0,4098.3 L1027.0,4100.9 L1029.0,4103.4 L1031.0,4105.8 L1033.0,4108.1 L1035.0,4110.5 L1037.0,4112.7 L1039.0,4114.9 L1041.0,4117.0 L1043.0,4119.1 L1045.0,4121.2 L1047.0,4123.2 L1049.0,4125.1 L1051.0,4127.0 L1053.0,4128.8 L1055.0,4130.6 L1057.0,4132.3 L1059.0,4134.0 L1061.0,4135.7 L1063.0,4137.3 L1065.0,4138.8 L1067.0,4140.3 L1069.0,4141.8 L1071.0,4143.2 L1073.0,4144.6 L1075.1,4145.9 L1077.1,4147.2 L1079.1,4148.5 L1081.1,4149.7 L1083.1,4150.9 L1085.1,4152.0 L1087.1,4153.1 L1089.1,4154.2 L1091.1,4155.2 L1093.1,4156.2 L1095.1,4157.2 L1097.1,4158.1 L1099.1,4159.0 L1101.1,4159.9 L1103.1,4160.7 L1105.1,4161.5 L1107.1,4162.3 L1109.1,4163.1 L1111.1,4163.8 L1113.1,4164.5 L1115.1,4165.2 L1117.1,4165.9 L1119.1,4166.5 L1121.1,4167.1 L1123.1,4167.7 L1125.1,4168.3 L1127.1,4168.9 L1129.1,4169.4 L1131.1,4169.9 L1133.1,4170.4 L1135.1,4170.9 L1137.1,4171.4 L1139.1,4171.8 L1141.1,4172.2 L1143.1,4172.7 L1145.1,4173.1 L1147.1,4173.4 L1149.1,4173.8 L1151.1,4174.2 L1153.1,4174.5 L1155.1,4174.8 L1157.1,4175.2 L1159.1,4175.5 L1161.1,4175.7 L1163.1,4176.0 L1165.1,4176.3 L1167.1,4176.5 L1169.1,4176.8 L1171.1,4177.0 L1173.1,4177.2 L1175.1,4177.5 L1177.1,4177.7 L1179.1,4177.8 L1181.1,4178.0 L1183.1,4178.2 L1185.2,4178.4 L1187.2,4178.5 L1189.2,4178.7 L1191.2,4178.8 L1193.2,4179.0 L1195.2,4179.1 L1197.2,4179.2 L1199.2,4179.4 L1201.2,4179.5 L1203.2,4179.6 L1205.2,4179.7 L1207.2,4179.8 L1209.2,4179.9 L1211.2,4180.0 L1213.2,4180.1 L1215.2,4180.2 L1217.2,4180.3 L1219.2,4180.4 L1221.2,4180.5 L1223.2,4180.6 L1225.2,4180.6 L1227.2,4180.7 L1229.2,4180.8 L1231.2,4180.8 L1233.2,4180.9 L1235.2,4180.9 L1237.2,4181.0 L1239.2,4181.0 L1241.2,4181.1 L1243.2,4181.1 L1245.2,4181.2" stroke="#00f0f0" stroke-opacity="0.95" stroke-width="5.0" fill="none" stroke-linejoin="round"/>
<path d="M146.2,4123.7 L148.2,4123.7 L150.2,4123.7 L152.2,4123.7 L154.2,4123.7 L156.2,4123.7 L158.2,4123.7 L160.2,4123.7 L162.2,4123.7 L164.2,4123.7 L166.2,4123.7 L168.2,4123.7 L170.2,4123.7 L172.2,4123.7 L174.2,4123.7 L176.2,4123.7 L178.2,4123.7 L180.2,4123.7 L182.2,4123.7 L184.2,4123.7 L186.2,4123.7 L188.2,4123.7 L190.2,4123.7 L192.2,4123.7 L194.2,4123.7 L196.2,4123.7 L198.2,4123.7 L200.2,4123.7 L202.3,4123.7 L204.3,4123.7 L206.3,4123.7 L208.3,4123.7 L210.3,4123.7 L212.3,4123.7 L214.3,4123.7 L216.3,4123.7 L218.3,4123.7 L220.3,4123.7 L222.3,4123.7 L224.3,4123.7 L226.3,4123.7 L228.3,4123.7 L230.3,4123.7 L232.3,4123.7 L234.3,4123.7 L236.3,4123.7 L238.3,4123.7 L240.3,4123.7 L242.3,4123.7 L244.3,4123.7 L246.3,4123.7 L248.3,4123.7 L250.3,4123.7 L252.3,4123.7 L254.3,4123.7 L256.3,4123.7 L258.3,4123.7 L260.3,4123.7 L262.3,4123.7 L264.3,4123.7 L266.3,4123.7 L268.3,4123.7 L270.3,4123.7 L272.3,4123.7 L274.3,4123.7 L276.3,4123.7 L278.3,4123.7 L280.3,4123.7 L282.3,4123.7 L284.3,4123.7 L286.3,4123.7 L288.3,4123.7 L290.3,4123.7 L292.3,4123.7 L294.3,4123.7 L296.3,4123.7 L298.3,4123.7 L300.3,4123.7 L302.3,4123.7 L304.3,4123.7 L306.3,4123.7 L308.3,4123.7 L310.4,4123.7 L312.4,4123.7 L314.4,4123.7 L316.4,4123.7 L318.4,4123.7 L320.4,4123.7 L322.4,4123.8 L324.4,4123.8 L326.4,4123.8 L328.4,4123.8 L330.4,4123.8 L332.4,4123.8 L334.4,4123.8 L336.4,4123.8 L338.4,4123.8 L340.4,4123.8 L342.4,4123.8 L344.4,4123.8 L346.4,4123.8 L348.4,4123.8 L350.4,4123.8 L352.4,4123.8 L354.4,4123.8 L356.4,4123.8 L358.4,4123.8 L360.4,4123.8 L362.4,4123.8 L364.4,4123.8 L366.4,4123.8 L368.4,4123.8 L370.4,4123.8 L372.4,4123.8 L374.4,4123.8 L376.4,4123.8 L378.4,4123.8 L380.4,4123.8 L382.4,4123.8 L384.4,4123.8 L386.4,4123.8 L388.4,4123.8 L390.4,4123.8 L392.4,4123.8 L394.4,4123.8 L396.4,4123.8 L398.4,4123.8 L400.4,4123.8 L402.4,4123.8 L404.4,4123.8 L406.4,4123.8 L408.4,4123.8 L410.4,4123.8 L412.4,4123.8 L414.4,4123.8 L416.4,4123.8 L418.4,4123.8 L420.5,4123.8 L422.5,4123.8 L424.5,4123.8 L426.5,4123.8 L428.5,4123.8 L430.5,4123.8 L432.5,4123.8 L434.5,4123.8 L436.5,4123.8 L438.5,4123.8 L440.5,4123.8 L442.5,4123.8 L444.5,4123.9 L446.5,4123.9 L448.5,4123.9 L450.5,4123.9 L452.5,4123.9 L454.5,4123.9 L456.5,4123.9 L458.5,4123.9 L460.5,4123.9 L462.5,4123.9 L464.5,4123.9 L466.5,4123.9 L468.5,4123.9 L470.5,4123.9 L472.5,4123.9 L474.5,4123.9 L476.5,4123.9 L478.5,4123.9 L480.5,4123.9 L482.5,4123.9 L484.5,4123.9 L486.5,4123.9 L488.5,4123.9 L490.5,4123.9 L492.5,4124.0 L494.5,4124.0 L496.5,4124.0 L498.5,4124.0 L500.5,4124.0 L502.5,4124.0 L504.5,4124.0 L506.5,4124.0 L508.5,4124.0 L510.5,4124.0 L512.5,4124.0 L514.5,4124.0 L516.5,4124.0 L518.5,4124.0 L520.5,4124.0 L522.5,4124.0 L524.5,4124.1 L526.5,4124.1 L528.6,4124.1 L530.6,4124.1 L532.6,4124.1 L534.6,4124.1 L536.6,4124.1 L538.6,4124.1 L540.6,4124.1 L542.6,4124.1 L544.6,4124.1 L546.6,4124.1 L548.6,4124.1 L550.6,4124.2 L552.6,4124.2 L554.6,4124.2 L556.6,4124.2 L558.6,4124.2 L560.6,4124.2 L562.6,4124.2 L564.6,4124.2 L566.6,4124.2 L568.6,4124.3 L570.6,4124.3 L572.6,4124.3 L574.6,4124.3 L576.6,4124.3 L578.6,4124.3 L580.6,4124.4 L582.6,4124.4 L584.6,4124.4 L586.6,4124.4 L588.6,4124.5 L590.6,4124.5 L592.6,4124.5 L594.6,4124.5 L596.6,4124.6 L598.6,4124.6 L600.6,4124.6 L602.6,4124.6 L604.6,4124.7 L606.6,4124.7 L608.6,4124.7 L610.6,4124.8 L612.6,4124.8 L614.6,4124.8 L616.6,4124.9 L618.6,4124.9 L620.6,4125.0 L622.6,4125.0 L624.6,4125.0 L626.6,4125.1 L628.6,4125.1 L630.6,4125.1 L632.6,4125.2 L634.6,4125.2 L636.6,4125.2 L638.7,4125.3 L640.7,4125.3 L642.7,4125.4 L644.7,4125.4 L646.7,4125.4 L648.7,4125.5 L650.7,4125.5 L652.7,4125.6 L654.7,4125.6 L656.7,4125.6 L658.7,4125.7 L660.7,4125.7 L662.7,4125.8 L664.7,4125.8 L666.7,4125.9 L668.7,4125.9 L670.7,4125.9 L672.7,4126.0 L674.7,4126.0 L676.7,4126.1 L678.7,4126.1 L680.7,4126.2 L682.7,4126.2 L684.7,4126.3 L686.7,4126.4 L688.7,4126.4 L690.7,4126.5 L692.7,4126.5 L694.7,4126.6 L696.7,4126.6 L698.7,4126.7 L700.7,4126.8 L702.7,4126.8 L704.7,4126.9 L706.7,4127.0 L708.7,4127.0 L710.7,4127.1 L712.7,4127.1 L714.7,4127.2 L716.7,4127.3 L718.7,4127.4 L720.7,4127.4 L722.7,4127.5 L724.7,4127.6 L726.7,4127.6 L728.7,4127.7 L730.7,4127.8 L732.7,4127.9 L734.7,4128.0 L736.7,4128.0 L738.7,4128.1 L740.7,4128.2 L742.7,4128.3 L744.7,4128.4 L746.8,4128.5 L748.8,4128.5 L750.8,4128.6 L752.8,4128.7 L754.8,4128.8 L756.8,4128.9 L758.8,4129.0 L760.8,4129.1 L762.8,4129.2 L764.8,4129.3 L766.8,4129.4 L768.8,4129.5 L770.8,4129.6 L772.8,4129.8 L774.8,4129.9 L776.8,4130.0 L778.8,4130.1 L780.8,4130.2 L782.8,4130.3 L784.8,4130.5 L786.8,4130.6 L788.8,4130.7 L790.8,4130.9 L792.8,4131.0 L794.8,4131.1 L796.8,4131.3 L798.8,4131.4 L800.8,4131.6 L802.8,4131.7 L804.8,4131.9 L806.8,4132.0 L808.8,4132.2 L810.8,4132.4 L812.8,4132.6 L814.8,4132.8 L816.8,4133.0 L818.8,4133.2 L820.8,4133.4 L822.8,4133.6 L824.8,4133.8 L826.8,4134.1 L828.8,4134.3 L830.8,4134.5 L832.8,4134.8 L834.8,4135.0 L836.8,4135.3 L838.8,4135.6 L840.8,4135.8 L842.8,4136.1 L844.8,4136.4 L846.8,4136.7 L848.8,4136.9 L850.8,4137.2 L852.8,4137.5 L854.8,4137.8 L856.9,4138.2 L858.9,4138.5 L860.9,4138.8 L862.9,4139.2 L864.9,4139.6 L866.9,4140.0 L868.9,4140.3 L870.9,4140.7 L872.9,4141.1 L874.9,4141.6 L876.9,4142.0 L878.9,4142.4 L880.9,4142.8 L882.9,4143.3 L884.9,4143.7 L886.9,4144.1 L888.9,4144.6 L890.9,4145.0 L892.9,4145.4 L894.9,4145.9 L896.9,4146.3 L898.9,4146.8 L900.9,4147.2 L902.9,4147.6 L904.9,4148.1 L906.9,4148.5 L908.9,4149.0 L910.9,4149.5 L912.9,4150.0 L914.9,4150.5 L916.9,4150.9 L918.9,4151.4 L920.9,4151.9 L922.9,4152.4 L924.9,4152.9 L926.9,4153.4 L928.9,4153.9 L930.9,4154.4 L932.9,4154.9 L934.9,4155.4 L936.9,4155.9 L938.9,4156.4 L940.9,4156.9 L942.9,4157.4 L944.9,4157.8 L946.9,4158.3 L948.9,4158.8 L950.9,4159.2 L952.9,4159.7 L954.9,4160.1 L956.9,4160.6 L958.9,4161.1 L960.9,4161.6 L962.9,4162.0 L964.9,4162.5 L967.0,4163.0 L969.0,4163.4 L971.0,4163.8 L973.0,4164.3 L975.0,4164.7 L977.0,4165.1 L979.0,4165.4 L981.0,4165.8 L983.0,4166.1 L985.0,4166.4 L987.0,4166.7 L989.0,4167.0 L991.0,4167.2 L993.0,4167.5 L995.0,4167.8 L997.0,4168.1 L999.0,4168.3 L1001.0,4168.6 L1003.0,4168.8 L1005.0,4169.1 L1007.0,4169.3 L1009.0,4169.5 L1011.0,4169.8 L1013.0,4170.0 L1015.0,4170.2 L1017.0,4170.4 L1019.0,4170.7 L1021.0,4170.9 L1023.0,4171.1 L1025.0,4171.3 L1027.0,4171.5 L1029.0,4171.7 L1031.0,4171.9 L1033.0,4172.0 L1035.0,4172.2 L1037.0,4172.4 L1039.0,4172.6 L1041.0,4172.8 L1043.0,4172.9 L1045.0,4173.1 L1047.0,4173.3 L1049.0,4173.4 L1051.0,4173.6 L1053.0,4173.7 L1055.0,4173.9 L1057.0,4174.0 L1059.0,4174.2 L1061.0,4174.3 L1063.0,4174.5 L1065.0,4174.6 L1067.0,4174.8 L1069.0,4174.9 L1071.0,4175.0 L1073.0,4175.1 L1075.1,4175.3 L1077.1,4175.4 L1079.1,4175.5 L1081.1,4175.7 L1083.1,4175.8 L1085.1,4175.9 L1087.1,4176.0 L1089.1,4176.1 L1091.1,4176.2 L1093.1,4176.4 L1095.1,4176.5 L1097.1,4176.6 L1099.1,4176.7 L1101.1,4176.8 L1103.1,4176.9 L1105.1,4177.0 L1107.1,4177.1 L1109.1,4177.2 L1111.1,4177.3 L1113.1,4177.4 L1115.1,4177.5 L1117.1,4177.6 L1119.1,4177.7 L1121.1,4177.8 L1123.1,4177.9 L1125.1,4178.0 L1127.1,4178.1 L1129.1,4178.2 L1131.1,4178.3 L1133.1,4178.4 L1135.1,4178.5 L1137.1,4178.6 L1139.1,4178.7 L1141.1,4178.8 L1143.1,4178.8 L1145.1,4178.9 L1147.1,4179.0 L1149.1,4179.1 L1151.1,4179.2 L1153.1,4179.3 L1155.1,4179.4 L1157.1,4179.4 L1159.1,4179.5 L1161.1,4179.6 L1163.1,4179.7 L1165.1,4179.7 L1167.1,4179.8 L1169.1,4179.9 L1171.1,4179.9 L1173.1,4180.0 L1175.1,4180.1 L1177.1,4180.1 L1179.1,4180.2 L1181.1,4180.2 L1183.1,4180.3 L1185.2,4180.3 L1187.2,4180.4 L1189.2,4180.4 L1191.2,4180.5 L1193.2,4180.5 L1195.2,4180.6 L1197.2,4180.6 L1199.2,4180.7 L1201.2,4180.7 L1203.2,4180.8 L1205.2,4180.8 L1207.2,4180.9 L1209.2,4180.9 L1211.2,4180.9 L1213.2,4181.0 L1215.2,4181.0 L1217.2,4181.1 L1219.2,4181.1 L1221.2,4181.1 L1223.2,4181.2 L1225.2,4181.2 L1227.2,4181.2 L1229.2,4181.3 L1231.2,4181.3 L1233.2,4181.3 L1235.2,4181.4 L1237.2,4181.4 L1239.2,4181.4 L1241.2,4181.4 L1243.2,4181.4 L1245.2,4181.5 L1247.2,4181.5 L1249.2,4181.5 L1251.2,4181.5 L1253.2,4181.5 L1255.2,4181.5 L1257.2,4181.5 L1259.2,4181.6 L1261.2,4181.6 L1263.2,4181.6 L1265.2,4181.6 L1267.2,4181.6 L1269.2,4181.6 L1271.2,4181.6 L1273.2,4181.6 L1275.2,4181.6 L1277.2,4181.7 L1279.2,4181.7 L1281.2,4181.7 L1283.2,4181.7 L1285.2,4181.7 L1287.2,4181.7 L1289.2,4181.7 L1291.2,4181.7 L1293.3,4181.7 L1295.3,4181.7 L1297.3,4181.8 L1299.3,4181.8 L1301.3,4181.8 L1303.3,4181.8 L1305.3,4181.8 L1307.3,4181.8 L1309.3,4181.8 L1311.3,4181.8 L1313.3,4181.8 L1315.3,4181.8 L1317.3,4181.8 L1319.3,4181.8 L1321.3,4181.9 L1323.3,4181.9 L1325.3,4181.9 L1327.3,4181.9 L1329.3,4181.9 L1331.3,4181.9 L1333.3,4181.9 L1335.3,4181.9 L1337.3,4181.9 L1339.3,4181.9 L1341.3,4181.9 L1343.3,4181.9 L1345.3,4181.9 L1347.3,4181.9 L1349.3,4181.9 L1351.3,4181.9 L1353.3,4181.9 L1355.3,4182.0 L1357.3,4182.0 L1359.3,4182.0 L1361.3,4182.0 L1363.3,4182.0 L1365.3,4182.0 L1367.3,4182.0 L1369.3,4182.0 L1371.3,4182.0 L1373.3,4182.0 L1375.3,4182.0 L1377.3,4182.0 L1379.3,4182.0 L1381.3,4182.0 L1383.3,4182.0 L1385.3,4182.0 L1387.3,4182.0 L1389.3,4182.0 L1391.3,4182.0 L1393.3,4182.0 L1395.3,4182.0 L1397.3,4182.0 L1399.3,4182.0 L1401.3,4182.0 L1403.4,4182.0 L1405.4,4182.0 L1407.4,4182.0 L1409.4,4182.0 L1411.4,4182.0 L1413.4,4182.0 L1415.4,4182.0 L1417.4,4182.0 L1419.4,4182.0 L1421.4,4182.0 L1423.4,4182.0 L1425.4,4182.0 L1427.4,4182.0 L1429.4,4182.0 L1431.4,4182.0 L1433.4,4182.0 L1435.4,4182.0 L1437.4,4182.0 L1439.4,4182.0 L1441.4,4182.0 L1443.4,4182.0 L1445.4,4182.0 L1447.4,4182.0 L1449.4,4182.0 L1451.4,4182.0 L1453.4,4182.0 L1455.4,4182.0 L1457.4,4182.0 L1459.4,4182.0 L1461.4,4182.0 L1463.4,4182.0 L1465.4,4182.0 L1467.4,4182.0 L1469.4,4182.0 L1471.4,4182.0 L1473.4,4182.0 L1475.4,4182.0 L1477.4,4182.0 L1479.4,4182.0 L1481.4,4182.0 L1483.4,4182.0 L1485.4,4182.0 L1487.4,4182.0 L1489.4,4182.0 L1491.4,4182.0 L1493.4,4182.0 L1495.4,4182.0 L1497.4,4182.0 L1499.4,4182.0 L1501.4,4182.0 L1503.4,4182.0 L1505.4,4182.0 L1507.4,4182.0 L1509.4,4182.0 L1511.5,4182.0 L1513.5,4182.0 L1515.5,4182.0 L1517.5,4182.0 L1519.5,4182.0 L1521.5,4182.0 L1523.5,4182.0 L1525.5,4182.0 L1527.5,4182.0 L1529.5,4182.0 L1531.5,4182.0 L1533.5,4182.0 L1535.5,4182.0 L1537.5,4182.0 L1539.5,4182.0 L1541.5,4182.0 L1543.5,4182.0 L1545.5,4182.0 L1547.5,4182.0 L1549.5,4182.0 L1551.5,4182.0 L1553.5,4182.0 L1555.5,4182.0 L1557.5,4182.0 L1559.5,4182.0 L1561.5,4182.0 L1563.5,4182.0 L1565.5,4182.0" stroke="#c0c0c0" stroke-width="5.0" fill="none"/>

</g><path d="M536.6,3633.4L723.0,3865.3" stroke="#000" stroke-width="4.6" fill="none"/><path d="M748.1,3896.5L713.6,3870.3L730.0,3857.2Z" fill="#000"/><path d="M1089.0,3507.7L912.3,3766.3" stroke="#000" stroke-width="4.6" fill="none"/><path d="M889.7,3799.3L904.7,3758.7L922.1,3770.5Z" fill="#000"/><path d="M1177.2,3739.0L1012.1,3863.5" stroke="#000" stroke-width="4.6" fill="none"/><path d="M980.2,3887.6L1007.4,3853.9L1020.1,3870.7Z" fill="#000"/><path d="M1200.5,3927.7L1120.8,3985.5" stroke="#000" stroke-width="4.6" fill="none"/><path d="M1088.4,4009.0L1116.2,3975.8L1128.6,3992.8Z" fill="#000"/><path d="M1289.0,4071.5L1209.9,4130.2" stroke="#000" stroke-width="4.6" fill="none"/><path d="M1177.8,4154.0L1205.3,4120.5L1217.8,4137.4Z" fill="#000"/><text x="433.9" y="3617.2" font-size="59" stroke="#000" stroke-width="0.5">C－O</text><text x="1081.1" y="3476.3" font-size="59" stroke="#000" stroke-width="0.5">C=O</text><text x="1182.8" y="3724.7" font-size="59" stroke="#000" stroke-width="0.5">O－C=O</text><text x="1208.5" y="3907.9" font-size="59" stroke="#000" stroke-width="0.5">C－O－Fe</text><text x="1301" y="4071.5" font-size="59" stroke="#000" stroke-width="0.5">Fe－O</text>
<rect x="145.2" y="3127" width="1421.3" height="1143.0" fill="none" stroke="#000" stroke-width="4.5" stroke-linejoin="miter"/>
<path d="M145.2,4270V4292.7M348.2,4270V4292.7M551.3,4270V4292.7M754.3,4270V4292.7M957.4,4270V4292.7M1160.4,4270V4292.7M1363.5,4270V4292.7M1566.5,4270V4292.7M246.7,4270V4281.8M449.8,4270V4281.8M652.8,4270V4281.8M855.8,4270V4281.8M1058.9,4270V4281.8M1261.9,4270V4281.8M1465.0,4270V4281.8" stroke="#000" stroke-width="4.5" fill="none"/>
<text x="145.2" y="4365.5" font-size="76" text-anchor="middle">540</text>
<text x="348.2" y="4365.5" font-size="76" text-anchor="middle">538</text>
<text x="551.3" y="4365.5" font-size="76" text-anchor="middle">536</text>
<text x="754.3" y="4365.5" font-size="76" text-anchor="middle">534</text>
<text x="957.4" y="4365.5" font-size="76" text-anchor="middle">532</text>
<text x="1160.4" y="4365.5" font-size="76" text-anchor="middle">530</text>
<text x="1363.5" y="4365.5" font-size="76" text-anchor="middle">528</text>
<text x="1566.5" y="4365.5" font-size="76" text-anchor="middle">526</text>
<text x="465.5" y="4507.4" font-size="97.5">Binding energy(eV)</text>
<text x="763.2" y="4623.6" font-size="86">(</text>
<text x="790.9" y="4623.6" font-size="88" font-weight="bold">e</text>
<text x="832.1" y="4623.6" font-size="86">)</text>
<text transform="translate(86.5,3972.0) rotate(-90)" font-size="97.3">Intensity(a.u.)</text>
<text x="1426" y="3205.3" font-size="65.5">O 1s</text>
</svg></body></html>
